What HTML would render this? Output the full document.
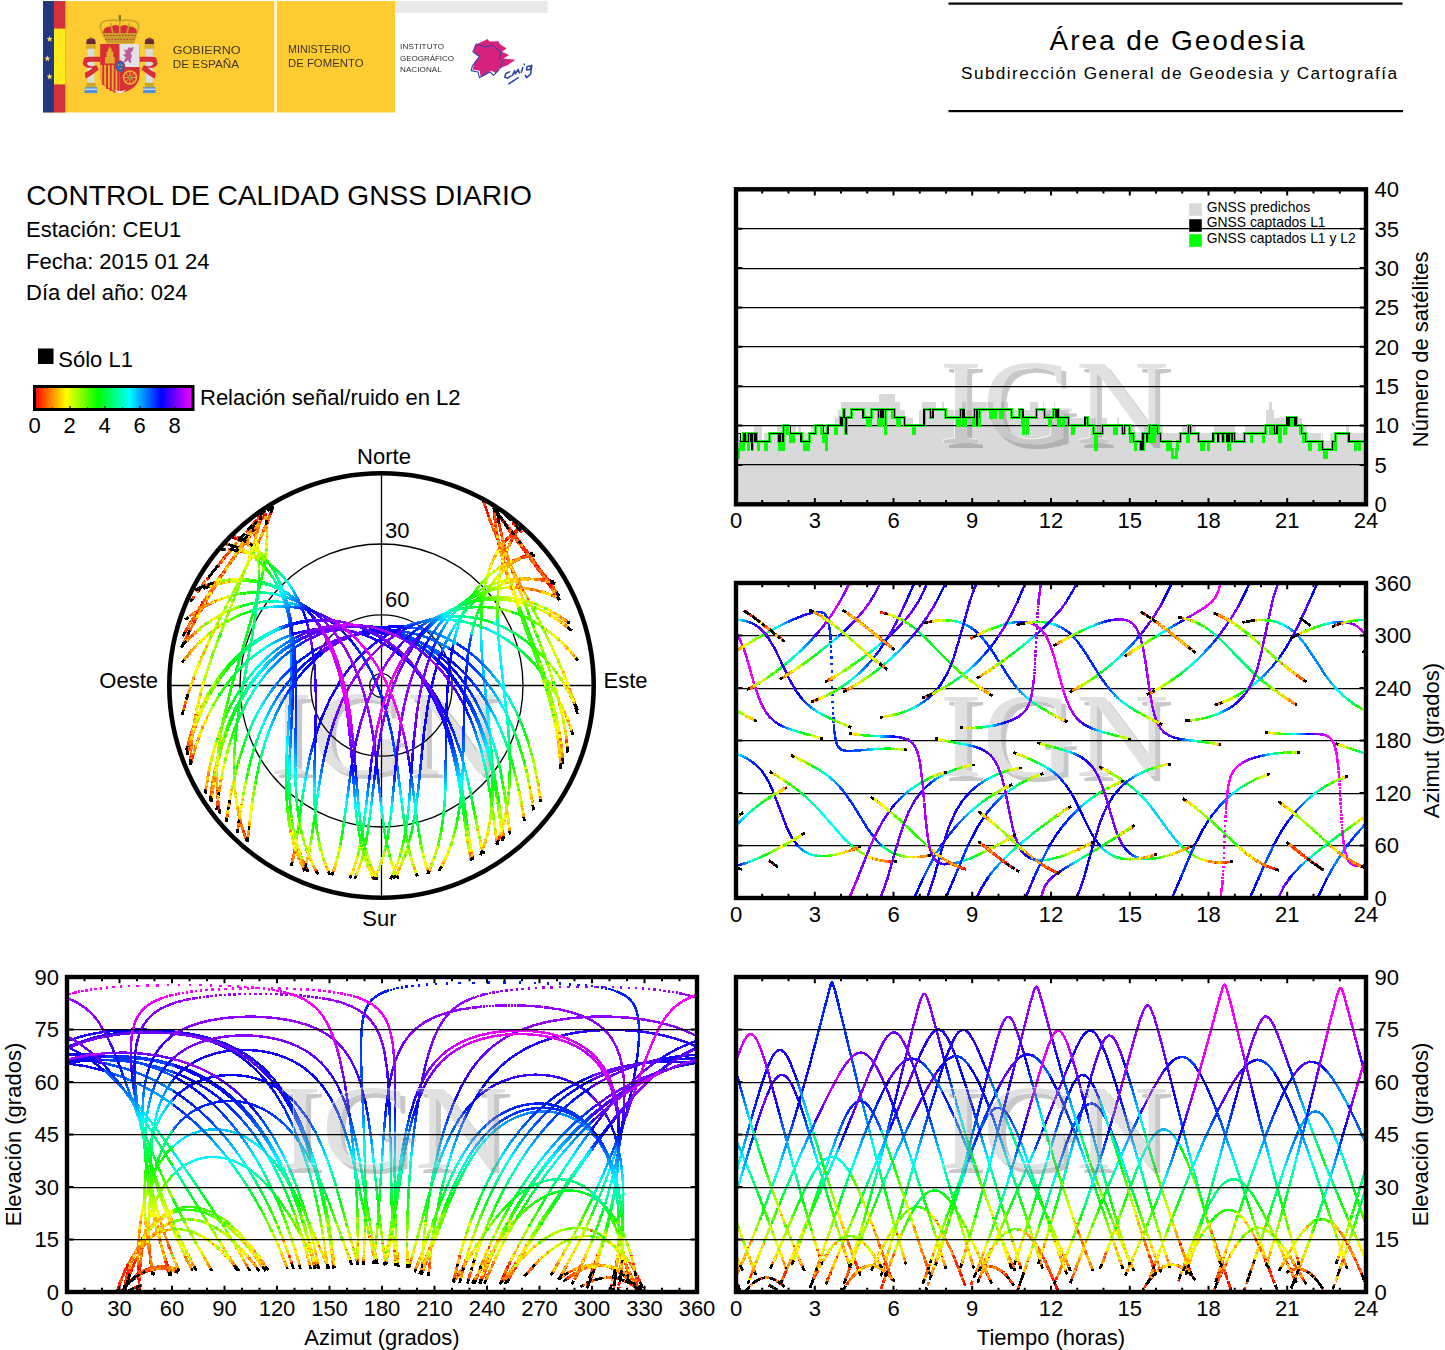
<!DOCTYPE html><html><head><meta charset="utf-8"><title>CONTROL DE CALIDAD GNSS DIARIO</title>
<style>html,body{margin:0;padding:0;background:#fff}svg{display:block}text{font-family:"Liberation Sans",sans-serif;fill:#000}.ser{font-family:"Liberation Serif",serif}</style></head><body>
<svg width="1445" height="1350" viewBox="0 0 1445 1350">
<rect width="1445" height="1350" fill="#fff"/>
<defs>
<clipPath id="cp1"><rect x="736" y="189.3" width="630" height="315"/></clipPath>
<clipPath id="cp2"><rect x="736" y="583" width="630" height="315"/></clipPath>
<clipPath id="cp3"><rect x="67" y="977" width="630" height="315"/></clipPath>
<clipPath id="cp4"><rect x="736" y="977" width="630" height="315"/></clipPath>
<clipPath id="csky"><circle cx="381.5" cy="685.5" r="212.2"/></clipPath>
<linearGradient id="gp30" gradientUnits="userSpaceOnUse" x1="0" y1="977" x2="0" y2="1292"><stop offset="0.0000" stop-color="#0015ff"/><stop offset="0.0222" stop-color="#0018ff"/><stop offset="0.0444" stop-color="#001bff"/><stop offset="0.0667" stop-color="#001eff"/><stop offset="0.0889" stop-color="#0021ff"/><stop offset="0.1111" stop-color="#0023ff"/><stop offset="0.1333" stop-color="#0028ff"/><stop offset="0.1556" stop-color="#002cff"/><stop offset="0.1778" stop-color="#0030ff"/><stop offset="0.2000" stop-color="#0034ff"/><stop offset="0.2222" stop-color="#0039ff"/><stop offset="0.2444" stop-color="#003eff"/><stop offset="0.2667" stop-color="#0044ff"/><stop offset="0.2889" stop-color="#004aff"/><stop offset="0.3111" stop-color="#004fff"/><stop offset="0.3333" stop-color="#0055ff"/><stop offset="0.3556" stop-color="#005eff"/><stop offset="0.3778" stop-color="#0066ff"/><stop offset="0.4000" stop-color="#0071ff"/><stop offset="0.4222" stop-color="#0080ff"/><stop offset="0.4444" stop-color="#008eff"/><stop offset="0.4667" stop-color="#00aaff"/><stop offset="0.4889" stop-color="#00c6ff"/><stop offset="0.5111" stop-color="#00e3ff"/><stop offset="0.5333" stop-color="#00fffe"/><stop offset="0.5556" stop-color="#00ffe1"/><stop offset="0.5778" stop-color="#00ffbe"/><stop offset="0.6000" stop-color="#00ff9b"/><stop offset="0.6222" stop-color="#00ff78"/><stop offset="0.6444" stop-color="#00ff55"/><stop offset="0.6667" stop-color="#00ff33"/><stop offset="0.6889" stop-color="#00ff10"/><stop offset="0.7111" stop-color="#13ff00"/><stop offset="0.7333" stop-color="#39ff00"/><stop offset="0.7556" stop-color="#61ff00"/><stop offset="0.7778" stop-color="#8aff00"/><stop offset="0.8000" stop-color="#acff00"/><stop offset="0.8222" stop-color="#cfff00"/><stop offset="0.8444" stop-color="#f2ff00"/><stop offset="0.8667" stop-color="#ffe900"/><stop offset="0.8889" stop-color="#ffc600"/><stop offset="0.9111" stop-color="#ff8e00"/><stop offset="0.9333" stop-color="#ff6800"/><stop offset="0.9556" stop-color="#ff4a00"/><stop offset="0.9778" stop-color="#ff3300"/><stop offset="1.0000" stop-color="#ff1c00"/></linearGradient>
<linearGradient id="gp40" gradientUnits="userSpaceOnUse" x1="0" y1="977" x2="0" y2="1292"><stop offset="0.0000" stop-color="#0015ff"/><stop offset="0.0222" stop-color="#0018ff"/><stop offset="0.0444" stop-color="#001bff"/><stop offset="0.0667" stop-color="#001eff"/><stop offset="0.0889" stop-color="#0021ff"/><stop offset="0.1111" stop-color="#0023ff"/><stop offset="0.1333" stop-color="#0028ff"/><stop offset="0.1556" stop-color="#002cff"/><stop offset="0.1778" stop-color="#0030ff"/><stop offset="0.2000" stop-color="#0034ff"/><stop offset="0.2222" stop-color="#0039ff"/><stop offset="0.2444" stop-color="#003eff"/><stop offset="0.2667" stop-color="#0044ff"/><stop offset="0.2889" stop-color="#004aff"/><stop offset="0.3111" stop-color="#004fff"/><stop offset="0.3333" stop-color="#0055ff"/><stop offset="0.3556" stop-color="#005eff"/><stop offset="0.3778" stop-color="#0066ff"/><stop offset="0.4000" stop-color="#0071ff"/><stop offset="0.4222" stop-color="#0080ff"/><stop offset="0.4444" stop-color="#008eff"/><stop offset="0.4667" stop-color="#00aaff"/><stop offset="0.4889" stop-color="#00c6ff"/><stop offset="0.5111" stop-color="#00e3ff"/><stop offset="0.5333" stop-color="#00fffe"/><stop offset="0.5556" stop-color="#00ffe1"/><stop offset="0.5778" stop-color="#00ffbe"/><stop offset="0.6000" stop-color="#00ff9b"/><stop offset="0.6222" stop-color="#00ff78"/><stop offset="0.6444" stop-color="#00ff55"/><stop offset="0.6667" stop-color="#00ff33"/><stop offset="0.6889" stop-color="#00ff10"/><stop offset="0.7111" stop-color="#13ff00"/><stop offset="0.7333" stop-color="#39ff00"/><stop offset="0.7556" stop-color="#61ff00"/><stop offset="0.7778" stop-color="#8aff00"/><stop offset="0.8000" stop-color="#acff00"/><stop offset="0.8222" stop-color="#cfff00"/><stop offset="0.8444" stop-color="#f2ff00"/><stop offset="0.8667" stop-color="#ffe900"/><stop offset="0.8889" stop-color="#ffc600"/><stop offset="0.9111" stop-color="#ff8e00"/><stop offset="0.9333" stop-color="#ff6800"/><stop offset="0.9556" stop-color="#ff4a00"/><stop offset="0.9778" stop-color="#ff3300"/><stop offset="1.0000" stop-color="#ff1c00"/></linearGradient>
<radialGradient id="gsky0" gradientUnits="userSpaceOnUse" cx="381.5" cy="685.5" r="212.2"><stop offset="0.0000" stop-color="#0015ff"/><stop offset="0.0222" stop-color="#0018ff"/><stop offset="0.0444" stop-color="#001bff"/><stop offset="0.0667" stop-color="#001eff"/><stop offset="0.0889" stop-color="#0021ff"/><stop offset="0.1111" stop-color="#0023ff"/><stop offset="0.1333" stop-color="#0028ff"/><stop offset="0.1556" stop-color="#002cff"/><stop offset="0.1778" stop-color="#0030ff"/><stop offset="0.2000" stop-color="#0034ff"/><stop offset="0.2222" stop-color="#0039ff"/><stop offset="0.2444" stop-color="#003eff"/><stop offset="0.2667" stop-color="#0044ff"/><stop offset="0.2889" stop-color="#004aff"/><stop offset="0.3111" stop-color="#004fff"/><stop offset="0.3333" stop-color="#0055ff"/><stop offset="0.3556" stop-color="#005eff"/><stop offset="0.3778" stop-color="#0066ff"/><stop offset="0.4000" stop-color="#0071ff"/><stop offset="0.4222" stop-color="#0080ff"/><stop offset="0.4444" stop-color="#008eff"/><stop offset="0.4667" stop-color="#00aaff"/><stop offset="0.4889" stop-color="#00c6ff"/><stop offset="0.5111" stop-color="#00e3ff"/><stop offset="0.5333" stop-color="#00fffe"/><stop offset="0.5556" stop-color="#00ffe1"/><stop offset="0.5778" stop-color="#00ffbe"/><stop offset="0.6000" stop-color="#00ff9b"/><stop offset="0.6222" stop-color="#00ff78"/><stop offset="0.6444" stop-color="#00ff55"/><stop offset="0.6667" stop-color="#00ff33"/><stop offset="0.6889" stop-color="#00ff10"/><stop offset="0.7111" stop-color="#13ff00"/><stop offset="0.7333" stop-color="#39ff00"/><stop offset="0.7556" stop-color="#61ff00"/><stop offset="0.7778" stop-color="#8aff00"/><stop offset="0.8000" stop-color="#acff00"/><stop offset="0.8222" stop-color="#cfff00"/><stop offset="0.8444" stop-color="#f2ff00"/><stop offset="0.8667" stop-color="#ffe900"/><stop offset="0.8889" stop-color="#ffc600"/><stop offset="0.9111" stop-color="#ff8e00"/><stop offset="0.9333" stop-color="#ff6800"/><stop offset="0.9556" stop-color="#ff4a00"/><stop offset="0.9778" stop-color="#ff3300"/><stop offset="1.0000" stop-color="#ff1c00"/></radialGradient>
<linearGradient id="gp31" gradientUnits="userSpaceOnUse" x1="0" y1="977" x2="0" y2="1292"><stop offset="0.0000" stop-color="#0015ff"/><stop offset="0.0222" stop-color="#001cff"/><stop offset="0.0444" stop-color="#0022ff"/><stop offset="0.0667" stop-color="#0029ff"/><stop offset="0.0889" stop-color="#0030ff"/><stop offset="0.1111" stop-color="#0036ff"/><stop offset="0.1333" stop-color="#003eff"/><stop offset="0.1556" stop-color="#0046ff"/><stop offset="0.1778" stop-color="#0052ff"/><stop offset="0.2000" stop-color="#0062ff"/><stop offset="0.2222" stop-color="#0071ff"/><stop offset="0.2444" stop-color="#0082ff"/><stop offset="0.2667" stop-color="#0093ff"/><stop offset="0.2889" stop-color="#00a4ff"/><stop offset="0.3111" stop-color="#00b5ff"/><stop offset="0.3333" stop-color="#00c6ff"/><stop offset="0.3556" stop-color="#00deff"/><stop offset="0.3778" stop-color="#00f6ff"/><stop offset="0.4000" stop-color="#00ffee"/><stop offset="0.4222" stop-color="#00ffd1"/><stop offset="0.4444" stop-color="#00ffb3"/><stop offset="0.4667" stop-color="#00ff88"/><stop offset="0.4889" stop-color="#00ff5d"/><stop offset="0.5111" stop-color="#00ff39"/><stop offset="0.5333" stop-color="#00ff1e"/><stop offset="0.5556" stop-color="#00ff03"/><stop offset="0.5778" stop-color="#1eff00"/><stop offset="0.6000" stop-color="#3fff00"/><stop offset="0.6222" stop-color="#60ff00"/><stop offset="0.6444" stop-color="#81ff00"/><stop offset="0.6667" stop-color="#a2ff00"/><stop offset="0.6889" stop-color="#bdff00"/><stop offset="0.7111" stop-color="#d8ff00"/><stop offset="0.7333" stop-color="#f7ff00"/><stop offset="0.7556" stop-color="#ffe700"/><stop offset="0.7778" stop-color="#ffc600"/><stop offset="0.8000" stop-color="#ffaa00"/><stop offset="0.8222" stop-color="#ff8f00"/><stop offset="0.8444" stop-color="#ff7a00"/><stop offset="0.8667" stop-color="#ff6c00"/><stop offset="0.8889" stop-color="#ff5d00"/><stop offset="0.9111" stop-color="#ff3900"/><stop offset="0.9333" stop-color="#ff1e00"/><stop offset="0.9556" stop-color="#ff0a00"/><stop offset="0.9778" stop-color="#ff0000"/><stop offset="1.0000" stop-color="#ff0000"/></linearGradient>
<linearGradient id="gp41" gradientUnits="userSpaceOnUse" x1="0" y1="977" x2="0" y2="1292"><stop offset="0.0000" stop-color="#0015ff"/><stop offset="0.0222" stop-color="#001cff"/><stop offset="0.0444" stop-color="#0022ff"/><stop offset="0.0667" stop-color="#0029ff"/><stop offset="0.0889" stop-color="#0030ff"/><stop offset="0.1111" stop-color="#0036ff"/><stop offset="0.1333" stop-color="#003eff"/><stop offset="0.1556" stop-color="#0046ff"/><stop offset="0.1778" stop-color="#0052ff"/><stop offset="0.2000" stop-color="#0062ff"/><stop offset="0.2222" stop-color="#0071ff"/><stop offset="0.2444" stop-color="#0082ff"/><stop offset="0.2667" stop-color="#0093ff"/><stop offset="0.2889" stop-color="#00a4ff"/><stop offset="0.3111" stop-color="#00b5ff"/><stop offset="0.3333" stop-color="#00c6ff"/><stop offset="0.3556" stop-color="#00deff"/><stop offset="0.3778" stop-color="#00f6ff"/><stop offset="0.4000" stop-color="#00ffee"/><stop offset="0.4222" stop-color="#00ffd1"/><stop offset="0.4444" stop-color="#00ffb3"/><stop offset="0.4667" stop-color="#00ff88"/><stop offset="0.4889" stop-color="#00ff5d"/><stop offset="0.5111" stop-color="#00ff39"/><stop offset="0.5333" stop-color="#00ff1e"/><stop offset="0.5556" stop-color="#00ff03"/><stop offset="0.5778" stop-color="#1eff00"/><stop offset="0.6000" stop-color="#3fff00"/><stop offset="0.6222" stop-color="#60ff00"/><stop offset="0.6444" stop-color="#81ff00"/><stop offset="0.6667" stop-color="#a2ff00"/><stop offset="0.6889" stop-color="#bdff00"/><stop offset="0.7111" stop-color="#d8ff00"/><stop offset="0.7333" stop-color="#f7ff00"/><stop offset="0.7556" stop-color="#ffe700"/><stop offset="0.7778" stop-color="#ffc600"/><stop offset="0.8000" stop-color="#ffaa00"/><stop offset="0.8222" stop-color="#ff8f00"/><stop offset="0.8444" stop-color="#ff7a00"/><stop offset="0.8667" stop-color="#ff6c00"/><stop offset="0.8889" stop-color="#ff5d00"/><stop offset="0.9111" stop-color="#ff3900"/><stop offset="0.9333" stop-color="#ff1e00"/><stop offset="0.9556" stop-color="#ff0a00"/><stop offset="0.9778" stop-color="#ff0000"/><stop offset="1.0000" stop-color="#ff0000"/></linearGradient>
<radialGradient id="gsky1" gradientUnits="userSpaceOnUse" cx="381.5" cy="685.5" r="212.2"><stop offset="0.0000" stop-color="#0015ff"/><stop offset="0.0222" stop-color="#001cff"/><stop offset="0.0444" stop-color="#0022ff"/><stop offset="0.0667" stop-color="#0029ff"/><stop offset="0.0889" stop-color="#0030ff"/><stop offset="0.1111" stop-color="#0036ff"/><stop offset="0.1333" stop-color="#003eff"/><stop offset="0.1556" stop-color="#0046ff"/><stop offset="0.1778" stop-color="#0052ff"/><stop offset="0.2000" stop-color="#0062ff"/><stop offset="0.2222" stop-color="#0071ff"/><stop offset="0.2444" stop-color="#0082ff"/><stop offset="0.2667" stop-color="#0093ff"/><stop offset="0.2889" stop-color="#00a4ff"/><stop offset="0.3111" stop-color="#00b5ff"/><stop offset="0.3333" stop-color="#00c6ff"/><stop offset="0.3556" stop-color="#00deff"/><stop offset="0.3778" stop-color="#00f6ff"/><stop offset="0.4000" stop-color="#00ffee"/><stop offset="0.4222" stop-color="#00ffd1"/><stop offset="0.4444" stop-color="#00ffb3"/><stop offset="0.4667" stop-color="#00ff88"/><stop offset="0.4889" stop-color="#00ff5d"/><stop offset="0.5111" stop-color="#00ff39"/><stop offset="0.5333" stop-color="#00ff1e"/><stop offset="0.5556" stop-color="#00ff03"/><stop offset="0.5778" stop-color="#1eff00"/><stop offset="0.6000" stop-color="#3fff00"/><stop offset="0.6222" stop-color="#60ff00"/><stop offset="0.6444" stop-color="#81ff00"/><stop offset="0.6667" stop-color="#a2ff00"/><stop offset="0.6889" stop-color="#bdff00"/><stop offset="0.7111" stop-color="#d8ff00"/><stop offset="0.7333" stop-color="#f7ff00"/><stop offset="0.7556" stop-color="#ffe700"/><stop offset="0.7778" stop-color="#ffc600"/><stop offset="0.8000" stop-color="#ffaa00"/><stop offset="0.8222" stop-color="#ff8f00"/><stop offset="0.8444" stop-color="#ff7a00"/><stop offset="0.8667" stop-color="#ff6c00"/><stop offset="0.8889" stop-color="#ff5d00"/><stop offset="0.9111" stop-color="#ff3900"/><stop offset="0.9333" stop-color="#ff1e00"/><stop offset="0.9556" stop-color="#ff0a00"/><stop offset="0.9778" stop-color="#ff0000"/><stop offset="1.0000" stop-color="#ff0000"/></radialGradient>
<linearGradient id="gp32" gradientUnits="userSpaceOnUse" x1="0" y1="977" x2="0" y2="1292"><stop offset="0.0000" stop-color="#0015ff"/><stop offset="0.0222" stop-color="#0018ff"/><stop offset="0.0444" stop-color="#001bff"/><stop offset="0.0667" stop-color="#001eff"/><stop offset="0.0889" stop-color="#0021ff"/><stop offset="0.1111" stop-color="#0023ff"/><stop offset="0.1333" stop-color="#0028ff"/><stop offset="0.1556" stop-color="#002cff"/><stop offset="0.1778" stop-color="#0029ff"/><stop offset="0.2000" stop-color="#001eff"/><stop offset="0.2222" stop-color="#0013ff"/><stop offset="0.2444" stop-color="#0009ff"/><stop offset="0.2667" stop-color="#0000ff"/><stop offset="0.2889" stop-color="#0900ff"/><stop offset="0.3111" stop-color="#1300ff"/><stop offset="0.3333" stop-color="#1c00ff"/><stop offset="0.3556" stop-color="#1400ff"/><stop offset="0.3778" stop-color="#0b00ff"/><stop offset="0.4000" stop-color="#0000ff"/><stop offset="0.4222" stop-color="#000eff"/><stop offset="0.4444" stop-color="#001cff"/><stop offset="0.4667" stop-color="#0039ff"/><stop offset="0.4889" stop-color="#0055ff"/><stop offset="0.5111" stop-color="#0072ff"/><stop offset="0.5333" stop-color="#008fff"/><stop offset="0.5556" stop-color="#00acff"/><stop offset="0.5778" stop-color="#00cfff"/><stop offset="0.6000" stop-color="#00f2ff"/><stop offset="0.6222" stop-color="#00ffea"/><stop offset="0.6444" stop-color="#00ffc7"/><stop offset="0.6667" stop-color="#00ffa4"/><stop offset="0.6889" stop-color="#00ff81"/><stop offset="0.7111" stop-color="#00ff5e"/><stop offset="0.7333" stop-color="#00ff31"/><stop offset="0.7556" stop-color="#06ff00"/><stop offset="0.7778" stop-color="#3eff00"/><stop offset="0.8000" stop-color="#70ff00"/><stop offset="0.8222" stop-color="#a2ff00"/><stop offset="0.8444" stop-color="#d4ff00"/><stop offset="0.8667" stop-color="#fff800"/><stop offset="0.8889" stop-color="#ffc600"/><stop offset="0.9111" stop-color="#ff8e00"/><stop offset="0.9333" stop-color="#ff6800"/><stop offset="0.9556" stop-color="#ff4a00"/><stop offset="0.9778" stop-color="#ff3300"/><stop offset="1.0000" stop-color="#ff1c00"/></linearGradient>
<linearGradient id="gp42" gradientUnits="userSpaceOnUse" x1="0" y1="977" x2="0" y2="1292"><stop offset="0.0000" stop-color="#0015ff"/><stop offset="0.0222" stop-color="#0018ff"/><stop offset="0.0444" stop-color="#001bff"/><stop offset="0.0667" stop-color="#001eff"/><stop offset="0.0889" stop-color="#0021ff"/><stop offset="0.1111" stop-color="#0023ff"/><stop offset="0.1333" stop-color="#0028ff"/><stop offset="0.1556" stop-color="#002cff"/><stop offset="0.1778" stop-color="#0029ff"/><stop offset="0.2000" stop-color="#001eff"/><stop offset="0.2222" stop-color="#0013ff"/><stop offset="0.2444" stop-color="#0009ff"/><stop offset="0.2667" stop-color="#0000ff"/><stop offset="0.2889" stop-color="#0900ff"/><stop offset="0.3111" stop-color="#1300ff"/><stop offset="0.3333" stop-color="#1c00ff"/><stop offset="0.3556" stop-color="#1400ff"/><stop offset="0.3778" stop-color="#0b00ff"/><stop offset="0.4000" stop-color="#0000ff"/><stop offset="0.4222" stop-color="#000eff"/><stop offset="0.4444" stop-color="#001cff"/><stop offset="0.4667" stop-color="#0039ff"/><stop offset="0.4889" stop-color="#0055ff"/><stop offset="0.5111" stop-color="#0072ff"/><stop offset="0.5333" stop-color="#008fff"/><stop offset="0.5556" stop-color="#00acff"/><stop offset="0.5778" stop-color="#00cfff"/><stop offset="0.6000" stop-color="#00f2ff"/><stop offset="0.6222" stop-color="#00ffea"/><stop offset="0.6444" stop-color="#00ffc7"/><stop offset="0.6667" stop-color="#00ffa4"/><stop offset="0.6889" stop-color="#00ff81"/><stop offset="0.7111" stop-color="#00ff5e"/><stop offset="0.7333" stop-color="#00ff31"/><stop offset="0.7556" stop-color="#06ff00"/><stop offset="0.7778" stop-color="#3eff00"/><stop offset="0.8000" stop-color="#70ff00"/><stop offset="0.8222" stop-color="#a2ff00"/><stop offset="0.8444" stop-color="#d4ff00"/><stop offset="0.8667" stop-color="#fff800"/><stop offset="0.8889" stop-color="#ffc600"/><stop offset="0.9111" stop-color="#ff8e00"/><stop offset="0.9333" stop-color="#ff6800"/><stop offset="0.9556" stop-color="#ff4a00"/><stop offset="0.9778" stop-color="#ff3300"/><stop offset="1.0000" stop-color="#ff1c00"/></linearGradient>
<radialGradient id="gsky2" gradientUnits="userSpaceOnUse" cx="381.5" cy="685.5" r="212.2"><stop offset="0.0000" stop-color="#0015ff"/><stop offset="0.0222" stop-color="#0018ff"/><stop offset="0.0444" stop-color="#001bff"/><stop offset="0.0667" stop-color="#001eff"/><stop offset="0.0889" stop-color="#0021ff"/><stop offset="0.1111" stop-color="#0023ff"/><stop offset="0.1333" stop-color="#0028ff"/><stop offset="0.1556" stop-color="#002cff"/><stop offset="0.1778" stop-color="#0029ff"/><stop offset="0.2000" stop-color="#001eff"/><stop offset="0.2222" stop-color="#0013ff"/><stop offset="0.2444" stop-color="#0009ff"/><stop offset="0.2667" stop-color="#0000ff"/><stop offset="0.2889" stop-color="#0900ff"/><stop offset="0.3111" stop-color="#1300ff"/><stop offset="0.3333" stop-color="#1c00ff"/><stop offset="0.3556" stop-color="#1400ff"/><stop offset="0.3778" stop-color="#0b00ff"/><stop offset="0.4000" stop-color="#0000ff"/><stop offset="0.4222" stop-color="#000eff"/><stop offset="0.4444" stop-color="#001cff"/><stop offset="0.4667" stop-color="#0039ff"/><stop offset="0.4889" stop-color="#0055ff"/><stop offset="0.5111" stop-color="#0072ff"/><stop offset="0.5333" stop-color="#008fff"/><stop offset="0.5556" stop-color="#00acff"/><stop offset="0.5778" stop-color="#00cfff"/><stop offset="0.6000" stop-color="#00f2ff"/><stop offset="0.6222" stop-color="#00ffea"/><stop offset="0.6444" stop-color="#00ffc7"/><stop offset="0.6667" stop-color="#00ffa4"/><stop offset="0.6889" stop-color="#00ff81"/><stop offset="0.7111" stop-color="#00ff5e"/><stop offset="0.7333" stop-color="#00ff31"/><stop offset="0.7556" stop-color="#06ff00"/><stop offset="0.7778" stop-color="#3eff00"/><stop offset="0.8000" stop-color="#70ff00"/><stop offset="0.8222" stop-color="#a2ff00"/><stop offset="0.8444" stop-color="#d4ff00"/><stop offset="0.8667" stop-color="#fff800"/><stop offset="0.8889" stop-color="#ffc600"/><stop offset="0.9111" stop-color="#ff8e00"/><stop offset="0.9333" stop-color="#ff6800"/><stop offset="0.9556" stop-color="#ff4a00"/><stop offset="0.9778" stop-color="#ff3300"/><stop offset="1.0000" stop-color="#ff1c00"/></radialGradient>
<linearGradient id="gp33" gradientUnits="userSpaceOnUse" x1="0" y1="977" x2="0" y2="1292"><stop offset="0.0000" stop-color="#4000ff"/><stop offset="0.0222" stop-color="#3d00ff"/><stop offset="0.0444" stop-color="#3a00ff"/><stop offset="0.0667" stop-color="#3700ff"/><stop offset="0.0889" stop-color="#3400ff"/><stop offset="0.1111" stop-color="#3200ff"/><stop offset="0.1333" stop-color="#2d00ff"/><stop offset="0.1556" stop-color="#2900ff"/><stop offset="0.1778" stop-color="#2500ff"/><stop offset="0.2000" stop-color="#2100ff"/><stop offset="0.2222" stop-color="#1c00ff"/><stop offset="0.2444" stop-color="#1700ff"/><stop offset="0.2667" stop-color="#1100ff"/><stop offset="0.2889" stop-color="#0b00ff"/><stop offset="0.3111" stop-color="#0600ff"/><stop offset="0.3333" stop-color="#0000ff"/><stop offset="0.3556" stop-color="#0008ff"/><stop offset="0.3778" stop-color="#0011ff"/><stop offset="0.4000" stop-color="#001cff"/><stop offset="0.4222" stop-color="#002bff"/><stop offset="0.4444" stop-color="#0039ff"/><stop offset="0.4667" stop-color="#0055ff"/><stop offset="0.4889" stop-color="#0071ff"/><stop offset="0.5111" stop-color="#0091ff"/><stop offset="0.5333" stop-color="#00b2ff"/><stop offset="0.5556" stop-color="#00d4ff"/><stop offset="0.5778" stop-color="#00fcff"/><stop offset="0.6000" stop-color="#00ffda"/><stop offset="0.6222" stop-color="#00ffb3"/><stop offset="0.6444" stop-color="#00ff8b"/><stop offset="0.6667" stop-color="#00ff63"/><stop offset="0.6889" stop-color="#00ff3b"/><stop offset="0.7111" stop-color="#00ff14"/><stop offset="0.7333" stop-color="#17ff00"/><stop offset="0.7556" stop-color="#44ff00"/><stop offset="0.7778" stop-color="#71ff00"/><stop offset="0.8000" stop-color="#99ff00"/><stop offset="0.8222" stop-color="#c1ff00"/><stop offset="0.8444" stop-color="#e8ff00"/><stop offset="0.8667" stop-color="#ffee00"/><stop offset="0.8889" stop-color="#ffc600"/><stop offset="0.9111" stop-color="#ff8e00"/><stop offset="0.9333" stop-color="#ff6800"/><stop offset="0.9556" stop-color="#ff4a00"/><stop offset="0.9778" stop-color="#ff3300"/><stop offset="1.0000" stop-color="#ff1c00"/></linearGradient>
<linearGradient id="gp43" gradientUnits="userSpaceOnUse" x1="0" y1="977" x2="0" y2="1292"><stop offset="0.0000" stop-color="#4000ff"/><stop offset="0.0222" stop-color="#3d00ff"/><stop offset="0.0444" stop-color="#3a00ff"/><stop offset="0.0667" stop-color="#3700ff"/><stop offset="0.0889" stop-color="#3400ff"/><stop offset="0.1111" stop-color="#3200ff"/><stop offset="0.1333" stop-color="#2d00ff"/><stop offset="0.1556" stop-color="#2900ff"/><stop offset="0.1778" stop-color="#2500ff"/><stop offset="0.2000" stop-color="#2100ff"/><stop offset="0.2222" stop-color="#1c00ff"/><stop offset="0.2444" stop-color="#1700ff"/><stop offset="0.2667" stop-color="#1100ff"/><stop offset="0.2889" stop-color="#0b00ff"/><stop offset="0.3111" stop-color="#0600ff"/><stop offset="0.3333" stop-color="#0000ff"/><stop offset="0.3556" stop-color="#0008ff"/><stop offset="0.3778" stop-color="#0011ff"/><stop offset="0.4000" stop-color="#001cff"/><stop offset="0.4222" stop-color="#002bff"/><stop offset="0.4444" stop-color="#0039ff"/><stop offset="0.4667" stop-color="#0055ff"/><stop offset="0.4889" stop-color="#0071ff"/><stop offset="0.5111" stop-color="#0091ff"/><stop offset="0.5333" stop-color="#00b2ff"/><stop offset="0.5556" stop-color="#00d4ff"/><stop offset="0.5778" stop-color="#00fcff"/><stop offset="0.6000" stop-color="#00ffda"/><stop offset="0.6222" stop-color="#00ffb3"/><stop offset="0.6444" stop-color="#00ff8b"/><stop offset="0.6667" stop-color="#00ff63"/><stop offset="0.6889" stop-color="#00ff3b"/><stop offset="0.7111" stop-color="#00ff14"/><stop offset="0.7333" stop-color="#17ff00"/><stop offset="0.7556" stop-color="#44ff00"/><stop offset="0.7778" stop-color="#71ff00"/><stop offset="0.8000" stop-color="#99ff00"/><stop offset="0.8222" stop-color="#c1ff00"/><stop offset="0.8444" stop-color="#e8ff00"/><stop offset="0.8667" stop-color="#ffee00"/><stop offset="0.8889" stop-color="#ffc600"/><stop offset="0.9111" stop-color="#ff8e00"/><stop offset="0.9333" stop-color="#ff6800"/><stop offset="0.9556" stop-color="#ff4a00"/><stop offset="0.9778" stop-color="#ff3300"/><stop offset="1.0000" stop-color="#ff1c00"/></linearGradient>
<radialGradient id="gsky3" gradientUnits="userSpaceOnUse" cx="381.5" cy="685.5" r="212.2"><stop offset="0.0000" stop-color="#4000ff"/><stop offset="0.0222" stop-color="#3d00ff"/><stop offset="0.0444" stop-color="#3a00ff"/><stop offset="0.0667" stop-color="#3700ff"/><stop offset="0.0889" stop-color="#3400ff"/><stop offset="0.1111" stop-color="#3200ff"/><stop offset="0.1333" stop-color="#2d00ff"/><stop offset="0.1556" stop-color="#2900ff"/><stop offset="0.1778" stop-color="#2500ff"/><stop offset="0.2000" stop-color="#2100ff"/><stop offset="0.2222" stop-color="#1c00ff"/><stop offset="0.2444" stop-color="#1700ff"/><stop offset="0.2667" stop-color="#1100ff"/><stop offset="0.2889" stop-color="#0b00ff"/><stop offset="0.3111" stop-color="#0600ff"/><stop offset="0.3333" stop-color="#0000ff"/><stop offset="0.3556" stop-color="#0008ff"/><stop offset="0.3778" stop-color="#0011ff"/><stop offset="0.4000" stop-color="#001cff"/><stop offset="0.4222" stop-color="#002bff"/><stop offset="0.4444" stop-color="#0039ff"/><stop offset="0.4667" stop-color="#0055ff"/><stop offset="0.4889" stop-color="#0071ff"/><stop offset="0.5111" stop-color="#0091ff"/><stop offset="0.5333" stop-color="#00b2ff"/><stop offset="0.5556" stop-color="#00d4ff"/><stop offset="0.5778" stop-color="#00fcff"/><stop offset="0.6000" stop-color="#00ffda"/><stop offset="0.6222" stop-color="#00ffb3"/><stop offset="0.6444" stop-color="#00ff8b"/><stop offset="0.6667" stop-color="#00ff63"/><stop offset="0.6889" stop-color="#00ff3b"/><stop offset="0.7111" stop-color="#00ff14"/><stop offset="0.7333" stop-color="#17ff00"/><stop offset="0.7556" stop-color="#44ff00"/><stop offset="0.7778" stop-color="#71ff00"/><stop offset="0.8000" stop-color="#99ff00"/><stop offset="0.8222" stop-color="#c1ff00"/><stop offset="0.8444" stop-color="#e8ff00"/><stop offset="0.8667" stop-color="#ffee00"/><stop offset="0.8889" stop-color="#ffc600"/><stop offset="0.9111" stop-color="#ff8e00"/><stop offset="0.9333" stop-color="#ff6800"/><stop offset="0.9556" stop-color="#ff4a00"/><stop offset="0.9778" stop-color="#ff3300"/><stop offset="1.0000" stop-color="#ff1c00"/></radialGradient>
<linearGradient id="gp34" gradientUnits="userSpaceOnUse" x1="0" y1="977" x2="0" y2="1292"><stop offset="0.0000" stop-color="#4000ff"/><stop offset="0.0222" stop-color="#3900ff"/><stop offset="0.0444" stop-color="#3300ff"/><stop offset="0.0667" stop-color="#2c00ff"/><stop offset="0.0889" stop-color="#2500ff"/><stop offset="0.1111" stop-color="#1f00ff"/><stop offset="0.1333" stop-color="#1700ff"/><stop offset="0.1556" stop-color="#0f00ff"/><stop offset="0.1778" stop-color="#0300ff"/><stop offset="0.2000" stop-color="#000dff"/><stop offset="0.2222" stop-color="#001cff"/><stop offset="0.2444" stop-color="#002dff"/><stop offset="0.2667" stop-color="#003eff"/><stop offset="0.2889" stop-color="#004fff"/><stop offset="0.3111" stop-color="#0060ff"/><stop offset="0.3333" stop-color="#0071ff"/><stop offset="0.3556" stop-color="#0089ff"/><stop offset="0.3778" stop-color="#00a1ff"/><stop offset="0.4000" stop-color="#00bbff"/><stop offset="0.4222" stop-color="#00d8ff"/><stop offset="0.4444" stop-color="#00f6ff"/><stop offset="0.4667" stop-color="#00ffdd"/><stop offset="0.4889" stop-color="#00ffb2"/><stop offset="0.5111" stop-color="#00ff8c"/><stop offset="0.5333" stop-color="#00ff6c"/><stop offset="0.5556" stop-color="#00ff4c"/><stop offset="0.5778" stop-color="#00ff26"/><stop offset="0.6000" stop-color="#00ff00"/><stop offset="0.6222" stop-color="#26ff00"/><stop offset="0.6444" stop-color="#4cff00"/><stop offset="0.6667" stop-color="#71ff00"/><stop offset="0.6889" stop-color="#91ff00"/><stop offset="0.7111" stop-color="#b2ff00"/><stop offset="0.7333" stop-color="#d5ff00"/><stop offset="0.7556" stop-color="#faff00"/><stop offset="0.7778" stop-color="#ffde00"/><stop offset="0.8000" stop-color="#ffbe00"/><stop offset="0.8222" stop-color="#ff9e00"/><stop offset="0.8444" stop-color="#ff8400"/><stop offset="0.8667" stop-color="#ff7100"/><stop offset="0.8889" stop-color="#ff5d00"/><stop offset="0.9111" stop-color="#ff3900"/><stop offset="0.9333" stop-color="#ff1e00"/><stop offset="0.9556" stop-color="#ff0a00"/><stop offset="0.9778" stop-color="#ff0000"/><stop offset="1.0000" stop-color="#ff0000"/></linearGradient>
<linearGradient id="gp44" gradientUnits="userSpaceOnUse" x1="0" y1="977" x2="0" y2="1292"><stop offset="0.0000" stop-color="#4000ff"/><stop offset="0.0222" stop-color="#3900ff"/><stop offset="0.0444" stop-color="#3300ff"/><stop offset="0.0667" stop-color="#2c00ff"/><stop offset="0.0889" stop-color="#2500ff"/><stop offset="0.1111" stop-color="#1f00ff"/><stop offset="0.1333" stop-color="#1700ff"/><stop offset="0.1556" stop-color="#0f00ff"/><stop offset="0.1778" stop-color="#0300ff"/><stop offset="0.2000" stop-color="#000dff"/><stop offset="0.2222" stop-color="#001cff"/><stop offset="0.2444" stop-color="#002dff"/><stop offset="0.2667" stop-color="#003eff"/><stop offset="0.2889" stop-color="#004fff"/><stop offset="0.3111" stop-color="#0060ff"/><stop offset="0.3333" stop-color="#0071ff"/><stop offset="0.3556" stop-color="#0089ff"/><stop offset="0.3778" stop-color="#00a1ff"/><stop offset="0.4000" stop-color="#00bbff"/><stop offset="0.4222" stop-color="#00d8ff"/><stop offset="0.4444" stop-color="#00f6ff"/><stop offset="0.4667" stop-color="#00ffdd"/><stop offset="0.4889" stop-color="#00ffb2"/><stop offset="0.5111" stop-color="#00ff8c"/><stop offset="0.5333" stop-color="#00ff6c"/><stop offset="0.5556" stop-color="#00ff4c"/><stop offset="0.5778" stop-color="#00ff26"/><stop offset="0.6000" stop-color="#00ff00"/><stop offset="0.6222" stop-color="#26ff00"/><stop offset="0.6444" stop-color="#4cff00"/><stop offset="0.6667" stop-color="#71ff00"/><stop offset="0.6889" stop-color="#91ff00"/><stop offset="0.7111" stop-color="#b2ff00"/><stop offset="0.7333" stop-color="#d5ff00"/><stop offset="0.7556" stop-color="#faff00"/><stop offset="0.7778" stop-color="#ffde00"/><stop offset="0.8000" stop-color="#ffbe00"/><stop offset="0.8222" stop-color="#ff9e00"/><stop offset="0.8444" stop-color="#ff8400"/><stop offset="0.8667" stop-color="#ff7100"/><stop offset="0.8889" stop-color="#ff5d00"/><stop offset="0.9111" stop-color="#ff3900"/><stop offset="0.9333" stop-color="#ff1e00"/><stop offset="0.9556" stop-color="#ff0a00"/><stop offset="0.9778" stop-color="#ff0000"/><stop offset="1.0000" stop-color="#ff0000"/></linearGradient>
<radialGradient id="gsky4" gradientUnits="userSpaceOnUse" cx="381.5" cy="685.5" r="212.2"><stop offset="0.0000" stop-color="#4000ff"/><stop offset="0.0222" stop-color="#3900ff"/><stop offset="0.0444" stop-color="#3300ff"/><stop offset="0.0667" stop-color="#2c00ff"/><stop offset="0.0889" stop-color="#2500ff"/><stop offset="0.1111" stop-color="#1f00ff"/><stop offset="0.1333" stop-color="#1700ff"/><stop offset="0.1556" stop-color="#0f00ff"/><stop offset="0.1778" stop-color="#0300ff"/><stop offset="0.2000" stop-color="#000dff"/><stop offset="0.2222" stop-color="#001cff"/><stop offset="0.2444" stop-color="#002dff"/><stop offset="0.2667" stop-color="#003eff"/><stop offset="0.2889" stop-color="#004fff"/><stop offset="0.3111" stop-color="#0060ff"/><stop offset="0.3333" stop-color="#0071ff"/><stop offset="0.3556" stop-color="#0089ff"/><stop offset="0.3778" stop-color="#00a1ff"/><stop offset="0.4000" stop-color="#00bbff"/><stop offset="0.4222" stop-color="#00d8ff"/><stop offset="0.4444" stop-color="#00f6ff"/><stop offset="0.4667" stop-color="#00ffdd"/><stop offset="0.4889" stop-color="#00ffb2"/><stop offset="0.5111" stop-color="#00ff8c"/><stop offset="0.5333" stop-color="#00ff6c"/><stop offset="0.5556" stop-color="#00ff4c"/><stop offset="0.5778" stop-color="#00ff26"/><stop offset="0.6000" stop-color="#00ff00"/><stop offset="0.6222" stop-color="#26ff00"/><stop offset="0.6444" stop-color="#4cff00"/><stop offset="0.6667" stop-color="#71ff00"/><stop offset="0.6889" stop-color="#91ff00"/><stop offset="0.7111" stop-color="#b2ff00"/><stop offset="0.7333" stop-color="#d5ff00"/><stop offset="0.7556" stop-color="#faff00"/><stop offset="0.7778" stop-color="#ffde00"/><stop offset="0.8000" stop-color="#ffbe00"/><stop offset="0.8222" stop-color="#ff9e00"/><stop offset="0.8444" stop-color="#ff8400"/><stop offset="0.8667" stop-color="#ff7100"/><stop offset="0.8889" stop-color="#ff5d00"/><stop offset="0.9111" stop-color="#ff3900"/><stop offset="0.9333" stop-color="#ff1e00"/><stop offset="0.9556" stop-color="#ff0a00"/><stop offset="0.9778" stop-color="#ff0000"/><stop offset="1.0000" stop-color="#ff0000"/></radialGradient>
<linearGradient id="gp35" gradientUnits="userSpaceOnUse" x1="0" y1="977" x2="0" y2="1292"><stop offset="0.0000" stop-color="#4000ff"/><stop offset="0.0222" stop-color="#3d00ff"/><stop offset="0.0444" stop-color="#3a00ff"/><stop offset="0.0667" stop-color="#3700ff"/><stop offset="0.0889" stop-color="#3400ff"/><stop offset="0.1111" stop-color="#3200ff"/><stop offset="0.1333" stop-color="#2d00ff"/><stop offset="0.1556" stop-color="#2900ff"/><stop offset="0.1778" stop-color="#2c00ff"/><stop offset="0.2000" stop-color="#3700ff"/><stop offset="0.2222" stop-color="#4200ff"/><stop offset="0.2444" stop-color="#4c00ff"/><stop offset="0.2667" stop-color="#5500ff"/><stop offset="0.2889" stop-color="#5e00ff"/><stop offset="0.3111" stop-color="#6800ff"/><stop offset="0.3333" stop-color="#7100ff"/><stop offset="0.3556" stop-color="#6900ff"/><stop offset="0.3778" stop-color="#6000ff"/><stop offset="0.4000" stop-color="#5500ff"/><stop offset="0.4222" stop-color="#4700ff"/><stop offset="0.4444" stop-color="#3900ff"/><stop offset="0.4667" stop-color="#1c00ff"/><stop offset="0.4889" stop-color="#0000ff"/><stop offset="0.5111" stop-color="#001fff"/><stop offset="0.5333" stop-color="#0041ff"/><stop offset="0.5556" stop-color="#0063ff"/><stop offset="0.5778" stop-color="#008bff"/><stop offset="0.6000" stop-color="#00b3ff"/><stop offset="0.6222" stop-color="#00daff"/><stop offset="0.6444" stop-color="#00fffc"/><stop offset="0.6667" stop-color="#00ffd4"/><stop offset="0.6889" stop-color="#00ffad"/><stop offset="0.7111" stop-color="#00ff85"/><stop offset="0.7333" stop-color="#00ff53"/><stop offset="0.7556" stop-color="#00ff17"/><stop offset="0.7778" stop-color="#26ff00"/><stop offset="0.8000" stop-color="#5dff00"/><stop offset="0.8222" stop-color="#93ff00"/><stop offset="0.8444" stop-color="#caff00"/><stop offset="0.8667" stop-color="#fffd00"/><stop offset="0.8889" stop-color="#ffc600"/><stop offset="0.9111" stop-color="#ff8e00"/><stop offset="0.9333" stop-color="#ff6800"/><stop offset="0.9556" stop-color="#ff4a00"/><stop offset="0.9778" stop-color="#ff3300"/><stop offset="1.0000" stop-color="#ff1c00"/></linearGradient>
<linearGradient id="gp45" gradientUnits="userSpaceOnUse" x1="0" y1="977" x2="0" y2="1292"><stop offset="0.0000" stop-color="#4000ff"/><stop offset="0.0222" stop-color="#3d00ff"/><stop offset="0.0444" stop-color="#3a00ff"/><stop offset="0.0667" stop-color="#3700ff"/><stop offset="0.0889" stop-color="#3400ff"/><stop offset="0.1111" stop-color="#3200ff"/><stop offset="0.1333" stop-color="#2d00ff"/><stop offset="0.1556" stop-color="#2900ff"/><stop offset="0.1778" stop-color="#2c00ff"/><stop offset="0.2000" stop-color="#3700ff"/><stop offset="0.2222" stop-color="#4200ff"/><stop offset="0.2444" stop-color="#4c00ff"/><stop offset="0.2667" stop-color="#5500ff"/><stop offset="0.2889" stop-color="#5e00ff"/><stop offset="0.3111" stop-color="#6800ff"/><stop offset="0.3333" stop-color="#7100ff"/><stop offset="0.3556" stop-color="#6900ff"/><stop offset="0.3778" stop-color="#6000ff"/><stop offset="0.4000" stop-color="#5500ff"/><stop offset="0.4222" stop-color="#4700ff"/><stop offset="0.4444" stop-color="#3900ff"/><stop offset="0.4667" stop-color="#1c00ff"/><stop offset="0.4889" stop-color="#0000ff"/><stop offset="0.5111" stop-color="#001fff"/><stop offset="0.5333" stop-color="#0041ff"/><stop offset="0.5556" stop-color="#0063ff"/><stop offset="0.5778" stop-color="#008bff"/><stop offset="0.6000" stop-color="#00b3ff"/><stop offset="0.6222" stop-color="#00daff"/><stop offset="0.6444" stop-color="#00fffc"/><stop offset="0.6667" stop-color="#00ffd4"/><stop offset="0.6889" stop-color="#00ffad"/><stop offset="0.7111" stop-color="#00ff85"/><stop offset="0.7333" stop-color="#00ff53"/><stop offset="0.7556" stop-color="#00ff17"/><stop offset="0.7778" stop-color="#26ff00"/><stop offset="0.8000" stop-color="#5dff00"/><stop offset="0.8222" stop-color="#93ff00"/><stop offset="0.8444" stop-color="#caff00"/><stop offset="0.8667" stop-color="#fffd00"/><stop offset="0.8889" stop-color="#ffc600"/><stop offset="0.9111" stop-color="#ff8e00"/><stop offset="0.9333" stop-color="#ff6800"/><stop offset="0.9556" stop-color="#ff4a00"/><stop offset="0.9778" stop-color="#ff3300"/><stop offset="1.0000" stop-color="#ff1c00"/></linearGradient>
<radialGradient id="gsky5" gradientUnits="userSpaceOnUse" cx="381.5" cy="685.5" r="212.2"><stop offset="0.0000" stop-color="#4000ff"/><stop offset="0.0222" stop-color="#3d00ff"/><stop offset="0.0444" stop-color="#3a00ff"/><stop offset="0.0667" stop-color="#3700ff"/><stop offset="0.0889" stop-color="#3400ff"/><stop offset="0.1111" stop-color="#3200ff"/><stop offset="0.1333" stop-color="#2d00ff"/><stop offset="0.1556" stop-color="#2900ff"/><stop offset="0.1778" stop-color="#2c00ff"/><stop offset="0.2000" stop-color="#3700ff"/><stop offset="0.2222" stop-color="#4200ff"/><stop offset="0.2444" stop-color="#4c00ff"/><stop offset="0.2667" stop-color="#5500ff"/><stop offset="0.2889" stop-color="#5e00ff"/><stop offset="0.3111" stop-color="#6800ff"/><stop offset="0.3333" stop-color="#7100ff"/><stop offset="0.3556" stop-color="#6900ff"/><stop offset="0.3778" stop-color="#6000ff"/><stop offset="0.4000" stop-color="#5500ff"/><stop offset="0.4222" stop-color="#4700ff"/><stop offset="0.4444" stop-color="#3900ff"/><stop offset="0.4667" stop-color="#1c00ff"/><stop offset="0.4889" stop-color="#0000ff"/><stop offset="0.5111" stop-color="#001fff"/><stop offset="0.5333" stop-color="#0041ff"/><stop offset="0.5556" stop-color="#0063ff"/><stop offset="0.5778" stop-color="#008bff"/><stop offset="0.6000" stop-color="#00b3ff"/><stop offset="0.6222" stop-color="#00daff"/><stop offset="0.6444" stop-color="#00fffc"/><stop offset="0.6667" stop-color="#00ffd4"/><stop offset="0.6889" stop-color="#00ffad"/><stop offset="0.7111" stop-color="#00ff85"/><stop offset="0.7333" stop-color="#00ff53"/><stop offset="0.7556" stop-color="#00ff17"/><stop offset="0.7778" stop-color="#26ff00"/><stop offset="0.8000" stop-color="#5dff00"/><stop offset="0.8222" stop-color="#93ff00"/><stop offset="0.8444" stop-color="#caff00"/><stop offset="0.8667" stop-color="#fffd00"/><stop offset="0.8889" stop-color="#ffc600"/><stop offset="0.9111" stop-color="#ff8e00"/><stop offset="0.9333" stop-color="#ff6800"/><stop offset="0.9556" stop-color="#ff4a00"/><stop offset="0.9778" stop-color="#ff3300"/><stop offset="1.0000" stop-color="#ff1c00"/></radialGradient>
<linearGradient id="gp36" gradientUnits="userSpaceOnUse" x1="0" y1="977" x2="0" y2="1292"><stop offset="0.0000" stop-color="#a300ff"/><stop offset="0.0222" stop-color="#a000ff"/><stop offset="0.0444" stop-color="#9d00ff"/><stop offset="0.0667" stop-color="#9a00ff"/><stop offset="0.0889" stop-color="#9800ff"/><stop offset="0.1111" stop-color="#9500ff"/><stop offset="0.1333" stop-color="#9000ff"/><stop offset="0.1556" stop-color="#8c00ff"/><stop offset="0.1778" stop-color="#8800ff"/><stop offset="0.2000" stop-color="#8000ff"/><stop offset="0.2222" stop-color="#7400ff"/><stop offset="0.2444" stop-color="#6600ff"/><stop offset="0.2667" stop-color="#5800ff"/><stop offset="0.2889" stop-color="#4b00ff"/><stop offset="0.3111" stop-color="#3d00ff"/><stop offset="0.3333" stop-color="#3000ff"/><stop offset="0.3556" stop-color="#1f00ff"/><stop offset="0.3778" stop-color="#0f00ff"/><stop offset="0.4000" stop-color="#0005ff"/><stop offset="0.4222" stop-color="#001bff"/><stop offset="0.4444" stop-color="#0031ff"/><stop offset="0.4667" stop-color="#0055ff"/><stop offset="0.4889" stop-color="#0071ff"/><stop offset="0.5111" stop-color="#0091ff"/><stop offset="0.5333" stop-color="#00b2ff"/><stop offset="0.5556" stop-color="#00d4ff"/><stop offset="0.5778" stop-color="#00fcff"/><stop offset="0.6000" stop-color="#00ffda"/><stop offset="0.6222" stop-color="#00ffb3"/><stop offset="0.6444" stop-color="#00ff8b"/><stop offset="0.6667" stop-color="#00ff63"/><stop offset="0.6889" stop-color="#00ff3b"/><stop offset="0.7111" stop-color="#00ff14"/><stop offset="0.7333" stop-color="#17ff00"/><stop offset="0.7556" stop-color="#44ff00"/><stop offset="0.7778" stop-color="#71ff00"/><stop offset="0.8000" stop-color="#99ff00"/><stop offset="0.8222" stop-color="#c1ff00"/><stop offset="0.8444" stop-color="#e8ff00"/><stop offset="0.8667" stop-color="#ffee00"/><stop offset="0.8889" stop-color="#ffc600"/><stop offset="0.9111" stop-color="#ff8e00"/><stop offset="0.9333" stop-color="#ff6800"/><stop offset="0.9556" stop-color="#ff4a00"/><stop offset="0.9778" stop-color="#ff3300"/><stop offset="1.0000" stop-color="#ff1c00"/></linearGradient>
<linearGradient id="gp46" gradientUnits="userSpaceOnUse" x1="0" y1="977" x2="0" y2="1292"><stop offset="0.0000" stop-color="#a300ff"/><stop offset="0.0222" stop-color="#a000ff"/><stop offset="0.0444" stop-color="#9d00ff"/><stop offset="0.0667" stop-color="#9a00ff"/><stop offset="0.0889" stop-color="#9800ff"/><stop offset="0.1111" stop-color="#9500ff"/><stop offset="0.1333" stop-color="#9000ff"/><stop offset="0.1556" stop-color="#8c00ff"/><stop offset="0.1778" stop-color="#8800ff"/><stop offset="0.2000" stop-color="#8000ff"/><stop offset="0.2222" stop-color="#7400ff"/><stop offset="0.2444" stop-color="#6600ff"/><stop offset="0.2667" stop-color="#5800ff"/><stop offset="0.2889" stop-color="#4b00ff"/><stop offset="0.3111" stop-color="#3d00ff"/><stop offset="0.3333" stop-color="#3000ff"/><stop offset="0.3556" stop-color="#1f00ff"/><stop offset="0.3778" stop-color="#0f00ff"/><stop offset="0.4000" stop-color="#0005ff"/><stop offset="0.4222" stop-color="#001bff"/><stop offset="0.4444" stop-color="#0031ff"/><stop offset="0.4667" stop-color="#0055ff"/><stop offset="0.4889" stop-color="#0071ff"/><stop offset="0.5111" stop-color="#0091ff"/><stop offset="0.5333" stop-color="#00b2ff"/><stop offset="0.5556" stop-color="#00d4ff"/><stop offset="0.5778" stop-color="#00fcff"/><stop offset="0.6000" stop-color="#00ffda"/><stop offset="0.6222" stop-color="#00ffb3"/><stop offset="0.6444" stop-color="#00ff8b"/><stop offset="0.6667" stop-color="#00ff63"/><stop offset="0.6889" stop-color="#00ff3b"/><stop offset="0.7111" stop-color="#00ff14"/><stop offset="0.7333" stop-color="#17ff00"/><stop offset="0.7556" stop-color="#44ff00"/><stop offset="0.7778" stop-color="#71ff00"/><stop offset="0.8000" stop-color="#99ff00"/><stop offset="0.8222" stop-color="#c1ff00"/><stop offset="0.8444" stop-color="#e8ff00"/><stop offset="0.8667" stop-color="#ffee00"/><stop offset="0.8889" stop-color="#ffc600"/><stop offset="0.9111" stop-color="#ff8e00"/><stop offset="0.9333" stop-color="#ff6800"/><stop offset="0.9556" stop-color="#ff4a00"/><stop offset="0.9778" stop-color="#ff3300"/><stop offset="1.0000" stop-color="#ff1c00"/></linearGradient>
<radialGradient id="gsky6" gradientUnits="userSpaceOnUse" cx="381.5" cy="685.5" r="212.2"><stop offset="0.0000" stop-color="#a300ff"/><stop offset="0.0222" stop-color="#a000ff"/><stop offset="0.0444" stop-color="#9d00ff"/><stop offset="0.0667" stop-color="#9a00ff"/><stop offset="0.0889" stop-color="#9800ff"/><stop offset="0.1111" stop-color="#9500ff"/><stop offset="0.1333" stop-color="#9000ff"/><stop offset="0.1556" stop-color="#8c00ff"/><stop offset="0.1778" stop-color="#8800ff"/><stop offset="0.2000" stop-color="#8000ff"/><stop offset="0.2222" stop-color="#7400ff"/><stop offset="0.2444" stop-color="#6600ff"/><stop offset="0.2667" stop-color="#5800ff"/><stop offset="0.2889" stop-color="#4b00ff"/><stop offset="0.3111" stop-color="#3d00ff"/><stop offset="0.3333" stop-color="#3000ff"/><stop offset="0.3556" stop-color="#1f00ff"/><stop offset="0.3778" stop-color="#0f00ff"/><stop offset="0.4000" stop-color="#0005ff"/><stop offset="0.4222" stop-color="#001bff"/><stop offset="0.4444" stop-color="#0031ff"/><stop offset="0.4667" stop-color="#0055ff"/><stop offset="0.4889" stop-color="#0071ff"/><stop offset="0.5111" stop-color="#0091ff"/><stop offset="0.5333" stop-color="#00b2ff"/><stop offset="0.5556" stop-color="#00d4ff"/><stop offset="0.5778" stop-color="#00fcff"/><stop offset="0.6000" stop-color="#00ffda"/><stop offset="0.6222" stop-color="#00ffb3"/><stop offset="0.6444" stop-color="#00ff8b"/><stop offset="0.6667" stop-color="#00ff63"/><stop offset="0.6889" stop-color="#00ff3b"/><stop offset="0.7111" stop-color="#00ff14"/><stop offset="0.7333" stop-color="#17ff00"/><stop offset="0.7556" stop-color="#44ff00"/><stop offset="0.7778" stop-color="#71ff00"/><stop offset="0.8000" stop-color="#99ff00"/><stop offset="0.8222" stop-color="#c1ff00"/><stop offset="0.8444" stop-color="#e8ff00"/><stop offset="0.8667" stop-color="#ffee00"/><stop offset="0.8889" stop-color="#ffc600"/><stop offset="0.9111" stop-color="#ff8e00"/><stop offset="0.9333" stop-color="#ff6800"/><stop offset="0.9556" stop-color="#ff4a00"/><stop offset="0.9778" stop-color="#ff3300"/><stop offset="1.0000" stop-color="#ff1c00"/></radialGradient>
<linearGradient id="gp37" gradientUnits="userSpaceOnUse" x1="0" y1="977" x2="0" y2="1292"><stop offset="0.0000" stop-color="#a300ff"/><stop offset="0.0222" stop-color="#9c00ff"/><stop offset="0.0444" stop-color="#9600ff"/><stop offset="0.0667" stop-color="#8f00ff"/><stop offset="0.0889" stop-color="#8800ff"/><stop offset="0.1111" stop-color="#8200ff"/><stop offset="0.1333" stop-color="#7a00ff"/><stop offset="0.1556" stop-color="#7200ff"/><stop offset="0.1778" stop-color="#6600ff"/><stop offset="0.2000" stop-color="#5200ff"/><stop offset="0.2222" stop-color="#3b00ff"/><stop offset="0.2444" stop-color="#2200ff"/><stop offset="0.2667" stop-color="#0900ff"/><stop offset="0.2889" stop-color="#0010ff"/><stop offset="0.3111" stop-color="#0029ff"/><stop offset="0.3333" stop-color="#0042ff"/><stop offset="0.3556" stop-color="#0061ff"/><stop offset="0.3778" stop-color="#0081ff"/><stop offset="0.4000" stop-color="#00a3ff"/><stop offset="0.4222" stop-color="#00c8ff"/><stop offset="0.4444" stop-color="#00eeff"/><stop offset="0.4667" stop-color="#00ffdd"/><stop offset="0.4889" stop-color="#00ffb2"/><stop offset="0.5111" stop-color="#00ff8c"/><stop offset="0.5333" stop-color="#00ff6c"/><stop offset="0.5556" stop-color="#00ff4c"/><stop offset="0.5778" stop-color="#00ff26"/><stop offset="0.6000" stop-color="#00ff00"/><stop offset="0.6222" stop-color="#26ff00"/><stop offset="0.6444" stop-color="#4cff00"/><stop offset="0.6667" stop-color="#71ff00"/><stop offset="0.6889" stop-color="#91ff00"/><stop offset="0.7111" stop-color="#b2ff00"/><stop offset="0.7333" stop-color="#d5ff00"/><stop offset="0.7556" stop-color="#faff00"/><stop offset="0.7778" stop-color="#ffde00"/><stop offset="0.8000" stop-color="#ffbe00"/><stop offset="0.8222" stop-color="#ff9e00"/><stop offset="0.8444" stop-color="#ff8400"/><stop offset="0.8667" stop-color="#ff7100"/><stop offset="0.8889" stop-color="#ff5d00"/><stop offset="0.9111" stop-color="#ff3900"/><stop offset="0.9333" stop-color="#ff1e00"/><stop offset="0.9556" stop-color="#ff0a00"/><stop offset="0.9778" stop-color="#ff0000"/><stop offset="1.0000" stop-color="#ff0000"/></linearGradient>
<linearGradient id="gp47" gradientUnits="userSpaceOnUse" x1="0" y1="977" x2="0" y2="1292"><stop offset="0.0000" stop-color="#a300ff"/><stop offset="0.0222" stop-color="#9c00ff"/><stop offset="0.0444" stop-color="#9600ff"/><stop offset="0.0667" stop-color="#8f00ff"/><stop offset="0.0889" stop-color="#8800ff"/><stop offset="0.1111" stop-color="#8200ff"/><stop offset="0.1333" stop-color="#7a00ff"/><stop offset="0.1556" stop-color="#7200ff"/><stop offset="0.1778" stop-color="#6600ff"/><stop offset="0.2000" stop-color="#5200ff"/><stop offset="0.2222" stop-color="#3b00ff"/><stop offset="0.2444" stop-color="#2200ff"/><stop offset="0.2667" stop-color="#0900ff"/><stop offset="0.2889" stop-color="#0010ff"/><stop offset="0.3111" stop-color="#0029ff"/><stop offset="0.3333" stop-color="#0042ff"/><stop offset="0.3556" stop-color="#0061ff"/><stop offset="0.3778" stop-color="#0081ff"/><stop offset="0.4000" stop-color="#00a3ff"/><stop offset="0.4222" stop-color="#00c8ff"/><stop offset="0.4444" stop-color="#00eeff"/><stop offset="0.4667" stop-color="#00ffdd"/><stop offset="0.4889" stop-color="#00ffb2"/><stop offset="0.5111" stop-color="#00ff8c"/><stop offset="0.5333" stop-color="#00ff6c"/><stop offset="0.5556" stop-color="#00ff4c"/><stop offset="0.5778" stop-color="#00ff26"/><stop offset="0.6000" stop-color="#00ff00"/><stop offset="0.6222" stop-color="#26ff00"/><stop offset="0.6444" stop-color="#4cff00"/><stop offset="0.6667" stop-color="#71ff00"/><stop offset="0.6889" stop-color="#91ff00"/><stop offset="0.7111" stop-color="#b2ff00"/><stop offset="0.7333" stop-color="#d5ff00"/><stop offset="0.7556" stop-color="#faff00"/><stop offset="0.7778" stop-color="#ffde00"/><stop offset="0.8000" stop-color="#ffbe00"/><stop offset="0.8222" stop-color="#ff9e00"/><stop offset="0.8444" stop-color="#ff8400"/><stop offset="0.8667" stop-color="#ff7100"/><stop offset="0.8889" stop-color="#ff5d00"/><stop offset="0.9111" stop-color="#ff3900"/><stop offset="0.9333" stop-color="#ff1e00"/><stop offset="0.9556" stop-color="#ff0a00"/><stop offset="0.9778" stop-color="#ff0000"/><stop offset="1.0000" stop-color="#ff0000"/></linearGradient>
<radialGradient id="gsky7" gradientUnits="userSpaceOnUse" cx="381.5" cy="685.5" r="212.2"><stop offset="0.0000" stop-color="#a300ff"/><stop offset="0.0222" stop-color="#9c00ff"/><stop offset="0.0444" stop-color="#9600ff"/><stop offset="0.0667" stop-color="#8f00ff"/><stop offset="0.0889" stop-color="#8800ff"/><stop offset="0.1111" stop-color="#8200ff"/><stop offset="0.1333" stop-color="#7a00ff"/><stop offset="0.1556" stop-color="#7200ff"/><stop offset="0.1778" stop-color="#6600ff"/><stop offset="0.2000" stop-color="#5200ff"/><stop offset="0.2222" stop-color="#3b00ff"/><stop offset="0.2444" stop-color="#2200ff"/><stop offset="0.2667" stop-color="#0900ff"/><stop offset="0.2889" stop-color="#0010ff"/><stop offset="0.3111" stop-color="#0029ff"/><stop offset="0.3333" stop-color="#0042ff"/><stop offset="0.3556" stop-color="#0061ff"/><stop offset="0.3778" stop-color="#0081ff"/><stop offset="0.4000" stop-color="#00a3ff"/><stop offset="0.4222" stop-color="#00c8ff"/><stop offset="0.4444" stop-color="#00eeff"/><stop offset="0.4667" stop-color="#00ffdd"/><stop offset="0.4889" stop-color="#00ffb2"/><stop offset="0.5111" stop-color="#00ff8c"/><stop offset="0.5333" stop-color="#00ff6c"/><stop offset="0.5556" stop-color="#00ff4c"/><stop offset="0.5778" stop-color="#00ff26"/><stop offset="0.6000" stop-color="#00ff00"/><stop offset="0.6222" stop-color="#26ff00"/><stop offset="0.6444" stop-color="#4cff00"/><stop offset="0.6667" stop-color="#71ff00"/><stop offset="0.6889" stop-color="#91ff00"/><stop offset="0.7111" stop-color="#b2ff00"/><stop offset="0.7333" stop-color="#d5ff00"/><stop offset="0.7556" stop-color="#faff00"/><stop offset="0.7778" stop-color="#ffde00"/><stop offset="0.8000" stop-color="#ffbe00"/><stop offset="0.8222" stop-color="#ff9e00"/><stop offset="0.8444" stop-color="#ff8400"/><stop offset="0.8667" stop-color="#ff7100"/><stop offset="0.8889" stop-color="#ff5d00"/><stop offset="0.9111" stop-color="#ff3900"/><stop offset="0.9333" stop-color="#ff1e00"/><stop offset="0.9556" stop-color="#ff0a00"/><stop offset="0.9778" stop-color="#ff0000"/><stop offset="1.0000" stop-color="#ff0000"/></radialGradient>
<linearGradient id="gp38" gradientUnits="userSpaceOnUse" x1="0" y1="977" x2="0" y2="1292"><stop offset="0.0000" stop-color="#a300ff"/><stop offset="0.0222" stop-color="#a000ff"/><stop offset="0.0444" stop-color="#9d00ff"/><stop offset="0.0667" stop-color="#9a00ff"/><stop offset="0.0889" stop-color="#9800ff"/><stop offset="0.1111" stop-color="#9500ff"/><stop offset="0.1333" stop-color="#9000ff"/><stop offset="0.1556" stop-color="#8c00ff"/><stop offset="0.1778" stop-color="#9000ff"/><stop offset="0.2000" stop-color="#9600ff"/><stop offset="0.2222" stop-color="#9900ff"/><stop offset="0.2444" stop-color="#9b00ff"/><stop offset="0.2667" stop-color="#9c00ff"/><stop offset="0.2889" stop-color="#9e00ff"/><stop offset="0.3111" stop-color="#9f00ff"/><stop offset="0.3333" stop-color="#a100ff"/><stop offset="0.3556" stop-color="#9100ff"/><stop offset="0.3778" stop-color="#8000ff"/><stop offset="0.4000" stop-color="#6d00ff"/><stop offset="0.4222" stop-color="#5700ff"/><stop offset="0.4444" stop-color="#4100ff"/><stop offset="0.4667" stop-color="#1c00ff"/><stop offset="0.4889" stop-color="#0000ff"/><stop offset="0.5111" stop-color="#001fff"/><stop offset="0.5333" stop-color="#0041ff"/><stop offset="0.5556" stop-color="#0063ff"/><stop offset="0.5778" stop-color="#008bff"/><stop offset="0.6000" stop-color="#00b3ff"/><stop offset="0.6222" stop-color="#00daff"/><stop offset="0.6444" stop-color="#00fffc"/><stop offset="0.6667" stop-color="#00ffd4"/><stop offset="0.6889" stop-color="#00ffad"/><stop offset="0.7111" stop-color="#00ff85"/><stop offset="0.7333" stop-color="#00ff53"/><stop offset="0.7556" stop-color="#00ff17"/><stop offset="0.7778" stop-color="#26ff00"/><stop offset="0.8000" stop-color="#5dff00"/><stop offset="0.8222" stop-color="#93ff00"/><stop offset="0.8444" stop-color="#caff00"/><stop offset="0.8667" stop-color="#fffd00"/><stop offset="0.8889" stop-color="#ffc600"/><stop offset="0.9111" stop-color="#ff8e00"/><stop offset="0.9333" stop-color="#ff6800"/><stop offset="0.9556" stop-color="#ff4a00"/><stop offset="0.9778" stop-color="#ff3300"/><stop offset="1.0000" stop-color="#ff1c00"/></linearGradient>
<linearGradient id="gp48" gradientUnits="userSpaceOnUse" x1="0" y1="977" x2="0" y2="1292"><stop offset="0.0000" stop-color="#a300ff"/><stop offset="0.0222" stop-color="#a000ff"/><stop offset="0.0444" stop-color="#9d00ff"/><stop offset="0.0667" stop-color="#9a00ff"/><stop offset="0.0889" stop-color="#9800ff"/><stop offset="0.1111" stop-color="#9500ff"/><stop offset="0.1333" stop-color="#9000ff"/><stop offset="0.1556" stop-color="#8c00ff"/><stop offset="0.1778" stop-color="#9000ff"/><stop offset="0.2000" stop-color="#9600ff"/><stop offset="0.2222" stop-color="#9900ff"/><stop offset="0.2444" stop-color="#9b00ff"/><stop offset="0.2667" stop-color="#9c00ff"/><stop offset="0.2889" stop-color="#9e00ff"/><stop offset="0.3111" stop-color="#9f00ff"/><stop offset="0.3333" stop-color="#a100ff"/><stop offset="0.3556" stop-color="#9100ff"/><stop offset="0.3778" stop-color="#8000ff"/><stop offset="0.4000" stop-color="#6d00ff"/><stop offset="0.4222" stop-color="#5700ff"/><stop offset="0.4444" stop-color="#4100ff"/><stop offset="0.4667" stop-color="#1c00ff"/><stop offset="0.4889" stop-color="#0000ff"/><stop offset="0.5111" stop-color="#001fff"/><stop offset="0.5333" stop-color="#0041ff"/><stop offset="0.5556" stop-color="#0063ff"/><stop offset="0.5778" stop-color="#008bff"/><stop offset="0.6000" stop-color="#00b3ff"/><stop offset="0.6222" stop-color="#00daff"/><stop offset="0.6444" stop-color="#00fffc"/><stop offset="0.6667" stop-color="#00ffd4"/><stop offset="0.6889" stop-color="#00ffad"/><stop offset="0.7111" stop-color="#00ff85"/><stop offset="0.7333" stop-color="#00ff53"/><stop offset="0.7556" stop-color="#00ff17"/><stop offset="0.7778" stop-color="#26ff00"/><stop offset="0.8000" stop-color="#5dff00"/><stop offset="0.8222" stop-color="#93ff00"/><stop offset="0.8444" stop-color="#caff00"/><stop offset="0.8667" stop-color="#fffd00"/><stop offset="0.8889" stop-color="#ffc600"/><stop offset="0.9111" stop-color="#ff8e00"/><stop offset="0.9333" stop-color="#ff6800"/><stop offset="0.9556" stop-color="#ff4a00"/><stop offset="0.9778" stop-color="#ff3300"/><stop offset="1.0000" stop-color="#ff1c00"/></linearGradient>
<radialGradient id="gsky8" gradientUnits="userSpaceOnUse" cx="381.5" cy="685.5" r="212.2"><stop offset="0.0000" stop-color="#a300ff"/><stop offset="0.0222" stop-color="#a000ff"/><stop offset="0.0444" stop-color="#9d00ff"/><stop offset="0.0667" stop-color="#9a00ff"/><stop offset="0.0889" stop-color="#9800ff"/><stop offset="0.1111" stop-color="#9500ff"/><stop offset="0.1333" stop-color="#9000ff"/><stop offset="0.1556" stop-color="#8c00ff"/><stop offset="0.1778" stop-color="#9000ff"/><stop offset="0.2000" stop-color="#9600ff"/><stop offset="0.2222" stop-color="#9900ff"/><stop offset="0.2444" stop-color="#9b00ff"/><stop offset="0.2667" stop-color="#9c00ff"/><stop offset="0.2889" stop-color="#9e00ff"/><stop offset="0.3111" stop-color="#9f00ff"/><stop offset="0.3333" stop-color="#a100ff"/><stop offset="0.3556" stop-color="#9100ff"/><stop offset="0.3778" stop-color="#8000ff"/><stop offset="0.4000" stop-color="#6d00ff"/><stop offset="0.4222" stop-color="#5700ff"/><stop offset="0.4444" stop-color="#4100ff"/><stop offset="0.4667" stop-color="#1c00ff"/><stop offset="0.4889" stop-color="#0000ff"/><stop offset="0.5111" stop-color="#001fff"/><stop offset="0.5333" stop-color="#0041ff"/><stop offset="0.5556" stop-color="#0063ff"/><stop offset="0.5778" stop-color="#008bff"/><stop offset="0.6000" stop-color="#00b3ff"/><stop offset="0.6222" stop-color="#00daff"/><stop offset="0.6444" stop-color="#00fffc"/><stop offset="0.6667" stop-color="#00ffd4"/><stop offset="0.6889" stop-color="#00ffad"/><stop offset="0.7111" stop-color="#00ff85"/><stop offset="0.7333" stop-color="#00ff53"/><stop offset="0.7556" stop-color="#00ff17"/><stop offset="0.7778" stop-color="#26ff00"/><stop offset="0.8000" stop-color="#5dff00"/><stop offset="0.8222" stop-color="#93ff00"/><stop offset="0.8444" stop-color="#caff00"/><stop offset="0.8667" stop-color="#fffd00"/><stop offset="0.8889" stop-color="#ffc600"/><stop offset="0.9111" stop-color="#ff8e00"/><stop offset="0.9333" stop-color="#ff6800"/><stop offset="0.9556" stop-color="#ff4a00"/><stop offset="0.9778" stop-color="#ff3300"/><stop offset="1.0000" stop-color="#ff1c00"/></radialGradient>
<linearGradient id="gp39" gradientUnits="userSpaceOnUse" x1="0" y1="977" x2="0" y2="1292"><stop offset="0.0000" stop-color="#ff00ff"/><stop offset="0.0222" stop-color="#ff00ff"/><stop offset="0.0444" stop-color="#ff00ff"/><stop offset="0.0667" stop-color="#fe00ff"/><stop offset="0.0889" stop-color="#fb00ff"/><stop offset="0.1111" stop-color="#f800ff"/><stop offset="0.1333" stop-color="#f400ff"/><stop offset="0.1556" stop-color="#ef00ff"/><stop offset="0.1778" stop-color="#eb00ff"/><stop offset="0.2000" stop-color="#df00ff"/><stop offset="0.2222" stop-color="#cb00ff"/><stop offset="0.2444" stop-color="#b500ff"/><stop offset="0.2667" stop-color="#a000ff"/><stop offset="0.2889" stop-color="#8a00ff"/><stop offset="0.3111" stop-color="#7500ff"/><stop offset="0.3333" stop-color="#5f00ff"/><stop offset="0.3556" stop-color="#4700ff"/><stop offset="0.3778" stop-color="#2e00ff"/><stop offset="0.4000" stop-color="#1300ff"/><stop offset="0.4222" stop-color="#000bff"/><stop offset="0.4444" stop-color="#0029ff"/><stop offset="0.4667" stop-color="#0055ff"/><stop offset="0.4889" stop-color="#0071ff"/><stop offset="0.5111" stop-color="#0091ff"/><stop offset="0.5333" stop-color="#00b2ff"/><stop offset="0.5556" stop-color="#00d4ff"/><stop offset="0.5778" stop-color="#00fcff"/><stop offset="0.6000" stop-color="#00ffda"/><stop offset="0.6222" stop-color="#00ffb3"/><stop offset="0.6444" stop-color="#00ff8b"/><stop offset="0.6667" stop-color="#00ff63"/><stop offset="0.6889" stop-color="#00ff3b"/><stop offset="0.7111" stop-color="#00ff14"/><stop offset="0.7333" stop-color="#17ff00"/><stop offset="0.7556" stop-color="#44ff00"/><stop offset="0.7778" stop-color="#71ff00"/><stop offset="0.8000" stop-color="#99ff00"/><stop offset="0.8222" stop-color="#c1ff00"/><stop offset="0.8444" stop-color="#e8ff00"/><stop offset="0.8667" stop-color="#ffee00"/><stop offset="0.8889" stop-color="#ffc600"/><stop offset="0.9111" stop-color="#ff8e00"/><stop offset="0.9333" stop-color="#ff6800"/><stop offset="0.9556" stop-color="#ff4a00"/><stop offset="0.9778" stop-color="#ff3300"/><stop offset="1.0000" stop-color="#ff1c00"/></linearGradient>
<linearGradient id="gp49" gradientUnits="userSpaceOnUse" x1="0" y1="977" x2="0" y2="1292"><stop offset="0.0000" stop-color="#ff00ff"/><stop offset="0.0222" stop-color="#ff00ff"/><stop offset="0.0444" stop-color="#ff00ff"/><stop offset="0.0667" stop-color="#fe00ff"/><stop offset="0.0889" stop-color="#fb00ff"/><stop offset="0.1111" stop-color="#f800ff"/><stop offset="0.1333" stop-color="#f400ff"/><stop offset="0.1556" stop-color="#ef00ff"/><stop offset="0.1778" stop-color="#eb00ff"/><stop offset="0.2000" stop-color="#df00ff"/><stop offset="0.2222" stop-color="#cb00ff"/><stop offset="0.2444" stop-color="#b500ff"/><stop offset="0.2667" stop-color="#a000ff"/><stop offset="0.2889" stop-color="#8a00ff"/><stop offset="0.3111" stop-color="#7500ff"/><stop offset="0.3333" stop-color="#5f00ff"/><stop offset="0.3556" stop-color="#4700ff"/><stop offset="0.3778" stop-color="#2e00ff"/><stop offset="0.4000" stop-color="#1300ff"/><stop offset="0.4222" stop-color="#000bff"/><stop offset="0.4444" stop-color="#0029ff"/><stop offset="0.4667" stop-color="#0055ff"/><stop offset="0.4889" stop-color="#0071ff"/><stop offset="0.5111" stop-color="#0091ff"/><stop offset="0.5333" stop-color="#00b2ff"/><stop offset="0.5556" stop-color="#00d4ff"/><stop offset="0.5778" stop-color="#00fcff"/><stop offset="0.6000" stop-color="#00ffda"/><stop offset="0.6222" stop-color="#00ffb3"/><stop offset="0.6444" stop-color="#00ff8b"/><stop offset="0.6667" stop-color="#00ff63"/><stop offset="0.6889" stop-color="#00ff3b"/><stop offset="0.7111" stop-color="#00ff14"/><stop offset="0.7333" stop-color="#17ff00"/><stop offset="0.7556" stop-color="#44ff00"/><stop offset="0.7778" stop-color="#71ff00"/><stop offset="0.8000" stop-color="#99ff00"/><stop offset="0.8222" stop-color="#c1ff00"/><stop offset="0.8444" stop-color="#e8ff00"/><stop offset="0.8667" stop-color="#ffee00"/><stop offset="0.8889" stop-color="#ffc600"/><stop offset="0.9111" stop-color="#ff8e00"/><stop offset="0.9333" stop-color="#ff6800"/><stop offset="0.9556" stop-color="#ff4a00"/><stop offset="0.9778" stop-color="#ff3300"/><stop offset="1.0000" stop-color="#ff1c00"/></linearGradient>
<radialGradient id="gsky9" gradientUnits="userSpaceOnUse" cx="381.5" cy="685.5" r="212.2"><stop offset="0.0000" stop-color="#ff00ff"/><stop offset="0.0222" stop-color="#ff00ff"/><stop offset="0.0444" stop-color="#ff00ff"/><stop offset="0.0667" stop-color="#fe00ff"/><stop offset="0.0889" stop-color="#fb00ff"/><stop offset="0.1111" stop-color="#f800ff"/><stop offset="0.1333" stop-color="#f400ff"/><stop offset="0.1556" stop-color="#ef00ff"/><stop offset="0.1778" stop-color="#eb00ff"/><stop offset="0.2000" stop-color="#df00ff"/><stop offset="0.2222" stop-color="#cb00ff"/><stop offset="0.2444" stop-color="#b500ff"/><stop offset="0.2667" stop-color="#a000ff"/><stop offset="0.2889" stop-color="#8a00ff"/><stop offset="0.3111" stop-color="#7500ff"/><stop offset="0.3333" stop-color="#5f00ff"/><stop offset="0.3556" stop-color="#4700ff"/><stop offset="0.3778" stop-color="#2e00ff"/><stop offset="0.4000" stop-color="#1300ff"/><stop offset="0.4222" stop-color="#000bff"/><stop offset="0.4444" stop-color="#0029ff"/><stop offset="0.4667" stop-color="#0055ff"/><stop offset="0.4889" stop-color="#0071ff"/><stop offset="0.5111" stop-color="#0091ff"/><stop offset="0.5333" stop-color="#00b2ff"/><stop offset="0.5556" stop-color="#00d4ff"/><stop offset="0.5778" stop-color="#00fcff"/><stop offset="0.6000" stop-color="#00ffda"/><stop offset="0.6222" stop-color="#00ffb3"/><stop offset="0.6444" stop-color="#00ff8b"/><stop offset="0.6667" stop-color="#00ff63"/><stop offset="0.6889" stop-color="#00ff3b"/><stop offset="0.7111" stop-color="#00ff14"/><stop offset="0.7333" stop-color="#17ff00"/><stop offset="0.7556" stop-color="#44ff00"/><stop offset="0.7778" stop-color="#71ff00"/><stop offset="0.8000" stop-color="#99ff00"/><stop offset="0.8222" stop-color="#c1ff00"/><stop offset="0.8444" stop-color="#e8ff00"/><stop offset="0.8667" stop-color="#ffee00"/><stop offset="0.8889" stop-color="#ffc600"/><stop offset="0.9111" stop-color="#ff8e00"/><stop offset="0.9333" stop-color="#ff6800"/><stop offset="0.9556" stop-color="#ff4a00"/><stop offset="0.9778" stop-color="#ff3300"/><stop offset="1.0000" stop-color="#ff1c00"/></radialGradient>
<linearGradient id="gp310" gradientUnits="userSpaceOnUse" x1="0" y1="977" x2="0" y2="1292"><stop offset="0.0000" stop-color="#ff00ff"/><stop offset="0.0222" stop-color="#ff00ff"/><stop offset="0.0444" stop-color="#f900ff"/><stop offset="0.0667" stop-color="#f200ff"/><stop offset="0.0889" stop-color="#ec00ff"/><stop offset="0.1111" stop-color="#e500ff"/><stop offset="0.1333" stop-color="#dd00ff"/><stop offset="0.1556" stop-color="#d500ff"/><stop offset="0.1778" stop-color="#c900ff"/><stop offset="0.2000" stop-color="#b200ff"/><stop offset="0.2222" stop-color="#9200ff"/><stop offset="0.2444" stop-color="#7100ff"/><stop offset="0.2667" stop-color="#5000ff"/><stop offset="0.2889" stop-color="#3000ff"/><stop offset="0.3111" stop-color="#0f00ff"/><stop offset="0.3333" stop-color="#0012ff"/><stop offset="0.3556" stop-color="#003aff"/><stop offset="0.3778" stop-color="#0061ff"/><stop offset="0.4000" stop-color="#008bff"/><stop offset="0.4222" stop-color="#00b9ff"/><stop offset="0.4444" stop-color="#00e6ff"/><stop offset="0.4667" stop-color="#00ffdd"/><stop offset="0.4889" stop-color="#00ffb2"/><stop offset="0.5111" stop-color="#00ff8c"/><stop offset="0.5333" stop-color="#00ff6c"/><stop offset="0.5556" stop-color="#00ff4c"/><stop offset="0.5778" stop-color="#00ff26"/><stop offset="0.6000" stop-color="#00ff00"/><stop offset="0.6222" stop-color="#26ff00"/><stop offset="0.6444" stop-color="#4cff00"/><stop offset="0.6667" stop-color="#71ff00"/><stop offset="0.6889" stop-color="#91ff00"/><stop offset="0.7111" stop-color="#b2ff00"/><stop offset="0.7333" stop-color="#d5ff00"/><stop offset="0.7556" stop-color="#faff00"/><stop offset="0.7778" stop-color="#ffde00"/><stop offset="0.8000" stop-color="#ffbe00"/><stop offset="0.8222" stop-color="#ff9e00"/><stop offset="0.8444" stop-color="#ff8400"/><stop offset="0.8667" stop-color="#ff7100"/><stop offset="0.8889" stop-color="#ff5d00"/><stop offset="0.9111" stop-color="#ff3900"/><stop offset="0.9333" stop-color="#ff1e00"/><stop offset="0.9556" stop-color="#ff0a00"/><stop offset="0.9778" stop-color="#ff0000"/><stop offset="1.0000" stop-color="#ff0000"/></linearGradient>
<linearGradient id="gp410" gradientUnits="userSpaceOnUse" x1="0" y1="977" x2="0" y2="1292"><stop offset="0.0000" stop-color="#ff00ff"/><stop offset="0.0222" stop-color="#ff00ff"/><stop offset="0.0444" stop-color="#f900ff"/><stop offset="0.0667" stop-color="#f200ff"/><stop offset="0.0889" stop-color="#ec00ff"/><stop offset="0.1111" stop-color="#e500ff"/><stop offset="0.1333" stop-color="#dd00ff"/><stop offset="0.1556" stop-color="#d500ff"/><stop offset="0.1778" stop-color="#c900ff"/><stop offset="0.2000" stop-color="#b200ff"/><stop offset="0.2222" stop-color="#9200ff"/><stop offset="0.2444" stop-color="#7100ff"/><stop offset="0.2667" stop-color="#5000ff"/><stop offset="0.2889" stop-color="#3000ff"/><stop offset="0.3111" stop-color="#0f00ff"/><stop offset="0.3333" stop-color="#0012ff"/><stop offset="0.3556" stop-color="#003aff"/><stop offset="0.3778" stop-color="#0061ff"/><stop offset="0.4000" stop-color="#008bff"/><stop offset="0.4222" stop-color="#00b9ff"/><stop offset="0.4444" stop-color="#00e6ff"/><stop offset="0.4667" stop-color="#00ffdd"/><stop offset="0.4889" stop-color="#00ffb2"/><stop offset="0.5111" stop-color="#00ff8c"/><stop offset="0.5333" stop-color="#00ff6c"/><stop offset="0.5556" stop-color="#00ff4c"/><stop offset="0.5778" stop-color="#00ff26"/><stop offset="0.6000" stop-color="#00ff00"/><stop offset="0.6222" stop-color="#26ff00"/><stop offset="0.6444" stop-color="#4cff00"/><stop offset="0.6667" stop-color="#71ff00"/><stop offset="0.6889" stop-color="#91ff00"/><stop offset="0.7111" stop-color="#b2ff00"/><stop offset="0.7333" stop-color="#d5ff00"/><stop offset="0.7556" stop-color="#faff00"/><stop offset="0.7778" stop-color="#ffde00"/><stop offset="0.8000" stop-color="#ffbe00"/><stop offset="0.8222" stop-color="#ff9e00"/><stop offset="0.8444" stop-color="#ff8400"/><stop offset="0.8667" stop-color="#ff7100"/><stop offset="0.8889" stop-color="#ff5d00"/><stop offset="0.9111" stop-color="#ff3900"/><stop offset="0.9333" stop-color="#ff1e00"/><stop offset="0.9556" stop-color="#ff0a00"/><stop offset="0.9778" stop-color="#ff0000"/><stop offset="1.0000" stop-color="#ff0000"/></linearGradient>
<radialGradient id="gsky10" gradientUnits="userSpaceOnUse" cx="381.5" cy="685.5" r="212.2"><stop offset="0.0000" stop-color="#ff00ff"/><stop offset="0.0222" stop-color="#ff00ff"/><stop offset="0.0444" stop-color="#f900ff"/><stop offset="0.0667" stop-color="#f200ff"/><stop offset="0.0889" stop-color="#ec00ff"/><stop offset="0.1111" stop-color="#e500ff"/><stop offset="0.1333" stop-color="#dd00ff"/><stop offset="0.1556" stop-color="#d500ff"/><stop offset="0.1778" stop-color="#c900ff"/><stop offset="0.2000" stop-color="#b200ff"/><stop offset="0.2222" stop-color="#9200ff"/><stop offset="0.2444" stop-color="#7100ff"/><stop offset="0.2667" stop-color="#5000ff"/><stop offset="0.2889" stop-color="#3000ff"/><stop offset="0.3111" stop-color="#0f00ff"/><stop offset="0.3333" stop-color="#0012ff"/><stop offset="0.3556" stop-color="#003aff"/><stop offset="0.3778" stop-color="#0061ff"/><stop offset="0.4000" stop-color="#008bff"/><stop offset="0.4222" stop-color="#00b9ff"/><stop offset="0.4444" stop-color="#00e6ff"/><stop offset="0.4667" stop-color="#00ffdd"/><stop offset="0.4889" stop-color="#00ffb2"/><stop offset="0.5111" stop-color="#00ff8c"/><stop offset="0.5333" stop-color="#00ff6c"/><stop offset="0.5556" stop-color="#00ff4c"/><stop offset="0.5778" stop-color="#00ff26"/><stop offset="0.6000" stop-color="#00ff00"/><stop offset="0.6222" stop-color="#26ff00"/><stop offset="0.6444" stop-color="#4cff00"/><stop offset="0.6667" stop-color="#71ff00"/><stop offset="0.6889" stop-color="#91ff00"/><stop offset="0.7111" stop-color="#b2ff00"/><stop offset="0.7333" stop-color="#d5ff00"/><stop offset="0.7556" stop-color="#faff00"/><stop offset="0.7778" stop-color="#ffde00"/><stop offset="0.8000" stop-color="#ffbe00"/><stop offset="0.8222" stop-color="#ff9e00"/><stop offset="0.8444" stop-color="#ff8400"/><stop offset="0.8667" stop-color="#ff7100"/><stop offset="0.8889" stop-color="#ff5d00"/><stop offset="0.9111" stop-color="#ff3900"/><stop offset="0.9333" stop-color="#ff1e00"/><stop offset="0.9556" stop-color="#ff0a00"/><stop offset="0.9778" stop-color="#ff0000"/><stop offset="1.0000" stop-color="#ff0000"/></radialGradient>
<linearGradient id="gp311" gradientUnits="userSpaceOnUse" x1="0" y1="977" x2="0" y2="1292"><stop offset="0.0000" stop-color="#ff00ff"/><stop offset="0.0222" stop-color="#ff00ff"/><stop offset="0.0444" stop-color="#ff00ff"/><stop offset="0.0667" stop-color="#fe00ff"/><stop offset="0.0889" stop-color="#fb00ff"/><stop offset="0.1111" stop-color="#f800ff"/><stop offset="0.1333" stop-color="#f400ff"/><stop offset="0.1556" stop-color="#ef00ff"/><stop offset="0.1778" stop-color="#f300ff"/><stop offset="0.2000" stop-color="#f600ff"/><stop offset="0.2222" stop-color="#f100ff"/><stop offset="0.2444" stop-color="#ea00ff"/><stop offset="0.2667" stop-color="#e400ff"/><stop offset="0.2889" stop-color="#dd00ff"/><stop offset="0.3111" stop-color="#d700ff"/><stop offset="0.3333" stop-color="#d100ff"/><stop offset="0.3556" stop-color="#b800ff"/><stop offset="0.3778" stop-color="#a000ff"/><stop offset="0.4000" stop-color="#8500ff"/><stop offset="0.4222" stop-color="#6700ff"/><stop offset="0.4444" stop-color="#4900ff"/><stop offset="0.4667" stop-color="#1c00ff"/><stop offset="0.4889" stop-color="#0000ff"/><stop offset="0.5111" stop-color="#001fff"/><stop offset="0.5333" stop-color="#0041ff"/><stop offset="0.5556" stop-color="#0063ff"/><stop offset="0.5778" stop-color="#008bff"/><stop offset="0.6000" stop-color="#00b3ff"/><stop offset="0.6222" stop-color="#00daff"/><stop offset="0.6444" stop-color="#00fffc"/><stop offset="0.6667" stop-color="#00ffd4"/><stop offset="0.6889" stop-color="#00ffad"/><stop offset="0.7111" stop-color="#00ff85"/><stop offset="0.7333" stop-color="#00ff53"/><stop offset="0.7556" stop-color="#00ff17"/><stop offset="0.7778" stop-color="#26ff00"/><stop offset="0.8000" stop-color="#5dff00"/><stop offset="0.8222" stop-color="#93ff00"/><stop offset="0.8444" stop-color="#caff00"/><stop offset="0.8667" stop-color="#fffd00"/><stop offset="0.8889" stop-color="#ffc600"/><stop offset="0.9111" stop-color="#ff8e00"/><stop offset="0.9333" stop-color="#ff6800"/><stop offset="0.9556" stop-color="#ff4a00"/><stop offset="0.9778" stop-color="#ff3300"/><stop offset="1.0000" stop-color="#ff1c00"/></linearGradient>
<linearGradient id="gp411" gradientUnits="userSpaceOnUse" x1="0" y1="977" x2="0" y2="1292"><stop offset="0.0000" stop-color="#ff00ff"/><stop offset="0.0222" stop-color="#ff00ff"/><stop offset="0.0444" stop-color="#ff00ff"/><stop offset="0.0667" stop-color="#fe00ff"/><stop offset="0.0889" stop-color="#fb00ff"/><stop offset="0.1111" stop-color="#f800ff"/><stop offset="0.1333" stop-color="#f400ff"/><stop offset="0.1556" stop-color="#ef00ff"/><stop offset="0.1778" stop-color="#f300ff"/><stop offset="0.2000" stop-color="#f600ff"/><stop offset="0.2222" stop-color="#f100ff"/><stop offset="0.2444" stop-color="#ea00ff"/><stop offset="0.2667" stop-color="#e400ff"/><stop offset="0.2889" stop-color="#dd00ff"/><stop offset="0.3111" stop-color="#d700ff"/><stop offset="0.3333" stop-color="#d100ff"/><stop offset="0.3556" stop-color="#b800ff"/><stop offset="0.3778" stop-color="#a000ff"/><stop offset="0.4000" stop-color="#8500ff"/><stop offset="0.4222" stop-color="#6700ff"/><stop offset="0.4444" stop-color="#4900ff"/><stop offset="0.4667" stop-color="#1c00ff"/><stop offset="0.4889" stop-color="#0000ff"/><stop offset="0.5111" stop-color="#001fff"/><stop offset="0.5333" stop-color="#0041ff"/><stop offset="0.5556" stop-color="#0063ff"/><stop offset="0.5778" stop-color="#008bff"/><stop offset="0.6000" stop-color="#00b3ff"/><stop offset="0.6222" stop-color="#00daff"/><stop offset="0.6444" stop-color="#00fffc"/><stop offset="0.6667" stop-color="#00ffd4"/><stop offset="0.6889" stop-color="#00ffad"/><stop offset="0.7111" stop-color="#00ff85"/><stop offset="0.7333" stop-color="#00ff53"/><stop offset="0.7556" stop-color="#00ff17"/><stop offset="0.7778" stop-color="#26ff00"/><stop offset="0.8000" stop-color="#5dff00"/><stop offset="0.8222" stop-color="#93ff00"/><stop offset="0.8444" stop-color="#caff00"/><stop offset="0.8667" stop-color="#fffd00"/><stop offset="0.8889" stop-color="#ffc600"/><stop offset="0.9111" stop-color="#ff8e00"/><stop offset="0.9333" stop-color="#ff6800"/><stop offset="0.9556" stop-color="#ff4a00"/><stop offset="0.9778" stop-color="#ff3300"/><stop offset="1.0000" stop-color="#ff1c00"/></linearGradient>
<radialGradient id="gsky11" gradientUnits="userSpaceOnUse" cx="381.5" cy="685.5" r="212.2"><stop offset="0.0000" stop-color="#ff00ff"/><stop offset="0.0222" stop-color="#ff00ff"/><stop offset="0.0444" stop-color="#ff00ff"/><stop offset="0.0667" stop-color="#fe00ff"/><stop offset="0.0889" stop-color="#fb00ff"/><stop offset="0.1111" stop-color="#f800ff"/><stop offset="0.1333" stop-color="#f400ff"/><stop offset="0.1556" stop-color="#ef00ff"/><stop offset="0.1778" stop-color="#f300ff"/><stop offset="0.2000" stop-color="#f600ff"/><stop offset="0.2222" stop-color="#f100ff"/><stop offset="0.2444" stop-color="#ea00ff"/><stop offset="0.2667" stop-color="#e400ff"/><stop offset="0.2889" stop-color="#dd00ff"/><stop offset="0.3111" stop-color="#d700ff"/><stop offset="0.3333" stop-color="#d100ff"/><stop offset="0.3556" stop-color="#b800ff"/><stop offset="0.3778" stop-color="#a000ff"/><stop offset="0.4000" stop-color="#8500ff"/><stop offset="0.4222" stop-color="#6700ff"/><stop offset="0.4444" stop-color="#4900ff"/><stop offset="0.4667" stop-color="#1c00ff"/><stop offset="0.4889" stop-color="#0000ff"/><stop offset="0.5111" stop-color="#001fff"/><stop offset="0.5333" stop-color="#0041ff"/><stop offset="0.5556" stop-color="#0063ff"/><stop offset="0.5778" stop-color="#008bff"/><stop offset="0.6000" stop-color="#00b3ff"/><stop offset="0.6222" stop-color="#00daff"/><stop offset="0.6444" stop-color="#00fffc"/><stop offset="0.6667" stop-color="#00ffd4"/><stop offset="0.6889" stop-color="#00ffad"/><stop offset="0.7111" stop-color="#00ff85"/><stop offset="0.7333" stop-color="#00ff53"/><stop offset="0.7556" stop-color="#00ff17"/><stop offset="0.7778" stop-color="#26ff00"/><stop offset="0.8000" stop-color="#5dff00"/><stop offset="0.8222" stop-color="#93ff00"/><stop offset="0.8444" stop-color="#caff00"/><stop offset="0.8667" stop-color="#fffd00"/><stop offset="0.8889" stop-color="#ffc600"/><stop offset="0.9111" stop-color="#ff8e00"/><stop offset="0.9333" stop-color="#ff6800"/><stop offset="0.9556" stop-color="#ff4a00"/><stop offset="0.9778" stop-color="#ff3300"/><stop offset="1.0000" stop-color="#ff1c00"/></radialGradient>
<linearGradient id="gcb" x1="0" y1="0" x2="1" y2="0"><stop offset="0.000" stop-color="#ff0000"/><stop offset="0.033" stop-color="#ff2a00"/><stop offset="0.067" stop-color="#ff5500"/><stop offset="0.100" stop-color="#ff8000"/><stop offset="0.133" stop-color="#ffaa00"/><stop offset="0.167" stop-color="#ffd400"/><stop offset="0.200" stop-color="#ffff00"/><stop offset="0.233" stop-color="#d4ff00"/><stop offset="0.267" stop-color="#aaff00"/><stop offset="0.300" stop-color="#7fff00"/><stop offset="0.333" stop-color="#55ff00"/><stop offset="0.367" stop-color="#2bff00"/><stop offset="0.400" stop-color="#00ff00"/><stop offset="0.433" stop-color="#00ff2a"/><stop offset="0.467" stop-color="#00ff55"/><stop offset="0.500" stop-color="#00ff80"/><stop offset="0.533" stop-color="#00ffaa"/><stop offset="0.567" stop-color="#00ffd4"/><stop offset="0.600" stop-color="#00ffff"/><stop offset="0.633" stop-color="#00d4ff"/><stop offset="0.667" stop-color="#00aaff"/><stop offset="0.700" stop-color="#0080ff"/><stop offset="0.733" stop-color="#0055ff"/><stop offset="0.767" stop-color="#002aff"/><stop offset="0.800" stop-color="#0000ff"/><stop offset="0.833" stop-color="#2a00ff"/><stop offset="0.867" stop-color="#5500ff"/><stop offset="0.900" stop-color="#8000ff"/><stop offset="0.933" stop-color="#aa00ff"/><stop offset="0.967" stop-color="#d400ff"/><stop offset="1.000" stop-color="#ff00ff"/></linearGradient>
<g id="wm" class="ser" font-size="121.200" style="font-family:'Liberation Serif',serif"><text class="ser" x="5" y="4.500" textLength="229.500" lengthAdjust="spacingAndGlyphs" style="fill:#cfcfcf">IGN</text><text class="ser" x="1.2" y="1.2" textLength="229.500" lengthAdjust="spacingAndGlyphs" style="fill:#c6c6c6">IGN</text><text class="ser" x="-1" y="-1" textLength="229.500" lengthAdjust="spacingAndGlyphs" style="fill:#f7f7f7">IGN</text><text class="ser" x="0" y="0" textLength="229.500" lengthAdjust="spacingAndGlyphs" style="fill:#e1e1e1">IGN</text></g>
<mask id="mwm" maskUnits="userSpaceOnUse" x="-10" y="-100" width="260" height="120"><rect x="-10" y="-100" width="260" height="120" fill="#fff"/><text class="ser" x="0" y="0" font-size="121.200" textLength="229.500" lengthAdjust="spacingAndGlyphs" style="fill:#000;font-family:'Liberation Serif',serif">IGN</text></mask>
<g id="wmt" font-size="121.200" style="font-family:'Liberation Serif',serif"><g mask="url(#mwm)"><text class="ser" x="5" y="4.500" textLength="229.500" lengthAdjust="spacingAndGlyphs" style="fill:#7c7c7c;fill-opacity:.42">IGN</text><text class="ser" x="-1" y="-1" textLength="229.500" lengthAdjust="spacingAndGlyphs" style="fill:#fff;fill-opacity:.7">IGN</text></g><text class="ser" x="0" y="0" textLength="229.500" lengthAdjust="spacingAndGlyphs" style="fill:#a7a7a7;fill-opacity:.34">IGN</text></g>
</defs>
<filter id="bl" x="-5%" y="-5%" width="110%" height="110%"><feGaussianBlur stdDeviation=".45"/></filter>
<g id="logo">
<rect x="43" y="1" width="352" height="111.5" fill="#fecb32"/>
<rect x="395" y="1.2" width="152.600" height="11.700" fill="#e9e9e9"/>
<rect x="43" y="1" width="11" height="111.5" fill="#23397e"/>
<rect x="54" y="1" width="11.4" height="111.5" fill="#d3323c"/>
<rect x="54" y="28.6" width="11.4" height="55.8" fill="#fdea1f"/>
<rect x="274.2" y="1" width="2.800" height="111.5" fill="#fff6d8"/>
<polygon points="49.6,35.7 50.4,37.9 52.7,38.0 50.9,39.4 51.5,41.7 49.6,40.4 47.7,41.7 48.3,39.4 46.5,38.0 48.8,37.9" fill="#f7dc55"/>
<polygon points="47.4,55.2 48.2,57.4 50.5,57.5 48.7,58.9 49.3,61.2 47.4,59.9 45.5,61.2 46.1,58.9 44.3,57.5 46.6,57.4" fill="#f7dc55"/>
<polygon points="49.6,73.4 50.4,75.6 52.7,75.7 50.9,77.1 51.5,79.4 49.6,78.1 47.7,79.4 48.3,77.1 46.5,75.7 48.8,75.6" fill="#f7dc55"/>
<g filter="url(#bl)">
<rect x="87.6" y="48.5" width="6.700" height="34.5" fill="#d9dde2"/>
<rect x="86.1" y="43.5" width="9.700" height="5.2" fill="#d8ad2e"/>
<path d="M86.19999999999999 44l.6-4.500q4.200-2.500 8.400 0l.6 4.500z" fill="#6b2b3a"/>
<rect x="90.39999999999999" y="37" width="1.2" height="2.500" fill="#8a6a2a"/>
<rect x="86.5" y="82.8" width="8.900" height="4.500" fill="#c8a92c"/>
<rect x="84.6" y="87.2" width="12.600" height="5.900" fill="#4f8fd6"/>
<rect x="84.6" y="88.6" width="12.600" height="1.3" fill="#cfe0f2"/>
<rect x="146.1" y="48.5" width="6.700" height="34.5" fill="#d9dde2"/>
<rect x="144.6" y="43.5" width="9.700" height="5.2" fill="#d8ad2e"/>
<path d="M144.7 44l.6-4.500q4.200-2.500 8.400 0l.6 4.500z" fill="#6b2b3a"/>
<rect x="148.9" y="37" width="1.2" height="2.500" fill="#8a6a2a"/>
<rect x="145.0" y="82.8" width="8.900" height="4.500" fill="#c8a92c"/>
<rect x="143.1" y="87.2" width="12.600" height="5.900" fill="#4f8fd6"/>
<rect x="143.1" y="88.6" width="12.600" height="1.3" fill="#cfe0f2"/>
<path d="M83.900 58.5q1-2 6-1.800h10.300v5h-10q-3 0-3.500 2q2 4 10 1.500l2 4.500q-6 5-13 9l-1-6q5-2 8-5q-8 1-10-4z" fill="#d82e34"/>
<path d="M156.500 58.500q-1-2-6-1.800h-11v5h10.700q3 0 3.500 2q-2 4-10 1.500l-2 4.500q6 5 13 9l1-6q-5-2-8-5q8 1 10-4z" fill="#d82e34"/>
<path d="M101.500 31q-4-9 6-10.500q6-1 12 0.500q6-1.500 12-0.500q10 1.500 6 10.500l-3 6h-30z" fill="none" stroke="#c9a227" stroke-width="1.700"/>
<path d="M103 33q0-7 8-6.500q4-3 9 0q5-3 9 0q8-.5 8 6.500l-2.500 5h-29z" fill="#d82e34"/>
<path d="M119.800 15.500v21M110.500 22.500q1.500 8 3.500 14M129.500 22.500q-1.500 8-3.500 14" stroke="#c9a227" stroke-width="1.500" fill="none"/>
<path d="M102.500 33h35l-3.500 10.500h-27.500z" fill="#c99b2b"/>
<path d="M104 35.500h32M105.500 39.500h29" stroke="#b9432e" stroke-width="1.100" stroke-dasharray="1.5 1.500"/>
<rect x="118.600" y="15" width="2.400" height="5" fill="#8a7a2a"/>
<path d="M100.200 43.900h39.200v31q-.5 14-19.600 18.200q-19-4.200-19.600-18.200z" fill="#d82e34"/>
<path d="M119.500 43.900h19.900v23h-19.900z" fill="#e3e3e6"/>
<path d="M100.200 65h19.300v27q-18.500-4-19.300-17z" fill="#e5b52e"/>
<path d="M103.200 65v20M107 65v24M110.800 65v26M114.600 65v27.500M118.300 65v28" stroke="#d82e34" stroke-width="1.900"/>
<path d="M122.500 68h16.900v7q-.5 13-16.900 17.500z" fill="#d82e34"/>
<circle cx="130" cy="77.500" r="6.500" fill="none" stroke="#e5b52e" stroke-width="1.500"/><path d="M123.500 77.500h13M130 71v13M125.400 72.900l9.200 9.200M134.600 72.900l-9.200 9.200" stroke="#e5b52e" stroke-width="1"/><circle cx="130" cy="77.500" r="1.200" fill="#3a9a4a"/>
<path d="M105 63.500v-6.500h1.500v-5.500h1.500v-3h1.200v-2h1.300v2h1.200v3h1.500v5.500h1.500v6.500z" fill="#e2aa2a"/>
<path d="M123.500 49l3 1.500l2.500-3.500l2 1l2.500-1.500l-.5 4l-2.500 2.500l1.500 3l-1.500 3.500l1 3l-2 .5l-1.500-3l-3 2.500l-1.500-1l2.500-4l-3-2.500l3-1.500z" fill="#c05a9c"/>
<ellipse cx="120.200" cy="66.500" rx="4.600" ry="5.700" fill="#2f66b8" stroke="#d82e34" stroke-width="1"/>
<circle cx="118.700" cy="65" r=".8" fill="#e5b52e"/><circle cx="121.700" cy="65" r=".8" fill="#e5b52e"/><circle cx="120.200" cy="68.500" r=".8" fill="#e5b52e"/>
<path d="M114 89.500q6 3 12 0q-2 3.500-6 3.700q-4-.2-6-3.700z" fill="#e3e3e6"/>
</g>
<g filter="url(#bl)">
<text x="172.7" y="54" font-size="11.800" textLength="68" lengthAdjust="spacingAndGlyphs" style="fill:#3f3a22">GOBIERNO</text>
<text x="172.7" y="67.800" font-size="11.800" textLength="66.500" lengthAdjust="spacingAndGlyphs" style="fill:#3f3a22">DE ESPAÑA</text>
<text x="288" y="53" font-size="10.400" textLength="62.500" lengthAdjust="spacingAndGlyphs" style="fill:#3f3a22">MINISTERIO</text>
<text x="288" y="67" font-size="10.400" textLength="75.500" lengthAdjust="spacingAndGlyphs" style="fill:#3f3a22">DE FOMENTO</text>
<text x="400" y="48.800" font-size="8.100" textLength="44" lengthAdjust="spacing" style="fill:#2e2e2e">INSTITUTO</text>
<text x="400" y="60.600" font-size="8.100" textLength="54" lengthAdjust="spacing" style="fill:#2e2e2e">GEOGRÁFICO</text>
<text x="400" y="71.800" font-size="8.100" textLength="41.800" lengthAdjust="spacing" style="fill:#2e2e2e">NACIONAL</text>
<path d="M474.7 45.3L482.9 41.2L487.6 39.1L489.4 41.4L498.8 41.2L499.4 43.8L506.7 48.5L502.0 51.8L509.1 55.1L503.5 58.6L515.4 59.8L507.9 64.9L499.6 68.5L496.1 73.2L491.2 70.4L484.4 75.5L480.8 77.2L479.6 70.8L472.6 69.6L474.9 61.4L479.6 56.7L473.8 52.0Z" fill="#d6247c"/>
<path d="M476.5 43.8L472.9 51.8L479.4 56.5L472.4 65.9L471.2 70.6L478.0 72.0L479.4 77.6L490.0 72.0L493.5 75.3L499.4 69.4" fill="none" stroke="#2b45a8" stroke-width="1.100" stroke-linejoin="round"/>
<path d="M476.5 43.8L484.1 47.1L492.4 45.3L500.6 51.8L499.4 58.8L502.9 61.2L500.0 68.8" fill="none" stroke="#2b45a8" stroke-width="1" stroke-linejoin="round"/>
<path d="M509.4 71.8L505.9 73.5L504.7 77.1L507.6 78.2L511.2 75.9" fill="none" stroke="#2b45a8" stroke-width="1.500" stroke-linecap="round" stroke-linejoin="round"/>
<path d="M512.4 75.3L514.7 70.6L515.3 74.1L518.2 69.4L519.4 72.9" fill="none" stroke="#2b45a8" stroke-width="1.500" stroke-linecap="round" stroke-linejoin="round"/>
<path d="M521.2 72.4L522.9 67.6" fill="none" stroke="#2b45a8" stroke-width="1.500" stroke-linecap="round" stroke-linejoin="round"/>
<path d="M524.1 64.1L524.4 64.7" fill="none" stroke="#2b45a8" stroke-width="1.500" stroke-linecap="round" stroke-linejoin="round"/>
<path d="M530.6 65.9L527.1 66.5L526.5 70.0L530.0 69.4L531.8 65.3L530.6 74.1L526.5 77.6L525.3 75.3" fill="none" stroke="#2b45a8" stroke-width="1.500" stroke-linecap="round" stroke-linejoin="round"/>
<path d="M508.8 83.8L514.7 80.0L518.2 77.6" fill="none" stroke="#2b45a8" stroke-width="1.500" stroke-linecap="round" stroke-linejoin="round"/>
</g>
</g>
<rect x="948.5" y="2.500" width="454" height="2.200" fill="#000"/>
<rect x="948.5" y="110" width="454.5" height="2.200" fill="#000"/>
<text x="1177" y="50" font-size="28" text-anchor="middle" textLength="255" lengthAdjust="spacing">Área de Geodesia</text>
<text x="1179" y="79.200" font-size="17.200" text-anchor="middle" textLength="436" lengthAdjust="spacing">Subdirección General de Geodesia y Cartografía</text>
<text x="26.3" y="205" font-size="27.800" textLength="505.500" lengthAdjust="spacingAndGlyphs">CONTROL DE CALIDAD GNSS DIARIO</text>
<text x="26" y="236.500" font-size="22">Estación: CEU1</text>
<text x="26" y="268.500" font-size="22">Fecha: 2015 01 24</text>
<text x="26" y="299.500" font-size="22">Día del año: 024</text>
<rect x="38" y="348.500" width="15.500" height="15.500" fill="#000"/>
<text x="58.3" y="366.500" font-size="22">Sólo L1</text>
<rect x="34.5" y="386.500" width="158.500" height="23" fill="url(#gcb)" stroke="#000" stroke-width="3"/>
<rect x="51.9" y="407.5" width="1.2" height="1.5" fill="#000"/>
<rect x="69.4" y="406" width="1.2" height="3" fill="#000"/>
<rect x="86.9" y="407.5" width="1.2" height="1.5" fill="#000"/>
<rect x="104.4" y="406" width="1.2" height="3" fill="#000"/>
<rect x="121.9" y="407.5" width="1.2" height="1.5" fill="#000"/>
<rect x="139.4" y="406" width="1.2" height="3" fill="#000"/>
<rect x="156.9" y="407.5" width="1.2" height="1.5" fill="#000"/>
<rect x="174.4" y="406" width="1.2" height="3" fill="#000"/>
<text x="200" y="405" font-size="22">Relación señal/ruido en L2</text>
<text x="34.5" y="432.500" font-size="22" text-anchor="middle">0</text>
<text x="69.5" y="432.500" font-size="22" text-anchor="middle">2</text>
<text x="104.5" y="432.500" font-size="22" text-anchor="middle">4</text>
<text x="139.5" y="432.500" font-size="22" text-anchor="middle">6</text>
<text x="174.5" y="432.500" font-size="22" text-anchor="middle">8</text>
<g shape-rendering="crispEdges">
<path d="M736 433.4H754.2V425.6H762.2V441.3H764.4V433.4H776.7V425.6H790V417.7H790.2V425.6H795.7V433.4H798.3V425.6H801V433.4H810.6V425.6H835.3V417.7H837.9V409.8H841V401.9H879.1V394H894.8V401.9H900.1V409.8H905.3V417.7H912.5V425.6H918.7V417.7H918.9V409.8H922.4V401.9H935.5V409.8H941.6V401.9H944.2V409.8H961.8V401.9H965.7V409.8H972.2V401.9H993.2V409.8H1001.3V401.9H1004.4V409.8H1006.2V401.9H1007.7V409.8H1029.8V401.9H1037.9V409.8H1042.9V401.9H1044.2V409.8H1053.8V401.9H1055.4V409.8H1069.4V417.7H1095.6V425.6H1102.2V417.7H1106.8V425.6H1117.3V417.7H1118.6V425.6H1135.2V433.4H1144.2V425.6H1163.2V433.4H1182.2V425.6H1196.2V433.4H1213.8V425.6H1234.8V433.4H1245V425.6H1265.6V417.7H1266.2V409.8H1268.9V401.9H1271.9V409.8H1274.1V417.7H1302.1V425.6H1307.2V433.4H1321.4V441.3H1322.2V433.4H1322.7V441.3H1329.9V433.4H1346.1V425.6H1348.9V433.4H1366V504.3H736Z" fill="#d9d9d9"/>
</g>
<use href="#wmt" x="939.4" y="443"/>
<path d="M736 464.5h630M736 425.5h630M736 386.5h630M736 346.5h630M736 307.5h630M736 268.5h630M736 228.5h630" stroke="#000" stroke-width="1.250" fill="none"/>
<g shape-rendering="crispEdges" fill="none" stroke-linejoin="miter">
<path d="M736 433.4H736.4V457H738V449.2H740.2V441.3H740.8V449.2H743.9V433.4H745.8V441.3H748V449.2H748.5V433.4H749.3V441.3H749.6V433.4H750.2V441.3H750.9V433.4H752V449.2H752.6V441.3H752.8V433.4H754.2V441.3H754.4V433.4H754.6V441.3H755V433.4H756.1V441.3H758.1V449.2H758.3V441.3H765.8V449.2H766V441.3H769.7V433.4H778.2V441.3H779.8V449.2H780.4V441.3H780.8V433.4H783V449.2H783.2V441.3H783.5V425.6H787.2V433.4H790.2V441.3H792.4V433.4H793.1V441.3H793.3V433.4H801V441.3H804.5V449.2H805.3V441.3H806.9V449.2H808.6V441.3H809.5V433.4H815.8V425.6H821.3V433.4H823.3V441.3H823.5V433.4H826.1V449.2H826.6V433.4H827.9V425.6H835.8V433.4H836.2V425.6H840.6V417.7H841.4V425.6H841.7V417.7H842.3V425.6H842.5V417.7H842.8V425.6H843.2V417.7H843.6V409.8H844.3V417.7H845.6V425.6H845.8V433.4H846V425.6H846.5V417.7H851.7V409.8H863.1V417.7H867.5V425.6H867.9V417.7H869.7V425.6H870.1V417.7H871.8V409.8H878.2V417.7H878.4V409.8H878.6V425.6H879.5V409.8H879.7V417.7H879.9V409.8H881V425.6H881.2V409.8H882.6V417.7H883.2V409.8H885.2V417.7H885.4V433.4H885.6V425.6H885.8V409.8H892.8V417.7H893.1V409.8H894.2V417.7H897.2V425.6H897.4V417.7H898.5V425.6H899.4V417.7H904.7V425.6H913.6V433.4H914.1V425.6H924.1V409.8H930.2V417.7H932.9V409.8H945.3V417.7H957.6V425.6H959.3V417.7H960.2V409.8H960.4V417.7H960.7V409.8H962.6V417.7H963.7V409.8H963.9V425.6H965.7V417.7H973.3V425.6H974.2V417.7H974.7V409.8H976.8V425.6H977.1V417.7H977.3V409.8H978.2V417.7H979V409.8H979.2V425.6H979.5V409.8H990.8V417.7H991.5V409.8H994.6V417.7H995.9V409.8H1000.9V417.7H1002.7V409.8H1011.2V417.7H1019.5V409.8H1019.7V417.7H1020.2V409.8H1021.2V417.7H1022.1V425.6H1022.3V417.7H1022.6V425.6H1023V433.4H1023.2V417.7H1027.4V433.4H1027.6V417.7H1036.6V409.8H1044.2V417.7H1049.9V425.6H1050.3V417.7H1053.2V409.8H1053.6V417.7H1053.8V409.8H1056V417.7H1056.2V409.8H1057.1V417.7H1057.8V409.8H1058.2V417.7H1058.4V409.8H1058.7V425.6H1059.3V417.7H1063.5V425.6H1063.7V417.7H1068.7V425.6H1072.9V433.4H1073.1V425.6H1085.1V417.7H1087.3V425.6H1093.7V433.4H1095.4V449.2H1096.1V433.4H1102.2V425.6H1114.7V433.4H1116.4V425.6H1122.8V433.4H1124.5V425.6H1129.8V433.4H1130.2V441.3H1131.9V433.4H1133.5V441.3H1135.4V449.2H1135.9V441.3H1140.2V449.2H1140.5V441.3H1141.1V449.2H1142V441.3H1142.2V433.4H1143.1V441.3H1143.3V449.2H1143.5V441.3H1143.8V433.4H1147V441.3H1147.2V433.4H1149.4V425.6H1149.7V441.3H1150.1V425.6H1153.2V441.3H1154.5V425.6H1157.8V433.4H1160.8V441.3H1167.2V449.2H1167.6V441.3H1170.4V449.2H1172.2V457H1176.3V449.2H1177V441.3H1180.7V433.4H1187.1V441.3H1188.2V433.4H1188.8V425.6H1190.8V433.4H1198.2V441.3H1201.9V449.2H1203.2V441.3H1208.5V449.2H1208.7V441.3H1213.1V433.4H1218.1V441.3H1218.6V433.4H1222.9V441.3H1223.6V433.4H1227.1V441.3H1228.8V449.2H1229.1V433.4H1231.7V441.3H1231.9V433.4H1234.3V441.3H1244.8V433.4H1251.2V441.3H1251.6V433.4H1263.2V441.3H1263.4V433.4H1265.6V425.6H1270.6V433.4H1271.1V425.6H1274.8V433.4H1277V425.6H1279.8V441.3H1280V425.6H1284.6V433.4H1285.9V425.6H1287V417.7H1287.2V425.6H1287.9V417.7H1288.8V425.6H1289.2V417.7H1289.4V425.6H1289.7V417.7H1290.1V425.6H1291V417.7H1291.6V425.6H1291.8V417.7H1294.9V425.6H1295.6V417.7H1296.7V425.6H1300.6V433.4H1301.5V425.6H1301.7V433.4H1303V441.3H1303.4V433.4H1305.6V441.3H1309.3V449.2H1310V441.3H1319.2V449.2H1320.5V441.3H1322.7V449.2H1324.4V457H1326.2V449.2H1332.8V441.3H1334.5V449.2H1335.2V433.4H1348.9V441.3H1355.7V449.2H1355.9V441.3H1359.2V449.2H1359.7V441.3H1366" stroke="#00ff00" stroke-width="3"/>
<path d="M736 433.4H740.8V441.3H743.9V433.4H745.8V441.3H748.5V433.4H750.2V441.3H750.9V433.4H752V449.2H752.6V441.3H752.8V433.4H754.2V441.3H754.4V433.4H754.6V441.3H755V433.4H756.1V441.3H769.7V433.4H778.9V441.3H779.5V433.4H779.8V441.3H780.4V433.4H783V441.3H783.5V425.6H790.2V433.4H801V441.3H809.5V433.4H815.8V425.6H823.3V433.4H827.9V425.6H840.6V417.7H841.4V425.6H841.7V417.7H842.3V425.6H842.5V417.7H843.2V409.8H844.3V417.7H845.6V425.6H845.8V433.4H846V425.6H846.5V417.7H851.7V409.8H863.1V417.7H871.8V409.8H878.2V417.7H878.4V409.8H881V417.7H881.2V409.8H882.6V417.7H883.2V409.8H885.2V417.7H885.4V425.6H885.6V417.7H885.8V409.8H894.2V417.7H904.7V425.6H924.1V409.8H930.2V417.7H932.9V409.8H945.3V417.7H960.2V409.8H960.4V417.7H960.7V409.8H962.6V417.7H963.7V409.8H963.9V417.7H974.7V409.8H976.8V425.6H977.1V417.7H977.3V409.8H979.2V417.7H979.5V409.8H1011.2V417.7H1019.5V409.8H1023V417.7H1036.6V409.8H1044.2V417.7H1053.2V409.8H1053.6V417.7H1053.8V409.8H1056V417.7H1056.2V409.8H1057.1V417.7H1057.8V409.8H1058.2V417.7H1058.4V409.8H1058.7V417.7H1068.7V425.6H1085.1V417.7H1087.3V425.6H1093.7V433.4H1102.2V425.6H1122.8V433.4H1124.5V425.6H1129.8V433.4H1133.5V441.3H1141.1V449.2H1142V441.3H1142.2V433.4H1143.1V441.3H1143.3V449.2H1143.5V441.3H1143.8V433.4H1147V441.3H1147.2V433.4H1149.4V425.6H1157.8V433.4H1160.8V441.3H1180.7V433.4H1188.2V425.6H1190.8V433.4H1198.2V441.3H1213.1V433.4H1218.1V441.3H1218.6V433.4H1222.9V441.3H1223.6V433.4H1227.1V441.3H1227.3V433.4H1228.8V441.3H1229.1V433.4H1231.7V441.3H1231.9V433.4H1234.3V441.3H1244.8V433.4H1265.6V425.6H1274.8V433.4H1277V425.6H1287V417.7H1287.2V425.6H1287.9V417.7H1288.8V425.6H1289.2V417.7H1289.4V425.6H1289.7V417.7H1294.9V425.6H1295.6V417.7H1296.7V425.6H1301.7V433.4H1305.6V441.3H1322.7V449.2H1332.8V441.3H1335.2V433.4H1348.9V441.3H1366" stroke="#000" stroke-width="1.300"/>
</g>
<rect x="1189.2" y="203.2" width="12.600" height="12.600" fill="#d9d9d9"/><rect x="1189.2" y="219.2" width="12.600" height="12.600" fill="#000"/><rect x="1189.2" y="234.2" width="12.600" height="12.600" fill="#00ff00"/>
<text x="1206.7" y="211.500" font-size="13.900">GNSS predichos</text><text x="1206.7" y="226.800" font-size="13.900">GNSS captados L1</text><text x="1206.7" y="242.900" font-size="13.900">GNSS captados L1 y L2</text>
<path d="M762.2 504.3v-4.200M762.2 189.3v4.200M788.5 504.3v-4.200M788.5 189.3v4.200M841 504.3v-4.200M841 189.3v4.200M867.2 504.3v-4.200M867.2 189.3v4.200M919.8 504.3v-4.200M919.8 189.3v4.200M946 504.3v-4.200M946 189.3v4.200M998.5 504.3v-4.200M998.5 189.3v4.200M1024.8 504.3v-4.200M1024.8 189.3v4.200M1077.2 504.3v-4.200M1077.2 189.3v4.200M1103.5 504.3v-4.200M1103.5 189.3v4.200M1156 504.3v-4.200M1156 189.3v4.200M1182.2 504.3v-4.200M1182.2 189.3v4.200M1234.8 504.3v-4.200M1234.8 189.3v4.200M1261 504.3v-4.200M1261 189.3v4.200M1313.5 504.3v-4.200M1313.5 189.3v4.200M1339.8 504.3v-4.200M1339.8 189.3v4.200M736 504.3v-6.200M736 189.3v6.200M814.8 504.3v-6.200M814.8 189.3v6.200M893.5 504.3v-6.200M893.5 189.3v6.200M972.2 504.3v-6.200M972.2 189.3v6.200M1051 504.3v-6.200M1051 189.3v6.200M1129.8 504.3v-6.200M1129.8 189.3v6.200M1208.5 504.3v-6.200M1208.5 189.3v6.200M1287.2 504.3v-6.200M1287.2 189.3v6.200M1366 504.3v-6.200M1366 189.3v6.200M736 504.3h6.500M1366 504.3h-6.500M736 464.9h6.500M1366 464.9h-6.500M736 425.6h6.500M1366 425.6h-6.500M736 386.2h6.500M1366 386.2h-6.500M736 346.8h6.500M1366 346.8h-6.500M736 307.4h6.500M1366 307.4h-6.500M736 268.1h6.500M1366 268.1h-6.500M736 228.7h6.500M1366 228.7h-6.500M736 189.3h6.500M1366 189.3h-6.500" stroke="#000" stroke-width="2" fill="none"/>
<rect x="736" y="189.3" width="630" height="315" fill="none" stroke="#000" stroke-width="4.400"/>
<text x="736" y="527.9" font-size="22" text-anchor="middle">0</text>
<text x="814.8" y="527.9" font-size="22" text-anchor="middle">3</text>
<text x="893.5" y="527.9" font-size="22" text-anchor="middle">6</text>
<text x="972.2" y="527.9" font-size="22" text-anchor="middle">9</text>
<text x="1051" y="527.9" font-size="22" text-anchor="middle">12</text>
<text x="1129.8" y="527.9" font-size="22" text-anchor="middle">15</text>
<text x="1208.5" y="527.9" font-size="22" text-anchor="middle">18</text>
<text x="1287.2" y="527.9" font-size="22" text-anchor="middle">21</text>
<text x="1366" y="527.9" font-size="22" text-anchor="middle">24</text>
<text x="1374.5" y="512.1" font-size="22">0</text>
<text x="1374.5" y="472.7" font-size="22">5</text>
<text x="1374.5" y="433.4" font-size="22">10</text>
<text x="1374.5" y="394" font-size="22">15</text>
<text x="1374.5" y="354.6" font-size="22">20</text>
<text x="1374.5" y="315.2" font-size="22">25</text>
<text x="1374.5" y="275.9" font-size="22">30</text>
<text x="1374.5" y="236.5" font-size="22">35</text>
<text x="1374.5" y="197.1" font-size="22">40</text>
<text transform="translate(1428 349.3) rotate(-90)" font-size="22" text-anchor="middle">Número de satélites</text>
<use href="#wmt" x="939.4" y="776.200"/>
<path d="M736 845.5h630M736 793.5h630M736 740.5h630M736 688.5h630M736 635.5h630" stroke="#000" stroke-width="1.250" fill="none"/>
<g fill="none" stroke-width="2.5" stroke-linecap="square" stroke-linejoin="round" shape-rendering="crispEdges" clip-path="url(#cp2)">
<path stroke="#ff0000" d="M769.7 861.1l0.6 0.5M771.9 862.7l1.5 1.2M775.8 865.6l0.9 0.7M1309.6 860.4l2.4 1.8M1312.6 862.6l3.1 2.2M1316.8 865.6l1.3 0.9M1319.4 867.4l1.3 0.8M1322 869.1l0.7 0.4M1004 861.7l3.5 2.5M1008.3 864.8l4.6 3.1M1017.1 870.5l0.4 0.3M859.6 846.9h0M1050.8 869.6l7.2 3.2M1155.6 854.7h0M739.7 868.8l0.2 0.1M1361.4 866.3l0.7 0.3M1363.6 867.2l1.3 0.5M1365.8 868.1l0.2 0.1M1270.8 867.7l3.3 1.2M1276.8 869.7l0.4 0.1M960.7 867.6l4.1 1.4M1225.3 862.3l1.8-0.1M1228.4 862.1l2.2-0.3M889.6 861.6l2.2 0.1"/>
<path stroke="#ff2a00" d="M745.6 611.7l1.6 1M748.7 613.8l0.9 0.6M751.5 615.8l1.3 1M753.9 617.6l0.5 0.3M755.5 618.7l0.4 0.3M777.1 635.7h0M777.1 635.7l1.1 0.8M779.5 637.6l0.5 0.3M782.4 639.8l0.8 0.7M826.6 681.2l0.6-0.4M971.6 638l0.6-0.4M1291 845.6h0M1291 845.6l17.2 13.8M1308.5 859.5l1.1 0.9M983.6 845.6h0M983.6 845.6l20.4 16.1M1291.8 637.7l0.9-0.4M846.9 612.9l0.7 0.5M848 613.6l1.1 0.8M1187.1 848.1l3.7-1.7M855.7 848.5l3.9-1.6M1143.1 613.3l0.7 0.3M1145.3 614.6l0.6 0.4M1146.8 615.5l0.4 0.3M748.7 688.8l0.2-0.1M1148.6 693.8l0.2-0.1M1046 867l4.8 2.6M1333.8 626l0.5-0.2M811 610.8l0.5 0.2M812.1 611.3l0.5 0.2M1151.8 855.8l3.8-1.1M926.1 856.1l3.3-0.6M1214.4 613.4l0.9 0.4M1217 614.5l1.1 0.4M1304.3 680.4l0.2 0.2M1018 624.7l1.3-0.3M1357 864.3l4.4 2M928.1 622.2l0.4-0.1M1266.5 865.9l4.3 1.8M956.5 866l4.2 1.6M1244.2 622.1l0.6-0.1M1246.8 621.6l0.6-0.2M881.5 612.7l0.8 0.1M883.7 613.1l0.2 0.1M990.6 694.8h0M1222.1 862.5l3.2-0.2M885.8 861.2l3.8 0.4M1296 704.5h0"/>
<path stroke="#ff5500" d="M736 651.2l2.8-1.8M1364.9 650.8l1.1-0.7M1126 655.6l1.6-1M1056.7 644.1l3.5-2.1M759.4 621.7l0.4 0.3M761.2 623l1.7 1.4M763.6 624.9l7 5.5M774.5 633.6l0.9 0.7M776.5 635.1l0.6 0.6M1085.8 845.8l0.9-0.4M1186.8 720.6l0.5 0M827.2 680.8l4.4-2.5M881.9 717.1l0.9-0.1M975.8 635.9l0.8-0.5M976.6 635.4l0.2-0.1M1288.3 843.5l2 1.6M978.8 677.2l4.2-2.7M781.7 678.3l4.6-2.8M1294.9 636.2l1.5-0.8M1296.4 635.4l0.9-0.4M849.1 614.4l0.2 0.1M850.4 615.3l8.3 5.9M883.7 641.3l9.4 7.5M1183.1 849.9l4-1.8M851.9 849.9l3.8-1.4M1149.9 617.5l3.3 2.2M1155.1 621.1l3.1 2.2M1186.2 645.5l3.3 2.6M1190.1 648.6l3.3 2.6M748.9 688.7l4.2-2.3M923.9 697.4l3.7-1.5M845.2 690.7l3.7-1.9M1071.3 691.2l3.8-1.9M813 701.3l3.3-1.3M1148.8 693.7l3.7-1.9M1216.6 704.5l3.1-1M1040.5 863.6l5.5 3.4M1336 625.2l2-0.7M813.2 611.8l0.5 0.2M814.3 612.4l3.7 2M883.7 666.9l1.7 1.3M1148.3 856.8l3.5-1M922.4 856.6l3.7-0.5M1218.1 614.9l4.6 2.2M1298.4 676.2l5.9 4.2M1023.4 623.5l1.1-0.2M1352 861.6l5 2.7M930.9 621.6l2-0.4M1065.7 721l0.4 0.3M1262.1 863.8l4.4 2.1M754.4 720l0.8 0.5M951.5 863.6l5 2.4M1247.4 621.4h0M1248.8 621.2l0.6-0.1M1250.5 620.9l0.4 0M883.9 613.2l2.2 0.5M886.9 613.9l0.7 0.2M985.8 691.6l4.8 3.2M1218.1 862.4l4 0.1M882.3 860.7l3.5 0.5M1178.8 617.4l0.6 0.1M1180.3 617.6l1.9 0.4M1290.8 701.1l5.2 3.4"/>
<path stroke="#ff8000" d="M738.8 649.4l3.3-2M1127.6 654.6l3.2-2.1M1298.8 752.8h0M961.3 727.7l0.7 0.1M1130.6 827.7l2.6-1.7M801 835.3l1.9-1.1M1266.9 732.5l0.4 0M850.8 733.7l0.5 0.1M1011.6 837.1l2.6-1.5M1060.2 642l3-1.7M936.2 738.7l0.2 0.1M1080.5 848.4l5.3-2.6M1090.2 843.6l2.6-1.4M739.3 815.1l1.3-0.9M740.8 814.1l0.9-0.6M1187.3 720.6l1.1-0.1M1188.6 720.5l0.9-0.1M831.6 678.3l3.1-1.8M1019.5 768.1l1.3-0.2M882.8 717l2.2-0.3M1067.2 808.7l2.2-1.4M976.8 635.3l3.1-1.4M1129.8 739.2h0M1290.3 845.1l0.7 0.5M983 674.5l3-1.9M1168.5 764.5l1.1-0.2M786.3 675.5l3.1-2M972.5 765l0.8-0.1M979.7 842.4l3.9 3.2M1298.4 634.5l2.8-1.4M858.7 621.2l18 14.3M876.7 635.5l7 5.8M1177.9 852l5.2-2.1M846.9 851.6l5-1.7M1158.2 623.3l15.7 12.3M1173.9 635.6l12.3 9.9M753.1 686.4l2.8-1.6M944.2 772.6l1.4-0.4M927.6 695.9l0.5-0.2M928.3 695.6l1.9-0.9M1121 782l1.1-0.4M848.9 688.8l2.8-1.6M1040.9 774.4l0.9-0.3M1075.1 689.3l2.8-1.6M1267.3 774.8l1.1-0.4M816.3 700l0.2 0M816.7 699.9l2.2-0.9M1009.7 785.7l0.4-0.2M1010.3 785.4l0.5-0.2M1152.5 691.8l1.1-0.5M1153.8 691.1l1.5-0.8M1345.4 776.9l1.1-0.4M784.3 788.7l1.6-0.8M1219.7 703.5l1.3-0.5M1221.2 702.9l0.9-0.4M848.9 726.5l0.6 0.2M980.6 813.2l2.6 2M1030.9 856.6l9.6 7M1339.5 624l2.7-0.8M818 614.4l3.8 2.1M879.1 663.3l1.3 1M880.6 664.5l0.4 0.4M881.2 665l2.5 1.9M1143.5 857.9l4.8-1.1M917.6 857.1l4.8-0.5M1222.7 617.1l3.5 1.8M1294 672.9l4.4 3.3M1024.5 623.3l2.7-0.5M1157.8 722.4l2.6 1.4M1280.5 802.9l2.8 2.1M1344.1 856.5l7.9 5.1M932.9 621.2l2.4-0.3M1062.8 719.6l2.9 1.4M1184.9 799.9l2.4 1.7M1255.3 859.8l6.8 4M751.5 718.6l2.9 1.4M872.7 798.3l2.2 1.6M943.8 859.1l7.7 4.5M1250.9 620.9l2.7-0.4M887.6 614.1l2.8 0.9M982.3 689.2l3.5 2.4M1101.3 767.7l0.9 0.5M1212.7 862l5.4 0.4M771.7 772.7l1.3 0.8M877.1 859.5l5.2 1.2M1182.2 618l2.9 0.7M1287.2 698.8l3.6 2.3"/>
<path stroke="#ffaa00" d="M742.1 647.4l2.2-1.4M904.2 749.6l1.3 0.1M1130.8 652.5l2.4-1.6M1297.3 752.8l1.5 0M962 727.8l1.5 0M1128.2 829.3l2.4-1.6M798.8 836.7l2.2-1.4M1267.3 732.5l1.6 0.2M851.3 733.8l1.5 0.2M1009.4 838.4l2.2-1.3M1063.2 640.3l2.2-1.2M1218.6 744.4l1.3 0.3M936.4 738.8l1.7 0.4M1077 850l3.5-1.6M1088 844.7l2.2-1.1M737.1 816.6l2.2-1.5M1189.5 720.4l1.5-0.1M1365.3 816.6l0.7-0.5M834.7 676.5l1.9-1.1M1018 768.4l1.5-0.3M885 716.7l1.7-0.3M1065 810.1l2.2-1.4M979.9 633.9l2-0.9M1128 738.7l1.8 0.5M986 672.6l2.2-1.5M1166.9 764.7l1.6-0.2M789.4 673.5l2.4-1.6M970.7 765.3l1.8-0.3M820.2 737.9l1.6 0.5M1301.2 633.1l2-0.9M1039.2 743.2l1.1 0.3M1174.8 853.2l3.1-1.2M843.6 852.6l3.3-1M1337.1 744.1l1.1 0.3M755.9 684.8l2-1.2M942.7 773l1.5-0.4M930.2 694.7l0.5-0.2M930.9 694.4l1.1-0.5M1119.2 782.7l1.8-0.7M851.7 687.2l2-1.1M1039.2 774.9l1.7-0.5M1077.9 687.7l2-1.1M1265.6 775.4l1.7-0.6M818.9 699l1.8-0.8M1007.9 786.5l1.8-0.8M1155.3 690.3l2-1.1M1343.7 777.5l1.7-0.6M782.4 789.8l1.9-1.1M1222.1 702.5l1.7-0.7M847.1 725.7l1.8 0.8M983.2 815.2l3 2.4M1018.2 845.7h0M1018.2 845.7l12.7 10.9M1342.2 623.2l1.7-0.4M821.8 616.5l3 2M875.8 660.7l3.3 2.6M1015.1 752.9l1.6 0.6M1140.5 858.4l3-0.5M793.1 756.3l1.5 0.7M914.5 857.2l3.1-0.1M1226.2 618.9l2.9 1.6M1290.8 670.4l3.2 2.5M1027.2 622.8l1.7-0.2M1155.8 721.5l2 0.9M1283.3 805l2.9 2.1M1337.6 851.6l6.5 4.9M935.3 620.9l1.7-0.2M1060.8 718.6l2 1M1187.3 801.6l2.6 1.9M1250.3 856.4l5 3.4M749.6 717.6l1.9 1M874.9 799.9l2.6 1.9M937.7 854.8l6.1 4.3M1253.6 620.5l0.2 0M1254 620.5l1.3-0.2M890.4 615l2 0.7M979.9 687.5l2.4 1.7M1102.2 768.2l2.2 1.3M1209.2 861.4l3.5 0.6M773 773.5l2.2 1.3M873.8 858.5l3.3 1M1185.1 618.7l1.7 0.4M1284.6 697.1l2.6 1.7"/>
<path stroke="#ffd400" d="M744.3 646l3.5-2.1M901.8 749.3l2.4 0.3M1133.2 650.9l3.1-2M1295.1 752.7l2.2 0.1M963.5 727.8l2.2 0.1M1125.2 831.3l3-2M783.5 845.6l0.2-0.2M795.7 838.5l3.1-1.8M1268.9 732.7l2.2 0.3M852.8 734l2.2 0.3M994.1 847l2.9-1.5M1006.4 840.2l3-1.8M1065.4 639.1l2.9-1.5M1216.4 744l2.2 0.4M938.1 739.2l2.2 0.5M1073.8 851.5l3.2-1.5M1086.7 845.4h0M1086.7 845.4l1.3-0.7M736 817.3l1.1-0.7M1191 720.3l2.2-0.2M1362.1 818.8l3.2-2.2M836.6 675.4l3.1-1.9M1015.8 768.8l2.2-0.4M886.7 716.4l2.2-0.4M1061.9 812.2l3.1-2.1M981.9 633l1.9-0.9M1125.8 738.1l2.2 0.6M988.2 671.1l3.3-2.2M1164.8 765.1l2.1-0.4M791.8 671.9l3-2M968.5 765.8l2.2-0.5M818 737.2l2.2 0.7M1303.2 632.2l2-0.8M1040.3 743.5l2.4 0.7M1171.8 854.3l3-1.1M840.6 853.4l3-0.8M1338.2 744.4l2.4 0.9M757.9 683.6l2.8-1.7M940.3 773.8l2.4-0.8M932 693.9l2.6-1.2M1116.8 783.8l2.4-1.1M853.7 686.1l2.8-1.7M1037 775.7l2.2-0.8M1079.9 686.6l2.8-1.7M1263.4 776.2l2.2-0.8M820.7 698.2l2.4-1M1005.3 787.8l2.6-1.3M1157.3 689.2l2.6-1.4M1341.5 778.4l2.2-0.9M779.8 791.2l2.6-1.4M1223.8 701.8l2.4-1M844.7 724.7l2.4 1M986.2 817.6l4.4 3.5M1343.9 622.8l1.8-0.5M824.8 618.5l3.3 2.2M870.8 656.6l5 4.1M1016.7 753.5l2.4 1M1137.6 858.8l2.9-0.4M794.6 757l2.6 1.3M911.7 857.2l2.8 0M1229.1 620.5l2.8 1.7M1286.2 666.8l4.6 3.6M1028.9 622.6l1.8-0.2M1153.2 720.1l2.6 1.4M1286.2 807.1l4.1 3.2M1330.3 845.6h0M1330.3 845.6l7.3 6M937 620.7l2-0.2M1058.2 717.2l2.6 1.4M1189.9 803.5l3.5 2.7M1244.2 851.6l6.1 4.8M746.5 716l3.1 1.6M877.5 801.8l4.2 3.1M930.9 849.3l6.8 5.5M1255.3 620.3l2-0.1M892.4 615.7l2.2 0.8M976.4 685.1l3.5 2.4M1104.4 769.5l3 1.7M1206.1 860.7l3.1 0.7M775.2 774.8l3.2 2.1M870.5 857.3l3.3 1.2M1186.8 619.1l2.2 0.7M1281.3 694.9l3.3 2.2"/>
<path stroke="#ffff00" d="M747.8 643.9l3.5-2.1M899.2 749.1l2.6 0.2M1136.3 648.9l3.3-2.1M1292.9 752.6l2.2 0.1M965.7 727.9l2.2 0M1121.9 833.4l3.3-2.1M780.4 847.3l3.1-1.7M792.7 840.3l3-1.8M1271.1 733l2.1 0.2M855 734.3l2.4 0.3M991.3 848.5l2.8-1.5M1003.3 841.9l3.1-1.7M1068.3 637.6l3-1.7M1214.2 743.6l2.2 0.4M940.3 739.7l2.2 0.5M1071.1 852.6l2.7-1.1M1193.2 720.1l2.4-0.4M1358.8 821.1l3.3-2.3M839.7 673.5l3.1-1.9M1013.4 769.3l2.4-0.5M888.9 716l2.2-0.4M1058.7 814.4l3.2-2.2M983.8 632.1l2-0.9M1123.4 737.4l2.4 0.7M991.5 668.9l3.1-2.1M1162.3 765.6l2.5-0.5M794.8 669.9l3.1-2.1M966.3 766.2l2.2-0.4M815.6 736.6l2.4 0.6M1305.2 631.4l2-0.9M1042.7 744.2l2.4 0.7M1169.1 855.1l2.7-0.8M837.9 854.1l2.7-0.7M1340.6 745.3l2.6 0.9M760.7 681.9l3.1-2M937.9 774.7l2.4-0.9M934.6 692.7l2.6-1.4M1114.2 785l2.6-1.2M856.5 684.4l2.9-1.8M1034.6 776.6l2.4-0.9M1082.7 684.9l2.9-1.7M1261 777.1l2.4-0.9M823.1 697.2l2.6-1.3M1002.7 789.2l2.6-1.4M1159.9 687.8l2.9-1.7M1338.9 779.5l2.6-1.1M776.9 792.8l2.9-1.6M1226.2 700.8l2.4-1M842.1 723.6l2.6 1.1M990.6 821.1l5.3 4.4M1345.7 622.3l1.7-0.4M828.1 620.7l3.9 2.9M864 650.9l6.8 5.7M1019.1 754.5l2.6 1.1M1135.2 859l2.4-0.2M797.2 758.3l2.9 1.4M909 857l2.7 0.2M1231.9 622.2l3.3 2.2M1280.7 662.4l5.5 4.4M1030.7 622.4l1.9-0.2M1150.3 718.7l2.9 1.4M1290.3 810.3l4.6 3.7M939 620.5l1.8-0.1M1055.6 715.9l2.6 1.3M1193.4 806.2l3.9 3M1237.2 845.5h0M1237.2 845.5l7 6.1M743.4 714.4l3.1 1.6M881.7 804.9l4.4 3.4M926.8 845.6h0M926.8 845.6l4.1 3.7M1257.3 620.2l1.7-0.1M894.6 616.5l2.4 1M972.5 682.2l3.9 2.9M1107.4 771.2l3.1 1.7M1203 859.8l3.1 0.9M778.4 776.9l3.1 1.9M867.7 856.1l2.8 1.2M1189 619.8l2 0.7M1277.8 692.5l3.5 2.4"/>
<path stroke="#d4ff00" d="M751.3 641.8l3.5-2.1M896.8 749l2.4 0.1M1139.6 646.8l3.3-2.1M1290.8 752.6l2.1 0M967.9 727.9l2.4 0M1118.6 835.5l3.3-2.1M777.3 848.9l3.1-1.6M789.6 842.1l3.1-1.8M1273.2 733.2l2.2 0.2M857.4 734.6l2.2 0.3M988.4 850l2.9-1.5M1000.5 843.5l2.8-1.6M1071.3 635.9l0.9-0.4M1211.8 743.2l2.4 0.4M942.5 740.2l2.4 0.5M1068.3 853.7l2.8-1.1M1195.6 719.7l2.2-0.3M1355.5 823.3l3.3-2.2M842.8 671.6l3-2M1011 769.9l2.4-0.6M891.1 715.6l2.2-0.5M1055.4 816.7l3.3-2.3M985.8 631.2l2-0.9M1121 736.8l2.4 0.6M994.6 666.8l3.2-2.3M1160.2 766.1l2.1-0.5M797.9 667.8l3.3-2.3M964.2 766.8l2.1-0.6M813.2 735.9l2.4 0.7M1307.2 630.5l1.9-0.8M1045.1 744.9l2.2 0.6M1166.5 855.9l2.6-0.8M835.3 854.7l2.6-0.6M1343.2 746.2l2.5 0.8M763.8 679.9l2.8-1.8M935.7 775.5l2.2-0.8M937.2 691.3l2.7-1.3M1111.8 786.1l2.4-1.1M859.4 682.6l2.8-1.8M1032.2 777.6l2.4-1M1085.6 683.2l2.8-1.8M1258.6 778.1l2.4-1M825.7 695.9l2.4-1.2M1000 790.6l2.7-1.4M1162.8 686.1l2.8-1.8M1336.5 780.6l2.4-1.1M774.3 794.4l2.6-1.6M1228.6 699.8l2.4-1.2M839.7 722.6l2.4 1M995.9 825.5l6.3 5.6M1347.4 621.9l2-0.5M832 623.6l5.1 3.9M846.7 635.6h0M846.7 635.6l17.3 15.3M1021.7 755.6l2.4 1.1M1132.8 859.2l2.4-0.2M800.1 759.7l2.6 1.3M906.6 856.8l2.4 0.2M1235.2 624.4l3.7 2.6M1274.1 656.9l6.6 5.5M1032.6 622.2l1.8-0.1M1147.7 717.4l2.6 1.3M1294.9 814l5 4.1M940.8 620.4l1.7-0.1M1053 714.5l2.6 1.4M1197.3 809.2l4.4 3.6M740.6 712.8l2.8 1.6M886.1 808.3l4.8 3.9M1259 620.1l2 0M897 617.5l2.2 1.1M968.3 679l4.2 3.2M1110.5 772.9l3.3 2M1199.5 858.5l3.5 1.3M781.5 778.8l3.3 2.2M864.4 854.4l3.3 1.7M1191 620.5l2 0.7M1274.3 690l3.5 2.5"/>
<path stroke="#aaff00" d="M754.8 639.7l3.5-2.1M894.2 748.8l2.6 0.2M1142.9 644.7l3-1.9M1288.6 752.6l2.2 0M970.3 727.9l1.9 0M1102 846l0.8-0.5M1115.5 837.5l3.1-2M774.1 850.6l3.2-1.7M786.8 843.7l2.8-1.6M1275.4 733.4l2.2 0.2M859.6 734.9l2.2 0.2M985.2 851.6l3.2-1.6M997.4 845.2l3.1-1.7M1072.2 635.5h0M1072.2 635.5l1.8-0.9M1209.6 742.8l2.2 0.4M944.9 740.7l2.2 0.5M1065.2 854.9l3.1-1.2M1197.8 719.4l2.2-0.4M1352.2 825.6l3.3-2.3M845.8 669.6l3.1-2M1008.8 770.5l2.2-0.6M893.3 715.1l2.4-0.7M1052.1 819.1l3.3-2.4M987.8 630.3l2-0.8M1118.8 736.2l2.2 0.6M997.8 664.5l3.3-2.3M1158 766.7l2.2-0.6M801.2 665.5l3.3-2.3M961.8 767.4l2.4-0.6M811 735.3l2.2 0.6M1309.1 629.7l2-0.8M1047.3 745.5l2.4 0.7M1163.4 856.7l3.1-0.8M832.5 855.2l2.8-0.5M1345.7 747l2.4 0.8M766.6 678.1l3.1-2.1M933.3 776.5l2.4-1M939.9 690l2.6-1.5M1109.2 787.4l2.6-1.3M862.2 680.8l3.1-2M1029.8 778.7l2.4-1.1M1088.4 681.4l3.1-2M1256.2 779.2l2.4-1.1M828.1 694.7l2.6-1.3M997.4 792.1l2.6-1.5M1165.6 684.3l2.9-1.8M1334.1 781.7l2.4-1.1M771.4 796.2l2.9-1.8M1231 698.6l2.7-1.3M837.5 721.7l2.2 0.9M1002.2 831.1l16 14.6M1349.4 621.4l1.7-0.3M837.1 627.5l9.6 8.1M1024.1 756.7l2.4 1M1129.8 859.3l3-0.1M802.7 761l2.6 1.3M903.6 856.3l3 0.5M1238.9 627l4.6 3.5M1249.8 635.6h0M1249.8 635.6l6 5.1M1261.7 645.9l12.4 11M1034.4 622.1l1.7-0.1M1145.1 716l2.6 1.4M1299.9 818.1l5.9 5.2M942.5 620.3l1.7 0M1050.3 713.1l2.7 1.4M1201.7 812.8l4.6 3.9M737.5 711.2l3.1 1.6M890.9 812.2l5.2 4.5M1261 620.1l2 0M1365.8 711.1l0.2 0.2M899.2 618.6l2.6 1.3M964.2 675.7l4.1 3.3M1113.8 774.9l3 1.8M1195.8 856.8l3.7 1.7M784.8 781l3 2M860.7 852.3l3.7 2.1M1193 621.2l2.2 0.9M1270.8 687.5l3.5 2.5"/>
<path stroke="#80ff00" d="M758.3 637.6l2.9-1.6M892 748.8l2.2 0M1145.9 642.8l3.1-2M1286.4 752.7l2.2-0.1M972.2 727.9l2.2-0.1M1098.5 848.2l3.5-2.2M1112.5 839.4l3-1.9M770.8 852.3l3.3-1.7M783.7 845.4h0M783.7 845.4l3.1-1.7M1277.6 733.6l2.2 0.2M861.8 735.1l2 0.2M981.9 853.2l3.3-1.6M997 845.5h0M997 845.5l0.4-0.3M1074 634.6l1.9-1M1207.6 742.6l2 0.2M947.1 741.2l2.2 0.4M1062.4 855.9l2.8-1M1200 719l1.9-0.4M1348.9 828l3.3-2.4M848.9 667.6l3-2.1M1006.6 771.1l2.2-0.6M895.7 714.4l2-0.5M1048.8 821.4l3.3-2.3M989.8 629.5l1.9-0.8M1116.6 735.6l2.2 0.6M1001.1 662.2l3.3-2.4M1155.8 767.3l2.2-0.6M804.5 663.2l3.3-2.4M959.6 768l2.2-0.6M808.8 734.7l2.2 0.6M1311.1 628.9l2-0.7M1049.7 746.2l2.2 0.6M1160.6 857.4l2.8-0.7M829.6 855.6l2.9-0.4M1348.1 747.8l2.1 0.7M769.7 676l3.1-2.2M930.9 777.5l2.4-1M942.5 688.5l2.8-1.6M1106.6 788.8l2.6-1.4M865.3 678.8l2.8-2M1027.4 779.8l2.4-1.1M1091.5 679.4l2.8-2M1253.8 780.3l2.4-1.1M830.7 693.4l2.6-1.5M994.8 793.6l2.6-1.5M1168.5 682.5l2.8-1.9M1331.7 782.9l2.4-1.2M768.6 798l2.8-1.8M1233.7 697.3l2.4-1.3M835.1 720.6l2.4 1.1M1351.1 621.1l1.8-0.3M1026.5 757.7l2.4 1M1127.1 859.2l2.7 0.1M805.3 762.3l2.7 1.4M900.7 855.7l2.9 0.6M1243.5 630.5l6.3 5.1M1255.8 640.7l5.9 5.2M1036.1 622l1.8 0M1142.7 714.8l2.4 1.2M1305.8 823.3l9.2 8.3M1328.4 843.8l1.9 1.8M944.2 620.3l1.8 0M1047.9 711.8l2.4 1.3M1206.3 816.7l5.3 4.6M736 710.3l1.5 0.9M896.1 816.7l5.7 5.1M1263 620.1l1.9 0.1M1363.2 709.7l2.6 1.4M901.8 619.9l2.4 1.4M960 672.2l4.2 3.5M1116.8 776.7l2.7 1.7M1192.5 854.9l3.3 1.9M787.8 783l3.1 2.1M856.8 849.6l3.9 2.7M1195.2 622.1l2.1 1M1267.3 684.8l3.5 2.7"/>
<path stroke="#55ff00" d="M761.2 636l0.8-0.5M890 748.7l2 0.1M1149 640.8l2.6-1.6M1284.6 752.8l1.8-0.1M974.4 727.8l1.8-0.1M1095.6 849.9l2.9-1.7M1109.6 841.2l2.9-1.8M768.2 853.6l2.6-1.3M1279.8 733.8l2 0.1M863.8 735.3l1.9 0.2M979.2 854.4l2.7-1.2M1075.9 633.6l2.2-1.1M1205.7 742.3l1.9 0.3M949.3 741.6l1.7 0.3M1059.8 856.8l2.6-0.9M1201.9 718.6l2-0.4M1346.1 830l2.8-2M851.9 665.5l2.9-2M1004.4 771.8l2.2-0.7M897.7 713.9l1.9-0.6M1046 823.5l2.8-2.1M991.7 628.7l2-0.7M1114.7 735.1l1.9 0.5M1004.4 659.8l2.8-2.1M1153.8 767.9l2-0.6M807.8 660.8l2.8-2.1M957.8 768.6l1.8-0.6M806.9 734.2l1.9 0.5M1313.1 628.2l1.9-0.7M1051.9 746.8l1.7 0.5M1158.2 857.9l2.4-0.5M827 855.9l2.6-0.3M1350.2 748.5l2.2 0.7M772.8 673.8l2.6-1.9M928.9 778.4l2-0.9M945.3 686.9l2.2-1.4M1104.4 790l2.2-1.2M868.1 676.8l2.7-1.9M1025.4 780.8l2-1M1094.3 677.4l2.6-1.9M1251.6 781.4l2.2-1.1M833.3 691.9l2.2-1.2M992.4 795.1l2.4-1.5M1171.3 680.6l2.4-1.7M1329.5 784.1l2.2-1.2M766.2 799.7l2.4-1.7M1236.1 696l2.1-1.2M833.1 719.8l2 0.8M1352.9 620.8l1.7-0.3M1028.9 758.7l2 0.9M1124.7 859l2.4 0.2M808 763.7l2.2 1.1M898.1 855l2.6 0.7M1037.9 622l1.7 0M1140.5 713.6l2.2 1.2M1315 831.6l13.4 12.2M946 620.3l1.8 0M1045.5 710.5l2.4 1.3M1211.6 821.3l6.3 5.9M901.8 821.8l8.3 7.9M925 844l1.8 1.6M1264.9 620.2l2 0.1M1360.8 708.3l2.4 1.4M904.2 621.3l2.9 1.7M955.8 668.5l4.2 3.7M1119.5 778.4l2.6 1.7M1189.2 852.7l3.3 2.2M790.9 785.1l2.9 2.1M852.8 846.6l4 3M1197.3 623.1l2.2 1.1M1264.1 682.2l3.2 2.6"/>
<path stroke="#2bff00" d="M887.8 748.7l2.2 0M1151.6 639.2l2.6-1.6M1282.9 752.8l1.7 0M976.2 727.7l2-0.1M1092.8 851.7l2.8-1.8M1107 842.9l2.6-1.7M765.5 854.9l2.7-1.3M1281.8 733.9l1.7 0.1M865.7 735.5l1.8 0.1M976.6 855.6l2.6-1.2M1078.1 632.5l2-1M1203.9 742l1.8 0.3M951 741.9l2 0.4M1057.3 857.5l2.5-0.7M1203.9 718.2l2-0.5M1343.2 832.1l2.9-2.1M854.8 663.5l2.8-2M1002.4 772.5l2-0.7M899.6 713.3l2-0.6M1043.1 825.7l2.9-2.2M993.7 628l1.7-0.7M1112.9 734.7l1.8 0.4M1007.2 657.7l2.9-2.1M1151.8 768.6l2-0.7M810.6 658.7l2.8-2.2M955.8 769.2l2-0.6M804.9 733.7l2 0.5M1315 627.5l1.8-0.7M1053.6 747.3l2 0.5M1155.8 858.3l2.4-0.4M824.6 856l2.4-0.1M1352.4 749.2l2 0.7M775.4 671.9l2.6-2M926.8 779.5l2.1-1.1M947.5 685.5l2.4-1.5M1102.2 791.3l2.2-1.3M870.8 674.9l2.6-1.9M1023.2 781.9l2.2-1.1M1096.9 675.5l2.7-1.9M1249.6 782.4l2-1M835.5 690.7l2.4-1.5M990 796.7l2.4-1.6M1173.7 678.9l2.6-1.9M1327.3 785.3l2.2-1.2M763.8 801.3l2.4-1.6M1238.2 694.8l2.2-1.3M831.2 718.9l1.9 0.9M1354.6 620.5l1.6-0.2M1030.9 759.6l1.9 0.8M1122.3 858.6l2.4 0.4M810.2 764.8l2.1 1.2M895.5 854l2.6 1M1039.6 622l1.8 0.1M1138.3 712.4l2.2 1.2M947.8 620.3l1.5 0.1M1043.3 709.2l2.2 1.3M1217.9 827.2l19.3 18.3M910.1 829.7l14.9 14.3M1266.9 620.3l1.5 0.2M1358.1 706.7l2.7 1.6M907.1 623l2.6 1.8M950.6 663.6l5.2 4.9M1122.1 780.1l2.8 1.9M1185.5 849.8l3.7 2.9M793.8 787.2l2.8 2.1M851.7 845.6h0M851.7 845.6l1.1 1M1199.5 624.2l2.4 1.3M1260.6 679.3l3.5 2.9"/>
<path stroke="#00ff00" d="M762 635.5h0M762 635.5l1.1-0.6M885.6 748.7l2.2 0M1154.2 637.6l2.9-1.8M1280.9 753l2-0.2M978.2 727.6l1.9-0.2M1089.9 853.4l2.9-1.7M1104.4 844.5l2.6-1.6M762.9 856.2l2.6-1.3M1283.5 734l2 0M867.5 735.6l1.9 0.1M974 856.7l2.6-1.1M1080.1 631.5l1.7-0.8M1201.9 741.8l2 0.2M953 742.3l2 0.3M1054.9 858.1l2.4-0.6M1205.9 717.7l1.9-0.5M1324.2 846.3l1.1-0.8M1340.2 834.3l3-2.2M857.6 661.5l2.9-2M1000.5 773.2l1.9-0.7M901.6 712.7l2-0.7M1040.1 828l3-2.3M995.4 627.3l1.8-0.6M1110.9 734.2l2 0.5M1010.1 655.6l3.1-2.4M1149.9 769.2l1.9-0.6M813.4 656.5l3.1-2.3M953.7 770l2.1-0.8M802.9 733.1l2 0.6M1316.8 626.8l1.5-0.5M1055.6 747.8l2 0.5M1153.4 858.6l2.4-0.3M822.2 856.1l2.4-0.1M1354.4 749.9l2 0.6M778 669.9l2.8-2.1M924.6 780.6l2.2-1.1M949.9 684l2.7-1.7M1099.6 792.9l2.6-1.6M873.4 673l2.8-2.2M1021 783.1l2.2-1.2M1099.6 673.6l2.8-2.1M1247.4 783.6l2.2-1.2M837.9 689.2l2.4-1.5M987.3 798.4l2.7-1.7M1176.3 677l2.7-1.9M1325.1 786.6l2.2-1.3M760.9 803.4l2.9-2.1M1240.4 693.5l2.4-1.5M829.2 718l2 0.9M1356.2 620.3l1.5-0.2M1032.8 760.4l2.2 1M1119.9 858.2l2.4 0.4M812.3 766l2.5 1.4M892.8 852.9l2.7 1.1M1041.4 622.1l1.5 0.1M1135.9 711l2.4 1.4M949.3 620.4l1.7 0.2M1041.2 707.9l2.1 1.3M1268.4 620.5l1.8 0.2M1355.3 704.9l2.8 1.8M909.7 624.8l2.8 2.1M922.8 635.6h0M922.8 635.6l4.2 4M941.8 654.9l8.8 8.7M1124.9 782l3.1 2.2M1180.9 845.6h0M1180.9 845.6l4.6 4.2M796.6 789.3l3.1 2.4M1201.9 625.5l2.2 1.3M1256.6 675.8l4 3.5"/>
<path stroke="#00ff2a" d="M763.1 634.9l2.2-1.3M883.2 748.8l2.4-0.1M1157.1 635.8l0.7-0.4M1278.7 753.2l2.2-0.2M980.1 727.4l2-0.1M1087.3 855l2.6-1.6M1102.8 845.5h0M1102.8 845.5l1.6-1M760.3 857.4l2.6-1.2M1285.5 734l2 0.1M869.4 735.7l2.2 0.2M971.6 857.7l2.4-1M1081.8 630.7l1.8-0.8M1199.8 741.5l2.1 0.3M955 742.6l1.9 0.4M1052.5 858.7l2.4-0.6M1207.8 717.2l2-0.5M1321.2 848.7l3-2.4M1337.1 836.6l3.1-2.3M860.5 659.5l3-2.3M998.3 774l2.2-0.8M903.6 712l2.2-0.8M1036.8 830.5l3.3-2.5M997.2 626.7l1.5-0.5M1108.8 733.6l2.1 0.6M1013.2 653.2l3.2-2.5M1147.7 770.1l2.2-0.9M816.5 654.2l3.3-2.6M951.5 770.9l2.2-0.9M800.8 732.5l2.1 0.6M1318.3 626.3l1.8-0.5M1057.6 748.3l2.2 0.7M1151 858.8l2.4-0.2M819.8 856l2.4 0.1M1356.4 750.5l2.2 0.8M780.8 667.8l3.3-2.6M922.4 781.8l2.2-1.2M952.6 682.3l2.6-1.8M1097.2 794.4l2.4-1.5M876.2 670.8l3.1-2.4M1018.6 784.5l2.4-1.4M1102.4 671.5l3.1-2.4M1244.8 785.2l2.6-1.6M840.3 687.7l2.7-1.8M984.7 800.3l2.6-1.9M1179 675.1l3-2.4M1322.5 788.2l2.6-1.6M758.1 805.6l2.8-2.2M1242.8 692l2.4-1.5M826.8 716.9l2.4 1.1M1357.7 620.1l1.5-0.1M1035 761.4l2.2 1.1M1117.5 857.5l2.4 0.7M814.8 767.4l2.6 1.5M890.2 851.6l2.6 1.3M1042.9 622.2l1.5 0.1M1133.5 709.6l2.4 1.4M951 620.6l1.6 0.2M1038.8 706.5l2.4 1.4M1270.2 620.7l1.7 0.3M1352.4 702.9l2.9 2M912.5 626.9l3.1 2.4M927 639.6l14.8 15.3M1128 784.2l3.1 2.4M799.7 791.7l3.5 2.9M1204.1 626.8l2.2 1.3M1251.8 671.4l4.8 4.4"/>
<path stroke="#00ff55" d="M765.3 633.6l2.6-1.4M881 748.8l2.2 0M1276.8 753.4l1.9-0.2M982.1 727.3l2-0.3M1084.2 856.8l3.1-1.8M757.4 858.6l2.9-1.2M1287.5 734.1l1.9 0M871.6 735.9l2 0.1M968.8 858.9l2.8-1.2M1083.6 629.9l1.7-0.8M1197.8 741.3l2 0.2M956.9 743l2.2 0.4M1049.9 859.3l2.6-0.6M1209.8 716.7l2.2-0.7M1317.7 851.5l3.5-2.8M1333.8 839l3.3-2.4M863.5 657.2l3.3-2.5M995.9 775l2.4-1M905.8 711.2l2.1-0.9M1016.7 847.1l1.9-1.7M1033.7 832.9l3.1-2.4M998.7 626.2l1.8-0.6M1106.6 733.1l2.2 0.5M1016.4 650.7l3.3-2.6M1145.5 770.9l2.2-0.8M819.8 651.6l3.3-2.6M949.5 771.7l2-0.8M798.8 732l2 0.5M1320.1 625.8l1.5-0.5M1059.8 749l2.1 0.6M1148.3 858.9l2.7-0.1M817.2 855.8l2.6 0.2M1358.6 751.3l2.2 0.8M784.1 665.2l3.1-2.5M920 783.2l2.4-1.4M955.2 680.5l2.8-2M1094.5 796.1l2.7-1.7M879.3 668.4l3-2.5M1016.2 786l2.4-1.5M1105.5 669.1l3-2.5M1242.4 786.7l2.4-1.5M843 685.9l2.6-1.8M981.9 802.4l2.8-2.1M1182 672.7l3.1-2.4M1320.1 789.8l2.4-1.6M755.2 807.8l2.9-2.2M1245.2 690.5l2.7-1.8M824.6 715.8l2.2 1.1M1359.2 620l1.6-0.1M1037.2 762.5l2.4 1.1M1114.9 856.6l2.6 0.9M817.4 768.9l2.4 1.5M886.9 849.6l3.3 2M1044.4 622.3l1.6 0.2M1130.8 707.9l2.7 1.7M952.6 620.8l1.5 0.2M1036.1 704.7l2.7 1.8M1271.9 621l2.4 0.6M1349.6 700.9l2.8 2M915.6 629.3l5.2 4.5M1131.1 786.6l3.2 2.7M803.2 794.6l3.5 3.1M1206.3 628.1l2.4 1.7M1216.2 635.6h0M1216.2 635.6l5.2 4.7M1245.9 665.5l5.9 5.9"/>
<path stroke="#00ff80" d="M767.9 632.2l3.3-1.8M878.6 748.9l2.4-0.1M1157.8 635.4h0M1157.8 635.4l0.2-0.1M1274.8 753.6l2-0.2M984.1 727l2.1-0.2M1081.2 858.6l3-1.8M754.6 859.8l2.8-1.2M1289.4 734.1l2 0M873.6 736l2 0M965.9 859.9l2.9-1M1085.3 629.1l2.5-1.1M1195.8 741.1l2 0.2M959.1 743.4l2 0.4M1047.1 859.8l2.8-0.5M1212 716l2-0.7M1314.2 854.3l3.5-2.8M1330.8 841.3l3-2.3M866.8 654.7l3.1-2.3M993.7 776l2.2-1M907.9 710.3l2.2-0.9M1012.7 850.6l4-3.5M1030.4 835.6l3.3-2.7M1000.5 625.6l2.2-0.6M1104.6 732.6l2 0.5M1019.7 648.1l3.1-2.4M1143.3 771.9l2.2-1M823.1 649l3-2.5M947.3 772.7l2.2-1M796.6 731.4l2.2 0.6M1321.6 625.3l2.4-0.7M1061.9 749.6l2 0.6M1145.7 858.9l2.6 0M814.5 855.3l2.7 0.5M1360.8 752.1l2.1 0.8M787.2 662.7l3.3-2.8M917.6 784.7l2.4-1.5M958 678.5l2.9-2.1M1091.9 798l2.6-1.9M882.3 665.9l3.3-2.7M1013.8 787.5l2.4-1.5M1108.5 666.6l3.1-2.6M1240 788.2l2.4-1.5M845.6 684.1l2.6-1.9M979 804.5l2.9-2.1M1185.1 670.3l3.1-2.6M1317.4 791.6l2.7-1.8M752.2 810.3l3-2.5M1247.9 688.7l2.6-1.9M822.4 714.6l2.2 1.2M1360.8 619.9l2.1 0M1039.6 763.6l2.2 1.2M1111.8 855.2l3.1 1.4M819.8 770.4l2.6 1.7M883.7 847.2l3.2 2.4M1046 622.5l2.4 0.4M1128.4 706.3l2.4 1.6M954.1 621l2.2 0.5M1033.7 703.1l2.4 1.6M1274.3 621.6l2.9 0.8M1346.5 698.5l3.1 2.4M920.8 633.8l2 1.8M1134.3 789.3l3.5 3.1M806.7 797.7l3.9 3.7M1208.7 629.8l4 2.9M1221.4 640.3l24.5 25.2"/>
<path stroke="#00ffaa" d="M771.2 630.4l2.9-1.6M876.4 749l2.2-0.1M1158 635.3l2.8-1.8M1272.8 753.8l2-0.2M986.2 726.8l2-0.3M1078.8 860l2.4-1.4M752.4 860.7l2.2-0.9M1291.4 734.1l2 0M875.6 736l1.9 0.1M963.7 860.7l2.2-0.8M1087.8 628l2.6-1.1M1193.8 740.8l2 0.3M961.1 743.8l2 0.3M1045.1 860l2-0.2M1214 715.3l2.2-0.8M1311.5 856.4l2.7-2.1M1327.7 843.6l3.1-2.3M869.9 652.4l3-2.4M991.5 777l2.2-1M910.1 709.4l2.2-1.1M1009.9 853.2l2.8-2.6M1027.2 838.2l3.2-2.6M1002.7 625l2.4-0.7M1102.6 732l2 0.6M1022.8 645.7l3.3-2.7M1141.3 772.8l2-0.9M826.1 646.5l3.3-2.6M945.1 773.7l2.2-1M794.6 730.8l2 0.6M1324 624.6l2.4-0.6M1063.9 750.2l2 0.6M1143.5 858.7l2.2 0.2M736 753.4l0.9 0.4M812.3 854.8l2.2 0.5M1362.9 752.9l2.2 0.8M790.5 659.9l3-2.7M915.2 786.3l2.4-1.6M960.9 676.4l2.8-2.3M1089.1 800.1l2.8-2.1M885.6 663.2l3.1-2.7M1011.4 789.2l2.4-1.7M1111.6 664l3.1-2.7M1237.6 789.9l2.4-1.7M848.2 682.2l2.6-2M976.2 806.8l2.8-2.3M1188.2 667.7l3-2.6M1315 793.4l2.4-1.8M749.1 812.9l3.1-2.6M1250.5 686.8l2.6-2M736 619.9l0.9 0M820.2 713.4l2.2 1.2M1362.9 619.9l2.2 0M1041.8 764.8l2.2 1.2M1109.6 854l2.2 1.2M822.4 772.1l2.4 1.6M881.7 845.5h0M881.7 845.5l2 1.7M1048.4 622.9l2.4 0.5M1125.8 704.5l2.6 1.8M956.3 621.5l2.4 0.6M1031.1 701.1l2.6 2M1277.2 622.4l2.8 1M1343.5 695.9l3 2.6M1137.8 792.4l3.5 3.4M810.6 801.4l4.6 4.6M848.7 842.9l3 2.7M1212.7 632.7l3.5 2.9"/>
<path stroke="#00ffd4" d="M774.1 628.8l3-1.6M874.2 749.2l2.2-0.2M1160.8 633.5l2.9-1.7M1270.8 754.1l2-0.3M988.2 726.5l2-0.3M1076.6 861.3l2.2-1.3M750.4 861.4l2-0.7M1293.4 734.1l1.9 0M877.5 736.1l2 0.1M961.8 861.3l1.9-0.6M1090.4 626.9l2.4-1M1191.9 740.6l1.9 0.2M963.1 744.1l1.9 0.4M1043.1 860.2l2-0.2M1216.2 714.5l1.9-0.7M1308.9 858.7l2.6-2.3M1325.3 845.5h0M1325.3 845.5l2.4-1.9M872.9 650l3.1-2.4M989.3 778.1l2.2-1.1M912.3 708.3l2-0.9M1007 855.9l2.9-2.7M1024.1 840.8l3.1-2.6M1005.1 624.3l2.4-0.6M1100.7 731.5l1.9 0.5M1026.1 643l3.2-2.7M1139.2 773.9l2.1-1.1M829.4 643.9l3.3-2.8M942.9 774.9l2.2-1.2M792.7 730.2l1.9 0.6M1326.4 624l2.2-0.5M1065.9 750.8l2.2 0.7M1141.8 858.5l1.7 0.2M736.9 753.8l2.2 0.9M810.2 854.2l2.1 0.6M1365.1 753.7l0.9 0.4M793.5 657.2l3.3-2.9M912.8 787.9l2.4-1.6M963.7 674.1l2.9-2.3M1086.4 802.1l2.7-2M888.7 660.5l3.3-2.9M1008.8 791.1l2.6-1.9M1114.7 661.3l3.2-2.9M1235.2 791.7l2.4-1.8M850.8 680.2l2.9-2.3M973.3 809.2l2.9-2.4M1191.2 665.1l3.1-2.8M1312.4 795.4l2.6-2M746.1 815.7l3-2.8M1253.1 684.8l2.7-2.1M736.9 619.9l2.4 0.1M818.2 712.3l2 1.1M1365.1 619.9l0.9 0M1044 766l2.2 1.3M1107.4 852.6l2.2 1.4M824.8 773.7l2.6 1.9M1050.8 623.4l2.4 0.7M1123.4 702.7l2.4 1.8M958.7 622.1l2.4 0.7M1028.7 699.3l2.4 1.8M1280 623.4l2.9 1.2M1340.2 692.9l3.3 3M1141.3 795.8l4.2 4.4M815.2 806l5.7 6.1M843.2 837.5l5.5 5.4"/>
<path stroke="#00ffff" d="M777.1 627.2l2.9-1.4M871.6 749.3l2.6-0.1M1163.7 631.8l2.8-1.7M1268.9 754.4l1.9-0.3M990.2 726.2l2-0.4M1074.8 862.4l1.8-1.1M749.1 861.9l1.3-0.5M1295.3 734.1l2 0M879.5 736.2l2 0.1M960 861.9l1.8-0.6M1092.8 625.9l2.4-1M1189.9 740.4l2 0.2M965 744.5l2 0.4M1041.4 860.2l1.7 0M1218.1 713.8l2.2-0.9M1306.7 860.5l2.2-1.8M876 647.6l3.1-2.6M987.1 779.3l2.2-1.2M914.3 707.4l2.2-1.2M1004 858.9l3-3M1020.8 843.5l3.3-2.7M1007.5 623.7l2.4-0.6M1098.5 730.8l2.2 0.7M1029.3 640.3l3.1-2.6M1137 775.1l2.2-1.2M832.7 641.1l3.1-2.6M940.8 776.1l2.1-1.2M790.7 729.5l2 0.7M1328.6 623.5l2.4-0.5M1068.1 751.5l1.9 0.6M1140 858.1l1.8 0.4M739.1 754.7l1.9 0.8M808 853.3l2.2 0.9M796.8 654.3l3.3-3M910.3 789.7l2.5-1.8M966.6 671.8l2.8-2.4M1083.8 804.2l2.6-2.1M892 657.6l3.2-3.1M1006.4 793l2.4-1.9M1117.9 658.4l3.3-3.1M1232.6 793.7l2.6-2M853.7 677.9l2.6-2.2M970.5 811.7l2.8-2.5M1194.3 662.3l3-2.8M1309.8 797.6l2.6-2.2M743 818.5l3.1-2.8M1255.8 682.7l2.6-2.2M739.3 620l2.2 0.3M816.1 710.9l2.1 1.4M1046.2 767.3l2.2 1.3M1104.8 850.5l2.6 2.1M827.4 775.6l2.7 2.1M1053.2 624.1l2.4 0.8M1120.8 700.6l2.6 2.1M961.1 622.8l2.4 1M1026.1 697l2.6 2.3M1282.9 624.6l2.8 1.5M1336.2 688.9l4 4M1145.5 800.2l5.7 6.8M1176.6 840.9l4.3 4.7M820.9 812.1l22.3 25.4"/>
<path stroke="#00d4ff" d="M780 625.8l2.8-1.4M869 749.5l2.6-0.2M1166.5 630.1l2.6-1.6M1266.7 754.8l2.2-0.4M992.2 725.8l1.9-0.4M1072.2 863.9l2.6-1.5M747.2 862.6l1.9-0.7M1297.3 734.1l2.2 0M881.5 736.3l1.9 0M957.8 862.5l2.2-0.6M1095.2 624.9l2.4-0.8M1187.7 740.1l2.2 0.3M967 744.9l2.2 0.5M1039.2 860.2l2.2 0M1220.3 712.9l2.2-1M1303.9 863.1l2.8-2.6M879.1 645l3.5-2.9M984.7 780.7l2.4-1.4M916.5 706.2l2.4-1.4M1000 863l4-4.1M1018.6 845.4h0M1018.6 845.4l2.2-1.9M1009.9 623.1l2.2-0.4M1096.5 730.1l2 0.7M1032.4 637.7l2.6-2.3M1134.6 776.5l2.4-1.4M835.8 638.5l3.4-3.1M938.3 777.5l2.5-1.4M788.5 728.8l2.2 0.7M1331 623l2.2-0.4M1070 752.1l2.2 0.8M1137.8 857.5l2.2 0.6M741 755.5l2.4 1.2M804.9 851.7l3.1 1.6M800.1 651.3l3.7-3.6M907.7 791.8l2.6-2.1M969.4 669.4l3.1-2.7M1080.8 806.9l3-2.7M895.2 654.5l3.6-3.4M1003.8 795.1l2.6-2.1M1121.2 655.3l3.5-3.4M1229.9 795.9l2.7-2.2M856.3 675.7l3.1-2.8M967.2 814.7l3.3-3M1197.3 659.5l3.5-3.4M1306.9 800l2.9-2.4M739.5 821.9l3.5-3.4M1258.4 680.5l2.8-2.5M741.5 620.3l2.2 0.3M813.7 709.3l2.4 1.6M1048.4 768.6l2.4 1.6M1101.3 847.2l3.5 3.3M830.1 777.7l2.8 2.4M1055.6 624.9l2.4 1M1117.9 698.1l2.9 2.5M963.5 623.8l2.6 1.1M1023 694.2l3.1 2.8M1285.7 626.1l3.1 1.9M1297.8 635.6h0M1297.8 635.6l1.7 1.9M1331.7 683.5l4.5 5.4M1151.2 807l18.4 25.1 7 8.8"/>
<path stroke="#00aaff" d="M782.8 624.4l3.1-1.5M866.4 749.8l2.6-0.3M1169.1 628.5l2.7-1.6M1264.5 755.3l2.2-0.5M994.1 725.4l2.2-0.4M1069.8 865.3l2.4-1.4M745.2 863.3l2-0.7M1299.5 734.1l2.2-0.1M883.4 736.3l2.2 0.1M955.6 863l2.2-0.5M1097.6 624.1l2.4-0.9M1185.5 739.8l2.2 0.3M969.2 745.4l2.2 0.5M1037 860l2.2 0.2M1222.5 711.9l2.4-1.2M1301 865.7l2.9-2.6M882.6 642.1l3.5-3M982.1 782.3l2.6-1.6M918.9 704.8l2.4-1.5M995.4 868.1l4.6-5.1M1012.1 622.7l2.4-0.4M1094.1 729.3l2.4 0.8M1132.2 778l2.4-1.5M935.9 779l2.4-1.5M786.1 727.8l2.4 1M1333.2 622.6l2.4-0.3M1072.2 752.9l2.2 0.9M1135.4 856.6l2.4 0.9M743.4 756.7l2.4 1.2M801.2 849.1l3.7 2.6M803.8 647.7l4-3.9M904.9 794.2l2.8-2.4M972.5 666.7l3.5-3.3M1077.5 809.8l3.3-2.9M898.8 651.1l3.9-4M1000.7 797.8l3.1-2.7M1124.7 651.9l4-4M1226.9 798.6l3-2.7M859.4 672.9l3.5-3.3M963.7 818.1l3.5-3.4M1200.8 656.1l4-4.1M1303.9 802.9l3-2.9M736 825.5l3.5-3.6M1261.2 678l3.3-3.2M1341.3 854.1l6.1-8.7M1364 825.7l2-2M743.7 620.6l2.1 0.5M811 707.4l2.7 1.9M1050.8 770.2l2.6 2M1099.8 845.5h0M1099.8 845.5l1.5 1.7M832.9 780.1l3.1 2.9M1058 625.9l2.6 1.2M1114.7 694.9l3.2 3.2M966.1 624.9l2.4 1.3M1019.7 690.9l3.3 3.3M1288.8 628l3.5 2.6M1299.5 637.5l5.9 7.3M1325.5 675.3l6.2 8.2"/>
<path stroke="#0080ff" d="M785.9 622.9l3.3-1.6M861.8 750.2l4.6-0.4M1171.8 626.9l2.6-1.5M1262.1 755.8l2.4-0.5M996.3 725l2.6-0.7M1067 867l2.8-1.7M743.2 863.9l2-0.6M1301.7 734l2.4 0M885.6 736.4l2.4 0.1M953 863.6l2.6-0.6M1100 623.2l2.4-0.8M1183.1 739.5l2.4 0.3M971.4 745.9l2.4 0.6M1034.4 859.6l2.6 0.4M1224.9 710.7l2.6-1.4M1297.8 869l3.2-3.3M886.1 639.1l3.9-3.6M979.2 784.3l2.9-2M921.3 703.3l2.8-1.9M990.2 874.6l5.2-6.5M1014.5 622.3l2.2-0.2M1091.7 728.3l2.4 1M1129.3 779.9l2.9-1.9M933.1 781l2.8-2M783.7 726.8l2.4 1M1335.6 622.3l2.2-0.2M1074.4 753.8l2.6 1.2M1132.8 855.3l2.6 1.3M745.8 757.9l2.7 1.5M797.5 845.5h0M797.5 845.5l3.7 3.6M807.8 643.8l4.1-4.4M901.6 797.2l3.3-3M976 663.4l3.9-4M1073.8 813.5l3.7-3.7M902.7 647.1l4.4-4.6M997.4 801l3.3-3.2M1128.7 647.9l4.3-4.6M1223.6 801.8l3.3-3.2M862.9 669.6l3.7-3.8M935.3 855.2l6.1-9.8M959.8 822.2l3.9-4.1M1204.8 652l4.4-4.7M1300.4 806.4l3.5-3.5M1264.5 674.8l3.7-3.8M1333 867.5l8.3-13.4M1359.7 830.4l4.3-4.7M745.8 621.1l2.4 0.7M808.2 705l2.8 2.4M1053.4 772.2l3.1 2.5M836 783l3.9 4.1M880.8 844.7l0.9 0.8M1060.6 627.1l2.4 1.4M1072 635.5h0M1072 635.5l0.2 0.2M1110.7 690.6l4 4.3M968.5 626.2l2.7 1.6M980.3 635.6h0M980.3 635.6l0.3 0.3M1015.6 686.2l4.1 4.7M1292.3 630.6l3.9 3.5M1305.4 644.8l20.1 30.5"/>
<path stroke="#0055ff" d="M789.2 621.3l3.2-1.4M851.1 751l10.7-0.8M1174.4 625.4l2.8-1.7M1259.9 756.3l2.2-0.5M998.9 724.3l2.2-0.5M1064.3 868.6l2.7-1.6M741.2 864.5l2-0.6M1304.1 734l2.2-0.1M888 736.5l2.4 0.1M950.4 864l2.6-0.4M1102.4 622.4l2.4-0.7M1180.7 739.1l2.4 0.4M973.8 746.5l2.4 0.7M1031.8 858.8l2.6 0.8M1227.5 709.3l2.4-1.5M1294.5 872.4l3.3-3.4M890 635.5l0.2-0.2M976.2 786.6l3-2.3M924.1 701.4l3.1-2.3M987.3 878.6h0M987.3 878.6l2.9-4M1016.7 622.1l2.4-0.2M1089.3 727.3l2.4 1M1035 635.4h0M1035 635.4l2-1.7M1126.2 782.2l3.1-2.3M839.2 635.4h0M839.2 635.4l1.1-0.9M930.5 783l2.6-2M781.3 725.7l2.4 1.1M1337.8 622.1l2.4-0.1M1077 755l2.4 1.2M1130 853.4l2.8 1.9M748.5 759.4l3 2M811.9 639.4l3.7-4.1M898.8 800l2.8-2.8M979.9 659.4l4.4-4.7M1040.3 863.6l9.4-18.1M1069.6 817.9l4.2-4.4M907.1 642.5l4.8-5.5M965.9 850.1l2.2-4.8M993.5 805.1l3.9-4.1M1133 643.3l4.8-5.5M1191.4 852.3l3.3-7.1M1219.7 806l3.9-4.2M866.6 665.8l4.2-4.5M923 878.5h0M923 878.5l6.2-12.3 6.1-11M955.2 827.3l4.6-5.1M1209.2 647.3l4.8-5.5M1263.6 866.6l10.1-21.5M1296.2 810.9l4.2-4.5M1268.2 671l4.2-4.6M1326.8 878.7h0M1326.8 878.7l6.2-11.2M1354.8 836l4.9-5.6M748.2 621.8l2.5 0.9M805.3 702.4l2.9 2.6M1056.5 774.7l3.3 3.1M839.9 787.1l4.6 5.5M876.2 840l4.6 4.7M1063 628.5l3.1 2M1072.2 635.7l4.8 5.3M1105.9 684.7l4.8 5.9M971.2 627.8l3 2.2M980.6 635.9l5.2 6.2M1010.3 679.3l5.3 6.9M1296.2 634.1l1.6 1.5"/>
<path stroke="#002bff" d="M792.4 619.9l3.8-1.6M815 612.2l3.7-0.3 3.1 0.4 2.4 1.1 1.7 1.8 1.5 2.9 1.1 3.7 1.6 10.9M830.3 635.4h0M830.5 638.5h0M830.5 638.5h0M830.7 642.2h0M830.9 646.5h0M831.2 651.5h0M831.4 657.4h0M831.6 664.1h0M831.8 671.5h0M832 679.3h0M832.2 687.2h0M832.5 694.8h0M832.7 701.8h0M832.9 708h0M833.1 713.4h0M833.3 718h0M833.6 722h0M833.8 725.3h0M834 728.1h0M834.2 730.6l1.8 11 1.3 3.7 1.5 2.4 2 1.6 2.6 1.1 3.3 0.5 4.4 0.1M1177.2 623.7l2.9-1.6M1257.9 756.8l2-0.5M1001.1 723.8l3.1-0.9M1060.8 870.9l3.5-2.3M739.1 865l2.1-0.5M1306.3 733.9l1.9 0M890.4 736.6l2.9 0.1M947.1 864.2l3.3-0.2M1104.8 621.7l2.6-0.7M1177.9 738.5l2.8 0.6M976.2 747.2l3 1.1M1028.5 857.3l3.3 1.5M1229.9 707.8l3.3-2.2M1290.3 877.3l4.2-4.9M970.3 791.7l5.9-5.1M927.2 699.1l5.5-4.9M1019.1 621.9l2.6-0.1M1087.3 726.3l2 1M1037 633.7l3.5-3.1M1120.8 787.1l5.4-4.9M840.3 634.5l3.8-3.4M927 786.1l3.5-3.1M779.3 724.6l2 1.1M1340.2 622l2.6 0M1079.4 756.2l3.1 1.8M1126.5 850.1l3.5 3.3M751.5 761.4l5.5 4.5M895.9 803.1l2.9-3.1M984.3 654.7l8.5-10.4M1033.7 878.3h0M1033.7 878.3l6.6-14.7M1061.5 827.6l8.1-9.7M911.9 637l1.3-1.5M954.1 878.4h0M954.1 878.4l11.8-28.3M986.2 813.8l7.3-8.7M1137.8 637.8l2-2.3M1180.5 878.3h0M1180.5 878.3l10.9-26M1212.2 815.1l7.5-9.1M870.8 661.3l8.5-10.7M946.2 838.5l9-11.2M1214 641.8l5.2-6.5M1258.4 878.6h0M1258.4 878.6l5.2-12M1288.3 820.8l7.9-9.9M1272.4 666.4l8.1-10.4M1347.4 845.4h0M1347.4 845.4l7.4-9.4M750.7 622.7l2.6 1.2M801.4 698.1l3.9 4.3M1059.8 777.8l6.5 7.8M1099.6 845.2l0.2 0.3M844.5 792.6l7.7 11 15.9 25.7 8.1 10.7M1066.1 630.5l3.3 2.6M1077 641l7.2 9.9 14.7 23.6 7 10.2M974.2 630l3.5 3M985.8 642.1l6.4 8.9 18.1 28.3"/>
<path stroke="#0000ff" d="M796.2 618.3l7.4-2.9M806.7 614.3l8.3-2.1M1180.1 622.1l3.2-1.9M1255.3 757.5l2.6-0.7M1004.2 722.9l3.7-1.2M1057.3 873.3l3.5-2.4M736.7 865.5l2.4-0.5M1308.2 733.9l2.5 0M1364.9 865.5l1.1-0.2M893.3 736.7l3.7 0.3M943.8 864.1l3.3 0.1M1107.4 621l3.1-0.7M1174.2 737.5l3.7 1M979.2 748.3l3.8 1.6M1025.2 854.9l3.3 2.4M1233.2 705.6l4-3.1M1289.4 878.5h0M1289.4 878.5l0.9-1.2M890.2 635.3h0M890.2 635.3l1.1-1M918 602.2h0M918 602.2l2-3.5M933.8 878.2h0M933.8 878.2l9.1-32.8M955.6 811.7l6.8-10.9 7.9-9.1M932.7 694.2l3.9-4.3 3.7-4.7 6.6-11M980.8 889.4l6.5-10.8M1021.7 621.8l2.8 0.2M1084.7 724.8l2.6 1.5M1040.5 630.6l4.2-3.9M1066.1 602.1h0M1066.1 602.1l6.8-11.4M1083.8 878.2h0M1083.8 878.2l9.2-32.8M1106.6 807l6.5-10.9 7.7-9M844.1 631.1l4.1-3.9M922.4 790.7l4.6-4.6M776.7 723l2.6 1.6M1342.8 622l3.1 0.3M1082.5 758l4.2 3M1123.2 845.8h0M1123.2 845.8l3.3 4.3M757 765.9l4.4 4.7 4.1 5.8 4 7.1 3.7 8.3M787 828l5 9.9 5.5 7.6M892.2 807.5l3.7-4.4M992.8 644.3l6.4-9M1017.3 601.9h0M1017.3 601.9l5-11.5M1033.1 879.8l0.6-1.5M1049.7 845.5h0M1049.7 845.5l5.7-9.3 6.1-8.6M936.2 602h0M936.2 602l9.4-18.8M945.8 897.8l8.3-19.4M968.1 845.3h0M968.1 845.3l9-17.4 9.1-14.1M1162.6 602h0M1162.6 602l9.4-18.9M1172.2 897.6l8.3-19.3M1194.7 845.2h0M1194.7 845.2l8.5-16.4 9-13.7M879.3 650.6l10-15.4M906 602h0M906 602l8.1-18.6M914.3 897.9l8.7-19.4M941.4 845.4h0M941.4 845.4l4.8-6.9M1240.4 602.2h0M1240.4 602.2l9.4-19.2M1250.1 897.5l8.3-18.9M1273.7 845.1h0M1273.7 845.1l7.2-13 7.4-11.3M1280.5 656l6.3-9.6 6.4-11.1M1309.1 601.8h0M1309.1 601.8l8.3-18.6M1317.7 897.7l9.1-19M753.3 623.9l3.3 2M766.6 635.5h0M766.6 635.5l1.3 1.8M795.9 690.6l5.5 7.5M1066.3 785.6l4.2 6.2 4.3 7.8 16.2 32.9 4.2 6.9 4.4 5.8M1069.4 633.1l2.6 2.4M977.7 633l2.6 2.6"/>
<path stroke="#2a00ff" d="M803.6 615.4l3.1-1.1M1183.3 620.2l2.5-1.4M1252.5 758.4l2.8-0.9M1007.9 721.7l4.8-2M1054.1 875.7l3.2-2.4M736 865.7l0.7-0.2M1310.7 733.9l2.8 0M1362.5 865.9l2.4-0.4M897 737l4.8 0.7M940.8 863.4l3 0.7M1110.5 620.3l2.4-0.4M1169.3 735.7l4.9 1.8M983 749.9l5 3.2M1021.7 851l3.5 3.9M1237.2 702.5l5.4-5.4M891.3 634.3l5-4.8M920 598.7l3.7-7.5 3.3-7.8M927.2 897.8l6.6-19.6M942.9 845.4h0M942.9 845.4l6.4-19.4 6.3-14.3M946.9 674.2l3.5-7.7 3.3-8.6 6.7-22.6M960.4 635.3l9.2-33.1M969.6 602.2l3.5-10.4 3.5-8.7M976.8 897.6l4-8.2M1024.5 622l2.2 0.2M1081.6 722.7l3.1 2.1M1044.7 626.7l5-4.9M1072.9 590.7l3.5-7.3M1076.6 897.9l3.7-9.3 3.5-10.4M1093 845.4h0M1093 845.4l6.8-22.2 3.3-8.6 3.5-7.6M848.2 627.2l3.5-3.5M916.2 798.5l6.2-7.8M773.4 720.5l3.3 2.5M1345.9 622.3l1.9 0.3M1086.7 761l5.4 5.6M773.2 791.8l13.8 36.2M815.6 635.3h0M815.6 635.3l1.3-1.5M887.8 813.4l4.4-5.9M1022.3 590.4l3.1-7.2M1025.6 897.6l7.5-17.8M913.2 635.5h0M913.2 635.5l1.3-1.6M1139.8 635.5h0M1139.8 635.5l0.7-0.8M756.6 625.9l2.8 2.1M767.9 637.3l7 11.6 14 29.4 7 12.3"/>
<path stroke="#5500ff" d="M1185.8 618.8l2.8-1.6M1249.4 759.5l3.1-1.1M1012.7 719.7l5.5-2.9M1050.8 878.6h0M1050.8 878.6l3.3-2.9M1313.5 733.9l3.1 0M1360.1 866.1l2.4-0.2M901.8 737.7l5.3 1.6M936.8 861.3l4 2.1M1112.9 619.9l3.9-0.5M1163.9 732.1l5.4 3.6M988 753.1l3.1 2.7 2.6 3.2M1018.6 845.7h0M1018.6 845.7l3.1 5.3M1242.6 697.1l3.5-4.4 3.1-4.8M1284.2 886.2l5.2-7.7M896.3 629.5l10.3-11.2M911 612.8l7-10.6M1026.7 622.2l2.6 0.5M1078.1 719.6l3.5 3.1M1049.7 621.8l10.1-11.2M1064.1 604.9l2-2.8M851.7 623.7l5.5-5.7M869.9 601.9h0M869.9 601.9l4.6-7.5 4.1-8M887.4 878.6h0M887.4 878.6l9.6-33.3M908.2 813.1l3.9-7.9 4.1-6.7M770.1 717.4l3.3 3.1M1347.8 622.6l2.7 0.6M1092.1 766.6l3.5 5.1 3.3 6.1M1120.6 841.2l2.6 4.6M816.9 633.8l4.4-5.2M867.7 852.6l3.1-7.3M882.3 821.9l5.5-8.5M1004.6 626.6l6.4-11.6 6.3-13.1M914.5 633.9l6.8-8.7 6.1-8.7M934 605.9l2.2-3.9M1140.5 634.7l6.7-8.7 6.4-9.1M1160.2 606.3l2.4-4.3M891.1 632.2l7.2-13.8 7.7-16.4M1219.2 635.3h0M1219.2 635.3l11-15.5M1237.2 608.2l3.2-6M1293.2 635.3h0M1293.2 635.3l7.2-14.3 8.7-19.2M759.4 628l4.4 4.1"/>
<path stroke="#8000ff" d="M1188.6 617.2l3.1-1.8M1246.1 760.9l3.3-1.4M1018.2 716.8l5.7-4.6 2.2-2.6 1.9-3.3M1045.1 886.1l2.4-3.8 3.3-3.7M1316.6 733.9l3.2 0.3M1357.7 866.1l2.4 0M907.1 739.3l3.2 1.9 2.7 2.5 2.2 3.2 1.9 4.4M929.4 846.1h0M929.4 846.1l1.3 4.9 1.7 4.5 2 3.3 2.4 2.5M1116.8 619.4l4.6 0M1135.2 626.6l2.4 3.9 2.2 5.3M1139.8 635.8l3.1 11.3M1152.5 707l2.2 8.6 2.6 7.2 3.1 5.4 3.5 3.9M993.7 759l4.4 7.7 3.7 10.5 3.3 13.3 7.6 37.4 2.9 10.1 3 7.7M1249.2 687.9l4.4-8.9 3.9-11.2 3.5-13.3 4.2-19.8M1265.2 634.7l7-32.6M1272.2 602.1l2.8-9.9 3.3-9.1M1278.5 897.6l5.7-11.4M906.6 618.3l4.4-5.5M1029.3 622.7l2.9 0.9M1074.4 715.3l3.7 4.3M1059.8 610.6l4.3-5.7M857.2 618l6.6-7.7M878.6 586.4l1.3-2.9M880.2 898l3.7-9.2 3.5-10.2M897 845.3h0M897 845.3l5.7-18.4 5.5-13.8M766 712.2l4.1 5.2M1350.5 623.2l2.8 1.1M1098.9 777.8l5.5 14.3 10.7 35.9 2.6 7 2.9 6.2M821.3 628.6l4.8-6.1M839.7 602h0M839.7 602l5.7-10.7M857.4 878.7h0M857.4 878.7l10.3-26.1M875.1 835.6l7.2-13.7M999.2 635.3h0M999.2 635.3l5.4-8.7M927.4 616.5l6.6-10.6M1153.6 616.9l6.6-10.6M889.3 635.2h0M889.3 635.2l1.8-3M1230.2 619.8l7-11.6M763.8 632.1l2.8 3.4"/>
<path stroke="#aa00ff" d="M1191.7 615.4l3.5-2M1242.6 762.7l3.5-1.8M1028 706.3l2-4.8 1.5-5.7 2.2-15.1M1033.9 678.4h0M1034.2 675.9h0M1034.4 673.1h0M1034.6 670.1h0M1034.8 666.9h0M1035 663.4h0M1035.2 659.7h0M1035.5 655.7h0M1035.7 651.5h0M1035.9 647.2h0M1036.1 642.7h0M1036.3 638.2h0M1036.6 633.7h0M1036.6 633.7h0M1036.8 629.2h0M1037 625h0M1037.2 620.9h0M1037.4 617h0M1037.7 613.4h0M1037.9 610.1h0M1038.1 607h0M1038.3 604.1h0M1038.5 601.5h0M1038.5 601.5h0M1038.8 599.1l2.1-15.7M1041.2 897.4l1.7-6.3 2.2-5M1319.8 734.2l3.3 0.5M1355.3 865.8l2.4 0.3M917.1 751.3l1.8 6.1 1.3 6.6 2.4 19.6M922.8 785.9h0M923 788.3h0M923.2 790.8h0M923.5 793.3h0M923.7 795.9h0M923.9 798.5h0M924.1 801.2h0M924.3 803.8h0M924.6 806.5h0M924.8 809.1h0M925 811.7h0M925.2 814.2h0M925.4 816.7h0M925.7 819h0M925.9 821.3l1.7 15.1 1.8 9.7M1121.4 619.4l4.2 0.6 3.7 1.4 3.1 2.1 2.8 3.1M1142.9 647.1l2.6 14.7 4.8 33.3 2.2 11.9M1032.2 623.6l3.5 1.7M1045.8 635.8h0M1045.8 635.8l0.8 1.5M1070 708.1l4.4 7.2M863.8 610.3l6.1-8.4M737.5 635.6h0M737.5 635.6l2.4 4.3M761.6 704.5l4.4 7.7M1353.3 624.3l3.5 1.8M1365.8 635.6h0M1365.8 635.6l0.2 0.3M826.1 622.5l6.1-8.5M845.4 591.3l3.7-7.8M849.3 898l8.1-19.3M870.8 845.3h0M870.8 845.3l4.3-9.7"/>
<path stroke="#d400ff" d="M1195.2 613.4l9.4-5.8M1238.9 765.1l3.7-2.4M1323.1 734.7l3.7 1.2M1347.4 858.9l1.5 2.6 1.8 2 2.2 1.4 2.4 0.9M1035.7 625.3l5.2 4.1 4.4 5.7M1046.6 637.3l3.3 7 3.3 9.3M1063.7 691.7l3.1 8.9 3.2 7.5M736 633.4l1.5 2.2M739.9 639.9l4 9.3 4.1 12.9M753.7 682.4l4 12.4 3.9 9.7M1356.8 626.1l4.8 4.1 4.2 5.4M832.2 614l7.5-12"/>
<path stroke="#ff00ff" d="M1204.6 607.6l6.7-5.4M1211.3 602.2l3.3-3.8 2.4-4 1.8-4.5 1.5-6M1220.5 897.7l1.6-11.6M1222.3 883.7h0M1222.5 881h0M1222.7 878h0M1222.7 878h0M1222.9 874.7h0M1223.2 871.1h0M1223.4 867h0M1223.6 862.6h0M1223.8 857.9h0M1224 852.8h0M1224.2 847.5h0M1224.5 842h0M1224.5 842h0M1224.7 836.5h0M1224.9 831.1h0M1225.1 826h0M1225.3 821.1h0M1225.6 816.6h0M1225.8 812.5h0M1226 808.7h0M1226.2 805.4h0M1226.4 802.3h0M1226.7 799.5h0M1226.9 797.1l1.5-11.9 2.4-9.2 3.3-6.1 4.8-4.8M1326.8 735.9l2.4 1.5 2 1.8 1.8 2.7 1.3 2.9 2.2 8.5 1.7 13.5M1338.4 769.2h0M1338.7 771.8h0M1338.9 774.6h0M1339.1 777.7h0M1339.3 780.9h0M1339.5 784.3h0M1339.8 787.9h0M1340 791.7h0M1340.2 795.6h0M1340.4 799.5h0M1340.6 803.5h0M1340.8 807.5h0M1341.1 811.3h0M1341.3 815.1h0M1341.5 818.6h0M1341.7 822h0M1341.9 825.2h0M1342.2 828.2h0M1342.4 830.9h0M1342.6 833.5h0M1342.8 835.9l1.3 10.7M1344.1 846.6l1.6 7.4 1.7 4.9M1045.3 635.1l0.5 0.7M1053.2 653.6l10.5 38.1M748 662.1l5.7 20.3"/>
<path stroke="#ff0000" d="M737.1 650.5h0M737.8 650.1h0M739.7 648.9h0M1127.8 654.4h0M1129.1 653.6h0M961.8 727.8h0M1131.3 827.3h0M798.3 836.9h0M1267.1 732.5h0M771.9 862.7h0M772.5 863.2h0M773.2 863.7h0M775.8 865.6h0M776.5 866.1h0M1060.4 641.9h0M1063.5 640.2h0M746.7 612.4h0M755.5 618.7h0M764.2 625.4h0M769.7 629.7h0M777.3 635.8h0M777.8 636.2h0M783 640.3h0M1092.3 842.4h0M739.9 814.7h0M1187.1 720.6h0M1187.5 720.6h0M827.9 680.4h0M832.2 678h0M833.1 677.5h0M1019.1 768.2h0M976 635.8h0M977.1 635.2h0M979.7 634h0M1289 844h0M1290.1 844.9h0M1291.6 846.1h0M1292.1 846.5h0M1292.3 846.7h0M1292.5 846.8h0M1293.4 847.6h0M1294.5 848.4h0M1297.8 851.1h0M1298.8 852h0M1299.5 852.5h0M1300.2 853h0M1301 853.7h0M1301.2 853.9h0M1301.9 854.4h0M1302.6 855h0M1303.4 855.6h0M1303.9 856h0M1305 856.8h0M1305.2 857h0M1306.7 858.2h0M1306.9 858.4h0M1307.2 858.5h0M1307.8 859h0M1308.9 859.9h0M1310.2 860.9h0M1312.6 862.6h0M1315 864.4h0M1315.2 864.5h0M1315.5 864.7h0M1317 865.7h0M1317.2 865.9h0M1320.5 868.1h0M1322.5 869.4h0M983 674.5h0M783.5 677.2h0M786.1 675.6h0M983.6 845.6h0M984.3 846.1h0M985.4 847h0M985.8 847.4h0M986.9 848.3h0M987.3 848.6h0M987.6 848.8h0M990 850.8h0M991.1 851.6h0M991.3 851.8h0M993.2 853.4h0M993.5 853.6h0M993.7 853.8h0M993.9 853.9h0M995.4 855.1h0M995.9 855.5h0M997.2 856.5h0M998.1 857.2h0M999.2 858h0M1000 858.7h0M1000.5 859.1h0M1000.7 859.2h0M1001.6 859.9h0M1002.9 860.9h0M1003.5 861.3h0M1004 861.7h0M1004.4 862h0M1004.6 862.2h0M1005.3 862.6h0M1005.5 862.8h0M1005.9 863.1h0M1006.2 863.3h0M1008.3 864.8h0M1008.6 865h0M1009.2 865.4h0M1010.1 866h0M1010.3 866.2h0M1010.8 866.5h0M1012.3 867.5h0M1012.5 867.6h0M1012.7 867.8h0M1017.1 870.5h0M1292.1 637.6h0M1295.1 636.1h0M1296 635.6h0M1296.2 635.5h0M1299.3 634.1h0M854.8 618.3h0M855.2 618.6h0M868.1 628.6h0M871.4 631.2h0M874 633.4h0M879.7 638h0M885 642.3h0M892.4 648.3h0M1180.5 851h0M1183.1 849.9h0M1185.3 848.9h0M1187.1 848.1h0M1187.7 847.8h0M1190.1 846.7h0M852.6 849.6h0M853.5 849.3h0M1143.3 613.4h0M1150.5 617.9h0M1151.4 618.5h0M1155.6 621.4h0M1164.1 627.8h0M1175.7 637h0M1178.1 638.9h0M1183.8 643.5h0M1186 645.3h0M1188.8 647.6h0M1190.1 648.6h0M1192.1 650.1h0M748.9 688.7h0M750.4 687.9h0M751.8 687.2h0M752.4 686.8h0M924.3 697.2h0M924.6 697.1h0M927.4 696h0M846 690.3h0M847.8 689.4h0M1071.3 691.2h0M1074.4 689.7h0M1075.3 689.2h0M813 701.3h0M813.7 701h0M815.4 700.4h0M816.7 699.9h0M1149.4 693.3h0M1151 692.6h0M1152.3 691.9h0M1153.4 691.4h0M784.8 788.5h0M1218.1 704h0M981 813.5h0M1039.8 863.2h0M1046 867h0M1047.7 868h0M1048.4 868.3h0M1050.1 869.3h0M1051.7 870h0M1051.9 870.1h0M1052.3 870.3h0M1052.5 870.4h0M1053 870.7h0M1053.4 870.9h0M1054.5 871.4h0M1055.6 871.8h0M1055.8 871.9h0M1056 872h0M1056.2 872.1h0M1056.9 872.4h0M1057.1 872.5h0M1057.3 872.6h0M1342.8 623.1h0M1344.3 622.6h0M811.2 610.9h0M815.2 612.8h0M826.1 619.4h0M877.5 662.1h0M884.8 667.7h0M1147.7 856.9h0M1152.3 855.7h0M1153.2 855.4h0M1155.1 854.8h0M926.8 856h0M927 856h0M927.4 855.9h0M928.3 855.7h0M929.2 855.6h0M1214.6 613.5h0M1220.1 615.8h0M1220.8 616.1h0M1223.8 617.6h0M1227.5 619.6h0M1292.9 672.1h0M1297.3 675.4h0M1298 675.8h0M1299.5 677h0M1300.2 677.4h0M739.7 868.8h0M1018 624.7h0M1018.6 624.6h0M1159.5 723.3h0M1159.7 723.4h0M1283.1 804.8h0M1284.4 805.8h0M1357.2 864.4h0M1357.5 864.5h0M1361.2 866.2h0M1363.8 867.3h0M1364.2 867.5h0M1366 868.2h0M930.9 621.6h0M1056.7 716.5h0M1186.4 801h0M1262.5 864h0M1264.7 865.1h0M1265.2 865.3h0M1266.9 866.1h0M1267.6 866.4h0M1268.7 866.9h0M1269.8 867.3h0M1270.4 867.6h0M1271.7 868.1h0M1272.2 868.2h0M1273.7 868.7h0M1273.9 868.8h0M1277 869.8h0M876.4 801h0M876.7 801.1h0M952.8 864.3h0M956.3 865.9h0M958.2 866.7h0M960.9 867.7h0M961.1 867.8h0M961.8 868h0M962 868.1h0M962.4 868.2h0M962.6 868.3h0M962.8 868.4h0M963.1 868.4h0M963.3 868.5h0M963.5 868.6h0M964.6 868.9h0M1244.2 622.1h0M1244.4 622.1h0M1246.8 621.6h0M1247 621.5h0M1247.2 621.5h0M1254.9 620.4h0M881.7 612.7h0M883.9 613.2h0M984.1 690.4h0M987.1 692.5h0M990 694.3h0M1102.4 768.4h0M1214 862.1h0M1220.5 862.5h0M1221.6 862.5h0M1222.5 862.5h0M1222.9 862.4h0M1223.8 862.4h0M1224.2 862.4h0M1224.7 862.4h0M1225.1 862.3h0M1225.3 862.3h0M1226 862.3h0M1226.4 862.2h0M1228.4 862.1h0M1228.6 862h0M1229.9 861.9h0M1230.4 861.8h0M772.1 773h0M879.5 860.1h0M880.2 860.3h0M883.9 861h0M886.5 861.3h0M886.9 861.4h0M887.6 861.4h0M888.7 861.5h0M889.3 861.6h0M889.6 861.6h0M890.2 861.7h0M890.4 861.7h0M890.7 861.7h0M890.9 861.7h0M1182.5 618.1h0M1182.7 618.1h0M1183.1 618.2h0M1292.9 702.5h0M1293.6 702.9h0M1294.9 703.8h0M1295.1 703.9h0M1295.6 704.2h0"/>
<path stroke="#ff2a00" d="M736 651.2h0M739.3 649.2h0M740.2 648.6h0M741.2 647.9h0M743.9 646.3h0M1366 650.1h0M1126 655.6h0M1129.3 828.6h0M851.5 733.8h0M1013.6 835.9h0M772.1 862.9h0M1057.8 643.4h0M1058 643.3h0M1066.8 638.4h0M1217.2 744.1h0M745.6 611.7h0M751.5 615.8h0M755.7 618.9h0M765.1 626.1h0M765.3 626.3h0M765.8 626.6h0M766.2 627h0M779.8 637.8h0M1075.3 850.8h0M1085.6 846h0M1086.2 845.6h0M738.8 815.4h0M1362.9 818.2h0M829 679.8h0M829.2 679.7h0M1020.2 768h0M886.1 716.5h0M1056.7 815.8h0M976.2 635.7h0M1289.9 844.7h0M1290.5 845.2h0M1290.8 845.4h0M1292.7 847h0M1293.6 847.7h0M1294 848.1h0M1294.2 848.3h0M1295.8 849.5h0M1296.9 850.4h0M1297.3 850.8h0M1298.2 851.5h0M1298.4 851.6h0M1298.6 851.8h0M1299.3 852.3h0M1301.7 854.3h0M1303.2 855.5h0M1305.6 857.4h0M1309.1 860h0M1309.8 860.5h0M1310 860.7h0M1310.4 861h0M1311.5 861.8h0M1314.2 863.7h0M1317.4 866h0M1320.1 867.8h0M980.6 676.1h0M983.2 674.4h0M983.8 674h0M781.9 678.2h0M782.6 677.8h0M784.8 676.4h0M786.5 675.3h0M787 675h0M983 845.1h0M984.1 845.9h0M986 847.6h0M989.5 850.4h0M991.9 852.4h0M992.8 853.1h0M994.1 854.1h0M996.8 856.2h0M998.5 857.5h0M1001.8 860h0M1002.4 860.5h0M1291.8 637.7h0M1294.9 636.2h0M1295.3 636h0M1295.6 635.8h0M1300.2 633.6h0M1306.7 630.7h0M848.7 614.1h0M850.8 615.6h0M851.3 615.9h0M853 617.1h0M856.8 619.8h0M857.2 620.1h0M858.3 620.9h0M859.6 621.9h0M861.8 623.6h0M862.9 624.4h0M864 625.3h0M867.2 627.9h0M869.7 629.8h0M879.3 637.7h0M880.4 638.6h0M881.9 639.8h0M882.6 640.4h0M883.4 641.1h0M886.9 643.9h0M887.2 644.1h0M887.6 644.4h0M889.6 646h0M892.6 648.4h0M1040.3 743.5h0M1182.7 850.1h0M1183.8 849.6h0M1184 849.5h0M1184.2 849.4h0M1186.6 848.3h0M855.4 848.5h0M856.5 848.1h0M1143.5 613.5h0M1150.1 617.6h0M1152.1 619h0M1155.3 621.2h0M1156.4 622h0M1163.7 627.4h0M1166.1 629.3h0M1169.1 631.7h0M1169.3 631.9h0M1173.5 635.2h0M1174.6 636.1h0M1176.1 637.3h0M1178.8 639.5h0M1179.8 640.4h0M1180.7 641.1h0M1185.5 644.9h0M1186.8 646h0M1193.2 651h0M749.6 688.3h0M944.2 772.6h0M925.9 696.6h0M926.5 696.3h0M926.8 696.2h0M929.6 695h0M1119.9 782.5h0M847.3 689.6h0M851.3 687.4h0M1073.1 690.3h0M813.9 700.9h0M819.3 698.8h0M1149.2 693.5h0M1150.1 693h0M1150.3 692.9h0M1151.2 692.5h0M1151.8 692.2h0M1345.4 776.9h0M784.6 788.6h0M1217.2 704.3h0M980.6 813.2h0M983 815h0M985.6 817.1h0M1044.7 866.2h0M1045.1 866.5h0M1046.6 867.4h0M1047.3 867.7h0M1047.9 868.1h0M1050.3 869.4h0M1050.6 869.5h0M1051.4 869.9h0M1052.1 870.2h0M1053.6 871h0M1053.8 871.1h0M1057.6 872.6h0M1333.8 626h0M1336.7 625h0M1341.7 623.4h0M813.4 611.9h0M817.2 613.9h0M819.6 615.2h0M881.9 665.5h0M1146.6 857.2h0M1151.4 855.9h0M1153.8 855.2h0M794.2 756.8h0M921.9 856.7h0M922.6 856.6h0M925.4 856.2h0M926.3 856.1h0M928.1 855.8h0M1219.7 615.6h0M1221 616.2h0M1221.2 616.3h0M1227.3 619.5h0M1289.4 669.4h0M1292.7 671.9h0M1299.7 677.1h0M1299.9 677.3h0M1302.6 679.2h0M1303.2 679.6h0M1304.1 680.3h0M1018.8 624.5h0M1025.6 623.1h0M1159.9 723.5h0M1350.9 860.9h0M1351.3 861.2h0M1352.7 862h0M1356.2 863.9h0M1357 864.3h0M1358.3 864.9h0M1360.3 865.9h0M1360.5 865.9h0M1361.4 866.3h0M1363.6 867.2h0M1365.8 868.1h0M928.1 622.2h0M935.1 620.9h0M1063.2 719.8h0M1064.1 720.3h0M1065.9 721.1h0M1185.3 800.2h0M1187.1 801.5h0M1251.2 857h0M1259 862.1h0M1260.6 863h0M1269.3 867.1h0M1270.6 867.6h0M1272.8 868.4h0M1276.8 869.7h0M751.3 718.5h0M753.1 719.4h0M876.9 801.3h0M935.1 852.8h0M947.5 861.4h0M951 863.4h0M953.4 864.6h0M954.5 865.1h0M955.4 865.5h0M955.6 865.6h0M960 867.4h0M961.3 867.8h0M1249.2 621.1h0M887.4 614.1h0M981.4 688.6h0M982.5 689.4h0M987.8 692.9h0M988 693h0M989.5 694.1h0M989.8 694.2h0M1107.9 771.4h0M1210.5 861.6h0M1215.5 862.3h0M1222.7 862.5h0M1223.4 862.4h0M1226.7 862.2h0M1230.2 861.9h0M879.3 860.1h0M882.6 860.7h0M883 860.8h0M889.1 861.6h0M890 861.6h0M891.1 861.7h0M1180.9 617.7h0M1181.6 617.9h0M1292.1 702h0M1294.2 703.4h0M1294.7 703.6h0"/>
<path stroke="#ff5500" d="M739.5 649h0M904.7 749.6h0M1365.6 650.4h0M1365.8 650.3h0M1128.9 653.7h0M963.1 727.8h0M965 727.9h0M799.7 836.1h0M801.6 835h0M801.8 834.8h0M1267.8 732.6h0M1269.5 732.8h0M1271.7 733.1h0M850.8 733.7h0M851.1 733.7h0M1011 837.5h0M1013.4 836.1h0M1058.7 642.9h0M1059.1 642.7h0M1065.2 639.2h0M1066.3 638.6h0M1218.1 744.3h0M1219.2 744.5h0M746.9 612.6h0M761.8 623.5h0M762.2 623.9h0M763.6 624.9h0M763.8 625.1h0M764 625.2h0M766 626.8h0M768.6 628.9h0M769 629.2h0M779.5 637.6h0M937 738.9h0M1083.6 846.9h0M1085.1 846.2h0M1086 845.7h0M1087.8 844.8h0M1090.2 843.6h0M1090.8 843.3h0M1187.3 720.6h0M1189.9 720.4h0M1190.6 720.3h0M1365.1 816.7h0M826.8 681h0M828.1 680.3h0M829.8 679.3h0M830.1 679.2h0M830.5 679h0M831.6 678.3h0M834.2 676.8h0M835.1 676.3h0M836.4 675.5h0M836.8 675.2h0M838.2 674.4h0M883.9 716.8h0M1057.3 815.3h0M1064.6 810.4h0M1069.2 807.4h0M980.1 633.8h0M983.6 632.2h0M1291.2 845.8h0M1291.4 846h0M1295.6 849.3h0M1296.4 850h0M1297.5 850.9h0M1305.4 857.2h0M1305.8 857.5h0M1310.7 861.2h0M1319.6 867.5h0M1319.8 867.7h0M985.4 673h0M988.4 671h0M989.8 670.1h0M994.6 666.8h0M1167.6 764.6h0M1169.1 764.4h0M783.7 677.1h0M785.4 676h0M788.1 674.3h0M789.2 673.6h0M980.6 843.1h0M984.7 846.5h0M985.2 846.8h0M986.2 847.7h0M987.8 849h0M988.2 849.3h0M988.7 849.7h0M989.1 850.1h0M990.6 851.3h0M991.5 852h0M991.7 852.2h0M994.6 854.5h0M995 854.8h0M997.6 856.9h0M998.9 857.9h0M1003.3 861.2h0M1007 863.9h0M1007.2 864h0M1296.7 635.3h0M1298.6 634.4h0M848.4 613.9h0M848.9 614.2h0M850.4 615.3h0M850.6 615.4h0M853.2 617.2h0M855 618.5h0M855.9 619.1h0M864.2 625.4h0M864.4 625.6h0M864.6 625.8h0M865.1 626.1h0M867.5 628.1h0M877.8 636.4h0M879.5 637.9h0M883.2 640.9h0M886.7 643.7h0M887.8 644.6h0M891.1 647.2h0M892.8 648.6h0M1039.4 743.2h0M1039.8 743.4h0M1171.5 854.3h0M1185.1 849h0M1185.5 848.8h0M1190.3 846.6h0M851.5 850h0M851.7 849.9h0M852.8 849.5h0M853 849.5h0M853.2 849.4h0M855 848.7h0M855.9 848.4h0M856.1 848.3h0M856.8 848h0M857 847.9h0M1143.1 613.3h0M1150.3 617.8h0M1157.3 622.7h0M1158.8 623.8h0M1159.5 624.3h0M1160.2 624.8h0M1161.7 625.9h0M1161.9 626.1h0M1162.3 626.4h0M1167.8 630.7h0M1170.9 633.1h0M1174.8 636.3h0M1179 639.6h0M1180.9 641.2h0M1182.5 642.5h0M1185.3 644.8h0M1185.8 645.1h0M1187.3 646.3h0M1187.9 646.9h0M1188.4 647.2h0M1190.8 649.1h0M1191 649.3h0M1191.4 649.6h0M1337.8 744.3h0M748.7 688.8h0M751.1 687.5h0M751.5 687.3h0M753.1 686.4h0M753.5 686.2h0M754.4 685.7h0M757.9 683.6h0M758.3 683.3h0M758.8 683.1h0M938.1 774.6h0M941.6 773.4h0M944.5 772.5h0M944.7 772.4h0M923.9 697.4h0M926.1 696.5h0M929.4 695.1h0M930.9 694.4h0M933.8 693.1h0M846.7 689.9h0M849.5 688.4h0M850.4 687.9h0M851.1 687.6h0M1039.6 774.8h0M1071.8 691h0M1072 690.9h0M1075.1 689.3h0M1076.8 688.4h0M814.1 700.9h0M814.5 700.7h0M818 699.3h0M818.5 699.2h0M818.7 699.1h0M828.5 694.5h0M1006.6 787.2h0M1009 786h0M1150.5 692.8h0M1151.4 692.4h0M1344.3 777.3h0M1344.6 777.2h0M1345.2 776.9h0M781.5 790.2h0M785 788.4h0M785.7 788.1h0M1218.6 703.8h0M1219.2 703.6h0M981.2 813.7h0M981.7 814h0M985.8 817.2h0M986.5 817.8h0M987.6 818.6h0M1025.6 852.2h0M1039.6 863h0M1043.3 865.4h0M1044.9 866.4h0M1046.4 867.2h0M1049.5 868.9h0M1049.9 869.1h0M1055.2 871.6h0M1339.5 624h0M1339.8 624h0M1340 623.9h0M1340.2 623.8h0M1342.6 623.1h0M815 612.7h0M815.6 613.1h0M816.7 613.6h0M817.8 614.2h0M818.9 614.9h0M820.4 615.8h0M821.8 616.5h0M824.6 618.4h0M824.8 618.5h0M828.1 620.7h0M828.5 621h0M882.3 665.9h0M882.6 666h0M883.4 666.7h0M884.3 667.4h0M885 667.8h0M1147.9 856.9h0M1150.3 856.3h0M1150.5 856.2h0M917.3 857.1h0M919.8 856.9h0M922.8 856.6h0M925.2 856.3h0M925.7 856.2h0M927.6 855.8h0M1215.1 613.7h0M1217.5 614.6h0M1221.8 616.6h0M1223.4 617.4h0M1225.3 618.4h0M1230.6 621.4h0M1282.2 663.7h0M1291.2 670.8h0M1297.8 675.7h0M1299.1 676.6h0M1299.3 676.8h0M1300.8 677.9h0M1301.5 678.4h0M1302.3 679h0M1303.4 679.8h0M1303.7 679.9h0M1023.4 623.5h0M1024.5 623.3h0M1024.8 623.2h0M1025.2 623.2h0M1026.7 622.9h0M1157.8 722.4h0M1160.2 723.6h0M1282.4 804.3h0M1286.4 807.3h0M1333 847.8h0M1344.6 856.8h0M1346.8 858.3h0M1350 860.4h0M1354.6 863h0M1355.7 863.6h0M1356.6 864.1h0M1356.8 864.2h0M1357.9 864.7h0M1358.8 865.1h0M1359.7 865.6h0M933.5 621.1h0M1062.4 719.4h0M1062.6 719.5h0M1065.7 721h0M1251.8 857.5h0M1256.4 860.5h0M1257.7 861.3h0M1261 863.2h0M1269.1 867h0M746.7 716.1h0M748 716.8h0M748.9 717.2h0M874 799.2h0M942.7 858.4h0M946.7 860.9h0M949.7 862.7h0M955 865.3h0M955.2 865.4h0M956.1 865.8h0M956.7 866.1h0M957.8 866.5h0M959.1 867h0M961.5 867.9h0M1253.1 620.6h0M881.9 612.8h0M890 614.8h0M890.9 615.1h0M894.4 616.4h0M985.4 691.3h0M987.3 692.6h0M988.4 693.3h0M1102.8 768.6h0M1104.2 769.3h0M1217.9 862.4h0M1220.3 862.5h0M1221 862.5h0M1222.1 862.5h0M1222.3 862.5h0M1223.6 862.4h0M1228.8 862h0M772.8 773.4h0M774.1 774.2h0M873.4 858.4h0M876.4 859.3h0M880.4 860.3h0M881.2 860.5h0M884.1 861h0M884.5 861.1h0M885.2 861.2h0M886.3 861.3h0M1179 617.4h0M1182.2 618h0M1183.3 618.2h0M1186.2 619h0M1276.8 691.7h0M1287.7 699.1h0M1288.6 699.7h0M1292.3 702.1h0M1292.7 702.4h0M1293.2 702.7h0M1295.3 704.1h0"/>
<path stroke="#ff8000" d="M738 650h0M741.7 647.7h0M741.9 647.5h0M743 646.9h0M743.4 646.6h0M744.5 645.9h0M746.3 644.8h0M747.4 644.2h0M901.2 749.3h0M904.2 749.6h0M905.1 749.7h0M1130.2 652.9h0M1130.4 652.7h0M1130.8 652.5h0M1133.2 650.9h0M1138.5 647.5h0M1295.6 752.7h0M1298.6 752.8h0M963.9 727.9h0M1123.4 832.4h0M1126.2 830.6h0M1127.1 830h0M1132.4 826.6h0M1132.6 826.5h0M800.8 835.5h0M801 835.3h0M1267.6 732.6h0M1268.9 732.7h0M1270 732.9h0M1270.2 732.9h0M851.3 733.8h0M851.7 733.8h0M852.2 733.9h0M853.7 734.1h0M994.6 846.8h0M998.5 844.6h0M1007.2 839.7h0M1007.5 839.5h0M1008.8 838.8h0M1009.4 838.4h0M1012.7 836.5h0M1013.2 836.2h0M1014 835.7h0M1060.8 641.7h0M1068.1 637.7h0M1218.3 744.4h0M1218.8 744.4h0M1219.4 744.6h0M762.7 624.2h0M769.9 629.9h0M774.7 633.8h0M936.4 738.8h0M1075.1 850.9h0M1076.6 850.2h0M1078.3 849.4h0M1081 848.2h0M1081.8 847.8h0M1083.8 846.8h0M1087.1 845.2h0M1087.5 845h0M1089.9 843.7h0M1092.6 842.3h0M738.4 815.7h0M1361.8 818.9h0M1364.2 817.3h0M1365.8 816.3h0M1366 816.1h0M832.5 677.8h0M832.7 677.7h0M833.6 677.2h0M833.8 677.1h0M1012.7 769.5h0M1016 768.7h0M1019.3 768.1h0M1019.5 768.1h0M1019.7 768h0M882.8 717h0M890.2 715.7h0M1058.9 814.3h0M1061.9 812.2h0M1067.6 808.4h0M1068.5 807.8h0M1068.9 807.6h0M976.8 635.3h0M979 634.3h0M1127.3 738.5h0M1291 845.6h0M1300.8 853.6h0M979 677h0M979.2 676.9h0M980.1 676.3h0M986.7 672.1h0M986.9 672h0M988.9 670.7h0M993.7 667.4h0M1168.7 764.5h0M783 677.5h0M785.7 675.9h0M787.8 674.5h0M788.3 674.2h0M790 673.1h0M790.7 672.6h0M793.1 671.1h0M794.6 670h0M968.3 765.8h0M970.9 765.3h0M972.5 765h0M972.7 765h0M979.7 842.4h0M985.6 847.2h0M988.9 849.9h0M990.2 850.9h0M1008.8 865.1h0M1292.3 637.5h0M1295.8 635.7h0M1298.8 634.3h0M1299.1 634.2h0M1299.5 634h0M1301.5 633h0M1301.9 632.8h0M1302.3 632.6h0M1307.8 630.3h0M849.1 614.4h0M852.2 616.5h0M852.6 616.8h0M853.7 617.5h0M856.3 619.4h0M857.6 620.4h0M858.9 621.4h0M859.2 621.6h0M859.8 622.1h0M860 622.2h0M862 623.7h0M866.2 627h0M866.6 627.4h0M868.3 628.8h0M868.8 629.1h0M869.2 629.5h0M872.7 632.3h0M872.9 632.5h0M874.7 633.9h0M875.1 634.3h0M876 635h0M877.3 636.1h0M878 636.6h0M881.2 639.3h0M883.9 641.4h0M886.1 643.2h0M888.5 645.1h0M889.1 645.7h0M889.3 645.8h0M890.4 646.7h0M1041.4 743.8h0M1041.8 743.9h0M1042.2 744.1h0M1170.2 854.8h0M1172.2 854.1h0M1173.1 853.8h0M1173.7 853.6h0M1181.8 850.4h0M1186.2 848.5h0M1189.2 847.1h0M846.5 851.7h0M848 851.2h0M851.3 850.1h0M854.3 849h0M1146.8 615.5h0M1156.2 621.9h0M1162.1 626.3h0M1162.8 626.8h0M1165.2 628.6h0M1165.8 629.1h0M1166.5 629.6h0M1167.2 630.2h0M1169.8 632.2h0M1170.4 632.8h0M1171.3 633.5h0M1172.4 634.3h0M1173.9 635.6h0M1175 636.5h0M1177.7 638.6h0M1181.4 641.6h0M1183.3 643.2h0M1184.7 644.2h0M1191.2 649.5h0M1338.9 744.7h0M1339.8 745h0M749.8 688.2h0M753.3 686.3h0M753.7 686h0M757.2 684h0M941.4 773.5h0M942.9 773h0M924.8 697h0M927 696.2h0M928.9 695.3h0M929.2 695.2h0M932.7 693.6h0M933.3 693.3h0M1117.3 783.6h0M1119.5 782.7h0M1121.7 781.8h0M845.6 690.5h0M846.5 690.1h0M849.8 688.3h0M850.6 687.8h0M850.8 687.7h0M851.7 687.2h0M1072.7 690.6h0M1073.5 690.1h0M1074 689.9h0M1074.8 689.4h0M1075.9 688.8h0M1077.2 688.1h0M1078.6 687.4h0M1266 775.2h0M1266.5 775.1h0M815.2 700.5h0M817.4 699.6h0M817.8 699.4h0M821.1 698.1h0M821.5 697.9h0M822.4 697.5h0M1008.1 786.4h0M1009.2 785.9h0M1152.1 692h0M1154.2 690.9h0M1160.8 687.2h0M1341.1 778.6h0M1342.2 778.1h0M780.8 790.6h0M782.4 789.8h0M782.8 789.5h0M783.2 789.3h0M785.4 788.2h0M1219.7 703.5h0M1222.3 702.5h0M1222.9 702.2h0M1226.2 700.8h0M848.9 726.5h0M980.8 813.4h0M983.8 815.7h0M984.7 816.4h0M985.4 816.9h0M986.9 818.1h0M988.4 819.3h0M1028 854.2h0M1035.9 860.4h0M1036.8 861h0M1046.2 867.1h0M1343.5 622.9h0M1348.5 621.6h0M813.2 611.8h0M814.8 612.6h0M816.3 613.4h0M819.1 615h0M821.1 616.1h0M822.4 617h0M825.7 619.1h0M829.2 621.5h0M832 623.6h0M836.6 627.2h0M878.8 663.2h0M881.5 665.2h0M882.1 665.7h0M884.1 667.2h0M1016.2 753.3h0M1140.2 858.4h0M1143.8 857.8h0M1144.6 857.6h0M1148.3 856.8h0M1149 856.6h0M1150.8 856.1h0M1151 856.1h0M1152.5 855.6h0M793.1 756.3h0M794 756.7h0M794.6 757h0M796.8 758.1h0M913.4 857.2h0M918.9 857h0M920 856.9h0M921.7 856.7h0M922.2 856.7h0M923.7 856.5h0M1214.4 613.4h0M1217 614.5h0M1222.9 617.2h0M1224.7 618.1h0M1228.4 620.1h0M1229.3 620.6h0M1287 667.5h0M1289 669.1h0M1290.8 670.4h0M1298.4 676.2h0M1303 679.5h0M1018.4 624.6h0M1024.3 623.3h0M1025.4 623.1h0M1026.1 623h0M1156.9 722h0M1157.3 722.2h0M1158.8 723h0M1159.1 723.1h0M1281.1 803.4h0M1283.8 805.3h0M1285.9 806.9h0M1286.8 807.6h0M1288.1 808.6h0M1288.8 809.1h0M1330.6 845.7h0M1331.2 846.3h0M1338.7 852.5h0M1341.7 854.8h0M1342.4 855.3h0M1347.8 859h0M1350.5 860.7h0M1352.2 861.7h0M1352.9 862.1h0M1353.3 862.3h0M1353.8 862.6h0M1358.6 865h0M1359.4 865.5h0M931.3 621.5h0M935.3 620.9h0M938.6 620.5h0M1057.3 716.8h0M1061.1 718.7h0M1063.5 719.9h0M1185.5 800.4h0M1186.6 801.1h0M1195.6 807.9h0M1245.2 852.5h0M1253.1 858.4h0M1254 859h0M1260.3 862.8h0M1260.8 863.1h0M1263.6 864.6h0M1264.1 864.8h0M1265.6 865.5h0M747.2 716.3h0M748.2 716.9h0M750.7 718.1h0M752.2 718.9h0M873.6 798.9h0M875.3 800.2h0M878.8 802.7h0M886.7 808.8h0M934.2 852.1h0M938.8 855.6h0M940.1 856.6h0M941 857.2h0M943.2 858.7h0M945.6 860.2h0M951.2 863.5h0M952.6 864.1h0M955.8 865.7h0M1249 621.2h0M1250.7 620.9h0M1251.8 620.7h0M1252 620.7h0M1252.7 620.6h0M1253.3 620.5h0M1254.7 620.4h0M1256.8 620.2h0M887.2 614h0M888.2 614.3h0M889.8 614.8h0M890.7 615.1h0M892.8 615.8h0M981.9 688.9h0M983.6 690.1h0M984.3 690.5h0M987.6 692.7h0M1106.6 770.7h0M1109.4 772.3h0M1209.6 861.5h0M1212.9 862h0M1216.8 862.4h0M1218.1 862.4h0M1218.3 862.4h0M1218.6 862.5h0M1219.4 862.5h0M1221.8 862.5h0M876.2 859.3h0M880.6 860.4h0M882.3 860.7h0M886.1 861.3h0M887.2 861.4h0M1181.8 617.9h0M1184.7 618.6h0M1185.5 618.8h0M1185.8 618.8h0M1186 618.9h0M1189.5 619.9h0M1191.7 620.7h0M1281.3 694.9h0M1283.8 696.5h0M1284 696.7h0M1286.8 698.6h0M1288.3 699.6h0M1289.4 700.3h0M1289.7 700.4h0M1290.1 700.7h0M1290.5 701h0M1290.8 701.1h0M1291.8 701.8h0M1293.8 703.1h0M1294.5 703.5h0M1295.8 704.3h0"/>
<path stroke="#ffaa00" d="M738.4 649.7h0M738.6 649.6h0M739.9 648.8h0M740.4 648.5h0M741.5 647.8h0M743.7 646.5h0M745.8 645.1h0M903.6 749.5h0M905.3 749.7h0M1127.6 654.6h0M1129.3 653.4h0M1129.8 653.2h0M1131.1 652.3h0M962.4 727.8h0M968.1 727.9h0M1120.3 834.4h0M1126.7 830.3h0M782.4 846.2h0M794.4 839.3h0M795.5 838.6h0M795.9 838.4h0M796.8 837.8h0M798.8 836.7h0M800.3 835.7h0M1278.5 733.7h0M851.9 733.9h0M852.6 734h0M853 734h0M853.2 734.1h0M993.5 847.3h0M995.9 846.1h0M1009 838.7h0M1010.1 838h0M1011.4 837.2h0M1011.6 837.1h0M1012.1 836.9h0M1058.4 643h0M1061.3 641.4h0M1061.9 641.1h0M1064.8 639.5h0M1067.4 638h0M1070.5 636.4h0M759.4 621.7h0M768.2 628.5h0M776.5 635.1h0M776.9 635.5h0M936.6 738.8h0M936.8 738.9h0M1077 850h0M1088.4 844.5h0M1089.1 844.2h0M1089.5 843.9h0M1089.7 843.8h0M1090.4 843.5h0M1090.6 843.4h0M1091 843.1h0M736 817.3h0M737.3 816.4h0M737.5 816.3h0M739.7 814.8h0M740.2 814.5h0M740.8 814.1h0M741 813.9h0M1193 720.1h0M1194.9 719.8h0M1362.1 818.8h0M1364.5 817.2h0M1364.9 816.9h0M830.9 678.7h0M832.9 677.6h0M835.5 676h0M837.3 675h0M844.3 670.6h0M849.5 667.1h0M1015.8 768.8h0M1016.2 768.7h0M1018.4 768.3h0M881.9 717.1h0M1063.2 811.3h0M1065.2 810h0M1067.2 808.7h0M1068.3 808h0M976.6 635.4h0M977.7 634.9h0M978.2 634.7h0M978.6 634.5h0M980.6 633.6h0M980.8 633.5h0M982.8 632.6h0M1129.3 739.1h0M1288.3 843.5h0M1289.4 844.4h0M978.8 677.2h0M982.1 675.1h0M982.8 674.7h0M987.1 671.9h0M989.1 670.6h0M989.3 670.4h0M990.2 669.8h0M996.5 665.5h0M1000 663h0M1166.3 764.9h0M1168.5 764.5h0M787.6 674.6h0M791.6 672.1h0M792 671.8h0M792.4 671.5h0M792.9 671.2h0M969 765.7h0M819.1 737.6h0M819.3 737.6h0M820.2 737.9h0M821.5 738.3h0M979.9 842.5h0M981 843.4h0M992.2 852.5h0M1301 633.2h0M1305.6 631.2h0M846.9 612.9h0M859.4 621.7h0M861.6 623.4h0M865.9 626.8h0M869 629.3h0M870.5 630.5h0M871 630.9h0M873.4 632.8h0M875.3 634.5h0M877.5 636.3h0M878.8 637.3h0M880.8 638.9h0M884.3 641.8h0M1040.7 743.6h0M1175.5 852.9h0M1180.7 850.9h0M1182 850.3h0M1182.2 850.2h0M1184.4 849.3h0M845.2 852.1h0M846 851.9h0M851.1 850.2h0M854.6 848.9h0M858.1 847.5h0M858.7 847.2h0M858.9 847.1h0M1157.8 623h0M1158 623.1h0M1160.4 624.9h0M1162.6 626.6h0M1165.4 628.8h0M1165.6 629h0M1168.2 631h0M1170.7 632.9h0M1172.8 634.7h0M1173.3 635h0M1177.4 638.4h0M1183.6 643.4h0M1184.2 643.9h0M1188.2 647h0M1188.6 647.4h0M1337.1 744.1h0M1337.6 744.2h0M1341.9 745.7h0M755.7 684.9h0M757.4 683.9h0M759.4 682.7h0M942.3 773.2h0M942.5 773.1h0M943.2 772.9h0M943.8 772.7h0M928.7 695.4h0M930.2 694.7h0M930.5 694.6h0M934.4 692.8h0M1113.6 785.3h0M1117.9 783.3h0M1118.2 783.2h0M1119.2 782.7h0M1121.2 782h0M852.8 686.6h0M853 686.4h0M853.2 686.3h0M853.7 686.1h0M856.1 684.6h0M858.1 683.4h0M1036.8 775.8h0M1038.8 775.1h0M1039.4 774.9h0M1071.6 691.1h0M1077 688.2h0M1079.7 686.7h0M1081.6 685.6h0M1267.1 774.8h0M815.8 700.2h0M817.6 699.5h0M818.9 699h0M819.6 698.7h0M821.3 698h0M823.7 696.9h0M1006.2 787.4h0M1006.4 787.3h0M1007.7 786.6h0M1009.4 785.8h0M1156 690h0M1156.9 689.5h0M1157.1 689.4h0M1159.5 688h0M1161 687.1h0M1342.8 777.9h0M1343.7 777.5h0M1343.9 777.4h0M1344.8 777.1h0M1345.7 776.8h0M781.3 790.4h0M781.7 790.1h0M783.7 789.1h0M1216.6 704.5h0M1220.5 703.1h0M1221.6 702.7h0M1223.6 701.9h0M1224.2 701.7h0M846.2 725.3h0M848.4 726.3h0M982.3 814.5h0M1013.6 841.5h0M1020.2 847.4h0M1023.2 850.1h0M1032 857.4h0M1039.4 862.9h0M1340.4 623.8h0M1342.4 623.2h0M1343 623h0M1343.9 622.8h0M1346.1 622.2h0M814.3 612.4h0M820.2 615.6h0M820.7 615.9h0M822.2 616.8h0M823.3 617.5h0M827.7 620.4h0M859.8 647.3h0M869 655.2h0M870.5 656.4h0M873.2 658.6h0M874.2 659.5h0M875.3 660.4h0M876.4 661.3h0M877.1 661.8h0M877.3 661.9h0M878.6 663h0M884.5 667.5h0M885.2 668h0M1017.1 753.7h0M1021.7 755.6h0M1141.8 858.2h0M1148.6 856.7h0M793.5 756.5h0M910.8 857.1h0M916.9 857.1h0M919.1 857h0M923.9 856.4h0M925 856.3h0M928.9 855.6h0M1218.8 615.2h0M1220.3 615.9h0M1224.5 617.9h0M1226 618.8h0M1228.8 620.4h0M1229.7 620.9h0M1231.2 621.8h0M1231.5 622h0M1236.7 625.4h0M1288.1 668.4h0M1289.2 669.3h0M1290.5 670.3h0M1292.1 671.4h0M1293.8 672.8h0M1294.2 673.1h0M1294.5 673.3h0M1295.8 674.2h0M1303.9 680.1h0M1026.3 623h0M1028.2 622.7h0M1029.8 622.5h0M1030.4 622.4h0M1032.4 622.2h0M1153.2 720.1h0M1156.4 721.8h0M1156.7 721.9h0M1158 722.5h0M1282.7 804.5h0M1284.8 806.1h0M1285.7 806.8h0M1286.6 807.4h0M1296.7 815.4h0M1339.3 853h0M1339.5 853.1h0M1342.2 855.1h0M1343 855.7h0M1354.4 862.9h0M932.7 621.3h0M933.3 621.2h0M936.4 620.8h0M936.6 620.7h0M1058 717.1h0M1060.2 718.2h0M1186 800.7h0M1187.7 801.9h0M1188.4 802.4h0M1189.2 803.1h0M1190.3 803.9h0M1190.6 804h0M1190.8 804.2h0M1191.9 805h0M1247 853.9h0M1247.7 854.4h0M1249.4 855.7h0M1251.4 857.2h0M1253.8 858.8h0M748.7 717.1h0M750.4 718h0M751.5 718.6h0M872.9 798.5h0M877.8 801.9h0M881.5 804.7h0M931.8 850.1h0M933.1 851.2h0M937.2 854.5h0M938.3 855.3h0M939.9 856.4h0M951.7 863.7h0M954.8 865.2h0M956.9 866.2h0M1254.2 620.4h0M1255.1 620.4h0M1256 620.3h0M1258.2 620.1h0M1259 620.1h0M887.6 614.1h0M887.8 614.2h0M893.1 615.9h0M893.5 616.1h0M895 616.7h0M979.2 687.1h0M982.1 689.1h0M982.8 689.5h0M985.8 691.6h0M1101.8 768h0M1103.7 769.1h0M1103.9 769.2h0M1104.8 769.7h0M1212.7 862h0M1213.3 862.1h0M1220.1 862.5h0M773 773.5h0M773.2 773.6h0M774.9 774.7h0M775.2 774.8h0M781.7 779h0M792 785.9h0M871 857.5h0M878.6 859.9h0M882.8 860.8h0M1186.8 619.1h0M1279.2 693.4h0M1281.6 695.1h0M1281.8 695.2h0M1282.4 695.7h0M1282.7 695.8h0M1284.8 697.3h0M1285.1 697.4h0M1285.9 698h0M1287.2 698.8h0M1287.5 699h0M1288.1 699.4h0M1292.5 702.2h0"/>
<path stroke="#ffd400" d="M746.1 645h0M746.5 644.7h0M746.7 644.6h0M900.7 749.2h0M902.2 749.4h0M904 749.6h0M904.9 749.6h0M1365.3 650.5h0M1131.5 652h0M1131.7 651.9h0M1133.5 650.8h0M1133.7 650.6h0M1135.4 649.5h0M1135.9 649.2h0M1142.7 644.9h0M1292.5 752.6h0M1296.7 752.7h0M1298.2 752.8h0M961.3 727.7h0M962.6 727.8h0M963.5 727.8h0M965.2 727.9h0M965.7 727.9h0M967.2 727.9h0M971.2 727.9h0M1112.7 839.3h0M1117.9 835.9h0M1124.9 831.4h0M1128.2 829.3h0M1128.7 829h0M1129.1 828.7h0M1130.6 827.7h0M1133 826.2h0M791.8 840.8h0M795.1 838.9h0M797.5 837.5h0M799.9 836h0M801.2 835.2h0M1266.9 732.5h0M1268.7 732.7h0M1271.5 733.1h0M1274.1 733.3h0M853.5 734.1h0M854.8 734.3h0M855.7 734.4h0M992.6 847.8h0M1004 841.6h0M1007 839.8h0M1009.2 838.5h0M1011.8 837h0M1065 639.4h0M1069.6 636.9h0M1072 635.6h0M1215.7 743.9h0M1217 744.1h0M936.2 738.7h0M937.2 739h0M938.1 739.2h0M939 739.4h0M940.5 739.8h0M1073.5 851.6h0M1076.2 850.4h0M1079.9 848.7h0M1081.4 848h0M1082.9 847.2h0M1088.8 844.3h0M1091.5 842.9h0M1091.9 842.7h0M736.4 817h0M737.1 816.6h0M738 816h0M739.3 815.1h0M739.5 814.9h0M1188.2 720.5h0M1191.9 720.2h0M1192.5 720.1h0M1352.2 825.6h0M1357.7 821.8h0M1359.2 820.7h0M1362.7 818.4h0M832 678.1h0M833.3 677.3h0M839 673.9h0M839.2 673.8h0M1011.4 769.8h0M1015.3 768.9h0M1018.8 768.2h0M884.3 716.8h0M885 716.7h0M885.2 716.6h0M886.7 716.4h0M888.5 716.1h0M1063.5 811.2h0M1065 810.1h0M977.9 634.8h0M980.3 633.7h0M984.1 632h0M984.7 631.7h0M1121.2 736.8h0M1123.4 737.4h0M1125.8 738.1h0M1126.5 738.2h0M1127.8 738.6h0M1128 738.7h0M1128.4 738.8h0M1128.7 738.9h0M984.9 673.3h0M990.6 669.5h0M999.6 663.3h0M1157.8 766.8h0M1165.6 765h0M1166.7 764.8h0M1168 764.6h0M1168.9 764.4h0M785.9 675.7h0M791.1 672.4h0M793.8 670.6h0M794.4 670.2h0M798.3 667.5h0M962 767.3h0M965.2 766.5h0M968.5 765.8h0M972.2 765.1h0M810.8 735.2h0M988 849.2h0M1300.6 633.4h0M1302.1 632.7h0M1304.5 631.7h0M1304.8 631.6h0M851.5 616h0M852.8 616.9h0M862.2 623.9h0M863.3 624.8h0M868.6 628.9h0M869.9 630h0M872.5 632.1h0M877.1 635.9h0M888 644.8h0M1039.2 743.2h0M1040.1 743.4h0M1042 744h0M1042.5 744.1h0M1172.4 854h0M1181.6 850.5h0M839.2 853.8h0M843 852.8h0M844.9 852.2h0M845.4 852.1h0M846.9 851.6h0M1151.2 618.4h0M1152.5 619.3h0M1160.6 625.1h0M1180.3 640.7h0M1180.5 640.9h0M1182.7 642.7h0M1186.2 645.5h0M1191.7 649.8h0M1339.5 744.9h0M1340.8 745.4h0M1341.5 745.6h0M1342.2 745.8h0M753.9 685.9h0M754.6 685.5h0M758.5 683.2h0M940.5 773.7h0M941 773.6h0M941.8 773.3h0M943.4 772.8h0M945.3 772.3h0M932.2 693.8h0M1116.6 783.9h0M1118.4 783.1h0M1119 782.8h0M1120.6 782.2h0M1120.8 782.1h0M855.2 685.2h0M855.7 684.9h0M856.5 684.4h0M858.5 683.2h0M861.8 681.1h0M1032 777.7h0M1033.9 776.9h0M1037.4 775.6h0M1037.7 775.5h0M1038.1 775.3h0M1039 775h0M1079 687.1h0M1079.4 686.9h0M1080.3 686.4h0M1081 686h0M1084.9 683.6h0M1086.2 682.8h0M1265.6 775.4h0M819.8 698.6h0M820.2 698.4h0M824.4 696.6h0M1002.9 789.1h0M1004 788.5h0M1005.7 787.6h0M1007.5 786.7h0M1008.3 786.3h0M1008.8 786.1h0M1152.9 691.6h0M1154.9 690.6h0M1158.2 688.8h0M1158.6 688.5h0M1342.6 777.9h0M1344.1 777.3h0M778.9 791.7h0M779.5 791.3h0M780.6 790.7h0M782.2 789.9h0M782.6 789.6h0M1222.5 702.4h0M1224 701.8h0M1224.5 701.6h0M1226.9 700.5h0M1227.1 700.5h0M1227.3 700.4h0M1228.2 700h0M846.9 725.6h0M982.5 814.7h0M983.4 815.4h0M984.5 816.2h0M985.2 816.7h0M988 819h0M988.7 819.5h0M989.3 820.1h0M990.6 821.1h0M990.8 821.3h0M997 826.5h0M1007.9 836.3h0M1008.3 836.7h0M1008.8 837.1h0M1019.7 847h0M1021.2 848.4h0M1024.8 851.5h0M823.1 617.4h0M824.4 618.2h0M834.9 625.8h0M849.3 638h0M858.3 645.9h0M865.7 652.4h0M866.4 652.9h0M867.5 653.9h0M870.3 656.3h0M871.2 657h0M875.8 660.7h0M878 662.5h0M880.2 664.2h0M1016 753.3h0M1018.6 754.4h0M1139.4 858.6h0M1145.9 857.3h0M1154 855.2h0M795.9 757.7h0M801.2 760.3h0M804.2 761.8h0M913 857.2h0M915.4 857.2h0M1224.9 618.2h0M1225.8 618.6h0M1226.7 619.1h0M1228.6 620.2h0M1229.5 620.8h0M1229.9 621h0M1232.6 622.6h0M1234.8 624.1h0M1235 624.2h0M1237.6 626h0M1243.9 630.8h0M1261 645.3h0M1276.1 658.6h0M1280.5 662.2h0M1286.2 666.8h0M1286.6 667.2h0M1287.5 667.9h0M1289.7 669.6h0M1290.1 669.9h0M1291 670.6h0M1294.9 673.6h0M1295.3 673.9h0M1028.9 622.6h0M1029.1 622.6h0M1030.7 622.4h0M1032.6 622.2h0M1034.2 622.1h0M1153.6 720.4h0M1155.1 721.1h0M1155.6 721.3h0M1157.1 722.1h0M1158.6 722.9h0M1281.6 803.7h0M1283.3 805h0M1287.5 808.1h0M1287.9 808.4h0M1289.2 809.4h0M1290.5 810.5h0M1291.8 811.5h0M1293.8 813.1h0M1295.3 814.3h0M1298.8 817.2h0M1332.5 847.4h0M1344.3 856.7h0M1345 857.1h0M931.1 621.5h0M935.7 620.8h0M936.2 620.8h0M937.5 620.6h0M938.3 620.5h0M939.4 620.5h0M940.3 620.4h0M1058.4 717.4h0M1060.8 718.6h0M1189.9 803.5h0M1193.2 806h0M1198.7 810.3h0M1240.7 848.7h0M1255.8 860.1h0M1258.6 861.8h0M1258.8 862h0M746.9 716.2h0M749.6 717.6h0M749.8 717.7h0M750.9 718.2h0M752.8 719.3h0M873.8 799.1h0M874.7 799.7h0M877.5 801.8h0M878.2 802.3h0M879.1 802.9h0M879.3 803.1h0M880.2 803.7h0M880.8 804.2h0M886.5 808.6h0M895.2 815.9h0M936.8 854.1h0M939 855.8h0M940.3 856.7h0M946.4 860.8h0M1244.6 622h0M1254.4 620.4h0M888.5 614.4h0M891.8 615.4h0M892.2 615.6h0M893.3 616h0M893.7 616.2h0M893.9 616.2h0M966.6 677.7h0M970.3 680.6h0M977.9 686.2h0M978.2 686.3h0M978.4 686.5h0M978.8 686.8h0M983.2 689.8h0M988.2 693.2h0M988.7 693.5h0M1105.7 770.2h0M1106.1 770.4h0M1109.2 772.2h0M1119.2 778.2h0M1207.2 861h0M1219.2 862.5h0M773.4 773.8h0M777.3 776.2h0M778.4 776.9h0M878.8 860h0M1187.1 619.2h0M1188.6 619.7h0M1189.2 619.9h0M1282.2 695.5h0M1283.5 696.4h0M1285.7 697.8h0M1286.6 698.4h0"/>
<path stroke="#ffff00" d="M744.1 646.2h0M745 645.6h0M746.9 644.4h0M748.5 643.5h0M752.2 641.3h0M754.4 640h0M899.4 749.1h0M1133.9 650.5h0M1135 649.8h0M1135.7 649.4h0M1137.4 648.2h0M1139.6 646.8h0M1292.3 752.6h0M1296.9 752.7h0M1297.8 752.8h0M963.7 727.8h0M964.2 727.9h0M964.8 727.9h0M970.5 727.9h0M1125.2 831.3h0M781.5 846.7h0M785.4 844.5h0M793.5 839.8h0M799.2 836.4h0M800.5 835.6h0M1270.8 733h0M1271.3 733h0M1279.4 733.7h0M852.8 734h0M858.9 734.8h0M859.2 734.9h0M860.2 735h0M1008.6 838.9h0M1009.9 838.1h0M1063.2 640.3h0M1065.4 639.1h0M1066.5 638.5h0M1207 742.5h0M1208.5 742.7h0M1215.5 743.8h0M1215.9 743.9h0M761.2 623h0M937.7 739.1h0M939.4 739.5h0M941.4 740h0M944.9 740.7h0M1072.9 851.8h0M1086.9 845.3h0M741.2 813.8h0M1192.3 720.2h0M1193.4 720h0M1196.7 719.6h0M1358.1 821.5h0M1364.7 817h0M836.6 675.4h0M843.8 670.9h0M1011.6 769.7h0M1013.8 769.2h0M1014.2 769.1h0M1015.6 768.8h0M896.1 714.3h0M1051.4 819.5h0M1054.3 817.5h0M1058.2 814.7h0M1060 813.5h0M1060.4 813.2h0M1061.1 812.8h0M1062.2 812h0M982.1 632.9h0M983.8 632.1h0M1120.8 736.7h0M1121 736.8h0M1124.1 737.6h0M1125.2 737.9h0M987.6 671.6h0M995.2 666.4h0M1161.5 765.8h0M1165.8 764.9h0M1166.5 764.8h0M793.3 670.9h0M794.2 670.3h0M800.8 665.8h0M804.7 663h0M805.1 662.7h0M963.1 767h0M967.9 765.9h0M968.8 765.7h0M969.2 765.6h0M969.6 765.5h0M969.8 765.5h0M971.4 765.2h0M972 765.1h0M811.9 735.5h0M818 737.2h0M818.9 737.5h0M819.6 737.7h0M820.4 738h0M820.9 738.1h0M1302.8 632.4h0M1305.4 631.3h0M1041.6 743.9h0M1044 744.6h0M1044.2 744.7h0M1044.9 744.8h0M1173.5 853.7h0M1164.3 627.9h0M1343.5 746.2h0M759 682.9h0M759.6 682.5h0M763.6 680.1h0M764.7 679.4h0M768.8 676.6h0M769.9 675.8h0M931.1 777.4h0M935.3 775.7h0M937.2 774.9h0M942.1 773.2h0M934 693h0M938.6 690.7h0M1109.6 787.2h0M1110.9 786.5h0M1117.1 783.7h0M850.2 688.1h0M855.4 685h0M857.4 683.8h0M860.9 681.6h0M862 680.9h0M1034.8 776.6h0M1037 775.7h0M1040.3 774.6h0M1040.9 774.4h0M1081.2 685.9h0M1081.4 685.7h0M1082.3 685.2h0M1083.6 684.4h0M1086 682.9h0M1087.1 682.2h0M1256.8 778.9h0M1263.2 776.2h0M1263.8 776h0M1264.3 775.8h0M1264.9 775.6h0M1265.4 775.4h0M820.9 698.1h0M822.2 697.6h0M822.6 697.4h0M829.6 694h0M994.6 793.8h0M997.4 792.1h0M1003.8 788.6h0M1156.7 689.6h0M1157.3 689.2h0M1158.4 688.6h0M1158.8 688.4h0M1159.1 688.3h0M1163.7 685.5h0M1169.6 681.8h0M1342.4 778h0M1343 777.8h0M1224.9 701.4h0M1225.1 701.3h0M1225.6 701.1h0M1233.7 697.3h0M1233.9 697.2h0M844.3 724.5h0M846 725.2h0M847.1 725.7h0M847.3 725.8h0M848.7 726.4h0M983.2 815.2h0M990 820.6h0M990.2 820.8h0M992.6 822.8h0M993.7 823.7h0M995.2 825h0M1018.4 845.9h0M1025 851.7h0M1344.8 622.5h0M1345.2 622.4h0M1350.7 621.2h0M825 618.6h0M825.9 619.2h0M826.6 619.7h0M830.5 622.5h0M832.9 624.3h0M834.2 625.3h0M840.1 630h0M846 635.1h0M849.1 637.8h0M865.5 652.2h0M869.4 655.5h0M870.1 656.1h0M871.6 657.4h0M872.9 658.4h0M873.4 658.8h0M878.4 662.8h0M1016.4 753.4h0M1017.8 754h0M1021.2 755.5h0M1025.4 757.2h0M1028.9 758.7h0M1137.2 858.9h0M1140 858.5h0M1148.8 856.7h0M794.4 756.9h0M796.4 757.9h0M799.4 759.4h0M799.9 759.6h0M916 857.2h0M1231 621.7h0M1236.3 625.1h0M1240.7 628.3h0M1241.5 628.9h0M1244.6 631.3h0M1264.1 648h0M1273.2 656.1h0M1280.2 662.1h0M1285.7 666.5h0M1291.6 671.1h0M1025.8 623.1h0M1032 622.3h0M1147.5 717.3h0M1147.9 717.5h0M1148.3 717.7h0M1149.9 718.5h0M1287 807.8h0M1289 809.3h0M1289.4 809.6h0M1290.3 810.3h0M1294.7 813.8h0M1299.7 818h0M1305.6 823.1h0M1322.2 838.3h0M1336.2 850.5h0M1337.1 851.2h0M934.4 621h0M935.9 620.8h0M940.5 620.4h0M941.8 620.3h0M1054.5 715.3h0M1056 716.1h0M1056.9 716.6h0M1063 719.7h0M1188.2 802.3h0M1192.5 805.5h0M1193 805.8h0M1194.3 806.8h0M1241.3 849.2h0M1241.5 849.4h0M1243.5 851.1h0M1244.2 851.6h0M1248.1 854.7h0M1251.6 857.3h0M743.9 714.6h0M744.3 714.8h0M873.4 798.8h0M875.8 800.5h0M880.4 803.9h0M882.3 805.4h0M886.1 808.3h0M899.8 820h0M933.8 851.7h0M936.4 853.8h0M1257.9 620.2h0M1261.9 620.1h0M1364 710.2h0M891.1 615.2h0M895.2 616.8h0M901.4 619.7h0M968.5 679.2h0M973.8 683.2h0M974 683.3h0M977.7 686h0M978.6 686.6h0M979.9 687.5h0M980.6 688h0M981.2 688.5h0M1104.4 769.5h0M1104.6 769.6h0M1105.9 770.3h0M1107 770.9h0M778.2 776.7h0M781.3 778.7h0M869.9 857h0M870.5 857.3h0M871.2 857.6h0M874 858.6h0M1185.1 618.7h0M1188.4 619.6h0M1188.8 619.7h0M1189 619.8h0M1192.3 620.9h0M1274.3 690h0M1277.4 692.2h0M1280 694h0M1283.3 696.2h0"/>
<path stroke="#d4ff00" d="M742.1 647.4h0M747.8 643.9h0M750.7 642.2h0M752.8 640.9h0M755 639.6h0M894.2 748.8h0M897.9 749h0M1143.8 644.2h0M1285.9 752.7h0M1294 752.6h0M1295.3 752.7h0M1296 752.7h0M963.3 727.8h0M974.7 727.8h0M1115.5 837.5h0M1116 837.2h0M1118.6 835.5h0M1118.8 835.4h0M1120.8 834.1h0M1121.7 833.5h0M1125.6 831h0M1131.5 827.2h0M788.5 842.7h0M795.7 838.5h0M797.7 837.3h0M799 836.5h0M858.1 734.7h0M861.1 735.1h0M992.8 847.7h0M998.9 844.4h0M1006.4 840.2h0M1006.8 839.9h0M1070.7 636.3h0M1073.1 635h0M1210.5 743h0M1210.9 743h0M1213.5 743.5h0M1215.1 743.7h0M942.7 740.2h0M1082.3 847.6h0M739.1 815.2h0M1194.7 719.9h0M1195.2 719.8h0M1200.6 718.9h0M1201.3 718.8h0M1354.8 823.8h0M1356.6 822.6h0M1365.3 816.6h0M838.4 674.3h0M840.8 672.8h0M846 669.4h0M848 668.1h0M850.8 666.2h0M1007.9 770.7h0M1011 769.9h0M1011.2 769.8h0M1016.7 768.6h0M886.5 716.4h0M890.4 715.7h0M893.5 715h0M895.2 714.6h0M1055.4 816.7h0M1055.8 816.4h0M1064.8 810.3h0M984.3 631.9h0M986.5 630.9h0M1118.2 736h0M1120.6 736.6h0M1126.7 738.3h0M1126.9 738.4h0M1128.2 738.7h0M991.3 669.1h0M1003.8 660.3h0M1005.5 659h0M799.7 666.6h0M803.8 663.6h0M957.8 768.6h0M970.3 765.4h0M1304.1 631.9h0M1305 631.5h0M1307.6 630.4h0M1308 630.2h0M1040.5 743.6h0M1043.1 744.3h0M1048.8 745.9h0M1170.9 854.6h0M839.7 853.7h0M1340 745.1h0M1340.4 745.2h0M1340.6 745.3h0M1345.2 746.8h0M764.9 679.2h0M769 676.4h0M937.5 774.8h0M939 774.3h0M931.8 694h0M935.5 692.2h0M936.2 691.9h0M936.6 691.7h0M939.7 690.1h0M1107.4 788.3h0M1112.9 785.6h0M1118.8 782.9h0M854.6 685.6h0M859.8 682.3h0M863.5 679.9h0M865.1 678.9h0M865.5 678.6h0M1035 776.5h0M1035.5 776.3h0M1035.9 776.1h0M1083.2 684.7h0M1084.5 683.9h0M1092.3 678.8h0M1259 777.9h0M1263.4 776.2h0M825.2 696.1h0M825.7 695.9h0M830.5 693.5h0M996.1 792.8h0M1001.3 789.9h0M1005.1 787.9h0M1159.9 687.8h0M1164.3 685.1h0M1334.7 781.4h0M1339.8 779.1h0M1341.7 778.3h0M775.4 793.7h0M777.8 792.3h0M1226.4 700.7h0M1229.5 699.4h0M1229.9 699.1h0M1231.5 698.4h0M836.8 721.4h0M843.4 724.1h0M844.1 724.4h0M844.7 724.7h0M845.6 725.1h0M846.7 725.5h0M989.8 820.4h0M994.6 824.4h0M997.6 827.1h0M1003.3 832.1h0M1021.9 849h0M1344.6 622.6h0M1353.5 620.7h0M1353.8 620.6h0M825.5 618.9h0M828.3 620.9h0M833.6 624.8h0M855.9 643.8h0M860.2 647.6h0M870.8 656.6h0M875.1 660.2h0M1024.5 756.8h0M796.6 758h0M798.3 758.9h0M807.5 763.5h0M910.3 857.1h0M1235.4 624.5h0M1235.6 624.7h0M1237.4 625.9h0M1238.7 626.8h0M1253.3 638.6h0M1259.9 644.3h0M1032.8 622.2h0M1155.3 721.2h0M1292.3 811.8h0M1295.8 814.7h0M1305.4 822.9h0M1329.5 844.8h0M938.8 620.5h0M945.8 620.3h0M1054.3 715.2h0M1055.8 716h0M1199.1 810.6h0M1201.9 813h0M1202.2 813.1h0M739.9 712.5h0M741 713.1h0M741.9 713.5h0M747.8 716.6h0M875.1 800h0M879.5 803.2h0M887.4 809.3h0M888.9 810.6h0M897.4 817.8h0M1260.8 620.1h0M1262.5 620.1h0M892.6 615.7h0M894.8 616.6h0M895.5 616.9h0M899.2 618.6h0M904.2 621.3h0M973.3 682.9h0M1106.8 770.8h0M1107.2 771.1h0M1108.1 771.6h0M1109 772.1h0M1114.7 775.4h0M1118.6 777.8h0M785.2 781.2h0M785.9 781.7h0"/>
<path stroke="#aaff00" d="M753.7 640.4h0M753.9 640.2h0M755.7 639.2h0M756.6 638.7h0M895.7 748.9h0M901.6 749.3h0M1287.9 752.6h0M974 727.8h0M1112.5 839.4h0M1116.2 837.1h0M1117.7 836.1h0M785.2 844.6h0M787.4 843.3h0M795.3 838.8h0M1277.4 733.6h0M861.3 735.1h0M997.6 845.1h0M1069.8 636.7h0M1071.3 635.9h0M1078.1 632.5h0M1209.2 742.8h0M1212.9 743.4h0M945.1 740.8h0M947.3 741.2h0M948.2 741.4h0M949.1 741.5h0M1191.7 720.2h0M1349.4 827.7h0M1350.5 826.9h0M1352.9 825.2h0M842.3 671.8h0M847.1 668.7h0M847.8 668.3h0M848.9 667.6h0M1050.8 820h0M1054.5 817.3h0M1054.7 817.2h0M1059.8 813.7h0M1062.4 811.9h0M989.5 629.6h0M990.2 629.4h0M1118.6 736.1h0M1123.6 737.5h0M992.2 668.5h0M996.8 665.3h0M997.6 664.7h0M1002.2 661.4h0M1003.3 660.6h0M1154.2 767.8h0M1155.1 767.5h0M1161 765.9h0M802.3 664.7h0M806.9 661.4h0M958.7 768.3h0M807.8 734.4h0M1305.2 631.4h0M1310.9 629h0M1049.7 746.2h0M1351.6 748.9h0M757 684.1h0M758.1 683.5h0M759.2 682.8h0M760.3 682.1h0M763.8 679.9h0M764 679.8h0M937 775h0M935.1 692.5h0M944.5 687.4h0M945.3 686.9h0M1106.3 788.9h0M1115.1 784.5h0M1116.8 783.8h0M862.4 680.7h0M864 679.6h0M1026.7 780.1h0M1027.4 779.8h0M1031.1 778.1h0M1037.9 775.4h0M1085.8 683.1h0M1087.3 682.1h0M1091 679.6h0M1257.7 778.5h0M1258.8 778h0M828.3 694.6h0M831.2 693.1h0M994.3 793.9h0M997 792.3h0M1000 790.6h0M1161.5 686.9h0M1165.2 684.6h0M1332.1 782.7h0M1334.1 781.7h0M1337.3 780.2h0M1338 779.9h0M1341.5 778.4h0M774.7 794.1h0M1229.7 699.2h0M996.5 826.1h0M1002.9 831.7h0M1004.2 832.9h0M1009 837.3h0M1011.2 839.3h0M1012.7 840.7h0M1013.8 841.7h0M1023 850h0M1346.3 622.1h0M1348.3 621.7h0M1348.9 621.5h0M1352.2 620.9h0M829.4 621.7h0M843 632.4h0M844.1 633.4h0M845.8 634.9h0M847.8 636.6h0M850.6 639.1h0M850.8 639.3h0M860.5 647.8h0M876.2 661.1h0M1022.8 756.1h0M1025 757h0M1137 858.9h0M806.2 762.8h0M1230.4 621.3h0M1238.5 626.7h0M1239.6 627.5h0M1239.8 627.6h0M1245.2 631.8h0M1248.5 634.5h0M1267.3 651h0M1268.2 651.7h0M1269.5 652.9h0M1270.2 653.5h0M1274.3 657.1h0M1276.3 658.8h0M1277.2 659.5h0M1283.8 664.9h0M1284.6 665.6h0M1040.9 622h0M1141.1 714h0M1146.4 716.7h0M1289.9 810h0M1305.8 823.3h0M1306.5 823.8h0M1310 827h0M1312.4 829.2h0M1313.7 830.4h0M1316.1 832.6h0M1317.2 833.6h0M1318.3 834.6h0M1320.1 836.3h0M943.4 620.3h0M944.7 620.3h0M948.2 620.4h0M1050.3 713.1h0M1050.8 713.4h0M1052.8 714.4h0M1195.4 807.7h0M1199.8 811.2h0M1207.6 817.8h0M1242.2 850h0M736.9 710.8h0M738.2 711.5h0M743.2 714.2h0M893.1 814h0M894.6 815.4h0M896.8 817.3h0M897.9 818.2h0M1259.5 620.1h0M1362.9 709.5h0M1363.2 709.7h0M1363.8 710h0M898.1 618h0M905.1 621.8h0M961.8 673.7h0M963.1 674.8h0M964.6 676.1h0M965 676.4h0M965.7 677h0M971.2 681.2h0M971.6 681.5h0M972 681.9h0M976.2 684.9h0M1110.9 773.2h0M1114.9 775.5h0M1115.1 775.7h0M1116.4 776.5h0M1119.5 778.4h0M784.6 780.8h0M784.8 781h0M785.7 781.5h0M786.1 781.8h0M788.3 783.3h0M1193.2 621.3h0M1195.2 622.1h0M1196.9 622.9h0M1203.9 626.6h0M1269.5 686.5h0M1273.7 689.6h0M1273.9 689.7h0M1274.8 690.3h0M1277.8 692.5h0M1283.1 696.1h0"/>
<path stroke="#80ff00" d="M751.1 641.9h0M755.2 639.4h0M757.7 638h0M893.7 748.8h0M897 749h0M1141.6 645.6h0M1142 645.3h0M1147.2 641.9h0M1147.5 641.8h0M1148.8 641h0M1149.4 640.6h0M1150.5 639.9h0M1285.7 752.7h0M1286.2 752.7h0M1290.1 752.6h0M1291.2 752.6h0M1294.9 752.7h0M1110.1 841h0M1127.6 829.7h0M789.8 842h0M1277.6 733.6h0M860 734.9h0M1073.3 634.9h0M1074.8 634.1h0M1076.2 633.5h0M1079.7 631.7h0M1210 742.9h0M945.8 740.9h0M947.5 741.2h0M949.3 741.6h0M1195.8 719.7h0M1349.2 827.8h0M1349.6 827.5h0M1351.8 826h0M1353.3 824.9h0M1358.8 821.1h0M844.1 670.7h0M849.3 667.3h0M851.7 665.6h0M852.6 665h0M1007.2 770.9h0M1008.1 770.7h0M893.7 715h0M894.6 714.7h0M1050.3 820.3h0M1051.7 819.4h0M1053.6 818h0M1053.8 817.8h0M986.7 630.8h0M990.6 629.2h0M997.8 664.5h0M998.7 663.9h0M1000.5 662.7h0M1001.3 662h0M1154.9 767.6h0M1155.6 767.4h0M1160.2 766.1h0M802.5 664.6h0M806.2 661.9h0M806.4 661.7h0M959.1 768.2h0M960.2 767.8h0M961.3 767.5h0M1307.2 630.5h0M1047.1 745.5h0M1047.3 745.5h0M1047.5 745.6h0M1050.6 746.4h0M1051.2 746.6h0M1052.1 746.8h0M1052.5 747h0M769.5 676.1h0M774.9 672.2h0M937 691.5h0M941.4 689.1h0M942.3 688.6h0M946.9 685.9h0M869.4 675.9h0M1030 778.6h0M1030.2 778.5h0M1082.1 685.3h0M1088.8 681.1h0M1252 781.2h0M1257.3 778.7h0M826.8 695.4h0M834.7 691.2h0M995 793.5h0M995.2 793.4h0M998.7 791.3h0M1164.5 685h0M1168.9 682.2h0M1170.4 681.2h0M1331 783.3h0M1333.4 782h0M1338.9 779.5h0M773.8 794.7h0M1234.8 696.7h0M845.2 724.9h0M998.1 827.4h0M1002 830.9h0M1006.2 834.7h0M1007.2 835.7h0M1011.6 839.7h0M1351.1 621.1h0M837.5 627.9h0M838.4 628.6h0M838.8 628.9h0M842.5 632.1h0M850.2 638.7h0M851.9 640.3h0M1028 758.3h0M1029.1 758.8h0M809.7 764.6h0M1236.9 625.6h0M1240 627.8h0M1243.5 630.5h0M1247.4 633.6h0M1257.1 641.8h0M1258.8 643.4h0M1263.8 647.8h0M1271.1 654.2h0M1272.4 655.4h0M1273.7 656.5h0M1280 661.9h0M1033.3 622.1h0M1035 622h0M1035.7 622h0M1143.8 715.4h0M1148.8 718h0M1152.9 720h0M1298.6 817h0M1299.9 818.1h0M1324.4 840.3h0M1326.6 842.3h0M1329.2 844.6h0M1051 713.5h0M1200.8 812.1h0M1203 813.9h0M1208.5 818.6h0M1209.8 819.8h0M1212.9 822.5h0M736 710.3h0M739.7 712.4h0M742.6 713.9h0M899 819.2h0M901.4 821.4h0M1262.1 620.1h0M1264.9 620.2h0M1364.9 710.7h0M900.9 619.4h0M902 620h0M905.5 622.1h0M908.2 623.7h0M959.6 671.8h0M962 673.9h0M964.4 675.9h0M1111.6 773.6h0M1116.8 776.7h0M777.8 776.5h0M791.8 785.8h0M1187.9 619.5h0M1200.8 624.9h0M1201.5 625.2h0M1264.7 682.7h0M1267.3 684.8h0M1268.9 686h0"/>
<path stroke="#55ff00" d="M761.2 636h0M893.1 748.8h0M1289 752.6h0M972.2 727.9h0M1114.4 838.2h0M1278.9 733.7h0M1279.8 733.8h0M1281.3 733.9h0M862.9 735.2h0M864.2 735.4h0M993.9 847.1h0M1080.3 631.4h0M1081.6 630.8h0M1197.6 719.4h0M1202.4 718.5h0M1348.1 828.6h0M1354.6 823.9h0M845.4 669.9h0M851.1 666.1h0M851.3 665.9h0M852.2 665.3h0M852.4 665.2h0M1006.2 771.2h0M899.2 713.4h0M1055.6 816.6h0M992.8 628.3h0M994.1 627.8h0M1117.9 736h0M805.3 662.5h0M960 767.9h0M807.1 734.2h0M809.7 734.9h0M1311.1 628.9h0M1312.6 628.3h0M1315.2 627.4h0M1315.9 627.1h0M1316.3 627h0M1046.4 745.3h0M1050.1 746.3h0M1050.8 746.5h0M1350.7 748.6h0M771 675.1h0M929.2 778.3h0M930.7 777.6h0M946.4 686.2h0M946.7 686.1h0M1107.7 788.2h0M867.9 676.9h0M1096.3 676h0M1254 780.2h0M1255.1 779.7h0M830.3 693.6h0M993.5 794.4h0M1171.3 680.6h0M1172.6 679.7h0M1329.7 784h0M1332.8 782.4h0M769.9 797.2h0M1234.5 696.8h0M1235 696.6h0M834.7 720.4h0M838.2 721.9h0M1018 845.5h0M1349.4 621.4h0M1352 620.9h0M1354 620.6h0M1355.5 620.4h0M1355.9 620.3h0M1030 759.2h0M806.9 763.1h0M808.4 763.9h0M1244.4 631.1h0M1245.7 632.2h0M1247.9 634h0M1258.2 642.8h0M1258.6 643.2h0M1275.4 658h0M1278.9 661h0M1144.2 715.6h0M1296.9 815.6h0M1311.3 828.2h0M1326.8 842.5h0M1327.3 842.8h0M949.3 620.4h0M949.7 620.5h0M950.4 620.5h0M950.6 620.6h0M1051.7 713.8h0M1214 823.5h0M1215.3 824.8h0M1217 826.4h0M895.7 816.3h0M899.2 819.4h0M899.4 819.6h0M966.3 677.5h0M789.8 784.4h0M790.9 785.1h0M1197.6 623.2h0M1198.4 623.6h0M1201.1 625h0M1202.8 626h0M1203 626.1h0M1264.5 682.5h0M1266.2 683.9h0M1270.4 687.1h0"/>
<path stroke="#2bff00" d="M761.4 635.9h0M1288.1 752.6h0M1290.3 752.6h0M1114.7 838h0M1118.4 835.6h0M784.3 845.1h0M1280.7 733.8h0M865.3 735.4h0M1206.8 742.4h0M1207.6 742.6h0M1198.9 719.2h0M1202.2 718.6h0M1347.2 829.2h0M1349.8 827.4h0M853 664.7h0M1006.6 771.1h0M895.9 714.4h0M897.2 714h0M1048.8 821.4h0M991.9 628.7h0M995.4 627.3h0M997 626.8h0M1115.5 735.4h0M1116 735.5h0M1006.6 658.2h0M804.2 663.3h0M808.2 660.4h0M807.3 734.3h0M809.3 734.8h0M1314.4 627.7h0M1351.1 748.8h0M768.4 676.9h0M771.4 674.7h0M932.2 776.9h0M1092.1 678.9h0M1093.2 678.2h0M1095.8 676.3h0M1252.5 780.9h0M833.3 691.9h0M1173.3 679.2h0M1332.5 782.5h0M1237.4 695.3h0M835.1 720.6h0M1016.4 844.1h0M1016.9 844.5h0M1352.7 620.8h0M1029.6 759h0M1245.5 632h0M1245.9 632.4h0M1248.1 634.1h0M1268 651.5h0M1038.5 622h0M1145.1 716h0M1314.2 830.8h0M1316.3 832.8h0M1320.3 836.5h0M1328.2 843.6h0M947.5 620.3h0M1045.8 710.6h0M1208.7 818.8h0M1213.8 823.3h0M901.8 821.8h0M1266.5 620.3h0M1266.7 620.3h0M1268.7 620.5h0M1366 711.3h0M902.2 620.2h0M905.8 622.2h0M786.5 782.1h0M789.6 784.2h0M1198.7 623.7h0"/>
<path stroke="#00ff00" d="M1110.9 840.4h0M1111.6 840h0M1113.3 838.9h0M862.4 735.2h0M1078.8 632.2h0M950.4 741.8h0M1117.7 735.9h0M1002.7 661.1h0M1107.9 788.1h0M1026.1 780.4h0M769.7 797.3h0M1356.4 620.3h0M1356.6 620.2h0M1039.2 622h0M1042 622.1h0M1323.1 839.1h0M1329 844.4h0M910.3 625.3h0M960.7 672.8h0M788.9 783.8h0M1198 623.4h0M1200.2 624.5h0"/>
<path stroke="#00ff2a" d="M1081.2 631h0M909.9 624.9h0M1203.2 626.2h0"/>
<path stroke="#00ff55" d="M1265.4 683.2h0"/>
<path stroke="#000" stroke-width="2.7" d="M905.5 749.7l0.3 0.1M1363.4 651.8l1.5-1M1125.8 655.7l0.2-0.1M1298.8 752.8h0M960.9 727.7l0.4 0M1133.2 826l0.3-0.1M802.9 834.2l0.9-0.6M1266.5 732.4l0.4 0.1M850.6 733.7l0.2 0M1014.2 835.6h0M1300.8 618.4l0.7 0.5M1302.6 619.7l0.8 0.7M1305 621.5l1.7 1.4M1307.4 623.4l1.9 1.5M770.3 861.6l1.6 1.1M774.9 865l0.9 0.6M776.7 866.3l0.2 0.1M1054.7 645.2l0.5-0.3M1219.9 744.7l0.2 0M745 611.3l0.6 0.4M747.2 612.7l1.5 1.1M753.5 617.2l0.4 0.4M754.4 617.9l0.6 0.5M757.2 620l2.2 1.7M762.9 624.4l0.7 0.5M770.6 630.4l3.9 3.2M778.9 637.1l0.6 0.5M783.2 640.5l0.3 0.2M935.9 738.7l0.3 0M1092.8 842.2h0M740.6 814.2l0.2-0.1M741.7 813.5l0.4-0.3M1186.2 720.7l0.6-0.1M1188.4 720.5l0.2 0M826.3 681.3l0.3-0.1M1020.8 767.9h0M881.2 717.2l0.7-0.1M1069.4 807.3l0.6-0.4M974.4 636.5l1.4-0.6M1129.8 739.2h0M1287.7 842.9l0.6 0.6M1308.2 859.4l0.3 0.1M1312 862.2l0.6 0.4M1315.7 864.8l1.1 0.8M1318.1 866.5l1.3 0.9M1320.7 868.2l1.3 0.9M978.2 677.6l0.6-0.4M1169.6 764.3h0M781.1 678.7l0.6-0.4M973.3 764.9l0.3 0M821.8 738.4l0.2 0M979.2 842l0.5 0.4M1007.5 864.2l0.8 0.6M1012.9 867.9l0.5 0.3M1017.5 870.8l0.5 0.2M1291.6 637.8l0.2-0.1M1292.7 637.3l2.2-1.1M1297.3 635l1.1-0.5M843.6 610.9l1.3 0.8M893.1 648.8l0.6 0.5M1038.5 743l0.7 0.2M1190.8 846.4l0.6-0.3M859.6 846.9l0.4-0.2M1141.8 612.5l1.3 0.8M1147.2 615.8l2.7 1.7M1153.2 619.7l1.9 1.4M1189.5 648.1l0.6 0.5M1193.4 651.2l1.1 0.8M1336.5 743.8l0.6 0.3M748.2 689l0.5-0.2M945.6 772.2h0M923.2 697.6l0.7-0.2M928.1 695.7l0.2-0.1M930.7 694.5l0.2-0.1M1122.1 781.6l0.4-0.2M844.3 691.2l0.9-0.5M1041.8 774.1l0.4-0.2M1070.7 691.6l0.6-0.4M1268.4 774.4l0.3-0.1M812.3 701.5l0.7-0.2M816.5 700l0.2-0.1M1010.1 785.5l0.2-0.1M1010.8 785.2l0.4-0.2M1148.1 694l0.5-0.2M1153.6 691.3l0.2-0.2M1346.5 776.5l0.3-0.1M785.9 787.9h0M1215.9 704.7l0.7-0.2M1221 703l0.2-0.1M849.5 726.7l0.5 0.2M979.5 812.4l1.1 0.8M1058 872.8l0.4 0.2M1333.2 626.2l0.6-0.2M1338 624.5l1.5-0.5M810.4 610.5l0.6 0.3M811.5 611l0.6 0.3M880.4 664.3l0.2 0.2M881 664.9l0.2 0.1M885.4 668.2l0.9 0.6M1014.7 752.7l0.4 0.2M1155.6 854.7l0.2-0.1M792.2 755.8l0.9 0.5M929.4 855.5l0.4-0.1M1215.3 613.8l1.7 0.7M1304.5 680.6l0.9 0.6M738.2 868.3l1.5 0.5M739.9 868.9l0.7 0.2M1017.8 624.8l0.2-0.1M1019.7 624.3l3.7-0.8M1160.4 723.8l0.4 0.2M1279.6 802.3l0.9 0.6M1362.1 866.6l1.5 0.6M1364.9 867.7l0.9 0.4M925.7 622.7l0.8-0.2M930 621.8l0.9-0.2M1066.1 721.3l0.4 0.2M1183.8 799.1l1.1 0.8M1275.7 869.4l0.4 0.1M1277.2 869.8l0.6 0.2M755.2 720.5l0.3 0.1M871.8 797.7l0.9 0.6M1243.7 622.2l0.5-0.1M1247.4 621.4l0.9-0.1M1249.4 621.1l1.1-0.2M1253.8 620.5l0.2 0M886.1 613.7l0.8 0.2M990.6 694.8l0.7 0.4M1100.4 767.3l0.9 0.4M1231 861.7l0.7-0.1M770.8 772.2l0.9 0.5M895.7 861.8l0.2 0M1179.4 617.5l0.9 0.1M1296 704.5h0"/>
</g>
<path d="M762.2 898v-4.200M762.2 583v4.200M788.5 898v-4.200M788.5 583v4.200M841 898v-4.200M841 583v4.200M867.2 898v-4.200M867.2 583v4.200M919.8 898v-4.200M919.8 583v4.200M946 898v-4.200M946 583v4.200M998.5 898v-4.200M998.5 583v4.200M1024.8 898v-4.200M1024.8 583v4.200M1077.2 898v-4.200M1077.2 583v4.200M1103.5 898v-4.200M1103.5 583v4.200M1156 898v-4.200M1156 583v4.200M1182.2 898v-4.200M1182.2 583v4.200M1234.8 898v-4.200M1234.8 583v4.200M1261 898v-4.200M1261 583v4.200M1313.5 898v-4.200M1313.5 583v4.200M1339.8 898v-4.200M1339.8 583v4.200M736 898v-6.200M736 583v6.200M814.8 898v-6.200M814.8 583v6.200M893.5 898v-6.200M893.5 583v6.200M972.2 898v-6.200M972.2 583v6.200M1051 898v-6.200M1051 583v6.200M1129.8 898v-6.200M1129.8 583v6.200M1208.5 898v-6.200M1208.5 583v6.200M1287.2 898v-6.200M1287.2 583v6.200M1366 898v-6.200M1366 583v6.200M736 898h6.500M1366 898h-6.500M736 845.5h6.500M1366 845.5h-6.500M736 793h6.500M1366 793h-6.500M736 740.5h6.500M1366 740.5h-6.500M736 688h6.500M1366 688h-6.500M736 635.5h6.500M1366 635.5h-6.500M736 583h6.500M1366 583h-6.500" stroke="#000" stroke-width="2" fill="none"/>
<rect x="736" y="583" width="630" height="315" fill="none" stroke="#000" stroke-width="4.400"/>
<text x="736" y="921.6" font-size="22" text-anchor="middle">0</text>
<text x="814.8" y="921.6" font-size="22" text-anchor="middle">3</text>
<text x="893.5" y="921.6" font-size="22" text-anchor="middle">6</text>
<text x="972.2" y="921.6" font-size="22" text-anchor="middle">9</text>
<text x="1051" y="921.6" font-size="22" text-anchor="middle">12</text>
<text x="1129.8" y="921.6" font-size="22" text-anchor="middle">15</text>
<text x="1208.5" y="921.6" font-size="22" text-anchor="middle">18</text>
<text x="1287.2" y="921.6" font-size="22" text-anchor="middle">21</text>
<text x="1366" y="921.6" font-size="22" text-anchor="middle">24</text>
<text x="1374.5" y="905.8" font-size="22">0</text>
<text x="1374.5" y="853.3" font-size="22">60</text>
<text x="1374.5" y="800.8" font-size="22">120</text>
<text x="1374.5" y="748.3" font-size="22">180</text>
<text x="1374.5" y="695.8" font-size="22">240</text>
<text x="1374.5" y="643.3" font-size="22">300</text>
<text x="1374.5" y="590.8" font-size="22">360</text>
<text transform="translate(1438.5 740.5) rotate(-90)" font-size="22" text-anchor="middle">Azimut (grados)</text>
<g fill="none" stroke-width="2.5" stroke-linecap="square" stroke-linejoin="round" shape-rendering="crispEdges" clip-path="url(#cp3)">
<path stroke="url(#gp30)" d="M560.6 1276.5l17-31.7 14.4-30.6M586 985.5h0M578.7 984.9h0M570.1 984.3h0M560 983.7h0M548.2 983.3h0M534.9 982.9h0M520.1 982.7h0M504.4 982.6h0M488.6 982.6h0M473.3 982.8h0M459.3 983.1h0M446.9 983.6h0M436.1 984.1h0M426.9 984.6h0M419.1 985.3h0M412.4 986h0M406.7 986.7h0M401.8 987.4h0M397.6 988.2h0M394 989h0M390.8 989.8h0M388.1 990.6h0M385.6 991.4h0M383.5 992.3l-5.2 2.5-3.8 2.6-3.7 3.5-3.1 4.5-2.5 5.3-1.6 5.4-1.2 6.4-0.9 8.1-0.5 13.7 0.1 17.3 3.4 84.5 1 43.5-0.3 38.6-1.7 34.4M561.4 1275.1l1.3-2.4M442.4 1219.9l-20.4 53.1M266.4 1267.5l-13.5-18.5-12.1-14.2-11.6-11-5.8-4.6-5.7-3.7-5.7-3.1-5.9-2.4-5.9-1.8-6-1-6-0.2-5.4 0.4-5.4 1.2-5.7 2M591.7 1132.7l-8.8-8-9.5-6.1-5.5-2.5-5.1-1.8-5.9-1.5-5.4-0.9-6.1-0.5-5.6 0.1-5.5 0.5-6.1 1.2-11.3 3.6-10.6 5.4-9.8 6.9-8.8 8.2-8.3 9.7-7.9 11.2-7.6 13-7.4 14.8-7.4 17-8.6 22M591.8 1196.4l-6.7-3.1-7-2-7.1-0.9-7.3 0.2-7.3 1.4-7.2 2.4-7.4 3.6-7.3 4.6-7 5.5-6.6 6.2-6.8 7.3-6.8 8.2-13.8 19.5-20 31.8M327.5 1265.3l-22.9-52.5-7.5-15.3-7.3-13.2-8.1-12.6-8.2-10.8-8.1-8.8-8.9-7.7-10.3-6.7-5.7-2.8-5.3-2.1-6-1.7-5.5-1.1-5.6-0.6-5.5 0-5.5 0.4-5.4 1-5.2 1.4-5.7 2.2-4.9 2.5-5.1 3.2-9 7.5"/>
<path stroke="url(#gp31)" d="M171.7 1210.6l-7.7 4.2-7.6 5.9-6.9 7.4-6.2 8.7-5.6 10.2-4.9 11.2-4.2 12.6-3.6 13.7M171.8 1147.6l-4.2 4.5-4.2 5.4-3.9 5.8-3.5 6.1-6.3 14.3-4.9 15.8-3.6 17.8-2.3 19.3-0.9 20.7 0.6 21.1M138.9 1282.3l0.5 6.4"/>
<path stroke="url(#gp32)" d="M592 1214.2l8.4-19.8 7.5-19.8 6.8-20.2 6.2-20.6 5.8-21.7 4.8-21.2 3.8-20.4 2.5-17.9 1.1-13.3 0.2-11.8-0.8-9.4-1.8-7.7-2.7-6-4-5.2-5.5-4.2-6.9-3.3M615.1 990.8h0M612.4 990h0M609.5 989.2h0M606 988.5h0M602.1 987.7h0M597.5 986.9h0M592.2 986.2h0M586 985.5h0M618.8 1290.4l0.3-1.9M619.9 1282.8l0.2-2M620.6 1277l0.2-1.9M621.2 1271.8l0.8-9.8M622.1 1261.4l0.8-20.7-0.6-20.4-1.9-18.5-3.3-17.6-4.6-15.8-5.8-13.7-7.1-12.2-7.9-9.8M637.6 1287.7l-0.3-2.5M636.8 1281.5l-1.2-6.7M635.1 1272.4l-3.1-13.7-3.9-12.6-4.5-11.3-5.3-10.5-5.8-9-6.3-7.6-6.9-6.3-7.5-5"/>
<path stroke="url(#gp33)" d="M500.7 1282.4l8.4-18.2 9.4-18.6 10.3-18.9 11.2-19.4 12.5-20.5 13.3-20.5 13.4-19.7 13.1-18.2M658.7 1059.8l8.6-5.5 9.6-5.2 9.7-4.4 9.6-3.7M67.4 1040.6l18.3-5.3 10.8-2.2 10.1-1.5M172.2 1031.7l17.3 3.2 15.6 4.3 14.8 5.8 12.7 6.6 11.8 8 11.4 9.9 10.1 11.1 9.6 13 9.3 15.6 8.4 17.5 7.6 19.1 7.1 21.5 6.4 23.7 5.4 24.8 4.4 25.8 3.2 25.8M428.8 1272.9l2.7-27 4.1-27.2 5.2-26.4 6.4-25.2 7-22.3 8-20.7 8.7-18 9.2-15.4 9.6-12.7 10.9-11.5 5.8-5.1 6.5-4.9 12.9-8 14.2-6.4 16.4-5.4 17.2-3.7 18.8-2.4M658.6 1034.4l9.5 2.2 10.1 2.9 9.2 3.2 9.5 4M67.9 1047.1l10.3 5.3 9.2 5.6 9 6.4 9.5 7.6M172.2 1150.5l23.5 33.6 20.9 31.3 17.2 27.6 14.6 25.3M508.7 1279.8l15.8-28.5 18.5-30.2 23.1-34.7 26.1-37.2M658.8 1071.6l8.8-7 9.1-6.3 9.2-5.5 10.3-5.2M67.2 1047.1l9.5-3.9 9.2-3.2 10-2.9 10.8-2.4M172.3 1031.4l18.4 2.4 17 3.8 16.2 5.4 13.9 6.5 12.8 7.9 11.6 9.3 10.3 10.7 9.8 12.6 9.4 15.3 8.5 17.2 8 19.8 7 21.5 6.4 24.4 5.4 25.7 4.3 26.6 3 26.5M356.2 1173.3l-5.9-24-5.8-19.5-6.5-17-7.1-14.3-8-12.1-8.8-10-9.9-8.5-5.7-3.7-6.2-3.5-7.7-3.4-7.3-2.6-8.9-2.3-8.2-1.4-9.6-0.9-8.5-0.2-8.5 0.4-9.3 1.2-7.9 1.7-8.4 2.5-6.7 2.7-7.1 3.5-6.3 4.1-5.6 4.4-5.6 5.3-4.7 5.7M591.9 1264.8l-6.1 0.9-6.3 1.8-6.4 2.6-6.2 3.3M565.8 1274.1l-5.1 3.4M374.9 1260.9l-5.5-24.2-14.6-69.4M468.2 1280.6l3.4-11.7M471.8 1268.2l2.1-6.7M474.1 1260.8l10.4-28.9 5.8-14 6.3-14 6.6-13.1 6.7-12.4 7.3-12.2 7.4-11.5 7.5-10.6 8.1-10.3 8.1-9.6 8.3-8.7 8.3-8 8.9-7.7 9-6.8 9.5-6.6M659.3 1059.3l18.8-3.1 18.6-1.6M67.7 1054.5l20 0.1 18.7 1.5M172.1 1075.6l10.9 6.1 10.1 6.5 10 7.5 9.8 8.4 9.4 9.4 8.8 9.8 8.4 10.7 8.2 11.6 7.9 12.5 7.6 13.4 7.2 14.2 6.9 15.1 6.4 15.8 5.8 15.9 5.4 16.7 4.9 17.2M481.5 1280.2l10.1-24.2 11.3-23.1 12.5-22.7 13.6-21.5 14.5-20.3 15.6-19.1 16.1-17.6 16.9-15.9M658.9 1073l18.4-6.7 19.2-5.1M67.5 1061l18.9-3.2 19.9-1.6M172.4 1064.2l13.7 4.7 12.6 5.6 11.6 6.4 11.2 7.6 10.8 8.7 9.8 9.4 9.3 10.4 9.2 12.2 8.7 13.3 8.1 14.3 7.8 15.9 7.2 16.9 6.5 17.7 6.1 19.2 5.4 19.8 4.4 19.7M480.5 1280.4l10-24.3 11.5-23.8 12.5-22.7 13.6-21.6 15-20.9 15.6-19.2 16.3-17.4 17-15.9M659 1072.8l18.5-6.5 19.3-4.9M67.7 1061.2l18.9-2.9 19.8-1.4M172.7 1065.5l13.4 4.8 12.4 5.7 11.4 6.4 11.1 7.5 10.7 8.7 10.2 9.9 9.2 10.5 9.2 12.1 8.6 13.2 8 14.2 7.8 15.9 7.2 16.8 6.5 17.7 5.9 18.4 5.4 19.8 4.5 19.6M460.5 1279.8l2.6-10.2M463.3 1268.9l4.8-16.6 5.4-16.6 5.9-15.9 6.6-15.8 6.9-15 7.3-14.1 7.7-13.3 8-12.4 8.3-11.4 9-11.1 8.8-9.6 9.5-9.2 9.7-8.3 9.9-7.3 10.7-6.8 10.8-5.9M659 1060.2l18-1.4 19.1-0.1M67.2 1058.8l19.8 1.6 19 3.2M172.2 1090.2l9.5 6.4 9.5 7.1 8.9 7.5 8.9 8.4 8.3 8.6 8.2 9.4 8.1 10.3 7.6 10.5 7.5 11.4 7.3 12.2 6.8 12.3 6.6 13.2 6.3 13.9 5.9 14.1 5.3 14.1 5.1 14.9M292.2 1265.1l0.4 1.2M475.5 1281.2l5-13.7M480.7 1266.9l10.4-24.6 11.6-23.6 12.8-22.5 13.5-20.6 14.7-19.4 15.7-18 16.4-16.3 16.6-13.9M658.5 1072l19-5.5 19.4-3.9M67.9 1062.5l18.6-2 19.2-0.5M172.7 1071.9l12.4 5.1 12.2 6.2 11.3 6.9 10.3 7.6 10.1 8.7 9.7 9.7 9.3 10.8 8.4 11.2 8.5 12.9 8 13.9 7.5 14.8 7 15.8 6.4 16.5 6.2 18 5.3 18.1 4.8 18.6M212.1 1139.8l11.4 13.2 10.5 13.7 10.5 15.2 9.7 15.6 9.2 16.6 8.6 17.4 7.9 17.8 7.2 18.6M454 1279.1l3.1-13.1M457.2 1265.3l4.9-17.7 5.6-17.8 6-16.4 6.6-16.3 6.9-14.8 7.5-14.5 8.1-13.6 8.4-12.6 8.4-11 9.2-10.6 9.5-9.6 9.7-8.5 10-7.5 10.8-7 11.7-6.3 11.8-5.2M659.4 1061.9l18.8 0 18.5 1.3M67.6 1063.4l19.6 3.1 18.4 4.6M172.1 1104l11.4 8.7 11.1 9.6 10.9 10.5 10.1 10.9M591.7 1236.3l-6.9-0.3-7 0.9-7 2-7.3 3.2-7.1 4.2-7 5-7.5 6.5-7.6 7.5M534 1265.7l-0.7 0.7M533 1266.8l-6.4 7.1M357.2 1262l-21.7-77.6-6.5-20-6.2-16.2-7.3-16-8.1-13.9-8.8-11.7-5-5.5-4.8-4.5-6.6-5.3-6.5-4.2-6.9-3.7-7.4-3.1-7.9-2.5-8.1-1.7-8.4-0.9-8.4-0.2-8.3 0.6-8.1 1.4-7.8 2.1-7.2 2.8-6.8 3.4-6.8 4.5-6.2 5-5.4 5.5M350.5 1261.4l-24.5-66.7-7.4-17.7-7.2-14.9-8.7-15-8.8-12.3-9.7-10.6-9.9-8.3-6.7-4.4-6.4-3.3-6.7-2.8-6.9-2.2-7.2-1.5-7.2-0.7-7.3 0-7.2 0.7-6.9 1.5-6.7 2.1-6.4 2.8-6 3.3-5.6 4-5.6 4.8-5 5.4-4.5 5.9M591.8 1230.7l-4.8-1.5-5.4-1-5-0.3-5.4 0.4-5.4 0.9-5.5 1.6-5.4 2.2-5.3 2.7-10.7 7.1-11.3 9.8-11.8 12.3-13.9 16.6M592 1129.4l-5-5.6-5-4.5-6-4.5-5.9-3.5-6.2-2.9-6.7-2.3-6.9-1.6-6.4-0.8-6.4-0.2-7.3 0.5-7.1 1.2-7 2-6.8 2.6-6.5 3.2-6.2 3.7-5.8 4.3-9.5 8.8-9 10.5-8.5 12.6-8.2 14.6-6.7 14.4-7.2 17.2-26.2 71M257.2 1268.3l-12.1-14.7-11.1-11.7-10.6-9-10.4-6.7-5.2-2.5-5.2-2-5.2-1.4-5.3-0.9-5.2-0.2-5.3 0.4-5.1 1-4.6 1.5M591.7 1129.4l-4.8-4.7-5.2-4.2-5.7-3.7-5.4-2.9-6.4-2.6-6-1.7-6.8-1.3-6.4-0.5-6.3 0-7.1 0.8-6.3 1.3-6.8 2.1-6 2.5-6.3 3.3-6.1 3.8-5.7 4.4-9.4 8.9-8.7 10.6-8.1 12-8.2 14.7-6.8 14.4-6.9 16.6-25.8 68.8M263.2 1267.5l-12.9-17.3-11.4-13.2-11.5-10.8-5.5-4.2-5.6-3.7-5.7-3-5.4-2.3-5.9-1.8-5.5-1-5.9-0.4-5.4 0.4-5.4 1-5.2 1.7M317.6 1265.6l-23-41.7-8.3-13.3-7.5-11-8.1-10.4-8.4-9-8.1-7.3-8.7-6.1-9.7-5.1-10.1-3.3-9.7-1.4-9.7 0.3-9.4 2.2-9 3.8-8.3 5.5-7.9 7.3M591.8 1192.3l-7.4-5.5-7.5-3.9-8.4-2.7-8.2-1-8.3 0.3-8.8 1.8-8.6 3.3-8.8 4.9-7.6 5.4-7.6 6.7-7.6 7.9-7.9 9.4-7 9.5-7.7 11.2-26.3 41.6"/>
<path stroke="url(#gp34)" d="M106.6 1031.6l16.8-1.6 15.9-0.5 15.9 0.5 17 1.7M105.9 1072l14.6 13.9 15.2 16.8 16.7 21 19.8 26.8M106.7 1034.7l16.1-2.5 15.6-1.3 17.8-0.3 16.1 0.8M172 1081.4l-4.9 7.2-4 7.6-3.5 8.5-3 9.4-2.3 10.2-1.8 11-1.1 11.7-0.5 12.3 0.1 12.9 0.8 14.1 1.5 14.4 1.9 14.1 2.7 14.9 3.2 14.4 3.8 14.6 4.4 14.5M106.4 1056.1l18 3 16.9 4.3 15.6 5.4 15.2 6.8M106.3 1056.2l17.1 0.1 17 1.3 16.4 2.7 15.6 3.9M106.4 1056.9l18 0.2 16.7 1.6 16.3 2.8 15.3 4M106 1063.6l17.9 4.6 16.5 5.8 15.9 7.2 15.9 9M105.7 1060l18.2 1 16.8 2.3 16 3.5 16 5.1M105.6 1071.1l17 5.9 17.2 7.5 16.3 8.9 16 10.6M172 1100.3l-5.2 6.5-4.5 6.9-4.1 7.9-3.5 8.2-3 9.1-2.4 9.2-2.1 10.8-1.4 10.8-0.9 11.5-0.4 12.2 0.1 12.7 0.7 13.1 1.3 13.6 1.8 13.3 2.3 13.5 2.9 13.8M172 1131.5l-3.7 5.6-3.6 6.5-5.8 13.6-4.6 15.7-3.3 17.4-1.9 18.9-0.5 20.8 1 21.1 2.4 21.6M125.3 1289.4l-0.1 0.6M171.9 1222.1l-6.4 3-6.4 4.2-5.7 5-5.5 6.2-5.2 7.1-4.8 8.4-4.4 9-3.7 9.7M128.5 1278.4l-1 3.2M126.9 1283.8l-0.2 0.6M171.9 1212.9l-7.7 3.9-7.3 5.4-6.6 6.7-6.4 8.3-5.6 9.4-5.1 10.8-4.3 11.7-3.7 13M123.6 1289l-0.2 1.2M171.7 1176.1l-6.9 8.6-6 9.8-5.3 11.1-4.5 12.6-3.7 13.7-2.9 15.3-1.9 15.7-1 16.9"/>
<path stroke="url(#gp35)" d="M592.3 1128.4l17.9-22.9 16.6-18.5 8.3-8.2 7.8-7 7.9-6.3 7.9-5.7M592.4 1030.6l16.4-0.7 18 0.4 15.7 1.4 16.1 2.7M592.2 1149.2l19.5-26.2 16.9-20.9 15.3-16.7 14.9-13.8M636.5 1289.6l-0.8-1.1M633.9 1286.1l-0.8-1.1M632 1283.7l-0.6-0.6M628 1279.5l-4.4-4.1M620.8 1273.3l-7-4.2-7-2.8-7.2-1.4-7.7-0.1M592.3 1086.4l15.3-8.8 16.2-7.5 17-6.1 18.5-4.7M592.1 1115.8l16.4-13.4 16.3-11.4 16.9-9.8 17.2-8.2M592 1114.6l16.1-12.9 16.5-11.2 17-9.7 17.4-8M592.6 1079.6l15.6-6.9 16.2-5.5 17.3-4.2 17.3-2.8M592.4 1108l16-11.4 16.3-9.8 16.5-8.1 17.3-6.7M592.3 1075.9l16.1-5.6 16.3-4.1 17.1-2.8 17.6-1.5M641.4 1285.2l-0.4-1M640.4 1282.7l-0.4-0.9M639.3 1280.3l-0.4-1M638.2 1277.9l-4.7-9.1-5-7.8-5.4-6.9-5.7-5.7-6-4.7-6.3-3.6-6.6-2.5-6.8-1.3M636.1 1289.3l-0.6-2.1M634.1 1283.1l-3.9-9.9-4.2-8.8-4.8-8-5.2-7.3-5.7-6.3-5.8-5.1-6.2-4-6.5-3M613.6 1289.3l0.6-3.7M616 1273.7l2.3-22.6 0.8-22.1-0.9-21-2.4-19.8-3.8-17.5-5.2-15.6-3.3-7.5-3.5-6.6-4-6.3-4-5.3M618.7 1284.4l0.2-1.3M619.8 1276.1l2.1-22.9 0.6-22.9-1.2-22-2.9-19.9-4.2-17.4-2.9-8.5-3.1-7.6-3.6-7.4-3.8-6.4-4.3-6-4.8-5.7M628.3 1280.1l-0.2-1.8M627.8 1275.8l-2.2-13.8-2.9-13-3.5-11.9-4.3-11.3-4.9-10.1-5.3-8.8-6.1-7.9-6.8-6.7"/>
<path stroke="url(#gp36)" d="M407.5 1265l-0.4-24 0.4-25.9 1.3-27.1 2-27.2 2.9-27.2 3.4-25.2 3.9-22.9 4.4-20.3 4-14.2 4.3-12.4 4.8-10.5 5.4-8.8 5.7-6.8 6.7-5.9 8-5 9.3-4M475.8 996.9h0M478.2 996.1h0M480.8 995.4h0M483.6 994.6h0M486.7 993.9h0M490 993.2h0M493.5 992.5h0M497.4 991.8h0M501.7 991.2h0M506.3 990.6h0M511.3 990h0M516.8 989.4h0M522.7 988.9h0M529.2 988.4h0M536.1 988h0M543.6 987.6h0M551.6 987.3h0M559.9 987.1h0M568.7 986.9h0M577.6 986.8h0M586.7 986.8h0M595.7 986.8h0M659.9 990.2h0M664.7 990.8h0M669.2 991.4h0M673.2 992.1h0M676.9 992.7h0M680.4 993.4h0M683.5 994.1h0M686.5 994.8h0M689.2 995.5h0M691.7 996.3h0M694 997h0M696.2 997.8h0M68.2 998.5l5.4 2.3 5.9 3.2 5.8 4 4.7 4 4.5 4.8 3.8 4.9 7.4 12.1M172 1197.2l17.5 34.1 21.4 38M395.6 1264.1l-2.3-26.6-1.5-29.8-2-91.7-0.9-24.1-1.8-22.5-2.6-17.2-2.5-9.9-2.8-8-4.1-7.9-4.4-6-5-5.1-6.6-4.9-7.3-3.9-9.6-3.6M339.9 1002.2h0M337.5 1001.5h0M335 1000.9h0M332.3 1000.2h0M329.4 999.6h0M326.4 999h0M323.3 998.4h0M319.9 997.8h0M316.4 997.3h0M312.7 996.8h0M308.7 996.4h0M304.6 995.9h0M300.3 995.5h0M295.9 995.2h0M291.2 994.8h0M286.4 994.5h0M281.4 994.3h0M276.4 994.1h0M271.2 994h0M265.9 993.9h0M260.6 993.8h0M255.3 993.8h0M250 993.9h0M244.8 994h0M239.6 994.1h0M234.6 994.3h0M229.7 994.6h0M224.9 994.9h0M220.3 995.2h0M215.9 995.5h0M211.7 995.9h0M207.6 996.4h0M203.8 996.8h0M200.1 997.3h0M196.6 997.9h0M193.3 998.4h0M190.2 999h0M187.3 999.6h0M184.5 1000.2h0M181.9 1000.8h0M179.4 1001.4h0M177.1 1002.1h0M174.8 1002.8l-4 1.4M172.1 1227.3l9.3 20.9 10.5 21.4M574.9 1278.5l9.2-19.3 7.9-18.7M591.5 1020.3l-6.8-3.3-6.5-2.5-7.3-2.3-8.5-2M560.1 1009.7h0M557.8 1009.2h0M555.4 1008.8h0M552.9 1008.4h0M550.3 1008h0M547.7 1007.7h0M545 1007.3h0M542.2 1007h0M539.4 1006.7h0M536.5 1006.5h0M533.6 1006.2h0M530.6 1006h0M527.6 1005.8h0M524.5 1005.7h0M521.4 1005.6h0M518.3 1005.5h0M515.2 1005.4h0M512 1005.4h0M508.9 1005.4h0M505.7 1005.4h0M502.5 1005.4h0M499.4 1005.5h0M496.3 1005.6h0M493.2 1005.8h0M490.2 1006h0M487.1 1006.2h0M484.2 1006.4h0M481.2 1006.7h0M478.4 1007h0M475.6 1007.3h0M472.8 1007.6h0M470.1 1008h0M467.5 1008.4h0M465 1008.8h0M462.5 1009.2h0M460.1 1009.6h0M457.7 1010.1h0M455.4 1010.6l-12.2 3.3-10 3.8-9.3 5-8.3 6.1-6.3 6.4-6 8.3-4.5 8.6-4 10.4-2.8 9.7-2.3 10.7-2 12.4-1.9 15.1-2.4 27.9-5.3 81-2.1 23.1-2.3 19.8M591.7 1281.1l-1.8 0.7M587.8 1282.8l-0.6 0.3M583.4 1285.1l-1.4 0.8M385.5 1263.4l-5.1-38.6-9.1-85.4-2.9-20.7-3-16.5-4.7-18.2-2.5-7.7-3.1-7.7-3.3-6.7-3.9-6.6-4.1-5.6-4.1-4.7-6.4-6-6.9-4.9-8.1-4.6-9.8-4.1-9.6-3-11-2.5-12.2-1.8-13.1-1.2-13.6-0.3-13.5 0.5-12.8 1.2-13.7 2.3-10.3 2.6-10.3 3.6-8.7 4.1-8.1 5.3M172.2 1254.6l6.4 15.4M228.4 1255.9l6.2 10.3M234.8 1266.7l1.2 2M421.8 1271.4l0.2-5M422 1265.7l2-29.1 3.6-30.3 4.9-28.9 5.9-27.1 6.9-24.2 7.8-21.7 8.4-18.3 4.4-7.8 4.9-7.7 5-6.9 5-5.9 5.6-5.8 5.5-4.9 6.2-4.7 5.9-3.9 6.5-3.8 7.3-3.5 15.6-5.7 9.8-2.7 9-1.9 19.8-2.9 21.6-1.4M658.8 1022.4l9.7 2.5 10.1 3.2 9 3.6 9.1 4.3M67.8 1036.6l9.8 5.8 10 7.2 9.2 8.1 9.2 9.5M172.1 1165l58.6 94.8M506.4 1281.1l16.3-29.8 19.1-31.3 23.9-35.7 26.4-37.1M659.1 1071.7l9-6.8 9.2-6.1 9.3-5.4 9.4-4.6M67 1048.4l9.4-3.8 9.1-3.1 9.8-2.8 10.5-2.3M172.4 1033.4l17.8 2.5 17.6 4.1 15.6 5.4 13.5 6.5 12.5 7.9 11.3 9.2 10.8 11.3 9.6 12.5 9.4 15.2 8.5 17.1 7.9 19.6 7.1 21.3 6.3 23.5 5.4 24.8 4.3 25.8 3.2 26.5M591.9 1266.6l-6.4 1.9-6.4 2.8-6.7 3.7-6.9 4.8M376.7 1261l-5.2-28.3-12.3-75.1-4.2-20.5-4.4-17.5-5.9-18.1-6.8-15.4-4.1-7-4.1-6.1-4.6-6-4.7-4.9-6.9-6-7.1-5-8.2-4.4-9.2-3.9-10.3-3.2-9.8-2.1-11.9-1.5-10.7-0.6-10.8 0.3-12 1.1-9.9 1.8-10.3 2.8-9.3 3.4-8.1 4.1-7.8 5.2-6.6 5.7M592 1096.2l-5.4-4.8-6-4.3-6.6-3.7-7.1-3.2-7.7-2.5-8.1-1.8-8.4-1-7.6-0.2-7.6 0.4-8.5 1.2-7.3 1.8-7.9 2.7-7.4 3.3-6.9 3.9-6.4 4.5-6.5 5.5-9.2 9.8-8.7 12-8 14.3-7.2 16.3-6.1 16.6-6.2 19.6-21.7 78.9M236.6 1267.9l-8.8-10.2-8.1-8.1-8.2-6.9-8-5.5-8.2-4.2-8-2.6-8-1.3-7.6 0.2"/>
<path stroke="url(#gp37)" d="M105.7 1033.8l5.8 12 6.2 15 22.4 60.9 10.9 27.9 10.2 24.2 10.8 23.4M170.8 1004.2l-9.8 4.4-7.1 4.6-5.9 5.6-5.2 7.4-3.7 8.3-2.6 10-1.5 11.6-0.5 13.1 0.8 16.9 2 18 3.3 19.6 4.5 21.1 5.4 20.7 6.3 20.9 7.2 20.4 8.1 20.5M140.8 1285.7l-1 0.2M137.5 1286.7l-2.2 0.8M131.7 1289.2l-1.2 0.6M171.6 1036.2l-7.2 6.3-5.7 6.6-4.8 7.6-4.2 9.4-3.1 10.2-2.4 11.9-1.3 12.7-0.4 14 0.6 16.1 1.5 16.4 2.5 17.3 3.4 18.1 4.2 18 5.2 18.4 5.7 17.6 6.6 17.8M106 1067.2l12.1 14.5 13.4 18.8 14.6 22.4 26 42.1M105.8 1036.4l15.6-2.4 16.7-1.4 17.2-0.2 17.1 1M171.5 1059.8l-6.1 6.7-5.3 7.8-4.5 8.8-3.7 9.8-2.9 10.7-2.1 12.2-1.3 13-0.5 13.6 0.3 14.9 1.3 16 2 16.2 2.9 17 3.5 16.4 4.4 17 4.9 16.2 5.8 16.6M171.7 1229.3l-8.6 1.9-8.2 3.6-7.8 5.5-7.1 6.9-6.8 8.9-5.9 10.1-5.4 11.8-4.5 12.7"/>
<path stroke="url(#gp38)" d="M595.7 986.8h0M604.5 987h0M613.1 987.2h0M621.2 987.5h0M628.9 987.8h0M636.1 988.2h0M642.8 988.6h0M649 989.1h0M654.7 989.6h0M659.9 990.2h0M592 1240.5l7.3-19.2 6.4-19 5.5-19.4 4.6-19 3.8-19.2 2.7-18.5 1.6-17.6 0.5-15.7-0.5-13.6-1.5-12.1-2.4-10.6-3.6-9.6-4.3-8-5.5-7-6.5-6-8.6-5.7M639.6 1290.9l-2.1-1.8M635.4 1287.4l-1.2-1M631.4 1284.5l-1.9-1.1M627.9 1282.5l-0.7-0.4M625.6 1281.4l-0.6-0.3M619.7 1279.2l-0.7-0.2M617 1278.5l-2.8-0.5M613.2 1277.9l-5.5-0.2-5.6 0.5M595.8 1279.7l-1.3 0.4M592.7 1280.7l-1 0.4M593.6 1016.6l17.7 0.1 17.1 1 16 2 14.4 2.7M592.1 1147.2l19.5-25.5 16.8-20 15.6-16.5 15.1-13.5M637.1 1284l-0.8-1M635.7 1282.4l-1.7-1.8M632.5 1279.1l-4.6-3.9-4.7-3.3-5-2.6-5.1-1.9-5.2-1.2-5.2-0.6-5.4 0.2-5.4 0.8M623.3 1193.4l-0.7-15.9-1.6-15.4-2.6-13.9-3.5-13-4.5-11.9-5.2-10.1-6-8.8-7.2-8.2M611 1286.3l0.3-1.2M612.6 1280.2l1.3-5.6M614.9 1270.3l4.1-21.3 2.7-20.9 1.4-20.2 0.1-20.1"/>
<path stroke="url(#gp39)" d="M551.9 1273.7l22.5-39.9 17.8-35.2M658.6 1028.8l3.7-6.5 3.8-5.8 4.1-4.9 4-4.1 4-3.3 4.9-3.2 6.2-3.2 6-2.4M67.6 994.7h0M70.1 993.9h0M72.8 993.1h0M75.7 992.4h0M79 991.7h0M82.6 991h0M86.5 990.3h0M90.9 989.6h0M95.7 988.9h0M101 988.3h0M107 987.7h0M179 985.1h0M190 985.1h0M200.7 985.2h0M211 985.5h0M220.7 985.8h0M229.7 986.1h0M238 986.6h0M245.5 987.1h0M252.3 987.6h0M258.4 988.2h0M263.9 988.8h0M268.9 989.5h0M273.3 990.2h0M277.4 990.9h0M281 991.6h0M284.3 992.4h0M287.4 993.1h0M290.1 993.9h0M292.7 994.7h0M295 995.4l9.4 4.1 6.6 4.2 6.8 6 5.5 6.9 5 8.8 4.2 9.7 4.2 12.4 3.7 14.3 4.2 20.5 3.8 23.8 3.3 26.2 2.7 27.3 1.9 27.3 1.2 27.1 0.3 25.2-0.5 24M172.1 1220.9l10.5 23.1 12.1 23.8M398.1 1263.9l-1.9-25.9-1.1-28.3-0.4-38.1 0.5-89.2-0.8-21.8-1.7-17.2-1.7-9.1-2.4-8.1-2.6-6.2-3.8-6.2-4.7-5.2-5.3-4.2-5.8-3.3-7.7-3.2M356.4 997.2h0M353.9 996.4h0M351.2 995.7h0M348.3 995h0M345.1 994.3h0M341.6 993.6h0M337.9 992.9h0M333.8 992.3h0M329.4 991.7h0M324.6 991.1h0M319.3 990.6h0M313.7 990.1h0M307.7 989.6h0M301.2 989.3h0M294.3 988.9h0M287.1 988.6h0M279.6 988.4h0M271.8 988.3h0M263.9 988.2h0M256 988.2h0M248.1 988.3h0M240.3 988.5h0M232.9 988.7h0M225.7 989h0M219 989.3h0M212.6 989.7h0M206.6 990.1h0M201.1 990.6h0M196 991.2h0M191.3 991.7h0M186.9 992.3h0M182.9 992.9h0M179.2 993.6h0M175.8 994.3h0M172.7 995h0M169.9 995.7h0M587 1283.6l0.7-1.6M591.2 1273.3l0.9-2.2M591.5 1053l-7.3-5.6-7.7-4.6-9-4-9-3-11.5-2.7-10.9-1.6-11.6-0.8-11.7 0-11.7 0.8-11.1 1.6-10.4 2.3-10.7 3.5-8.3 3.6-8.3 4.7-7.2 5.1-6.9 6.3-4.6 5.1-4.6 6.1-3.9 6.3-3.5 6.4-6.5 15.6-5.6 18.4-3.9 16.8-3.9 20.9-11.6 78-5.5 31.3M176.1 1271.5l-4.3-1.3M591.7 1057.4l-6.8-5.7-7.3-4.6-8.3-4-9.6-3.5-10.7-2.7-10.2-1.7-12.3-1-11.1-0.1-11 0.7-10.6 1.4-10 2.2-10.4 3.2-9.3 3.9-8.2 4.6-7.1 5-6.9 6.1-4.6 5-4.6 6-4.1 6.1-3.5 6.3-6.8 15.4-5.9 18.3-4.3 17.5-4.1 20.6-12.3 76.8-5.4 29.7M178.3 1269.6l-6.5-2M587.6 1286.7l0.9-2.2M590.7 1279.1l1.5-3.9M591.8 1057.4l-0.7-0.6M485.4 1281.4l9.9-22.6 10.7-21.6 12.2-21.7 13.1-20.6 14.2-20.1 15-19.2 15.9-18.2 16-16.3M659.1 1073.4l17.9-7.6 19.1-6M67 1059.6l19.1-4.1 19.4-2.3M172.5 1058.7l13.7 4.1 13.7 5.4 12.4 6.3 11.9 7.6 10.8 8.3 10.2 9.5 9.6 10.7 9.5 12.4 8.8 13.6 8.4 15.4 7.8 16.3 7.3 18 6.5 18.8 6 20.2 5.2 20.8 4.3 21.3"/>
<path stroke="url(#gp310)" d="M107 987.7h0M113.6 987.2h0M120.9 986.7h0M128.9 986.2h0M137.7 985.8h0M147.3 985.5h0M157.4 985.3h0M168.1 985.1h0M179 985.1h0M131.7 1071.6l2 16.7 3.1 18.5 4.1 19.4 4.9 19.2 5.5 19 6.4 19.4 6.8 18.5 7.6 18.6M169.9 995.7h0M167.2 996.4h0M164.8 997.1h0M162.5 997.9l-9 3.8-4 2.4-4.3 3.3-3.3 3.3-2.6 3.4-2.5 4.2-1.8 4.2-2.8 10.1-1.4 12.6 0.1 14.9 1.4 17.8M171.8 1270.2l-7.1-1.2-7.1-0.1-6.9 1.2-6.5 2.2M143.9 1272.5l-5.2 2.8M137.7 1275.9l-4.3 3.2M131.8 1280.4l-1.8 1.6M128.3 1283.7l-1.8 1.8M124.8 1287.4l-0.8 1M171.8 1267.6l-5-0.8-5-0.3-4.9 0.4-4.5 0.9-4.5 1.3-4.7 2.1-4.2 2.5-4.4 3.2M133.4 1277.9l-6.2 6.1M122 1290.4l-0.5 0.7M105.5 1053.2l17.9-0.6 16.8 0.8 16.5 2 15.8 3.3"/>
<path stroke="url(#gp311)" d="M592.2 1198.6l11.5-25.3 10.8-26.4 11.1-29.7 21.6-61.9 6.1-15.1 5.3-11.4M592.1 1271.1l6.2-17.1 5.5-17.3 4.7-17.6 3.8-17 3.1-17.8 2.2-17 1.3-16.1 0.4-15.7-0.4-13.7-1.3-13.1-2.3-12.4-3.1-10.7-3.9-9.9-4.5-8.1-5.8-7.8-6.5-6.8M596.2 1062l-4.5-4.6M592.2 1275.2l0.8-2.2M594.1 1270.2l5.8-16.7 5.1-16.9 4.3-17 3.5-16.5 2.9-17.1 1.9-16.3 1.1-16.1 0.3-14.9-0.6-13.7-1.4-13-2.2-11.5-3-10.7-3.5-9.1-4.7-8.8-5.5-7.7-6.3-6.8M592.4 1121.1l16.6-14.8 16.7-13 16.7-10.9 16.7-9"/>
<path stroke="#ff0000" d="M565.5 1267.7h0M363.8 1259.1h0M562.2 1273.7h0M140.8 1285.7h0M137.5 1286.7h0M136.9 1286.9h0M136.6 1287h0M131.7 1289.2h0M576.4 1275.5h0M576.7 1275h0M579.9 1268.2h0M639.6 1290.9h0M637.8 1289.3h0M625.3 1281.2h0M617 1278.5h0M616.6 1278.4h0M612.2 1277.8h0M607.7 1277.7h0M606.3 1277.8h0M595.1 1279.9h0M594.8 1280h0M163.5 1230.8h0M501.4 1280.8h0M501.9 1279.7h0M503.3 1276.5h0M504.3 1274.4h0M507.6 1267.4h0M508.1 1266.3h0M509.4 1263.7h0M327 1264.6h0M428.9 1271.5h0M429.1 1268.7h0M429.3 1267.3h0M587.3 1283.1h0M592.7 1269.4h0M386.5 1253.4h0M174.3 1270.9h0M167.9 1269.4h0M167.5 1269.3h0M163.6 1268.9h0M162.2 1268.8h0M160.1 1268.8h0M158.7 1268.8h0M156.9 1269h0M150.3 1270.2h0M150 1270.3h0M149.3 1270.5h0M148.3 1270.8h0M146.6 1271.4h0M145.9 1271.6h0M142.9 1273h0M142.6 1273.1h0M141.9 1273.5h0M140.6 1274.2h0M139.3 1274.9h0M139 1275.1h0M137.7 1275.9h0M136.5 1276.8h0M136.1 1277h0M135.8 1277.2h0M134.9 1277.9h0M134.6 1278.1h0M134.3 1278.4h0M134 1278.6h0M131.5 1280.6h0M131.2 1280.9h0M130.9 1281.2h0M128.3 1283.7h0M124.8 1287.4h0M124.3 1288h0M510.1 1277.2h0M510.9 1275.7h0M512.8 1272.1h0M513.6 1270.6h0M514.2 1269.6h0M514.5 1269.1h0M515.3 1267.5h0M515.6 1267h0M518.4 1261.9h0M506.4 1281.1h0M506.9 1280h0M515.2 1264.6h0M333 1264.4h0M386.6 1261.5h0M178.3 1269.6h0M171.5 1267.6h0M169.3 1267.2h0M164.7 1266.6h0M162.9 1266.6h0M158.6 1266.7h0M158.3 1266.7h0M156.5 1266.9h0M155.1 1267.2h0M153.4 1267.5h0M150.6 1268.2h0M148.6 1268.9h0M147.6 1269.3h0M147.2 1269.4h0M146.6 1269.7h0M146.2 1269.8h0M143.9 1270.9h0M140.3 1272.9h0M140 1273.1h0M138.4 1274.1h0M137.7 1274.5h0M137.1 1275h0M136.5 1275.4h0M135.9 1275.9h0M132.8 1278.4h0M130.4 1280.6h0M129.8 1281.2h0M128.6 1282.4h0M128.4 1282.7h0M127.5 1283.6h0M587.8 1286.1h0M591.1 1278h0M591.5 1276.9h0M591.7 1276.3h0M592.4 1274.7h0M595.9 1265.1h0M626 1273.8h0M625.1 1273.2h0M624.5 1272.7h0M623.5 1272.1h0M589.8 1267.2h0M581.6 1270.1h0M579.1 1271.3h0M569.6 1276.8h0M569.2 1277.1h0M568.6 1277.6h0M567.9 1278h0M567.5 1278.3h0M165.4 1259h0M165.8 1260.2h0M166.3 1261.9h0M167.3 1264.8h0M169 1269.3h0M162.8 1250.8h0M164.1 1255.7h0M164.7 1258.1h0M165.7 1261.6h0M165.9 1262.2h0M166.9 1265.7h0M167.1 1266.3h0M168.7 1271.5h0M636.5 1289.6h0M627.7 1279.2h0M626 1277.5h0M617.3 1271h0M615.1 1269.7h0M608.5 1266.9h0M600.3 1265h0M599.2 1264.9h0M597.8 1264.7h0M575.2 1269.1h0M486.5 1278.5h0M487.7 1275.7h0M488.2 1274.6h0M468.4 1280h0M473.5 1262.7h0M482.2 1278.4h0M483.6 1275h0M484.7 1272.1h0M486.4 1268h0M487.9 1264.6h0M484.9 1269.4h0M460.6 1279.1h0M291.4 1262.6h0M475.7 1280.6h0M476.5 1278.2h0M476.7 1277.6h0M476.9 1277h0M477.6 1275.2h0M454.9 1275.2h0M455.3 1273.2h0M461 1251.5h0M410.8 1261.1h0M410.1 1263.6h0M132.2 1257.7h0M131.9 1258.2h0M129.5 1262.1h0M128.3 1264.4h0M127.5 1265.7h0M126.8 1267.1h0M126.3 1268.1h0M125.9 1269h0M125.2 1270.5h0M124.9 1271h0M124 1272.9h0M122.1 1277.5h0M121.9 1278h0M120.9 1280.5h0M120.7 1281.1h0M119.7 1283.7h0M118.8 1286.4h0M118.6 1286.9h0M118.4 1287.4h0M118.1 1288.5h0M117.9 1289.1h0M117.5 1290.1h0M613.2 1277.7h0M613.5 1276.5h0M615.1 1269.6h0M638 1277.4h0M636.7 1274.6h0M628.8 1261.4h0M547.2 1253.1h0M542.2 1257.5h0M539.1 1260.5h0M150.9 1260.3h0M151 1260.9h0M151.4 1262.8h0M151.9 1265.3h0M152.1 1266.6h0M349.4 1258.5h0M149.6 1251.7h0M150.1 1256.9h0M150.6 1262h0M150.7 1262.6h0M150.9 1264.5h0M151.6 1270.2h0M151.8 1271.5h0M151.9 1272.1h0M634.1 1283.1h0M633.7 1282.1h0M633.3 1281.1h0M632.6 1279.1h0M627.8 1268h0M521.1 1259.2h0M511.3 1270.1h0M504 1278.9h0M502.5 1280.8h0M614.1 1286.2h0M616.3 1271.8h0M616.7 1268.6h0M253.4 1263.4h0M148.4 1239.8h0M139.6 1252.8h0M138.4 1255.1h0M135.1 1261.6h0M133.8 1264.5h0M131.3 1270.6h0M130.9 1271.6h0M126.7 1284.4h0M618.8 1283.7h0M620 1274.8h0M620.2 1272.9h0M620.8 1267.7h0M621 1265.7h0M621.1 1264.4h0M621.7 1257.2h0M262.3 1266.2h0M140.1 1243.3h0M138.1 1247h0M135 1253.4h0M132.8 1258.5h0M131.8 1261.1h0M129.8 1266.4h0M129.5 1267.5h0M129.1 1268.6h0M128.9 1269.1h0M128.4 1270.8h0M128 1271.9h0M127.9 1272.4h0M127.5 1273.6h0M127.4 1274.1h0M126.4 1277.5h0M126.3 1278.1h0M125.8 1279.8h0M123.5 1289.6h0M423.1 1270.2h0M266.1 1267h0M261.7 1260.8h0M148.9 1228.9h0M142.5 1238.1h0M130.5 1264.7h0M130.1 1265.8h0M128.9 1269.7h0M127.9 1273h0M127.8 1273.6h0M127 1276.4h0M126.9 1277h0M126.1 1279.9h0M126 1280.5h0M619 1289.1h0M636.3 1278.4h0M636.1 1277.8h0M636 1277.2h0M488.2 1257.5h0M480.7 1269.4h0M327.5 1265.3h0M138.1 1262.6h0M138.1 1266.6h0M138.2 1267.9h0M138.2 1268.5h0M138.2 1269.9h0M138.3 1271.8h0M138.3 1272.5h0M138.5 1276.4h0M138.6 1277.7h0M139 1283.6h0M139.1 1284.9h0M139.3 1288.1h0M142.9 1244.1h0M141 1257.8h0M140.5 1263.5h0M140.4 1264.7h0M140.3 1266h0M140.2 1266.6h0M140.2 1267.3h0M140 1269.1h0M140 1269.8h0M139.9 1271h0M139.8 1272.9h0M139.8 1273.5h0M139.7 1274.8h0M139.6 1277.9h0M139.6 1279.2h0M628.3 1280.1h0M626.3 1266.1h0M458.5 1274.3h0M454.6 1280.3h0"/>
<path stroke="#ff2a00" d="M561.4 1275.1h0M363.8 1259.8h0M552.7 1272.2h0M407.4 1260.7h0M407.2 1253.5h0M205 1259.1h0M395.3 1261.3h0M394.4 1251.4h0M184.9 1255.7h0M131.4 1289.3h0M130.8 1289.7h0M574.9 1278.5h0M576.9 1274.4h0M578.9 1270.3h0M580.6 1266.7h0M587.2 1252.2h0M374.2 1258.1h0M638.4 1289.9h0M635.4 1287.4h0M631.4 1284.5h0M619.3 1279.1h0M614.9 1278.1h0M613.2 1277.9h0M592.7 1280.7h0M591.7 1281.1h0M587.5 1282.9h0M161 1222.9h0M164 1232h0M169.6 1247.8h0M234.3 1265.7h0M422 1265.7h0M422 1265h0M506.6 1269.5h0M507.1 1268.5h0M429.8 1261.6h0M587.5 1282.5h0M593 1268.8h0M595.7 1261.5h0M597.7 1255.7h0M175.7 1271.4h0M175 1271.1h0M171.1 1270h0M170 1269.8h0M168.2 1269.4h0M166.1 1269.1h0M165.7 1269.1h0M164 1268.9h0M162.9 1268.8h0M161.5 1268.8h0M160.4 1268.8h0M158.3 1268.9h0M158 1268.9h0M151 1270h0M147.9 1270.9h0M145.6 1271.8h0M144.9 1272.1h0M144.6 1272.2h0M143.3 1272.8h0M141 1274h0M515 1268h0M333.6 1259.2h0M508 1277.9h0M508.8 1276.4h0M511 1272.3h0M511.2 1271.8h0M515.7 1263.6h0M170.4 1267.3h0M166.8 1266.8h0M165 1266.6h0M163.6 1266.6h0M162.5 1266.5h0M161.8 1266.5h0M161.5 1266.6h0M155.5 1267.1h0M151.7 1267.9h0M145.2 1270.3h0M144.9 1270.4h0M144.2 1270.7h0M143.6 1271h0M141.3 1272.3h0M140.9 1272.5h0M139.7 1273.3h0M138.1 1274.3h0M136.2 1275.7h0M131.3 1279.8h0M128.1 1283h0M121.7 1290.8h0M587.6 1286.7h0M588.2 1285.1h0M595.3 1266.8h0M596.9 1262.2h0M597.1 1261.7h0M635.4 1282.1h0M632.2 1278.9h0M630.4 1277.2h0M627.6 1275h0M620.9 1270.6h0M618.6 1269.5h0M608.6 1266.3h0M607.2 1266.1h0M605.8 1265.9h0M597.3 1265.8h0M592.3 1266.6h0M587.6 1267.8h0M581.2 1270.2h0M580.8 1270.4h0M575.5 1273.1h0M574.5 1273.7h0M568.9 1277.3h0M566.5 1279h0M565.8 1279.6h0M376.6 1260.4h0M160.3 1242.9h0M164.2 1255.5h0M166 1260.7h0M166.1 1261.3h0M169.6 1271h0M162 1247.8h0M165.4 1260.4h0M166.4 1264h0M167.8 1268.6h0M625.1 1276.7h0M624.8 1276.4h0M618.3 1271.6h0M615.7 1270.1h0M597.5 1264.7h0M592.9 1264.7h0M580.2 1267.2h0M579.8 1267.3h0M577 1268.4h0M575.9 1268.8h0M571.4 1270.9h0M565.1 1274.5h0M564.4 1274.9h0M562.7 1276.1h0M561 1277.2h0M495 1259.4h0M469.4 1276.3h0M469.6 1275.6h0M483.3 1275.5h0M485.2 1270.9h0M485.9 1269.2h0M480.5 1280.4h0M481.4 1278.1h0M481.8 1276.9h0M485.6 1267.6h0M460.9 1277.9h0M461.9 1274h0M289.3 1256.4h0M476.1 1279.4h0M477.4 1275.8h0M488.8 1247.5h0M284.9 1261.9h0M454.4 1277.1h0M454.7 1275.8h0M458.6 1260.1h0M459.3 1257.5h0M459.7 1256.1h0M410.3 1263h0M235.3 1266.3h0M234 1264.7h0M154.5 1235.1h0M139.7 1247.6h0M135.5 1252.8h0M134.9 1253.6h0M134.7 1254h0M132.4 1257.3h0M131.3 1259h0M128.8 1263.4h0M125.6 1269.5h0M124.7 1271.5h0M124.5 1271.9h0M123.4 1274.4h0M123.2 1274.9h0M122.9 1275.4h0M121.3 1279.5h0M611.2 1285.7h0M616.4 1263.3h0M616.5 1262.7h0M639.3 1280.3h0M637.3 1276h0M636 1273.3h0M635 1271.5h0M633.5 1268.8h0M527 1273.5h0M149.6 1253.2h0M152.3 1267.2h0M152.8 1269.7h0M149.8 1253h0M150.5 1260.7h0M150.6 1261.4h0M151.1 1265.8h0M636 1288.8h0M635.6 1287.7h0M630.8 1274.7h0M628 1268.5h0M626.9 1266.2h0M626.4 1265.3h0M625.5 1263.5h0M520.1 1260.2h0M510 1271.6h0M505 1277.7h0M502.8 1280.4h0M418.6 1262.2h0M252.1 1261.8h0M136.9 1257.8h0M135.5 1260.7h0M134.2 1263.6h0M133.5 1265h0M133.3 1265.5h0M130.1 1273.7h0M127.8 1280.6h0M620.3 1272.2h0M621.8 1255.8h0M426.5 1256.4h0M162.7 1217.8h0M141.4 1241.1h0M135.7 1251.9h0M132 1260.6h0M127.1 1275.2h0M126.9 1275.8h0M126.1 1278.6h0M123.6 1289h0M425.9 1263.4h0M423.4 1269.7h0M422.7 1271.3h0M142 1239h0M133.2 1257.2h0M133 1257.7h0M131.8 1260.9h0M131.2 1262.5h0M130.3 1265.2h0M129.3 1268.5h0M128.6 1270.8h0M128.3 1271.9h0M127.3 1275.3h0M127.2 1275.9h0M619.9 1282.8h0M620.7 1275.7h0M622.1 1261.4h0M622.2 1258.7h0M637.6 1287.1h0M635 1271.8h0M633.3 1264h0M631.3 1256.4h0M325.3 1260.3h0M140.5 1221.9h0M138.1 1250.7h0M138.1 1253.3h0M138.1 1254h0M138.1 1264.6h0M138.1 1265.9h0M138.4 1273.8h0M139.1 1285.5h0M317.3 1265.1h0M315.2 1261.2h0M145.8 1229.4h0M142.7 1245.4h0M141.8 1251.6h0M141 1258.5h0M140.6 1261.6h0M140.6 1262.2h0M140.3 1265.4h0M140.1 1267.9h0M628.1 1278.9h0M627.7 1275.2h0M626.5 1267.4h0M624 1254.3h0M467.9 1259.3h0M463.3 1266.6h0M462.2 1268.4h0M458.8 1273.8h0M456.6 1277.3h0M455.5 1279.1h0"/>
<path stroke="#ff5500" d="M560.6 1276.5h0M562.2 1273.6h0M562.8 1272.6h0M564.7 1269.2h0M565 1268.7h0M566.3 1266.2h0M568.2 1262.7h0M570.1 1259.2h0M561.6 1274.7h0M553.3 1271.3h0M556.7 1265.4h0M557 1265h0M558.7 1262h0M564.6 1251.6h0M357.4 1260.4h0M207.2 1263h0M190.2 1259.2h0M191 1260.7h0M397.6 1258.3h0M397.3 1254.7h0M185.7 1257.2h0M187.2 1260.4h0M131.1 1289.5h0M575.4 1277.5h0M577.4 1273.4h0M577.7 1272.9h0M578.4 1271.3h0M580.4 1267.2h0M635.1 1287.1h0M619.7 1279.2h0M611.2 1277.7h0M609.1 1277.7h0M606 1277.8h0M603.2 1278.1h0M595.8 1279.7h0M590.6 1281.5h0M590.3 1281.7h0M583.4 1285.1h0M385.3 1262h0M382.5 1242.4h0M168.7 1245.5h0M170.9 1251.2h0M177 1266.2h0M421.8 1270.7h0M421.8 1270h0M421.9 1267.1h0M230.1 1258.8h0M230.7 1259.8h0M500.9 1281.9h0M502.1 1279.2h0M502.4 1278.6h0M505.1 1272.8h0M505.3 1272.2h0M506.8 1269h0M509.1 1264.2h0M510.2 1262.1h0M513.9 1254.6h0M326.4 1259.1h0M429.3 1266.6h0M429.5 1264.5h0M236.5 1247.5h0M246.7 1265.2h0M591.2 1273.3h0M591.7 1272.2h0M385 1261.5h0M173.9 1270.8h0M172.5 1270.4h0M170.7 1270h0M169.7 1269.7h0M165.4 1269h0M164.7 1269h0M161.8 1268.8h0M160.8 1268.8h0M155.2 1269.2h0M152 1269.8h0M146.9 1271.3h0M143.9 1272.5h0M139.7 1274.7h0M137.4 1276.1h0M510.6 1276.2h0M513.3 1271.1h0M516.1 1266h0M520.4 1258.4h0M522.8 1254.3h0M506.6 1280.5h0M508.5 1276.9h0M513.2 1268.2h0M516 1263h0M520 1255.9h0M332.3 1257.3h0M332.8 1262.3h0M176.5 1268.9h0M175.4 1268.6h0M167.9 1266.9h0M165.7 1266.7h0M163.3 1266.6h0M159 1266.7h0M157.6 1266.8h0M156.2 1267h0M154.1 1267.4h0M153.8 1267.4h0M152.7 1267.7h0M149.3 1268.7h0M148.9 1268.8h0M147.9 1269.1h0M145.6 1270.1h0M143.2 1271.2h0M139.3 1273.5h0M133.1 1278.2h0M592 1275.8h0M592.2 1275.2h0M595.1 1267.4h0M597.3 1261.1h0M635.1 1281.8h0M632.5 1279.1h0M631.6 1278.3h0M631 1277.8h0M628.5 1275.7h0M628.2 1275.5h0M621.5 1271h0M617.9 1269.2h0M615.9 1268.3h0M613.8 1267.6h0M613.5 1267.5h0M612.5 1267.2h0M608.3 1266.2h0M606.9 1266h0M604.1 1265.7h0M603 1265.6h0M601.6 1265.6h0M598.7 1265.7h0M598.4 1265.7h0M596.2 1265.9h0M589.1 1267.4h0M587.3 1267.9h0M586.6 1268.1h0M583.7 1269.2h0M578.7 1271.4h0M578 1271.8h0M573.4 1274.4h0M572.7 1274.8h0M572.4 1275h0M571.7 1275.5h0M157.1 1231.1h0M162.5 1250.2h0M157.3 1226.5h0M160.1 1239.8h0M162.2 1248.4h0M165.1 1259.2h0M636.2 1289.2h0M632 1283.7h0M627.1 1278.6h0M626.3 1277.8h0M625.7 1277.2h0M624.5 1276.2h0M620.8 1273.3h0M618.9 1272h0M617.7 1271.2h0M612.2 1268.3h0M610.5 1267.6h0M610.2 1267.5h0M609.8 1267.3h0M607.5 1266.5h0M601.3 1265.1h0M601 1265.1h0M599.9 1264.9h0M596.1 1264.7h0M595.7 1264.7h0M594.3 1264.7h0M594 1264.7h0M590.1 1265h0M586.5 1265.5h0M585.1 1265.8h0M579.5 1267.5h0M578.4 1267.8h0M577.7 1268.1h0M574.5 1269.4h0M569.6 1271.9h0M569.3 1272h0M568.9 1272.2h0M568.2 1272.6h0M563.7 1275.4h0M369.4 1236.7h0M486.3 1279.1h0M488.5 1274h0M492.4 1265h0M493.2 1263.3h0M316.2 1255.1h0M317.1 1259.2h0M469.3 1276.9h0M469.8 1275h0M470 1274.4h0M474.1 1260.8h0M474.3 1260.2h0M474.7 1259h0M298.4 1261.3h0M299.4 1265.1h0M299.6 1265.8h0M482.9 1276.7h0M309.2 1241.6h0M312.6 1255.9h0M481.6 1277.5h0M482.3 1275.8h0M483 1274h0M486.5 1265.3h0M488.3 1261.3h0M491.3 1254.4h0M311.2 1253.2h0M312.6 1259.3h0M313.5 1263.3h0M313.6 1264h0M461.6 1275.3h0M462.2 1272.8h0M462.4 1272.1h0M463.6 1267.7h0M464.5 1264.5h0M465.6 1260.6h0M292.2 1265.1h0M475.5 1281.2h0M478 1274h0M307.6 1256.7h0M309.8 1265.4h0M281.1 1252.3h0M286.2 1265.5h0M454.6 1276.5h0M455 1274.5h0M456.1 1269.9h0M456.6 1268h0M460.8 1252.2h0M236.3 1267.5h0M232.9 1263.5h0M232.6 1263.1h0M232.3 1262.7h0M171.3 1229.3h0M160.4 1232.1h0M156.7 1233.9h0M147.8 1239.7h0M144.5 1242.6h0M143.2 1243.9h0M137.3 1250.5h0M133.5 1255.7h0M131.6 1258.6h0M130.6 1260.3h0M130.3 1260.8h0M129 1263h0M121.5 1279h0M121.1 1280h0M120.5 1281.6h0M119.2 1285.3h0M119 1285.8h0M613.3 1277.1h0M613.6 1275.9h0M615.3 1268.4h0M641.4 1285.2h0M632.5 1267.1h0M631 1264.6h0M630.7 1264.2h0M629.9 1263h0M548.7 1251.9h0M535.7 1263.9h0M535 1264.6h0M531.3 1268.6h0M530.6 1269.4h0M528 1272.4h0M355 1254.5h0M352.8 1246.8h0M147.5 1239.5h0M149.2 1251.3h0M150.4 1257.7h0M151.2 1262.2h0M152.5 1268.4h0M350.5 1261.4h0M350.2 1260.8h0M346.4 1250.5h0M149 1241.3h0M149.5 1250.4h0M149.9 1254.3h0M150.2 1257.5h0M151 1265.2h0M633 1280.1h0M630 1272.7h0M629.5 1271.8h0M624.3 1261.4h0M623.3 1259.7h0M618.5 1252.4h0M591.4 1230.5h0M510.7 1270.9h0M509.1 1272.8h0M503.4 1279.6h0M503.1 1280h0M502.2 1281.1h0M614 1286.9h0M616 1273.7h0M417.5 1265.1h0M417.2 1265.6h0M415.9 1269h0M415.7 1269.5h0M245.1 1253.6h0M142.7 1247.6h0M142.5 1248.1h0M140.4 1251.5h0M139.8 1252.4h0M136.4 1258.8h0M136 1259.7h0M130.5 1272.6h0M620.4 1271.6h0M620.5 1270.3h0M621.3 1262.4h0M621.5 1259.1h0M427.4 1254.1h0M424.7 1261.2h0M424.5 1261.7h0M422.9 1265.8h0M420.9 1270.9h0M259.1 1261.8h0M138.3 1246.6h0M134.5 1254.4h0M133.2 1257.4h0M132.4 1259.5h0M131.2 1262.7h0M130 1265.9h0M426.5 1261.7h0M422.9 1270.8h0M422.2 1272.5h0M264.2 1264.4h0M263.9 1263.9h0M140.7 1241.3h0M136.3 1250h0M135.4 1252h0M133.6 1256.1h0M133.4 1256.7h0M131.6 1261.4h0M131.1 1263.1h0M129.6 1267.4h0M125.8 1281h0M621.2 1271.2h0M621.3 1270.5h0M621.5 1268.6h0M621.5 1267.9h0M621.6 1267.3h0M621.9 1264h0M637.5 1286.4h0M637.4 1285.8h0M636.6 1280.3h0M635.9 1276.6h0M635.1 1272.4h0M491.3 1252.7h0M490 1254.6h0M489.7 1255.1h0M476.6 1276h0M474.3 1279.7h0M319.1 1245.9h0M138.1 1252h0M138.1 1252.7h0M138 1258.6h0M138 1261.3h0M138.3 1271.2h0M139 1284.2h0M316.8 1264.2h0M311.2 1253.8h0M143.4 1241h0M141.6 1252.8h0M140.9 1259.1h0M140.5 1262.9h0M139.9 1272.3h0M139.7 1275.4h0M627.6 1274.6h0M627.3 1272.8h0M627.3 1272.2h0M470.8 1254.6h0M467 1260.7h0M463 1267.1h0M460.2 1271.6h0M459.9 1272h0M459.1 1273.4h0M456.3 1277.8h0M455.2 1279.5h0M454.3 1280.8h0"/>
<path stroke="#ff8000" d="M562 1274.1h0M563.6 1271.2h0M564.4 1269.7h0M565.8 1267.2h0M567.1 1264.7h0M363.9 1256.9h0M363.7 1260.5h0M562.5 1273.2h0M552.5 1272.7h0M557.2 1264.5h0M558.4 1262.5h0M563.2 1254.1h0M357.8 1244.4h0M357.6 1254.6h0M201 1252.2h0M203.8 1257.1h0M209.5 1266.9h0M210.1 1267.9h0M171.4 1219.2h0M186 1250.9h0M187 1253h0M188.4 1255.6h0M190.5 1259.7h0M192.6 1263.8h0M194.4 1267.3h0M397.9 1262.5h0M397.8 1261.1h0M396.8 1247.5h0M395.5 1263.4h0M185.9 1257.8h0M186.7 1259.3h0M188 1261.9h0M191.1 1268h0M575.6 1277h0M580.9 1266.1h0M582.6 1262.4h0M583.6 1260.3h0M588.1 1250h0M374 1260.2h0M373.9 1260.9h0M625.6 1281.4h0M608.7 1277.7h0M603.9 1278h0M602.8 1278.1h0M602.5 1278.2h0M591.3 1281.3h0M587.8 1282.8h0M385.4 1262.7h0M385.1 1260.6h0M383.7 1251h0M161.2 1223.5h0M164.4 1233.2h0M164.6 1233.8h0M170.4 1250.1h0M171.1 1251.8h0M173.5 1258h0M178.3 1269.4h0M229.3 1257.4h0M233.7 1264.7h0M422.1 1263.6h0M422.2 1261.4h0M422.3 1260h0M505.6 1271.7h0M506.1 1270.6h0M511.7 1258.9h0M513.6 1255.2h0M515.2 1252h0M517.9 1246.7h0M326.2 1257.7h0M428.9 1272.2h0M430 1259.5h0M430.6 1253.8h0M243.9 1260.1h0M593.4 1267.7h0M598.1 1254.6h0M385.7 1258.1h0M385.2 1260.8h0M159.4 1268.8h0M508.7 1279.8h0M509.2 1278.8h0M512.2 1273.1h0M512.5 1272.6h0M516.7 1265h0M333.4 1257.8h0M507.7 1278.5h0M510.4 1273.3h0M510.7 1272.8h0M511.5 1271.2h0M512.4 1269.7h0M513.7 1267.1h0M525.9 1245.7h0M331.8 1253.8h0M333.1 1265.1h0M333.2 1265.8h0M388.6 1250.7h0M173.6 1268.1h0M171.1 1267.5h0M168.6 1267h0M160.1 1266.6h0M154.8 1267.2h0M133.4 1277.9h0M596.1 1264.5h0M599.1 1255.9h0M629.8 1276.7h0M626.4 1274.1h0M619.2 1269.8h0M616.5 1268.6h0M614.2 1267.7h0M612.8 1267.3h0M612.1 1267.1h0M607.6 1266.1h0M605.5 1265.8h0M601.9 1265.6h0M600.9 1265.6h0M598 1265.7h0M597.7 1265.8h0M595.5 1266h0M594.1 1266.2h0M593.7 1266.3h0M593.4 1266.4h0M592.6 1266.5h0M584.4 1268.9h0M581.9 1269.9h0M580.5 1270.6h0M575.2 1273.3h0M376.3 1259h0M375.5 1255h0M155.2 1223.5h0M158.4 1236.1h0M162.7 1250.7h0M168.4 1267.6h0M169.2 1269.9h0M169.4 1270.5h0M157.4 1227.1h0M163.3 1252.7h0M164.6 1257.5h0M165.2 1259.8h0M619.9 1272.6h0M619.6 1272.4h0M618 1271.4h0M614.8 1269.6h0M614.4 1269.4h0M611.8 1268.1h0M611.2 1267.9h0M610.8 1267.7h0M607.1 1266.4h0M605.8 1266h0M605.1 1265.9h0M604.4 1265.7h0M603 1265.4h0M602 1265.2h0M601.7 1265.2h0M600.6 1265h0M596.8 1264.7h0M595.4 1264.7h0M595 1264.7h0M584.1 1266.1h0M583.4 1266.3h0M580.5 1267.1h0M578.8 1267.7h0M577.3 1268.2h0M573.8 1269.7h0M563.4 1275.6h0M372.9 1252.6h0M487 1277.4h0M488 1275.1h0M489.7 1271.2h0M491.9 1266.1h0M493.4 1262.7h0M500.1 1248.8h0M316.1 1254.4h0M317.5 1261.3h0M471.4 1269.5h0M475.4 1257.1h0M476.2 1254.7h0M298.9 1263.2h0M485.4 1270.3h0M486.6 1267.5h0M489.1 1261.7h0M489.8 1260h0M492.1 1254.9h0M493.7 1251.5h0M313.8 1261.3h0M314 1261.9h0M484.6 1270h0M493.9 1248.7h0M310.7 1251.1h0M311.7 1255.2h0M312.7 1259.9h0M313 1261.3h0M313.2 1261.9h0M460.8 1278.5h0M462.1 1273.4h0M464.1 1265.7h0M465.4 1261.3h0M283.5 1240.4h0M478.5 1272.9h0M482.6 1262.2h0M482.8 1261.6h0M483.8 1259.3h0M485.2 1255.7h0M309 1262.1h0M309.4 1264h0M456.3 1269.3h0M456.9 1266.6h0M457.2 1265.3h0M413.4 1252h0M412.3 1255.9h0M236 1267.1h0M235.6 1266.7h0M231.2 1261.5h0M225.7 1255.5h0M221.5 1251.2h0M213 1243.9h0M167 1230.1h0M157.8 1233.3h0M155.2 1234.6h0M153.1 1235.9h0M145.1 1242h0M143.5 1243.6h0M141.6 1245.5h0M140 1247.2h0M139.1 1248.3h0M133.8 1255.2h0M129.3 1262.5h0M616.3 1263.9h0M617.7 1256.2h0M618.3 1252.9h0M640.2 1282.2h0M634.5 1270.6h0M631.8 1265.8h0M628.5 1261h0M626 1257.6h0M595.5 1236.9h0M547.6 1252.8h0M538.8 1260.8h0M533.6 1266.1h0M532.3 1267.5h0M356.7 1260.2h0M355.8 1257h0M146.6 1232.8h0M146.7 1233.5h0M147.2 1237.5h0M147.3 1238.2h0M148.2 1244.8h0M148.6 1247.4h0M151.1 1261.5h0M151.5 1263.4h0M151.7 1264.7h0M148.6 1227.4h0M148.8 1237.3h0M151.6 1269.6h0M636.1 1289.3h0M635.8 1288.2h0M633.5 1281.6h0M629.8 1272.3h0M628.7 1269.9h0M626 1264.4h0M624.8 1262.2h0M623.5 1260.1h0M621 1256h0M616.9 1250.2h0M522.5 1257.8h0M520.8 1259.5h0M515.8 1264.9h0M512.6 1268.6h0M511.6 1269.8h0M507.5 1274.7h0M506.2 1276.2h0M504.7 1278.1h0M616.4 1270.5h0M616.5 1269.9h0M616.8 1267.3h0M617 1266h0M422.9 1250.5h0M421.6 1254.1h0M419.9 1258.8h0M419.6 1259.3h0M417.7 1264.5h0M416.1 1268.4h0M254.7 1265h0M253.7 1263.8h0M251.4 1261h0M250.1 1259.4h0M249.5 1258.6h0M248.8 1257.9h0M247.5 1256.3h0M246.5 1255.1h0M232.2 1240.3h0M168.9 1223.4h0M161.6 1227.5h0M145.5 1243.6h0M140.1 1251.9h0M138.6 1254.6h0M138.1 1255.5h0M137.9 1256h0M137.4 1256.9h0M620.4 1270.9h0M620.7 1269h0M429.4 1248.6h0M428.1 1252.3h0M425.6 1258.8h0M423.6 1264.1h0M422.5 1266.9h0M422 1268.1h0M421.4 1269.8h0M258.8 1261.4h0M256.9 1258.8h0M255.9 1257.5h0M254.9 1256.2h0M150.6 1228.5h0M150.3 1228.9h0M145.7 1234.7h0M142 1240.2h0M133.6 1256.4h0M430.6 1251.1h0M428.8 1255.9h0M427.7 1258.8h0M427 1260.6h0M263.3 1263h0M262.9 1262.6h0M261.1 1259.9h0M258.5 1256.4h0M254.9 1251.6h0M148.3 1229.7h0M145 1234.2h0M138.2 1246.1h0M136 1250.5h0M134.9 1253h0M134.3 1254.6h0M130.9 1263.6h0M621.4 1269.2h0M621.7 1266.6h0M622.2 1259.4h0M635.8 1276h0M634.3 1268.2h0M634 1267h0M486.1 1260.8h0M482.8 1266.1h0M479.5 1271.3h0M475.2 1278.3h0M327.3 1264.8h0M326.3 1262.5h0M326 1262h0M324.1 1257.5h0M140.4 1222.6h0M139.3 1231.9h0M139 1235.3h0M138.2 1248h0M138 1256h0M138.1 1263.9h0M316.5 1263.7h0M316.3 1263.2h0M316 1262.7h0M315.7 1262.2h0M314.9 1260.7h0M314.1 1259.3h0M140.8 1260.3h0M139.6 1276.7h0M626.8 1269.2h0M626.4 1266.7h0M471.4 1253.7h0M468.2 1258.8h0M465.6 1263h0M465.3 1263.4h0M462.5 1268h0M461.9 1268.9h0M459.4 1272.9h0M454.9 1279.9h0"/>
<path stroke="#ffaa00" d="M563.3 1271.7h0M565.2 1268.2h0M566 1266.7h0M567.9 1263.2h0M568.5 1262.2h0M569.8 1259.7h0M573.9 1252.1h0M579.7 1240.6h0M364.2 1251.9h0M364 1256.2h0M553.9 1270.3h0M555.8 1266.9h0M563.7 1253.1h0M564 1252.6h0M357.6 1255.4h0M357.5 1256.1h0M199 1248.7h0M205.3 1259.6h0M207 1262.5h0M207.5 1263.5h0M210.4 1268.4h0M187.8 1254.6h0M397.5 1256.9h0M397.3 1255.4h0M394.9 1257h0M394.7 1254.9h0M184.7 1255.1h0M187 1259.8h0M188.8 1263.5h0M189.6 1265h0M190.3 1266.5h0M582.4 1263h0M585.7 1255.5h0M590 1245.6h0M374.4 1256.7h0M384.6 1257.2h0M383.4 1248.8h0M381.1 1231.5h0M159.7 1218.6h0M162.4 1227.2h0M162.6 1227.8h0M163 1229h0M174.7 1260.7h0M175.8 1263.5h0M176.3 1264.6h0M177.4 1267.3h0M230.5 1259.3h0M231.1 1260.3h0M231.6 1261.3h0M234 1265.2h0M235.1 1267.2h0M235.7 1268.2h0M421.9 1268.5h0M422.5 1255.7h0M223.6 1248h0M514.9 1252.5h0M326 1255.6h0M326.1 1257h0M326.3 1258.4h0M326.5 1259.8h0M326.7 1261.9h0M429.1 1269.4h0M429.8 1260.9h0M430.5 1254.5h0M431.1 1249.5h0M235.9 1246.5h0M239.2 1252h0M241.3 1255.6h0M244.2 1260.6h0M594.2 1265.5h0M595.9 1260.9h0M596.3 1259.8h0M387.9 1245.8h0M385.4 1259.5h0M384.9 1262.1h0M173.2 1270.6h0M157.6 1268.9h0M523.6 1252.8h0M524.5 1251.3h0M333.4 1257h0M333.7 1260.6h0M334 1263.4h0M514.6 1265.6h0M516.6 1262h0M517.1 1261h0M519.7 1256.4h0M331.4 1250.2h0M331.6 1251.6h0M332.1 1255.9h0M390.6 1239.6h0M388 1254.2h0M387.5 1256.9h0M386.8 1260.2h0M386.7 1260.9h0M386.4 1262.2h0M136.8 1275.2h0M592.6 1274.1h0M596.7 1262.8h0M598.9 1256.4h0M600.6 1251.1h0M629.2 1276.2h0M628.9 1276h0M625.7 1273.6h0M624.1 1272.5h0M618.9 1269.6h0M616.2 1268.5h0M613.1 1267.4h0M610.7 1266.7h0M605.1 1265.8h0M604.8 1265.8h0M602.3 1265.6h0M594.4 1266.2h0M588 1267.7h0M577.3 1272.2h0M376.4 1259.7h0M376 1257.7h0M375.6 1255.7h0M375.4 1254.3h0M154.2 1219h0M157.4 1232.4h0M159.1 1238.6h0M161.6 1247.2h0M155.8 1218h0M156.1 1220h0M156.6 1222.6h0M158.2 1231h0M159 1234.8h0M162.5 1249.6h0M163.6 1253.9h0M164.2 1256.3h0M164.9 1258.7h0M623.9 1275.7h0M613.5 1268.9h0M608.8 1267h0M606.8 1266.3h0M598.2 1264.8h0M592.6 1264.7h0M592.2 1264.8h0M591.5 1264.8h0M591.1 1264.9h0M590.8 1264.9h0M590.4 1264.9h0M589.7 1265h0M589 1265.1h0M585.8 1265.7h0M584.8 1265.9h0M573.1 1270.1h0M564.8 1274.7h0M563.1 1275.8h0M373.3 1254.6h0M372.7 1252h0M487.5 1276.3h0M491.2 1267.8h0M495.5 1258.3h0M315.2 1250.3h0M473.4 1263.3h0M476.6 1253.4h0M483.5 1234.4h0M285.2 1220.4h0M295.1 1249.8h0M295.3 1250.4h0M296.8 1255.5h0M297.7 1258.7h0M299.1 1263.8h0M490.4 1258.9h0M490.9 1257.7h0M491.6 1256h0M492.4 1254.3h0M311.4 1250.4h0M312.3 1254.5h0M480.7 1279.8h0M483.5 1272.9h0M486.3 1265.9h0M488 1261.9h0M497.2 1241.9h0M497.7 1240.7h0M310.4 1249.8h0M311 1252.5h0M312.4 1258.6h0M461.3 1276.6h0M467.9 1253h0M469.1 1249.1h0M290.8 1260.8h0M292.4 1265.7h0M477.2 1276.4h0M478.9 1271.7h0M481 1266.3h0M481.6 1264.6h0M485 1256.3h0M486 1254h0M486.2 1253.4h0M486.5 1252.8h0M487 1251.6h0M305 1246.7h0M307.5 1256.1h0M309.3 1263.4h0M309.6 1264.7h0M281.8 1254.1h0M282.1 1254.7h0M282.5 1255.9h0M282.8 1256.5h0M283.7 1258.9h0M283.9 1259.5h0M286 1264.9h0M286.9 1267.3h0M455.6 1271.9h0M459.1 1258.1h0M411.6 1258.5h0M410.5 1262.4h0M229.9 1260h0M227.1 1257h0M222.5 1252.3h0M220.4 1250.2h0M218.6 1248.6h0M163.5 1231h0M162 1231.6h0M161.6 1231.7h0M157.4 1233.5h0M152 1236.6h0M150.9 1237.3h0M142.5 1244.5h0M133 1256.5h0M612.7 1279.6h0M615.6 1267.1h0M618.5 1251.6h0M637.1 1275.6h0M632.8 1267.5h0M631.2 1265h0M626.3 1258h0M623.4 1254.4h0M610.4 1243.1h0M595.1 1236.8h0M583.2 1236.1h0M552.3 1249.1h0M542.6 1257.1h0M541.9 1257.8h0M537.4 1262.2h0M536.7 1262.9h0M534.6 1265h0M357.2 1262h0M354.5 1252.6h0M145.7 1223.4h0M145.9 1225.4h0M146.4 1230.8h0M147 1236.2h0M150.6 1259h0M152.9 1270.3h0M348.3 1255.7h0M347.9 1254.5h0M148.6 1226.7h0M148.6 1228h0M148.9 1240.6h0M149.2 1245.2h0M631.6 1276.6h0M620.7 1255.6h0M534.6 1246.3h0M528.3 1252h0M526.9 1253.3h0M526.5 1253.6h0M525.5 1254.7h0M523.8 1256.4h0M523.1 1257.1h0M521.8 1258.5h0M519.5 1260.9h0M508.4 1273.5h0M616.1 1273.1h0M616.6 1269.2h0M617.2 1263.4h0M617.4 1262.2h0M617.7 1258.9h0M617.7 1258.3h0M617.8 1257.6h0M618.7 1245.1h0M419.4 1259.9h0M418.3 1262.8h0M417 1266.2h0M254.3 1264.6h0M254 1264.2h0M251.8 1261.4h0M250.5 1259.8h0M248.1 1257.1h0M245.5 1254h0M171.5 1222.2h0M164.4 1225.7h0M164.1 1225.9h0M162.6 1226.8h0M159.1 1229.3h0M156.4 1231.6h0M154.7 1233.1h0M140.6 1251.1h0M619.9 1275.4h0M621 1265.1h0M621.6 1258.5h0M621.9 1253.8h0M428.3 1251.7h0M426.9 1255.3h0M425.4 1259.4h0M424.1 1262.9h0M422.7 1266.4h0M262 1265.8h0M261.7 1265.3h0M261.3 1264.9h0M253 1253.6h0M245.9 1244.8h0M244.5 1243.2h0M162.3 1218h0M161.6 1218.5h0M158 1221.3h0M152.5 1226.4h0M149.9 1229.2h0M144.8 1235.9h0M141.2 1241.5h0M132.2 1260h0M129.3 1268h0M432.7 1245.7h0M430.8 1250.5h0M429.9 1252.9h0M428.1 1257.6h0M425.2 1265.2h0M424.5 1266.9h0M423.6 1269.1h0M265.1 1265.7h0M262.3 1261.7h0M262 1261.3h0M257.2 1254.6h0M160.3 1217.4h0M157.5 1219.8h0M155.7 1221.4h0M146.8 1231.7h0M145.9 1232.9h0M143.1 1237.2h0M138.9 1244.6h0M618.9 1289.7h0M621.8 1265.3h0M622 1262.7h0M622.1 1260.7h0M622.7 1249.4h0M622.7 1248.7h0M622.8 1246.7h0M633.7 1265.8h0M632 1258.7h0M630.5 1253.5h0M504.6 1233.4h0M489.4 1255.5h0M488.5 1257h0M484.9 1262.7h0M484.3 1263.7h0M482.2 1267h0M481.3 1268.5h0M476.1 1276.9h0M326.8 1263.7h0M323.6 1256.3h0M321.9 1252.3h0M321.6 1251.8h0M320.1 1248.3h0M315.8 1238.2h0M141 1217.9h0M139.1 1233.9h0M138 1260.6h0M317.6 1265.6h0M312 1255.3h0M310.6 1252.8h0M308.1 1248.2h0M148.8 1218.7h0M148.6 1219.3h0M145.7 1230.1h0M144.9 1233.7h0M143.5 1240.4h0M143.2 1242.3h0M142.4 1247.2h0M141.2 1256.6h0M141.1 1257.2h0M625.8 1263.2h0M623.8 1253.7h0M623.5 1252.5h0M471.7 1253.2h0M470.5 1255.1h0M470.2 1255.6h0M469.1 1257.4h0M464.7 1264.4h0M463.9 1265.7h0M459.7 1272.5h0M456.8 1276.9h0"/>
<path stroke="#ffd400" d="M564.1 1270.2h0M566.9 1265.2h0M570.6 1258.2h0M579.4 1241.1h0M364.2 1253.3h0M363.9 1257.6h0M555.6 1267.4h0M558.9 1261.5h0M559.2 1261h0M561.2 1257.6h0M565.4 1250.1h0M579.7 1223.8h0M357.8 1235.4h0M357.6 1253.2h0M357.5 1256.8h0M407.5 1263.5h0M407.4 1261.4h0M407.3 1254.9h0M407.2 1254.2h0M407.2 1251.3h0M407.2 1250.6h0M407.1 1235.8h0M201.6 1253.2h0M203.3 1256.2h0M205.8 1260.6h0M171.1 1218.7h0M183.2 1245.1h0M187.6 1254h0M189.9 1258.7h0M397.7 1260.4h0M395.5 1262.7h0M168.3 1218.1h0M170.9 1224.4h0M177.7 1240.1h0M184.4 1254.6h0M582.8 1261.9h0M585.3 1256.5h0M587.6 1251.1h0M590.2 1245h0M598.3 1224.3h0M376.2 1240.3h0M375.2 1249.6h0M375 1251.1h0M374.1 1258.8h0M373.8 1261.6h0M604.6 1277.9h0M384.8 1258.6h0M384.7 1257.9h0M384.4 1255.8h0M383.6 1250.3h0M173.1 1256.9h0M174.9 1261.3h0M178.1 1268.9h0M230.2 1258.8h0M422.6 1254.2h0M422.7 1253.5h0M422.8 1251.3h0M219.1 1240.6h0M221.5 1244.5h0M222.7 1246.5h0M224.8 1249.9h0M226 1251.9h0M229 1256.8h0M229.6 1257.8h0M513.3 1255.7h0M516.8 1248.8h0M521.8 1239.3h0M324 1240.9h0M325.1 1248.6h0M325.5 1252.1h0M325.9 1254.9h0M326.5 1260.5h0M326.8 1263.2h0M430.3 1256.7h0M430.3 1255.9h0M219.8 1220.4h0M233.2 1242h0M238 1250h0M239.5 1252.5h0M239.8 1253.1h0M240.4 1254.1h0M597.3 1256.9h0M598.5 1253.4h0M602.3 1241.5h0M386.4 1254h0M385.8 1257.4h0M384.8 1262.8h0M519.6 1259.9h0M520.7 1257.9h0M521.6 1256.3h0M525.1 1250.3h0M529 1243.7h0M332.7 1251.3h0M332.9 1252.8h0M333.3 1256.3h0M512.9 1268.7h0M518.3 1259h0M521.8 1252.8h0M525.3 1246.8h0M330.4 1243h0M331.8 1253.1h0M332.4 1258.8h0M388.5 1251.4h0M387.7 1255.5h0M387.2 1258.2h0M387 1259.5h0M172.2 1267.7h0M594.9 1268h0M595.5 1266.3h0M597.5 1260.5h0M598.1 1258.8h0M598.5 1257.6h0M600.1 1252.9h0M630.1 1277h0M620.2 1270.3h0M617.2 1268.9h0M616.9 1268.7h0M606.5 1266h0M595.2 1266.1h0M591.6 1266.7h0M589.4 1267.3h0M583 1269.5h0M375.1 1253h0M374.7 1250.9h0M374.6 1250.2h0M373.7 1245.4h0M156 1226.7h0M162 1248.4h0M161 1243.5h0M606.1 1266.1h0M598.9 1264.8h0M591.9 1264.8h0M587.3 1265.4h0M582.3 1266.6h0M576.6 1268.5h0M374.9 1260.9h0M372.3 1250h0M367.5 1227.8h0M490.7 1268.9h0M495.3 1258.8h0M496.6 1256h0M497.1 1254.9h0M498.7 1251.6h0M310.4 1230.2h0M315.4 1251h0M315.5 1251.7h0M316.4 1255.8h0M316.5 1256.5h0M317.3 1260.6h0M318.5 1266.7h0M471.1 1270.7h0M471.8 1268.2h0M472.4 1266.4h0M474.9 1258.4h0M295.8 1252.4h0M296.6 1254.9h0M297.3 1257.5h0M298.2 1260.7h0M298.6 1261.9h0M487.6 1265.2h0M489.3 1261.2h0M491.9 1255.4h0M499.4 1239.6h0M500.6 1237.3h0M310.2 1245.7h0M313.7 1260.6h0M314.7 1265.3h0M482.5 1275.2h0M485.3 1268.2h0M486.8 1264.8h0M491 1255h0M493.1 1250.4h0M310.9 1251.8h0M312.1 1257.2h0M466.1 1258.7h0M467.5 1254.2h0M472.6 1238.3h0M286 1247.2h0M287.6 1251.5h0M287.8 1252.1h0M288.5 1254h0M478.7 1272.3h0M484 1258.7h0M485.7 1254.6h0M487.5 1250.5h0M490.3 1244h0M491.1 1242.3h0M306.4 1252.1h0M306.8 1253.4h0M307.3 1255.4h0M308.3 1259.4h0M308.5 1260.1h0M278.4 1245.7h0M281.6 1253.5h0M283 1257.1h0M285.3 1263.1h0M458.3 1261.4h0M458.4 1260.7h0M460.6 1252.8h0M461.1 1250.9h0M465.1 1237.7h0M417.1 1238.6h0M414 1250h0M413.8 1250.7h0M412.9 1254h0M412.5 1255.3h0M201.2 1235.9h0M171.7 1229.3h0M163.1 1231.2h0M616.8 1261.4h0M616.9 1260.7h0M617.9 1255.6h0M636.4 1274.2h0M633.8 1269.3h0M626.9 1258.7h0M625.4 1256.9h0M622.1 1253.1h0M621.8 1252.7h0M619 1249.9h0M609.4 1242.4h0M585.9 1236h0M570.8 1238.9h0M566.2 1240.8h0M560.1 1243.9h0M549.7 1251h0M549 1251.6h0M540.8 1258.8h0M357 1261.4h0M355.9 1257.7h0M351.5 1242.2h0M145.2 1217.9h0M145.4 1220.6h0M145.8 1224.7h0M349.2 1258h0M349 1257.4h0M148.6 1222h0M148.6 1225.4h0M621.7 1257.2h0M530.3 1250h0M524.5 1255.7h0M521.5 1258.8h0M519.8 1260.6h0M519.1 1261.3h0M518.8 1261.7h0M511 1270.5h0M617.9 1257h0M618.2 1253h0M423.8 1248.1h0M421.2 1255.3h0M253.1 1263h0M247.1 1255.9h0M244.5 1252.8h0M243.8 1252.1h0M241.4 1249.4h0M241 1249.1h0M229.7 1238h0M195.3 1219.9h0M160.9 1228h0M620.9 1267h0M620.9 1266.4h0M621.5 1259.8h0M621.9 1254.5h0M622.1 1249.8h0M427.2 1254.7h0M426.3 1257h0M426.1 1257.6h0M425.8 1258.2h0M424.3 1262.3h0M262.6 1266.7h0M259.8 1262.7h0M259.4 1262.3h0M258.2 1260.5h0M255.3 1256.6h0M254.3 1255.3h0M250.6 1250.6h0M250.3 1250.2h0M233 1231.2h0M227.4 1226.2h0M164.9 1216.4h0M164.6 1216.6h0M152.9 1226h0M145.1 1235.5h0M135.9 1251.4h0M134.3 1254.9h0M134.1 1255.4h0M130.6 1264.3h0M429.7 1253.5h0M429.5 1254.1h0M429.3 1254.7h0M427.2 1260h0M424 1268h0M259.8 1258.2h0M259.1 1257.3h0M252.9 1249h0M251.9 1247.7h0M250.9 1246.5h0M163.6 1215h0M158.2 1219.2h0M154.7 1222.4h0M143.3 1236.8h0M622.3 1258.1h0M622.6 1252.1h0M622.6 1251.4h0M634.1 1267.6h0M631.8 1258.1h0M631.5 1256.9h0M630 1251.8h0M627.3 1243.9h0M515.2 1220.3h0M495.7 1246h0M494.7 1247.4h0M491 1253.2h0M489.1 1256h0M487 1259.4h0M479.8 1270.8h0M479 1272.2h0M323.8 1256.9h0M322.6 1254.1h0M141.2 1217.3h0M138.1 1255.3h0M313.9 1258.8h0M313 1257.3h0M309.8 1251.3h0M304.8 1242.1h0M303.7 1240h0M297 1228.1h0M295.5 1225.5h0M628.2 1279.5h0M625.4 1261.4h0M625.1 1259.6h0M624.5 1256.6h0M624.1 1254.9h0M622.2 1247.3h0M483.6 1234.9h0M478.3 1242.9h0M471.1 1254.2h0M468.8 1257.9h0M465 1263.9h0"/>
<path stroke="#ffff00" d="M568.7 1261.7h0M570.9 1257.7h0M571.2 1257.2h0M572.5 1254.6h0M572.8 1254.1h0M582 1235.8h0M365 1235h0M365 1235.7h0M364.7 1242.4h0M364.6 1246.1h0M364.1 1254.1h0M554.1 1269.8h0M560.6 1258.6h0M561.5 1257.1h0M565.1 1250.6h0M566.8 1247.6h0M581 1221.2h0M357.6 1217.9h0M357.6 1253.9h0M407.1 1240.3h0M195.1 1241.6h0M195.4 1242.1h0M200.2 1250.7h0M200.4 1251.2h0M201.3 1252.7h0M203 1255.7h0M177.3 1232.7h0M182.6 1244h0M185.2 1249.3h0M185.5 1249.9h0M188.1 1255.1h0M191.2 1261.2h0M397.2 1254h0M396.9 1249.7h0M396.8 1248.2h0M396.6 1245.3h0M395.4 1262h0M394.2 1249.2h0M393.4 1238.2h0M392.8 1228.5h0M175.2 1234.6h0M175.7 1235.7h0M176.7 1237.9h0M180.6 1246.6h0M583.1 1261.4h0M586.7 1253.3h0M587.9 1250.5h0M589.7 1246.1h0M384.3 1255.1h0M384.1 1253.8h0M381.9 1238.1h0M159.1 1216.7h0M174.4 1260.2h0M422.4 1258.6h0M422.5 1256.4h0M425.1 1226.1h0M425.5 1222.4h0M218.5 1239.6h0M220.6 1243h0M222.1 1245.5h0M227.8 1254.8h0M228.4 1255.8h0M511.2 1260h0M512.3 1257.8h0M512.5 1257.3h0M513.1 1256.2h0M521 1240.9h0M321.9 1228.1h0M323.2 1235.9h0M430.4 1255.2h0M224.2 1227.4h0M227.7 1232.9h0M236.8 1248h0M238.6 1251h0M238.9 1251.5h0M241.9 1256.6h0M242.4 1257.6h0M593.6 1267.2h0M596.1 1260.4h0M598.3 1254h0M604.1 1235.4h0M604.6 1233.6h0M387.4 1248.5h0M386.2 1255.4h0M517.8 1262.9h0M519.9 1259.4h0M526.3 1248.3h0M331.6 1242.6h0M333.9 1262.7h0M516.9 1261.5h0M519.4 1256.9h0M522.4 1251.8h0M526.8 1244.2h0M527.1 1243.7h0M529.9 1239.2h0M535.1 1230.6h0M538.9 1224.6h0M327.6 1224.7h0M331.7 1252.3h0M390 1243.1h0M388.3 1252.8h0M388.1 1253.5h0M600.8 1250.6h0M601 1250h0M605.3 1235.4h0M615.2 1268.1h0M609.3 1266.4h0M375 1252.3h0M157.9 1234.3h0M164 1254.9h0M155.4 1215.4h0M157 1224.5h0M158.1 1230.3h0M159.3 1236h0M605.4 1265.9h0M374.1 1257.8h0M369.8 1238.7h0M494.7 1259.9h0M498.4 1252.1h0M500.4 1248.3h0M500.6 1247.7h0M502 1244.9h0M504.9 1239.4h0M506.9 1235.6h0M508.1 1233.4h0M311.8 1235.7h0M316.8 1257.8h0M471.3 1270.1h0M475.6 1256.5h0M475.8 1255.9h0M477 1252.2h0M477.7 1250.4h0M479.9 1244.2h0M485.7 1228.8h0M291.4 1238.3h0M295.7 1251.7h0M296 1253h0M493.2 1252.6h0M507.6 1224h0M509.7 1220.1h0M302.5 1218.3h0M311.5 1251.1h0M312.9 1257.2h0M313.3 1258.6h0M313.5 1259.9h0M483.2 1273.4h0M490 1257.3h0M490.3 1256.7h0M496.6 1243h0M309.4 1245.7h0M466 1259.4h0M471.1 1242.7h0M471.5 1241.5h0M474 1234.4h0M281.8 1236.1h0M285.1 1244.7h0M486.7 1252.2h0M494.6 1234.7h0M305.2 1247.4h0M307.8 1257.4h0M284.2 1260.1h0M460.2 1254.2h0M461.7 1248.9h0M461.9 1248.2h0M463.7 1242.3h0M464.3 1240.3h0M469.5 1224.6h0M416.5 1240.6h0M413.2 1252.6h0M227.5 1257.4h0M224.7 1254.4h0M224.3 1254.1h0M222.2 1251.9h0M220.7 1250.6h0M217.1 1247.3h0M215.3 1245.7h0M210 1241.6h0M207.4 1239.7h0M202.4 1236.6h0M617.6 1256.9h0M618.7 1250.3h0M622.8 1253.7h0M622.5 1253.4h0M619.4 1250.2h0M614.1 1245.7h0M599.3 1237.9h0M596.3 1237h0M580.5 1236.5h0M568.5 1239.8h0M565.4 1241.1h0M563.5 1242.1h0M551.2 1249.9h0M550.5 1250.5h0M543.7 1256.2h0M540.1 1259.4h0M354.3 1251.9h0M354.1 1251.3h0M352.4 1245.5h0M349.7 1235.5h0M146.1 1228.1h0M147.7 1241.5h0M349.6 1259.1h0M348.7 1256.8h0M148.7 1218.7h0M148.7 1233.4h0M628.9 1270.4h0M624.5 1261.8h0M622.5 1258.4h0M618 1251.7h0M617.1 1250.6h0M611.5 1244h0M554.2 1233.3h0M544 1239.2h0M537.4 1244h0M536.4 1244.8h0M530 1250.4h0M527.9 1252.3h0M526.2 1254h0M520.5 1259.9h0M618 1255h0M618.2 1252.4h0M618.9 1239.1h0M430.9 1228.3h0M427.5 1237.7h0M425.1 1244.5h0M421 1255.8h0M419.2 1260.5h0M246.8 1255.5h0M245.8 1254.3h0M243.4 1251.7h0M238.3 1246.1h0M236.2 1244h0M235.8 1243.7h0M215.7 1227.8h0M190.5 1219.3h0M185.6 1219.2h0M165.5 1225.1h0M621.4 1261.1h0M622.2 1249.2h0M622.4 1242.5h0M434.9 1233.7h0M431.9 1241.9h0M428.5 1251h0M257.2 1259.2h0M254 1254.9h0M252 1252.3h0M251.6 1251.9h0M251.3 1251.5h0M235.2 1233.3h0M221.9 1222h0M217.5 1219.1h0M163.8 1217.1h0M154.9 1224.1h0M143.4 1238h0M434.1 1242h0M430.2 1252.3h0M259.5 1257.7h0M257.8 1255.5h0M251.6 1247.3h0M240.1 1234h0M223.8 1219.5h0M139.4 1243.7h0M622.5 1254.1h0M622.7 1250.1h0M622.8 1244h0M622.9 1239.3h0M629.8 1251.2h0M629.4 1250.1h0M628.7 1247.8h0M625.2 1238.5h0M496.7 1244.6h0M490.4 1254.1h0M488.8 1256.5h0M325.1 1259.7h0M322.1 1252.9h0M317.6 1242.4h0M317.1 1241.2h0M139.7 1227.9h0M314.4 1259.8h0M310.3 1252.3h0M309.5 1250.8h0M307.6 1247.2h0M307.3 1246.7h0M298.2 1230.2h0M149.7 1215.8h0M144.1 1237.4h0M622.7 1249h0M475.9 1246.6h0M474.4 1249h0M469.6 1256.5h0M469.4 1257h0M467.3 1260.2h0"/>
<path stroke="#d4ff00" d="M572 1255.6h0M575.4 1249h0M583.3 1233.1h0M586.4 1226.5h0M589 1221h0M365.4 1222.8h0M364.7 1243.1h0M564.3 1252.1h0M564.9 1251.1h0M569.1 1243.6h0M571.9 1238.5h0M574.1 1234.3h0M576.6 1229.6h0M578.8 1225.4h0M580.2 1222.8h0M357.7 1250.3h0M357.7 1251h0M407.5 1262.8h0M407.3 1257.8h0M407.2 1249.9h0M407.1 1243.2h0M407.1 1242.5h0M185.3 1223.5h0M185.5 1224h0M185.8 1224.5h0M186.7 1226.1h0M198.8 1248.2h0M202.7 1255.2h0M174.3 1226h0M179.1 1236.5h0M182.1 1243h0M182.4 1243.5h0M183.4 1245.6h0M189.4 1257.7h0M396.7 1246.1h0M394.6 1253.5h0M393.2 1235.3h0M184.2 1254.1h0M586.2 1254.4h0M589.3 1247.2h0M592.7 1238.8h0M374.3 1257.4h0M384 1253.1h0M383.2 1247.4h0M380.5 1226.3h0M422.2 1260.7h0M422.9 1250.6h0M423.6 1241.1h0M214.2 1232.7h0M221.2 1244h0M226.3 1252.4h0M517.1 1248.3h0M527.6 1228.8h0M528.5 1227.2h0M323.5 1238h0M324.3 1243h0M431.8 1243.7h0M432.8 1236.4h0M434.5 1225.3h0M235.3 1245.5h0M599.5 1250.5h0M516.4 1265.5h0M521 1257.4h0M526.9 1247.3h0M528.7 1244.2h0M536.7 1231.2h0M544.3 1219.1h0M523 1250.8h0M531.4 1236.6h0M533.6 1233.1h0M536.4 1228.6h0M539.2 1224.1h0M329.8 1238.6h0M391.3 1235.3h0M375.8 1256.4h0M374.8 1251.6h0M374.3 1248.9h0M374 1246.8h0M156.7 1223.2h0M374.3 1258.4h0M373.8 1256.5h0M371.9 1248.1h0M368.9 1234.7h0M367.2 1226.4h0M366.7 1224.3h0M366.6 1223.6h0M497.4 1254.4h0M497.9 1253.3h0M504.3 1240.5h0M512 1226.3h0M310.6 1230.9h0M312.5 1238.5h0M476 1255.3h0M480.3 1243h0M484.3 1232.5h0M486 1228.2h0M492.7 1253.7h0M495.6 1247.5h0M496.7 1245.2h0M497.5 1243.5h0M309 1240.9h0M491.8 1253.3h0M492.1 1252.7h0M506.1 1224.5h0M302.8 1222.5h0M307.4 1238.2h0M467.1 1255.5h0M467.7 1253.6h0M472.4 1238.9h0M474.9 1231.9h0M476 1228.7h0M277 1224.5h0M281.3 1234.9h0M286.7 1249h0M496.9 1230.1h0M300.2 1230.7h0M302.7 1238.7h0M306.6 1252.7h0M270.7 1228.6h0M272.9 1233.3h0M280.8 1251.7h0M463.1 1244.3h0M465.8 1235.7h0M467.7 1229.8h0M421.2 1223.2h0M416.9 1239.2h0M414.7 1247.3h0M412.7 1254.6h0M225.4 1255.1h0M194.1 1232.6h0M186.9 1230.3h0M163.9 1230.9h0M621.3 1231.5h0M628.3 1260.6h0M627.7 1259.8h0M625.1 1256.5h0M620.6 1251.4h0M615.8 1247h0M609 1242.2h0M604.7 1240h0M574.3 1237.8h0M568.9 1239.6h0M557.5 1245.5h0M550.1 1250.7h0M545.8 1254.3h0M355.4 1255.8h0M355.2 1255.1h0M350.2 1237.5h0M348 1229.4h0M347.8 1228.7h0M145.3 1218.6h0M348.5 1256.3h0M346.6 1251.1h0M345.1 1246.9h0M341 1235.5h0M337.2 1224.9h0M614.8 1247.7h0M609 1241.6h0M608.1 1240.7h0M600 1234.7h0M585.5 1228.8h0M580.9 1228.1h0M580.5 1228.1h0M572.4 1228.1h0M555.3 1232.8h0M553.8 1233.5h0M553.4 1233.7h0M551.1 1234.9h0M518.1 1262.4h0M515.5 1265.3h0M423.6 1248.7h0M423.1 1249.9h0M422.3 1252.3h0M244.8 1253.2h0M244.1 1252.4h0M234.4 1242.3h0M231.9 1239.9h0M230.4 1238.6h0M227.8 1236.4h0M226 1234.9h0M224.1 1233.5h0M220.3 1230.7h0M207.4 1223.5h0M204.6 1222.4h0M171.9 1222.1h0M150.9 1237h0M622.3 1246.5h0M622.5 1230.9h0M439.6 1220.9h0M436 1230.5h0M427.6 1253.5h0M237.4 1235.5h0M222.7 1222.6h0M216.7 1218.6h0M215.1 1217.6h0M166.1 1215.7h0M152.2 1226.7h0M151.2 1227.8h0M441.4 1222.5h0M440.4 1225.1h0M245.1 1239.5h0M239.7 1233.6h0M237.9 1231.7h0M236.8 1230.6h0M234.2 1228.1h0M230.8 1225.1h0M230 1224.4h0M227.3 1222.2h0M161.8 1216.3h0M622.6 1252.7h0M622.7 1248.1h0M622.8 1246h0M622.8 1232.5h0M632.6 1261h0M630.7 1254.1h0M629.1 1248.9h0M622.9 1233.2h0M511.6 1224.5h0M503.9 1234.3h0M503.2 1235.2h0M501.9 1237.1h0M482.5 1266.6h0M322.9 1254.6h0M321.1 1250.6h0M316.9 1240.6h0M314.6 1235.3h0M314.3 1234.7h0M306.2 1216.4h0M312.8 1256.8h0M303.4 1239.5h0M297.6 1229.1h0M149.5 1216.4h0M149.1 1217.6h0M148.4 1219.9h0M624.2 1255.4h0M623.4 1251.9h0M621.6 1245h0M619.4 1237.7h0M618.2 1234.3h0M489.1 1227h0M486.8 1230.2h0M475.6 1247.1h0M468.5 1258.4h0"/>
<path stroke="#aaff00" d="M582.8 1234.2h0M365.4 1218.2h0M569.6 1242.6h0M571.6 1239h0M574.9 1232.8h0M576.3 1230.2h0M578 1227h0M581.3 1220.6h0M581.9 1219.6h0M357.7 1221.7h0M357.8 1234.7h0M357.6 1252.5h0M407.1 1246.9h0M407.1 1236.5h0M407.3 1224.4h0M190.9 1233.9h0M191.4 1235h0M201.9 1253.7h0M180.1 1238.7h0M186.3 1251.4h0M395.5 1222.9h0M393.4 1239h0M393.3 1236.8h0M392.6 1224.7h0M392.2 1216.3h0M174.5 1232.9h0M182.6 1250.9h0M377.2 1229.9h0M375.8 1243.9h0M383.9 1252.4h0M382.9 1245.3h0M382.4 1241.7h0M381.9 1237.4h0M381 1230.8h0M216 1235.6h0M220 1242h0M223 1247h0M225.4 1250.9h0M520.2 1242.5h0M524.7 1234h0M527 1229.8h0M432.5 1238.6h0M433.1 1234.2h0M222.3 1224.4h0M229.2 1235.4h0M605 1232.3h0M390.5 1229.3h0M385.5 1258.8h0M531.8 1239.2h0M542.7 1221.6h0M328.5 1222.1h0M329.5 1228h0M331.7 1243.4h0M531.7 1236.1h0M326.7 1219.5h0M329.2 1234.2h0M392.8 1226.6h0M392.1 1231h0M388.8 1250.1h0M599.9 1253.5h0M600.2 1252.3h0M374.5 1249.6h0M373.2 1242.6h0M372.8 1240.5h0M371.8 1234.8h0M370.4 1226.1h0M369.8 1222.5h0M503.2 1242.7h0M503.4 1242.2h0M511.4 1227.4h0M513.5 1223.6h0M516.3 1218.8h0M308.7 1223.9h0M310.8 1231.6h0M476.8 1252.8h0M288.9 1230.6h0M292.7 1242.1h0M302.1 1216.9h0M304.2 1223.8h0M306.6 1232h0M491.5 1253.8h0M509.1 1218.9h0M303.3 1223.9h0M476.5 1227.4h0M282.8 1238.5h0M491.6 1241.1h0M295.5 1216.7h0M300 1230h0M304.6 1245.4h0M266.9 1221h0M274.5 1236.8h0M275.5 1239.2h0M470.7 1221.3h0M418.6 1233h0M418.4 1233.7h0M417.8 1235.8h0M414.9 1246.7h0M217.5 1247.6h0M193.3 1232.3h0M189.3 1230.9h0M185.3 1229.9h0M180.5 1229.2h0M178.4 1229.1h0M176.8 1229h0M172.5 1229.2h0M620.4 1239h0M621.7 1228.1h0M606.9 1241h0M589 1236h0M552.7 1248.8h0M353.5 1249.4h0M350.4 1238.2h0M346.2 1222.5h0M145.1 1215.1h0M347.2 1252.8h0M337.9 1226.8h0M617.4 1250.9h0M613.3 1246h0M608.7 1241.3h0M603.8 1237.2h0M601.8 1235.8h0M596.9 1232.9h0M571.2 1228.3h0M559.6 1231.1h0M558 1231.7h0M557.6 1231.8h0M548.9 1236.1h0M543.3 1239.7h0M618.9 1238.5h0M428.7 1234.6h0M238.6 1246.5h0M237.2 1245.1h0M233.7 1241.6h0M219.6 1230.2h0M203.8 1222.1h0M199 1220.7h0M197.4 1220.3h0M159.5 1229.1h0M622.5 1237.1h0M441.3 1216.3h0M435.8 1231.2h0M247.6 1246.9h0M241 1239.3h0M236.7 1234.8h0M234.5 1232.6h0M148.7 1230.7h0M440.9 1223.8h0M437.3 1233.3h0M429 1255.3h0M256.2 1253.3h0M622.5 1253.4h0M622.6 1250.7h0M444.2 1215.3h0M442.7 1219.2h0M624.3 1236.4h0M621.2 1229.7h0M620.2 1227.7h0M517.8 1217.5h0M508.4 1228.5h0M506.3 1231.2h0M504.9 1233h0M310.1 1251.8h0M621.4 1244.4h0M620.6 1241.6h0M618.4 1234.9h0M611.3 1218.1h0M497.2 1216.3h0M484.2 1234h0M476.5 1245.7h0M476.2 1246.2h0"/>
<path stroke="#80ff00" d="M588.7 1221.6h0M365.5 1217.4h0M365.4 1221.3h0M575.2 1232.3h0M577.2 1228.6h0M579.4 1224.4h0M407.1 1232h0M407.2 1229.7h0M407.2 1229h0M190.6 1233.4h0M195.6 1242.6h0M395.7 1227.4h0M392.9 1230.8h0M392.5 1224h0M392.5 1223.2h0M392.1 1215.5h0M172.6 1228.4h0M591.4 1242.2h0M592 1240.5h0M592.5 1239.4h0M378.1 1219.3h0M376.6 1236.6h0M376 1242.4h0M381.2 1232.3h0M380.6 1227.1h0M172.6 1255.7h0M206.7 1220.7h0M212.3 1229.7h0M214.8 1233.6h0M219.4 1241.1h0M522.4 1238.2h0M533.2 1218.8h0M535.1 1215.6h0M321 1223h0M323.7 1238.8h0M433.5 1231.3h0M434.1 1227.6h0M218.2 1217.9h0M230.8 1238h0M601.8 1243.3h0M606.7 1226.1h0M388.9 1239.4h0M386.9 1251.3h0M530.5 1241.2h0M536.1 1232.2h0M538.3 1228.6h0M542.1 1222.6h0M542.4 1222.1h0M328.4 1221.3h0M328.7 1223.6h0M329.4 1227.3h0M330.9 1237.5h0M532.9 1234.1h0M533.3 1233.6h0M534.8 1231.1h0M538 1226.1h0M539.9 1223.1h0M326.9 1221h0M328.6 1230.6h0M330.1 1240.8h0M603.6 1241.5h0M604.1 1239.7h0M607.6 1226.6h0M371 1229.8h0M366.9 1225h0M482.4 1237.4h0M489.5 1219.7h0M285.9 1222.3h0M289.7 1233.2h0M291.7 1238.9h0M502.3 1234h0M303.6 1221.7h0M304.8 1225.8h0M503.7 1228.9h0M472.2 1239.5h0M475.1 1231.3h0M476.7 1226.8h0M493.5 1237h0M500.9 1222.1h0M501.2 1221.5h0M502.1 1219.8h0M269 1225.1h0M466.6 1233.1h0M467.3 1231.1h0M472.9 1215.4h0M422.1 1219.6h0M417.6 1236.5h0M208.9 1240.7h0M191.3 1231.5h0M190.5 1231.3h0M188.9 1230.8h0M188.1 1230.6h0M176 1229h0M174.1 1229.1h0M621.4 1230.9h0M615.1 1246.5h0M608.7 1242h0M603.7 1239.5h0M597.4 1237.3h0M594 1236.6h0M593.2 1236.5h0M576.2 1237.3h0M565 1241.3h0M562 1242.9h0M342.5 1239.7h0M602.8 1236.5h0M596.2 1232.5h0M592.9 1231.1h0M587 1229.2h0M567.7 1228.8h0M566.5 1229.1h0M550 1235.5h0M547 1237.3h0M545.5 1238.2h0M619.1 1230.4h0M619.1 1227.7h0M428.2 1235.9h0M427.3 1238.3h0M220.7 1231h0M216.9 1228.5h0M215.3 1227.5h0M210.6 1225h0M185.2 1219.3h0M182.4 1219.5h0M177.3 1220.4h0M622.5 1232.3h0M437.9 1225.4h0M435.3 1232.4h0M230.4 1228.8h0M226.6 1225.6h0M215.9 1218.1h0M233.1 1227.1h0M231.9 1226.1h0M223.4 1219.2h0M220.2 1217h0M622.8 1235.3h0M443.9 1216h0M627.7 1245h0M620.7 1228.7h0M617.5 1222.9h0M513.4 1222.4h0M502.9 1235.7h0M309.5 1223.8h0M305.9 1244.1h0M299 1231.7h0M294.9 1224.5h0M294.3 1223.4h0M289.3 1215.2h0M610.5 1216.6h0M491.4 1223.8h0M483.3 1235.4h0"/>
<path stroke="#55ff00" d="M365.3 1224.4h0M365.2 1230.5h0M579.9 1223.3h0M357.6 1217.1h0M357.7 1227.1h0M407.1 1244.7h0M407.3 1223.6h0M183.3 1219.8h0M184.4 1221.9h0M378.1 1218.6h0M380.4 1224.8h0M426.1 1217.8h0M529.4 1225.6h0M532.9 1219.3h0M534.8 1216.2h0M218.5 1218.4h0M220.4 1221.4h0M225.8 1229.9h0M227.1 1231.9h0M609 1217.2h0M392.4 1216.7h0M391.5 1222.7h0M537 1230.7h0M545 1218.1h0M546.6 1215.6h0M330.7 1236.1h0M539.6 1223.6h0M543.7 1217h0M328.3 1229.1h0M394.1 1218.5h0M393.9 1219.3h0M392.9 1225.9h0M602.3 1245.8h0M606.8 1229.8h0M370 1224h0M368.7 1215.8h0M368.5 1232.6h0M365.2 1216.5h0M513.2 1224.2h0M514.4 1222h0M486.2 1227.6h0M490.3 1217.9h0M284.7 1219.1h0M285.6 1221.7h0M287.5 1226.8h0M287.7 1227.4h0M504.6 1229.5h0M512.2 1215.7h0M304 1223.1h0M301.1 1217.1h0M480.7 1216.6h0M275.2 1220.2h0M276.5 1223.2h0M280.6 1233h0M504.6 1215.3h0M297.1 1221.4h0M297.8 1223.4h0M264 1215.2h0M266.1 1219.3h0M270.1 1227.4h0M271.5 1230.4h0M422.9 1216.8h0M422.5 1218.2h0M421 1223.9h0M180.9 1229.2h0M174.5 1229h0M621.1 1233.6h0M622.6 1217.7h0M589.8 1236.1h0M567.7 1240.1h0M341.6 1237.3h0M340.1 1233h0M593.3 1231.2h0M573.1 1228.1h0M570.4 1228.4h0M566.1 1229.1h0M539.6 1242.3h0M619 1233.1h0M619 1225.7h0M618.9 1220.9h0M435.1 1216.8h0M433.4 1221.3h0M217.2 1228.7h0M189.7 1219.3h0M181.6 1219.6h0M172.7 1221.8h0M622.4 1228.2h0M622.4 1225.5h0M221.1 1221.4h0M220.3 1220.9h0M219.5 1220.4h0M218.3 1219.6h0M213.9 1217h0M211.4 1215.7h0M442.4 1219.9h0M441.6 1221.9h0M440.7 1224.4h0M439.5 1227.6h0M227.7 1222.5h0M226.5 1221.6h0M622.3 1221h0M442.9 1218.6h0M623.4 1234.3h0M512.3 1223.7h0M506.6 1230.7h0M309.3 1223.2h0M306.8 1217.7h0M306 1215.8h0M297.9 1229.7h0M296.7 1227.6h0M289.6 1215.7h0M617 1231.1h0M616.6 1230h0M612.5 1220.6h0M493.1 1221.6h0M484.8 1233h0"/>
<path stroke="#2bff00" d="M580.5 1222.2h0M582.7 1217.9h0M407.5 1215.1h0M178.8 1236h0M395.6 1224.4h0M600.2 1218.9h0M378 1220.9h0M379.8 1219.6h0M379.5 1217.3h0M425.7 1220.9h0M434.6 1224.6h0M434.8 1223.1h0M435.6 1218.7h0M216.9 1215.9h0M217.9 1217.4h0M223.3 1225.9h0M603.6 1237.3h0M606.4 1227.3h0M609.3 1215.9h0M390.8 1227.1h0M544 1219.6h0M394.2 1217.8h0M391.6 1233.9h0M369.3 1219.5h0M516 1219.3h0M517.6 1216.6h0M518.2 1215.5h0M307.2 1218.4h0M491.4 1215.4h0M505.8 1227.3h0M510.3 1219h0M511.9 1216.2h0M302 1219.8h0M276 1222h0M278.3 1227.5h0M278.6 1228.1h0M621.6 1228.8h0M621.7 1227.4h0M622.2 1222.6h0M592.5 1236.4h0M346.7 1224.5h0M344.8 1217.6h0M335.2 1219.3h0M600.7 1235.1h0M619.1 1231.1h0M433.7 1220.7h0M622.3 1223.4h0M622 1217.9h0M223.9 1223.4h0M622.6 1227.1h0M622.1 1218.2h0M307.9 1220.1h0M295.2 1225h0M614 1223.7h0M613.5 1222.7h0M497.6 1215.9h0M487.4 1229.3h0"/>
<path stroke="#00ff00" d="M365.4 1220.5h0M596.5 1229h0M599.1 1221.9h0M600.6 1217.7h0M377.7 1223.9h0M529.7 1225.1h0M532.6 1219.8h0M606.9 1225.5h0M541.4 1223.6h0M394.5 1215.5h0M394.4 1216.3h0M607.9 1225.3h0M609.8 1217.6h0M517 1217.7h0M506.4 1223.9h0M302.6 1221.9h0M274.9 1219.6h0M472.7 1216h0M622.6 1216.3h0M598.6 1233.9h0M622.4 1226.8h0M622.1 1219.3h0M229.2 1223.8h0M622.7 1229.8h0M622.2 1219.6h0M622 1216.9h0M615.5 1219.7h0M496.9 1216.7h0"/>
<path stroke="#00ff2a" d="M597 1227.8h0M598 1224.9h0M608.8 1217.8h0M619 1225h0"/>
<path stroke="#00ff55" d="M364.9 1215.1h0M610.3 1216.2h0"/>
<path stroke="#000" stroke-width="2.7" d="M363.5 1262.6l0 0.7M559.5 1278.6l1.9-3.5M551.6 1274.2l0.3-0.5M357.3 1263.2h0M407.6 1266.4l-0.1-1.4M210.9 1269.3l0.3 0.5M194.7 1267.8l1.1 2M398.2 1265.3l-0.1-1.4M395.7 1264.7l-0.1-0.6M191.9 1269.6h0M626.3 1292l-1-0.2M623.6 1291.5l-1.3-0.1M620 1291.2l-2.7 0M616.2 1291.3l-3 0.3M139.8 1285.9l-2.3 0.8M133 1288.5l-1.3 0.7M130.5 1289.8l-0.4 0.2M572.6 1283.1l0.5-1M373.7 1262.2l-0.1 0.7M640.4 1291.8l-0.8-0.9M637.5 1289.1l-2.1-1.7M628.5 1282.8l-0.6-0.3M627.2 1282.1l-0.9-0.4M623 1280.3l-3.3-1.1M614.2 1278l-1-0.1M602.1 1278.2l-6.3 1.5M588.9 1282.3l-1.1 0.5M582 1285.9l-0.4 0.2M385.6 1264l-0.1-0.6M178.6 1270h0M234.6 1266.2l0.2 0.5M236 1268.7l0.6 0.9M421.7 1273.5l0.1-2.1M422 1266.4l0-0.7M500.4 1282.9l0.3-0.5M327.3 1267.4h0M428.6 1275l0.2-2.1M248.4 1268.3l0.9 1.5M589.9 1276.6l1.3-3.3M384.6 1263.5h0M177.1 1271.9l-1-0.4M144.2 1272.3l-0.3 0.2M138.7 1275.3l-1 0.6M133.4 1279.1l-1.6 1.3M130 1282l-1.7 1.7M126.5 1285.5l-1.7 1.9M507.9 1281.4l0.8-1.6M334.3 1267h0M505.6 1282.6l0.8-1.5M333.2 1266.6l0.1 0.7M386.3 1262.9l-0.1 0.6M179 1269.8l-0.7-0.2M134.6 1276.9l-1.2 1M127.2 1284l-0.6 0.6M121.5 1291.1l-0.6 0.8M587.3 1287.2l0.3-0.5M588.5 1284.5l2.2-5.4M593 1273l1.1-2.8M641.2 1289.1l-1.6-2.1M565.5 1279.8l-1.1 0.8M377.1 1263l-0.4-2M170.2 1272.7l0.6 1.7M169.3 1273.2l0.3 1.2M638 1291.8l-1.5-2.2M631.4 1283.1l-3.4-3.6M623.6 1275.4l-2.8-2.1M566.9 1273.4l-1.1 0.7M560.7 1277.5l-1.7 1.2M375.3 1262.8l-0.4-1.9M484.9 1282.5l0.5-1.1M318.6 1267.4h0M467.7 1282.4l0.5-1.8M471.6 1268.9l0.2-0.7M473.9 1261.5l0.2-0.7M299.8 1266.4l0.3 1.3M480.6 1282.5l0.9-2.3M314.8 1266l0.3 1.3M479.8 1282.1l0.7-1.7M314.2 1266.7l0.1 0.6M460 1281.7l0.5-1.9M463.1 1269.6l0.2-0.7M292 1264.5l0.2 0.6M292.6 1266.3l0.4 1.3M475.1 1282.4l0.4-1.2M480.5 1267.5l0.2-0.6M310.1 1266.7l0.1 0.7M287.1 1267.9h0M453.5 1281l0.5-1.9M457.1 1266l0.1-0.7M409.5 1265.5l-0.3 1.3M238.3 1269.9l-1.7-2M117.4 1290.7l-0.4 1.1M610.5 1288.1l0.5-1.8M613.9 1274.6l1-4.3M642 1286.7l-0.6-1.5M641 1284.2l-0.6-1.5M534.3 1265.3l-0.3 0.4M533.3 1266.4l-0.3 0.4M526.6 1273.9l-1.3 1.5M357.6 1263.3l-0.4-1.3M153.6 1273.4l0.2 0.6M351.3 1263.6l-0.8-2.2M152 1272.7l0.2 1.3M635.5 1287.2l-1.4-4.1M501.9 1281.5l-1.3 1.6M126.4 1285.5l-1.1 3.9M125.2 1290l-0.5 1.6M613.5 1290l0.1-0.7M614.4 1284.4l1.6-10.7M415.5 1270.1l-0.4 1.1M258.5 1269.9l-1.3-1.6M129.8 1274.7l-1.3 3.7M127.5 1281.6l-0.6 2.2M617.6 1291.3l0.4-2.5M619.5 1278.6l0.3-2.5M420.5 1272l-0.5 1.1M264.8 1269.7l-1.6-2.2M124.3 1286.1l-0.3 1.2M123.4 1290.2l-0.4 1.7M422 1273l-0.2 0.6M267.6 1269.3l-1.2-1.8M618.6 1291.6l0.2-1.2M620.1 1280.8l0.3-2.5M620.8 1275.1l0.4-3.3M622 1262l0.1-0.6M635.6 1274.8l-0.5-2.4M473.5 1281.1l-0.9 1.4M328.5 1267.5l-1-2.2M139.5 1290l0.2 1.9M318.7 1267.5l-1.1-1.9M139.4 1291.1l0 0.6M628.1 1278.3l-0.3-2.5M454.1 1281.2h0"/>
</g>
<use href="#wmt" x="278.4" y="1168"/>
<path d="M67 1239.5h630M67 1187.5h630M67 1134.5h630M67 1082.5h630M67 1029.5h630" stroke="#000" stroke-width="1.250" fill="none"/>
<path d="M84.5 1292v-4.200M84.5 977v4.200M102 1292v-4.200M102 977v4.200M137 1292v-4.200M137 977v4.200M154.5 1292v-4.200M154.5 977v4.200M189.5 1292v-4.200M189.5 977v4.200M207 1292v-4.200M207 977v4.200M242 1292v-4.200M242 977v4.200M259.5 1292v-4.200M259.5 977v4.200M294.5 1292v-4.200M294.5 977v4.200M312 1292v-4.200M312 977v4.200M347 1292v-4.200M347 977v4.200M364.5 1292v-4.200M364.5 977v4.200M399.5 1292v-4.200M399.5 977v4.200M417 1292v-4.200M417 977v4.200M452 1292v-4.200M452 977v4.200M469.5 1292v-4.200M469.5 977v4.200M504.5 1292v-4.200M504.5 977v4.200M522 1292v-4.200M522 977v4.200M557 1292v-4.200M557 977v4.200M574.5 1292v-4.200M574.5 977v4.200M609.5 1292v-4.200M609.5 977v4.200M627 1292v-4.200M627 977v4.200M662 1292v-4.200M662 977v4.200M679.5 1292v-4.200M679.5 977v4.200M67 1292v-6.200M67 977v6.200M119.5 1292v-6.200M119.5 977v6.200M172 1292v-6.200M172 977v6.200M224.5 1292v-6.200M224.5 977v6.200M277 1292v-6.200M277 977v6.200M329.5 1292v-6.200M329.5 977v6.200M382 1292v-6.200M382 977v6.200M434.5 1292v-6.200M434.5 977v6.200M487 1292v-6.200M487 977v6.200M539.5 1292v-6.200M539.5 977v6.200M592 1292v-6.200M592 977v6.200M644.5 1292v-6.200M644.5 977v6.200M697 1292v-6.200M697 977v6.200M67 1292h6.500M697 1292h-6.500M67 1239.5h6.500M697 1239.5h-6.500M67 1187h6.500M697 1187h-6.500M67 1134.5h6.500M697 1134.5h-6.500M67 1082h6.500M697 1082h-6.500M67 1029.5h6.500M697 1029.5h-6.500M67 977h6.500M697 977h-6.500" stroke="#000" stroke-width="2" fill="none"/>
<rect x="67" y="977" width="630" height="315" fill="none" stroke="#000" stroke-width="4.400"/>
<text x="67" y="1315.6" font-size="22" text-anchor="middle">0</text>
<text x="119.5" y="1315.6" font-size="22" text-anchor="middle">30</text>
<text x="172" y="1315.6" font-size="22" text-anchor="middle">60</text>
<text x="224.5" y="1315.6" font-size="22" text-anchor="middle">90</text>
<text x="277" y="1315.6" font-size="22" text-anchor="middle">120</text>
<text x="329.5" y="1315.6" font-size="22" text-anchor="middle">150</text>
<text x="382" y="1315.6" font-size="22" text-anchor="middle">180</text>
<text x="434.5" y="1315.6" font-size="22" text-anchor="middle">210</text>
<text x="487" y="1315.6" font-size="22" text-anchor="middle">240</text>
<text x="539.5" y="1315.6" font-size="22" text-anchor="middle">270</text>
<text x="592" y="1315.6" font-size="22" text-anchor="middle">300</text>
<text x="644.5" y="1315.6" font-size="22" text-anchor="middle">330</text>
<text x="697" y="1315.6" font-size="22" text-anchor="middle">360</text>
<text x="59" y="1299.8" font-size="22" text-anchor="end">0</text>
<text x="59" y="1247.3" font-size="22" text-anchor="end">15</text>
<text x="59" y="1194.8" font-size="22" text-anchor="end">30</text>
<text x="59" y="1142.3" font-size="22" text-anchor="end">45</text>
<text x="59" y="1089.8" font-size="22" text-anchor="end">60</text>
<text x="59" y="1037.3" font-size="22" text-anchor="end">75</text>
<text x="59" y="984.8" font-size="22" text-anchor="end">90</text>
<text x="382" y="1345" font-size="22" text-anchor="middle">Azimut (grados)</text>
<text transform="translate(21 1134.5) rotate(-90)" font-size="22" text-anchor="middle">Elevación (grados)</text>
<g fill="none" stroke-width="2.5" stroke-linecap="square" stroke-linejoin="round" shape-rendering="crispEdges" clip-path="url(#cp4)">
<path stroke="url(#gp40)" d="M736 1276.5l13.8-31.7 12.2-30.6M830.5 985.5l1.1-2.6 0.4-0.3 0.5 0.2 2.4 7 29.1 119.5 13.1 52.1 14.7 54.5 13.7 46.7M1364.9 1275.1l1.1-2.4M736 1219.9l10.3 29.4 8.9 23.7M872.7 1267.5l10.3-20.6 7.7-14 6.7-10.7 6.2-7.6 3-3 3.1-2.2 2.8-1.5 2.9-0.8 2.8-0.1 2.9 0.5 2.8 1.2 2.9 1.9M1297.8 1132.7l3.7-7.6 3.5-5.8 3.5-4.4 3.3-2.5 3.2-1 3.3 0.6 3.3 2.2 3.5 4 3.3 5.1 3.5 6.7 7.6 18.2 8.3 23 18.2 53.8M922.8 1196.4l3.3-3 3.3-1.9 3.3-1 3.2 0 3.3 0.9 3.3 2 3.5 3 3.5 3.9 6.8 9.9 7.9 14.3 26.4 56.6M1101.3 1265.3l9-23.5 26.5-72.3 8-18.8 6.8-12.1 3.7-4.7 3.8-3.1 3.5-1.4 3.5 0.3 3.5 1.8 3.7 3.7 3.7 5.3 3.9 7.1"/>
<path stroke="url(#gp41)" d="M926.8 1210.6l3.9 3.7 4.1 5.2 4.4 6.7 4.4 8 9.6 20.9 11.6 29.4M1180.9 1147.6l7 15.7 8.1 21.6 31.1 93.5M1228.4 1282.3l2.2 6.4"/>
<path stroke="url(#gp42)" d="M762 1214.2l16.7-46 15.9-50.2 14.9-52.3 21-80.2M1244.2 1290.4l0.6-1.9M1246.8 1282.8l0.6-2M1248.8 1277l0.6-1.9M1250.5 1271.8l3.3-9.8M1254 1261.4l30.2-93 7.4-20.8 6.2-14.9M881.5 1287.7l0.8-2.5M883.7 1281.5l2.4-6.7M886.9 1272.4l11.2-29.6 9.2-21.3 8.1-15.2 3.7-5.5 3.7-4.4"/>
<path stroke="url(#gp43)" d="M826.6 1282.4l63.6-154M918 1059.8l4.8-10.7 4.2-8.1 3.5-5.7 3.3-3.7M942.9 1031.7l4.2 5.6 4.6 9.1 5.2 13.2 6.2 17.7 10.5 33.4 30.8 103.6 16.4 53.1M881.9 1272.9l15.1-49.8 32.2-111.8 11.8-38.8 5.9-17.2 5-12.3 4.4-8 2.2-2.8 1.9-1.6M969.6 1034.4l3.3 5.1 3.9 7.6 10.5 24.9M1018.6 1150.5l15.8 37.2 35 80.6M978.8 1279.8l56.2-130.6M1066.1 1071.6l10.5-24.5 3.9-7.5 3.3-4.9M1093 1031.4l2 1.7 2.2 2.8 4.3 8 5.1 12.3 6.1 17.8 10.3 33.5 30.2 104.9 16.4 54.6M736 1173.3l17.5-62 7.7-25.6 6.7-19.4 2.9-6.5 2.8-5.1 2.9-3.3 2.6-1.4 2.6 0.3 2.6 2.1 2.9 4 3 6 7.3 19M1173.9 1264.8l3.8 0.9 3.9 1.8 3.9 2.6 4 3.3M1190.1 1274.1l3.3 3.4M1337.1 1260.9l13.6-41.6 15.3-52M923.9 1280.6l4.2-11.7M928.3 1268.2l2.4-6.7M930.9 1260.8l23.4-65.3 17.3-45.8 14.9-36.2 12.7-27.1M1017.3 1059.3l4.2-3.1 4.1-1.7 4 0 4.1 1.6M1049.7 1075.6l5.9 11.3 6.3 13.7 14.9 36.8 17.3 47.7 28 81.3M845.2 1280.2l19.2-50.1 17.1-42.4 16.4-38.4 15.3-33.5M936.2 1073l5-7 4.6-5 4.1-3.2 4.2-1.6M968.1 1064.2l5.5 8.4 5.9 11.5 6.5 15.3 7.5 19.4 15.9 46.6 32.4 100.6M1071.3 1280.4l19.7-51.5 17.1-42.5 16.4-38.5 15.3-33.3M1162.6 1072.8l5-6.8 4.6-4.8 4.1-2.9 4.2-1.4M1194.7 1065.5l5.5 8.5 6.1 12.1 6.6 15.2 7.4 19.4 16.2 47.1 31.9 98.9M813 1279.8l3.5-10.2M816.7 1268.9l27.6-79.9 17.5-47.8 7.9-19.9 7-16.4 6.5-13.9 6.1-11.4M906 1060.2l4.1-1.5 4.2 0.1 4.4 1.6 4.3 3.2M941.4 1090.2l6.1 12.2 6.8 14.7 15.1 36.3 17.3 45.7 23.4 65.4M1010.3 1265.1l0.5 1.2M1148.6 1281.2l5-13.7M1153.8 1266.9l19.5-51.6 16.6-41.8 15.3-35.8 14-29.7M1240.4 1072l4.8-5.5 4.6-3.9 4.4-2.1 4.2-0.5M1273.7 1071.9l5.7 9.3 6.3 12.6 6.8 15.7 7.4 19.1 16.9 47.9 29.7 90.2M736 1139.8l10.7 25.3 11.4 28.4 27.8 74.4M1216.6 1279.1l4.4-13.1M1221.2 1265.3l28.2-84.2 17.1-47.7 7.6-19.3 6.8-15.6 6.3-12.7 6-9.9M1309.1 1061.9l4.2 0 4.4 1.5 4.3 2.9 4.8 4.8M1347.4 1104l9 18.3 9.6 21.4M846.7 1236.3l3.7-0.3 3.9 0.9 4 1.9 3.9 2.9 4.2 4.1 4.4 5.2 9.6 14.3M880.6 1265.7l0.4 0.7M881.2 1266.8l4.2 7.1M1015.1 1262l15.1-45.8 29.6-97.9 7-20 5.6-12.9 3.5-5.7 3.3-3.4 1.8-1 1.5-0.3 3.1 0.7 3.2 2.9 3.3 4.8 3.7 7.3 4 9.6M793.1 1261.4l12.7-34.6 21.9-64.7 7.6-21.5 7.9-19.3 3.5-7.1 3.3-5.4 3.9-4.8 3.7-2.6 2-0.5 1.7 0.1 3.8 1.6 3.7 3.7 3.9 5.9 4.4 8.5 4.6 10.8M1249.8 1230.7l2.9-1.5 2.8-0.9 2.9-0.4 2.8 0.3 2.9 0.8 3 1.4 6.1 4.7 6.2 6.7 6.8 9.2 7.6 12.1 10.7 18.4M1072 1129.4l4.4-9.7 4.1-7.4 3.7-4.9 3.8-3 3.5-0.9 1.7 0.3 2 0.9 3.7 3.2 3.7 5.1 6.6 12.7 7.4 18.7 29.8 87.7 14 38M1280.5 1268.3l8.7-15.9 7-11.5 6.4-8.8 5.9-6.5 5.7-4.3 2.8-1.3 2.6-0.6 2.9-0.2 2.6 0.4 5.2 2.5M980.3 1129.4l4.2-8.5 3.7-6.1 3.7-4.3 3.5-2.3 3.5-0.4 3.5 1.4 3.8 3.6 3.7 5.3 6.3 12.7 7.5 18.8 29.1 86 13.3 36.4M1184.9 1267.5l9.6-19 7.4-13.4 6.6-10.2 6.1-7.5 5.7-4.8 2.9-1.6 2.8-0.9 2.8-0.2 2.7 0.3 2.8 1 2.9 1.7M771.7 1265.6l24.9-58.1 7.9-17.3 8.5-16.2 3.7-5.7 3.7-4.7 4-3.7 3.9-2.3 3.7-0.7 3.8 0.7 3.7 2.2 3.9 3.8 4.2 5.5 4.1 7M1216.2 1192.3l3.9-5.2 3.9-4 3.8-2.5 3.7-1.3 3.7 0 3.7 1.2 3.9 2.6 4 3.8 3.7 4.6 3.7 5.5 8.3 14.6 33.5 69.6"/>
<path stroke="url(#gp44)" d="M933.8 1031.6l2.4-1.6 2.1-0.5 2.2 0.5 2.4 1.7M987.3 1072l31.3 78.5M1083.8 1034.7l2.4-2.5 2.4-1.4 2.2-0.2 2.2 0.8M797.5 1081.4l37.4 121.3 12.2 36.4 12.5 34.1M1033.7 1056.1l3.7 2.8 4 4.2 3.9 5.4 4.4 7.1M954.1 1056.2l3.5 0.1 3.5 1.3 3.5 2.7 3.5 3.9M1180.5 1056.9l3.5 0.2 3.5 1.4 3.5 2.8 3.7 4.2M923 1063.6l4.2 4.4 4.6 6 4.6 7.2 5 9M1258.4 1060l3.7 0.9 3.7 2.2 4 3.7 3.9 5.1M1326.8 1071.1l4.6 5.9 5.1 7.5 10.9 19.5M1099.8 1100.3l10 29.5 30 97 15.8 46.6M881.7 1131.5l10.9 30.2 24.5 75 12.3 36M739.7 1289.4l0.2 0.6M1330.3 1222.1l3.5 2.8 3.8 3.9 3.7 4.9 3.7 5.7 8.1 15.2 9 20.1M1363.6 1278.4l1.3 3.2M1365.8 1283.8l0.2 0.6M1237.2 1212.9l3.9 3.5 4.1 4.9 4.2 6.1 4.4 7.7 9.4 19.8 10.9 27.2M1276.8 1289l0.4 1.2M851.7 1176.1l7.2 14.8 8.1 19.8 9.7 26 15.1 43.1"/>
<path stroke="url(#gp45)" d="M890.2 1128.4l27.8-68.6M960.4 1030.6l2.2-0.7 2.2 0.3 2.4 1.5 2.4 2.7M1035 1149.2l31.1-77.6M1143.1 1289.6l0.7-1.1M1145.3 1286.1l0.6-1.1M1146.8 1283.7l0.4-0.6M1149.9 1279.5l3.3-4.1M1155.1 1273.3l4.8-4.2 4.6-2.8 4.6-1.4 4.8-0.1M999.2 1086.4l5-9.2 4.6-7.4 4.4-6 4.1-4.5M913.2 1115.8l12.7-25.2 10.3-17.6M1139.8 1114.6l12.5-24.5 10.3-17.3M889.3 1079.6l4.6-7.2 4.2-5.4 3.9-4 4-2.8M1219.2 1108l11.4-21.2 5-8.1 4.8-6.7M1293.2 1075.9l4.1-5.6 3.9-4.1 4-2.8 3.9-1.5M811 1285.2l0.5-1M812.1 1282.7l0.5-0.9M813.2 1280.3l0.5-1M814.3 1277.9l9-17.7 4.1-6.8 4-5.6 3.9-4.5 3.7-3.3 4-2.5 3.7-1.2M1214.4 1289.3l0.9-2.1M1217 1283.1l9.2-20 8.3-15.1 4-5.8 3.9-5 3.7-3.7 3.7-2.8M1018 1289.3l1.3-3.7M1023.4 1273.7l11.6-34.6 25-76.9 6.5-18.8 5.5-14M928.1 1284.4l0.4-1.3M930.9 1276.1l36.3-111.7 7.2-20.4 5.9-14.6M1178.8 1280.1l0.6-1.8M1180.3 1275.8l11.6-31.4 9.2-22.8 7.8-16.9 7.3-12.4"/>
<path stroke="url(#gp46)" d="M961.3 1265l13.1-44.5 14-51.3 42.3-167.6 3.7-12.2 1.1-2.1 1.1-0.5M1038.5 990.2l3.3 10.6 9 33M1102.8 1197.2l14.3 35.2 16.1 36.9M850.8 1264.1l12.7-42.4 13.4-48.9 13.1-51.5 23-94 6.1-23 2.8-7.9 1.1-1.9 1.1-0.7 1.1 0.5 1.1 1.6 3.1 8.3M997 1227.3l17.2 42.3M1056.7 1278.5l15.5-38M1139.8 1020.3l4.2-11.1 1.7-2.7 1.5-1.1 1.6 0.4 1.7 2.2 3.7 9.1 7.9 28.1 22.3 89.7 12.3 47.2 11.8 42.6 11.4 37.5M777.1 1281.1l1.1 0.7M779.5 1282.8l0.5 0.3M782.4 1285.1l0.8 0.8M936.2 1263.4l10-32.6 10.7-37.6 11.9-44.5 22.7-89.3 5.3-18.9 3.9-12.2 2.4-5.9 2.2-3.8 1.9-1.8 2 0 2 1.7 2.2 3.7 5.2 14M1086.7 1254.6l6.1 15.4M736 1255.9l4.6 10.3M740.8 1266.7l0.9 2M1186.8 1271.4l1.6-5M1188.6 1265.7l18.6-63.2 31.7-115.6 10.1-34.9 5.2-16 4.2-10.5 3.5-6.2 1.7-1.9 1.6-0.8M1272.2 1022.4l3 6.2 3.5 8.6 10.7 30M1325.3 1165l17.1 41.1 23.6 53.7M781.7 1281.1l57.5-133.9M869.9 1071.7l10.3-23.3 3.9-7.3 3.3-4.7M897 1033.4l2 1.7 2.2 2.8 4.6 8.5 5 12.2 6.1 17.6 10.7 34.7 30 103.4 15.7 52.3M876.7 1266.6l3.9 1.9 3.9 2.8 4.2 3.7 4.4 4.8M1039.2 1261l9.6-30.5 10.3-35.3 32.4-120 5.2-17.2 4.2-11.3 2.8-6 2.6-3.6 2.7-1.6 2.4 0.5 2.6 2.6 2.6 4.4 3.1 7.1 3.5 9.7M766.6 1096.2l3.7-8.6 3.5-6.4 3.3-4.2 3.1-2 3-0.1 3.1 1.8 3.3 4.1 3.3 5.9 5.4 13.1 6.6 19.4 29.1 98.3 15.5 48M980.6 1267.9l11.1-19 4.8-6.8 4.6-5.3 4.4-3.9 4.4-2.6 4.1-1.2 4.2 0.2"/>
<path stroke="url(#gp47)" d="M1050.8 1033.8l13.3 47.6 12.5 40.9 12.9 38.7 13.3 36.2M929.4 1004.2l22.9 85.1 13.6 46.9 15.3 47.7 15.8 43.4M769.7 1285.7l0.6 0.2M771.9 1286.7l1.5 0.8M775.8 1289.2l0.9 0.6M1018.6 1036.2l6.2 20.5 20.1 72 12 40.3 14.7 44.6 15.1 41M1289.4 1067.2l18.8 53.3 17.1 44.5M887.4 1036.4l2.6-2.6 2.4-1.3 2.4-0.1 2.2 1M1123.2 1059.8l7.2 23.3 21.4 74.2 11 35.6 13.8 41.4 14.2 38.4M1018.2 1229.3l4.4 1.6 4.6 3.3 4.6 5 4.5 6.3 4.9 8.1 5.2 10.3 11.6 26.8"/>
<path stroke="url(#gp48)" d="M1036.6 986.8l0.8 1 1.1 2.4M1072.2 1240.5l15.3-42 14.7-45.2 12.5-42.4 19.6-71.9 5.5-18.7M745.6 1290.9l1.6-1.8M748.7 1287.4l0.9-1M751.5 1284.5l1.3-1.1M753.9 1282.5l0.5-0.4M755.5 1281.4l0.4-0.3M759.4 1279.2l0.4-0.2M761.2 1278.5l1.7-0.5M763.6 1277.9l3.5-0.2 3.5 0.5M774.5 1279.7l0.9 0.4M776.5 1280.7l0.6 0.4M1265.2 1016.6l1.5 0 1.7 1 1.8 1.8 2 3M839.2 1147.2l30.7-75.5M846.9 1284l0.7-1M848 1282.4l1.3-1.8M850.4 1279.1l6.6-7.2 3.2-2.6 3.3-1.9 3.3-1.2 3.3-0.6 3.3 0.2 3.3 0.8M736 1193.4l20.3-67.3 5.7-17.4 4.6-12.5M1333.8 1286.3l0.5-1.2M1336 1280.2l2-5.6M1339.5 1270.3l12.7-38.1 13.8-44.4"/>
<path stroke="url(#gp49)" d="M1126 1273.7l17.1-38.9 14.7-36.2M1211.3 1028.8l8.4-31 3-10.1M1224.5 985.1l1.1 1 1.1 2.7 3.9 14 29.7 120 15.6 60 11.8 42.8 11.1 37.6M783.7 1220.9l9.4 23.7 9.8 23.2M1266.9 1263.9l13.3-44.9 14-51.6 11.6-45.7 24.3-99.9 6.4-24.6 2.2-6.6 0.8-1.7 0.9-0.7 0.7 0.3 0.8 1.2 2.2 6M971.6 1283.6l0.6-1.6M975.8 1273.3l0.8-2.2M1045.8 1053l3.2-9.1 2.9-6.5 2.6-4.3 2.4-2.2 1.3-0.3 1.1 0.1 2.4 1.9 2.6 4.1 2.7 5.8 4.6 13.3 5.6 19.5 23.2 87.9 11.2 40.6 9.2 31.3 9 28.4M1288.3 1271.5l2.7-1.3M737.5 1057.4l3.3-9.2 3.1-7 2.6-4.3 2.6-2.5 2.4-0.3 2.4 1.6 2.7 3.8 2.8 6 4.2 11.6 4.8 15.8 33 122.8 10.5 36 9.9 31.2M979.7 1269.6l3.9-2M1291.8 1286.7l0.9-2.2M1294.9 1279.1l1.5-3.9M1365.8 1057.4l0.2-0.6M748.7 1281.4l17.7-45.3 16.4-40.2 16.6-38.8 16.2-36M839.7 1073.4l5-7.9 4.6-5.9 4.2-4.1 3.9-2.3M870.8 1058.7l5.2 7.6 5.7 11 6.3 14.7 7.2 19.2 15.4 45.5 35 110.7"/>
<path stroke="url(#gp410)" d="M1222.7 987.7l0.9-1.9 0.9-0.7M736 1071.6l11.8 42 11.6 38 11.8 35.4 12.5 33.9M1344.1 995.7l21.9 82.2M1291 1270.2l4.3-1.2 4.4-0.1 4.2 1.1 4.3 2.3M1308.5 1272.5l3.5 2.8M1312.6 1275.9l3.1 3.2M1316.8 1280.4l1.3 1.6M1319.4 1283.7l1.3 1.8M1322 1287.4l0.7 1M983.6 1267.6l3.1-0.8 2.8-0.3 3.1 0.3 2.8 0.9 5.9 3.3 6.2 5.9M1008.3 1277.9l4.6 6.1M1017.1 1290.4l0.4 0.7M857.4 1053.2l3.3-0.6 3.3 0.7 3.2 1.9 3.6 3.5"/>
<path stroke="url(#gp411)" d="M1157.8 1198.6l13.7-37.6 13.2-39.6 12.9-42.8 13.7-49.8M976.6 1271.1l14.7-39.4 14.4-43.2 11.4-37.3 21.4-74.7 7.3-23.5M736 1062l1.5-4.6M1296.4 1275.2l0.9-2.2M1298.4 1270.2l14.2-38.6 13.8-41.5 10.5-34.3 21.7-75.1 7.2-23.3M815.6 1121.1l13.6-28.2 10.5-19.5"/>
<path stroke="#ff0000" d="M736 1276.5h0M739.7 1268.2h0M1365.3 1274.2h0M1365.6 1273.7h0M1366 1272.7h0M1127.1 1271.3h0M1298.4 1261.8h0M799.7 1260.2h0M801.2 1263.8h0M1012.3 1265h0M771.9 1286.7h0M772.1 1286.8h0M772.5 1287h0M773.2 1287.4h0M775.8 1289.2h0M776 1289.3h0M776.5 1289.7h0M1062.2 1265.6h0M745.6 1290.9h0M746.3 1290.1h0M748.9 1287.1h0M752 1284.1h0M754.2 1282.3h0M755.5 1281.4h0M759.6 1279.1h0M761.4 1278.4h0M761.8 1278.3h0M763.8 1277.9h0M767.1 1277.7h0M768.2 1277.8h0M768.8 1277.9h0M775.2 1280h0M782.4 1285.1h0M1077.9 1231.4h0M1086.2 1253.5h0M827.7 1279.7h0M828.3 1278.1h0M830.3 1273.3h0M1019.7 1263.9h0M883 1269.4h0M884.5 1264.5h0M887.8 1253.8h0M976.2 1272.2h0M978.2 1267.2h0M1291 1270.2h0M1292.7 1269.6h0M1293.8 1269.3h0M1294.5 1269.1h0M1295.1 1269h0M1295.3 1269h0M1295.6 1268.9h0M1298.2 1268.8h0M1299.5 1268.9h0M1300.6 1269.1h0M1301.9 1269.4h0M1302.1 1269.4h0M1302.8 1269.6h0M1303.7 1269.9h0M1304.3 1270.2h0M1306.3 1271.1h0M1307.4 1271.8h0M1308.5 1272.5h0M1309.3 1273.1h0M1310 1273.6h0M1310.7 1274.2h0M1310.9 1274.3h0M1311.5 1274.9h0M1312.8 1276.1h0M1314.8 1278.1h0M1315.5 1278.8h0M1316.8 1280.4h0M1319.6 1284h0M1320.3 1284.9h0M1322.2 1287.7h0M979.9 1277.2h0M983.4 1269.1h0M986.5 1261.9h0M988.9 1256.3h0M1167.8 1261.3h0M783.5 1276.9h0M785.7 1271.8h0M984.3 1267.4h0M984.7 1267.3h0M986 1266.9h0M988.4 1266.6h0M988.7 1266.6h0M989.1 1266.6h0M989.5 1266.5h0M990.2 1266.6h0M991.1 1266.6h0M991.5 1266.7h0M992.2 1266.8h0M992.4 1266.8h0M993.9 1267.2h0M994.8 1267.4h0M996.5 1268.1h0M998.3 1269h0M998.7 1269.3h0M998.9 1269.4h0M1000.2 1270.3h0M1000.9 1270.7h0M1001.1 1270.9h0M1002 1271.6h0M1002.2 1271.7h0M1002.7 1272.1h0M1002.9 1272.3h0M1003.1 1272.5h0M1003.3 1272.7h0M1003.5 1272.9h0M1004 1273.3h0M1005.3 1274.5h0M1006.8 1276.1h0M1008.3 1277.9h0M1009.9 1279.8h0M1010.1 1280.1h0M1011.6 1282.1h0M1295.6 1277.4h0M1296.4 1275.2h0M853.5 1275.5h0M858.9 1270.3h0M860.2 1269.3h0M861.3 1268.6h0M866.6 1266.2h0M875.1 1266.2h0M881.2 1268.9h0M882.1 1269.5h0M884.8 1271.4h0M885.6 1272.2h0M886.3 1272.7h0M887.2 1273.5h0M889.8 1276.1h0M890.9 1277.3h0M892.8 1279.6h0M1180.3 1244.7h0M1183.1 1252.5h0M1186.4 1261.3h0M1186.6 1261.9h0M1187.3 1263.6h0M1189 1268.2h0M1189.2 1268.8h0M1189.5 1269.3h0M854.8 1260.4h0M855.7 1262.8h0M857.4 1267.5h0M858.3 1269.8h0M858.9 1271.5h0M859.4 1272.7h0M1146.8 1283.7h0M1150.1 1279.2h0M1151.4 1277.5h0M1161.2 1268.1h0M1179.4 1266.4h0M1180.3 1266.8h0M1180.5 1266.9h0M1180.7 1267h0M1185.8 1270.2h0M1190.1 1274.1h0M1193 1277h0M748.9 1280.8h0M750 1278h0M751.1 1275.1h0M941.8 1255.8h0M1120.3 1261.3h0M848.4 1271.5h0M1072.2 1278.1h0M1075.5 1269.4h0M813.4 1278.5h0M814.3 1275.9h0M814.5 1275.3h0M1149 1280h0M1149.9 1277.6h0M1154.5 1265.2h0M1218.6 1273.2h0M1221.2 1265.3h0M1224 1256.8h0M846.2 1255.9h0M1018.6 1229.4h0M1030 1237.1h0M1040.3 1252.1h0M1045.3 1261.6h0M1046.8 1264.8h0M1048.6 1268.6h0M1050.1 1271.9h0M1050.6 1272.9h0M1051.9 1275.9h0M1052.1 1276.4h0M1052.5 1277.5h0M1053.2 1279h0M1054.1 1281.1h0M1054.3 1281.6h0M1054.9 1283.2h0M1055.2 1283.7h0M1056 1285.8h0M1056.5 1286.9h0M1056.7 1287.4h0M1057.6 1289.6h0M1337.6 1275.9h0M812.1 1282.7h0M815.2 1276h0M815.8 1274.6h0M816.7 1272.8h0M817.6 1271h0M822.4 1261.8h0M878 1261.5h0M880.8 1266.1h0M883.2 1270.1h0M1152.1 1263.4h0M1153.8 1268.4h0M1154 1269.1h0M1155.1 1272.2h0M914.3 1228h0M920.2 1245.9h0M925.9 1262.6h0M926.3 1263.9h0M927.8 1268.3h0M928.1 1269h0M929.2 1272.1h0M1214.6 1288.8h0M1217.9 1281.1h0M1219.2 1278.1h0M1219.7 1277.1h0M1220.3 1275.6h0M1220.8 1274.7h0M1221.6 1272.7h0M1223.6 1268.5h0M1225.3 1264.9h0M1294 1263.5h0M1301 1275.4h0M1018 1289.3h0M1018.2 1288.7h0M1023.7 1273.1h0M1025.4 1268h0M1027.8 1260.9h0M1280.9 1267.5h0M1282.2 1265h0M1285.9 1258.2h0M1331.4 1222.8h0M1340.2 1232.1h0M1345.2 1239.8h0M1347.6 1244h0M1359 1267.5h0M1359.2 1268h0M1359.7 1269h0M1361 1272.1h0M1365.8 1283.8h0M1366 1284.4h0M931.1 1275.4h0M932.9 1270.3h0M1184.9 1267.5h0M1256 1239.3h0M1257.9 1243.3h0M1265.6 1260.6h0M1267.6 1265.3h0M1267.8 1265.9h0M1268.9 1268.6h0M1269.1 1269.1h0M1269.8 1270.8h0M1270.4 1272.4h0M1271.7 1275.8h0M1273.7 1280.9h0M751.8 1264h0M940.8 1228.9h0M954.5 1258.2h0M955 1259.3h0M956.5 1263.1h0M957.8 1266.3h0M958 1266.9h0M958.5 1268h0M960.7 1273.6h0M961.3 1275.3h0M961.5 1275.9h0M964.2 1282.8h0M1244.4 1289.7h0M882.1 1285.8h0M883.7 1281.5h0M887.8 1270h0M891.1 1261h0M980.6 1259.4h0M982.3 1263.2h0M982.8 1264.2h0M983.4 1265.6h0M983.8 1266.6h0M986.5 1272.2h0M987.6 1274.6h0M988.2 1276h0M988.7 1276.9h0M990.2 1280.2h0M1212 1232.6h0M1221.2 1260.6h0M1222.1 1263.3h0M1222.9 1265.9h0M1223.2 1266.6h0M1224 1269.2h0M1225.3 1273.1h0M1226.4 1276.4h0M1226.7 1277.1h0M1228.4 1282.3h0M1228.8 1283.6h0M1229.1 1284.2h0M1229.7 1286.1h0M1230.2 1287.4h0M881.5 1250.3h0M885.2 1261h0M885.6 1262.2h0M888 1269.1h0M888.2 1269.8h0M888.5 1270.4h0M889.3 1272.9h0M890 1274.8h0M890.2 1275.4h0M890.4 1276.1h0M1178.8 1280.1h0M1180.9 1274h0M1184.2 1264.9h0M1187.5 1256h0M1287.5 1263.9h0M1289.9 1268.9h0M1292.1 1273.4h0M1294.9 1279.1h0M1295.6 1280.3h0M1295.8 1280.8h0"/>
<path stroke="#ff2a00" d="M738.2 1271.7h0M744.3 1257.7h0M748.2 1248.4h0M896.8 1233.5h0M1364.9 1275.1h0M1126.7 1272.2h0M1131.5 1261.5h0M1297.3 1258.2h0M962.4 1261.4h0M964.8 1253.5h0M798.1 1256.6h0M802.3 1266.3h0M1267.8 1261.1h0M851.9 1260.6h0M1009.2 1257.8h0M1013.4 1267.5h0M769.9 1285.8h0M773 1287.3h0M1056.7 1278.5h0M1058.9 1273.4h0M1060.2 1270.3h0M1060.6 1269.3h0M1063 1263.5h0M1066.5 1254.9h0M1219.4 1260.9h0M746.9 1289.3h0M761.6 1278.4h0M769 1277.9h0M769.9 1278.1h0M774.7 1279.8h0M777.1 1281.1h0M777.3 1281.3h0M777.6 1281.4h0M939.9 1251.7h0M1083.8 1247.2h0M1085.3 1251.2h0M1085.8 1252.4h0M828.1 1278.6h0M828.8 1277h0M834 1264.2h0M836.8 1257.3h0M1018.8 1261.2h0M882.8 1270.1h0M885.6 1260.9h0M1063.7 1255.1h0M971.6 1283.6h0M976 1272.7h0M1291.2 1270.1h0M1291.6 1270h0M1292.1 1269.8h0M1292.9 1269.5h0M1296.9 1268.8h0M1299.7 1268.9h0M1301.7 1269.3h0M1303 1269.7h0M1304.5 1270.3h0M1305 1270.5h0M1309.1 1273h0M1310.2 1273.8h0M1313.3 1276.5h0M1313.5 1276.8h0M1313.7 1277h0M1313.9 1277.2h0M1320.1 1284.6h0M1322.5 1288h0M980.3 1276.2h0M982.3 1271.6h0M983.8 1268h0M781.9 1280.5h0M782.4 1279.5h0M783.2 1277.4h0M784.1 1275.4h0M784.6 1274.3h0M785.4 1272.3h0M819.6 1256.2h0M819.8 1256.9h0M820 1257.5h0M982.8 1268h0M984.9 1267.2h0M985.2 1267.2h0M986.7 1266.8h0M988 1266.6h0M988.9 1266.6h0M990 1266.6h0M990.8 1266.6h0M991.3 1266.6h0M995 1267.5h0M995.9 1267.8h0M996.1 1267.9h0M1001.3 1271h0M1004.6 1273.9h0M1004.8 1274.1h0M1005.1 1274.3h0M1005.5 1274.8h0M1005.9 1275.2h0M1006.2 1275.4h0M1006.4 1275.7h0M1006.6 1275.9h0M1012.1 1282.7h0M1012.5 1283.3h0M1017.3 1290.8h0M1297.1 1273.6h0M847.3 1283.4h0M849.1 1280.9h0M850.8 1278.6h0M852.4 1276.7h0M853.7 1275.2h0M854.1 1274.7h0M857 1271.9h0M857.6 1271.4h0M861.6 1268.5h0M866.8 1266.2h0M869.4 1265.7h0M871.8 1265.6h0M873.6 1265.8h0M875.8 1266.4h0M876.9 1266.7h0M877.8 1267.1h0M883 1270.1h0M886.5 1272.9h0M886.9 1273.3h0M889.1 1275.5h0M889.3 1275.7h0M891.3 1277.8h0M1182.9 1251.9h0M1184.2 1255.5h0M1189.7 1269.9h0M852.4 1253.9h0M853.9 1258.1h0M856.3 1264.6h0M1152.9 1275.7h0M1158.8 1269.9h0M1160.6 1268.6h0M1160.8 1268.4h0M1166.5 1265.6h0M1166.9 1265.4h0M1167.6 1265.2h0M1174.2 1264.8h0M1174.4 1264.9h0M1177.4 1265.6h0M1182 1267.7h0M1183.8 1268.8h0M1187.3 1271.5h0M1188.8 1272.8h0M1190.3 1274.3h0M1191.9 1275.8h0M753.1 1270.1h0M753.3 1269.5h0M755.9 1262.7h0M759.4 1253.8h0M945.1 1266h0M924.3 1279.4h0M927.4 1270.7h0M929.2 1265.8h0M1119.7 1259.4h0M848.9 1270.3h0M849.5 1268.6h0M850.8 1265.2h0M1040.7 1262.6h0M1072.7 1276.9h0M1074.2 1272.9h0M815.8 1271.5h0M1149.4 1278.8h0M1152.3 1271.1h0M1154 1266.3h0M1343.9 1258.7h0M847.8 1260.4h0M848.4 1262.4h0M980.8 1267.5h0M990.6 1250.6h0M1037.7 1247.6h0M1039 1249.8h0M1039.8 1251.3h0M1041.2 1253.6h0M1041.6 1254.4h0M1043.6 1258.2h0M1046 1263h0M1047.7 1266.7h0M1048.2 1267.6h0M1051.7 1275.4h0M1053.8 1280.5h0M1342.6 1261.4h0M1343 1260.1h0M818.2 1269.7h0M823.3 1260.2h0M826.1 1255.4h0M882.1 1268.3h0M884.8 1272.8h0M1149.7 1256.4h0M1151.4 1261.5h0M1152.7 1265.3h0M1153.6 1267.8h0M1154.2 1269.7h0M796.2 1253.4h0M927.2 1266.4h0M928.3 1269.6h0M1218.3 1280.1h0M1230.6 1254.8h0M1289.4 1256h0M1294.7 1264.6h0M1302.1 1277.3h0M1302.8 1278.5h0M1303.9 1280.4h0M1018.8 1286.9h0M1024.1 1271.8h0M1159.5 1267.9h0M1282 1265.5h0M1287 1256.3h0M1352.9 1254.2h0M1355.1 1258.8h0M1361.6 1273.7h0M1363.6 1278.4h0M936.4 1259.8h0M1185.1 1267.1h0M1187.5 1262.3h0M1187.7 1261.8h0M1188.8 1259.6h0M1190.3 1256.6h0M1261.4 1250.9h0M1265.8 1261.1h0M1267.3 1264.8h0M1268 1266.4h0M1269.3 1269.7h0M1269.5 1270.2h0M1270.6 1273h0M1272.2 1276.9h0M748 1254.1h0M753.7 1269.1h0M754.2 1270.2h0M936.4 1221.7h0M951.5 1251h0M952.1 1252.5h0M953.7 1256.1h0M955.2 1259.8h0M956.1 1262h0M956.7 1263.6h0M957.2 1264.7h0M958.2 1267.4h0M959.3 1270.2h0M959.6 1270.8h0M960.4 1273h0M963.1 1279.9h0M963.5 1281h0M881.7 1287.1h0M884.1 1280.3h0M884.3 1279.7h0M886.9 1272.4h0M889.8 1264.6h0M893.1 1255.8h0M985.4 1269.9h0M986.7 1272.7h0M1101.5 1264.8h0M1105.7 1254.1h0M1219.7 1256h0M1225.8 1274.5h0M1226 1275.1h0M1226.9 1277.7h0M1229.5 1285.5h0M872.9 1226.4h0M885.8 1262.9h0M886.1 1263.5h0M887.6 1267.9h0M888.9 1271.7h0M889.1 1272.3h0M1182.9 1268.6h0M1284.8 1258.4h0M1286.8 1262.5h0M1292.3 1273.8h0M1292.7 1274.7h0M1293.4 1276h0M1293.6 1276.4h0"/>
<path stroke="#ff5500" d="M736.4 1275.6h0M738.6 1270.7h0M738.8 1270.2h0M904 1257.6h0M1365.1 1274.7h0M1127.8 1269.8h0M1130.2 1264.5h0M1130.8 1263h0M1132.4 1259.6h0M962.6 1260.7h0M963.5 1257.8h0M1131.1 1264.5h0M793.8 1246.2h0M797.5 1255.1h0M1011.4 1262.9h0M1012.5 1265.5h0M1012.7 1266h0M772.8 1287.1h0M776.2 1289.5h0M1057.8 1276h0M1058.7 1273.9h0M1061.1 1268.2h0M1216.6 1251.8h0M752.2 1283.9h0M759.4 1279.2h0M764.9 1277.7h0M767.9 1277.8h0M768.4 1277.8h0M936.2 1263.4h0M937 1260.6h0M938.3 1256.5h0M938.8 1255.1h0M939.7 1252.4h0M1075.3 1224.2h0M1078.6 1233.2h0M1082.3 1243.2h0M1085.6 1251.8h0M1086 1252.9h0M1092.6 1269.4h0M738.2 1260.8h0M739.9 1264.7h0M1186.8 1271.4h0M1189 1264.3h0M1190.1 1260.7h0M1197.6 1235.9h0M1363.8 1254.8h0M827.4 1280.3h0M829.2 1276h0M829.8 1274.4h0M833.8 1264.7h0M835.3 1261h0M1012.5 1240.9h0M1019.9 1264.6h0M1020.6 1266.7h0M883.4 1268h0M883.9 1266.6h0M885.4 1261.6h0M1064.3 1256.6h0M1066.1 1260.6h0M1066.3 1261.1h0M1068.5 1266.2h0M1068.7 1266.7h0M980.3 1261.5h0M981 1259.8h0M1289.2 1271h0M1290.1 1270.6h0M1293.4 1269.4h0M1294 1269.2h0M1296.2 1268.9h0M1296.7 1268.8h0M1299.3 1268.9h0M1300.4 1269h0M1305.6 1270.8h0M1311.3 1274.7h0M1317 1280.6h0M981.9 1272.6h0M982.5 1271.1h0M985.4 1264.5h0M1168.2 1262.7h0M1169.3 1266.3h0M782.6 1279h0M786.3 1270.2h0M790.5 1260.5h0M791.3 1258.4h0M817.6 1250.1h0M818.9 1254.2h0M983.8 1267.6h0M985.4 1267.1h0M994.3 1267.3h0M997.2 1268.4h0M1004.2 1273.5h0M1009 1278.7h0M1010.8 1280.9h0M1011.8 1282.4h0M1295.8 1276.9h0M1298.4 1270.2h0M1299.1 1268.5h0M1300.2 1265.7h0M850.4 1279.1h0M853 1276h0M853.9 1275h0M855.2 1273.6h0M857.8 1271.2h0M859.4 1269.9h0M860.9 1268.9h0M863.5 1267.4h0M864 1267.2h0M865.3 1266.6h0M867 1266.1h0M867.7 1266h0M871.2 1265.6h0M874.5 1266h0M876 1266.4h0M879.9 1268.1h0M880.6 1268.5h0M881.7 1269.2h0M882.8 1269.9h0M884.5 1271.3h0M885.4 1272h0M888.2 1274.6h0M888.5 1274.8h0M890.4 1276.8h0M891.1 1277.6h0M1182.5 1250.7h0M1187.1 1263.1h0M1187.7 1264.8h0M1190.1 1271h0M840.6 1220h0M848.7 1243.5h0M850 1247.2h0M857 1266.3h0M857.2 1266.9h0M1150.8 1278.3h0M1151.2 1277.8h0M1155.1 1273.3h0M1155.3 1273.1h0M1156.7 1271.8h0M1159.1 1269.7h0M1160.2 1268.9h0M1160.4 1268.7h0M1161.5 1268h0M1163.7 1266.7h0M1164.1 1266.5h0M1165 1266.1h0M1165.2 1266h0M1167.4 1265.3h0M1167.8 1265.2h0M1168.2 1265.1h0M1169.3 1264.9h0M1171.5 1264.7h0M1173.1 1264.7h0M1173.9 1264.8h0M1174.8 1264.9h0M1182.9 1268.2h0M1187.9 1272h0M752.4 1271.7h0M756.6 1261.1h0M763.3 1243.8h0M924.1 1280h0M925.9 1275h0M926.3 1273.8h0M927 1271.9h0M928.3 1268.2h0M928.5 1267.6h0M929.4 1265.2h0M931.1 1260.2h0M933.1 1254.7h0M847.3 1274.4h0M848.2 1272.1h0M848.7 1270.9h0M851.1 1264.6h0M1072.9 1276.3h0M1074 1273.4h0M1076.6 1266.5h0M1079.2 1259.6h0M1267.6 1264h0M813.9 1277.2h0M814.1 1276.6h0M815.6 1272.1h0M819.1 1261.9h0M1148.6 1281.2h0M1152.7 1269.9h0M1345.9 1264.7h0M785.2 1266.1h0M1217.2 1277.1h0M1217.7 1275.8h0M1218.1 1274.5h0M1218.3 1273.9h0M1221.6 1264h0M1221.8 1263.4h0M1222.1 1262.7h0M1222.5 1261.4h0M981.9 1265.5h0M985.6 1258.9h0M991.5 1249.2h0M1035.5 1244.2h0M1040.5 1252.4h0M1042.5 1256.1h0M1044.7 1260.3h0M1048.4 1268.1h0M1049.5 1270.5h0M1049.7 1271h0M1050.8 1273.4h0M1052.3 1276.9h0M1333.8 1286.3h0M1334.1 1285.7h0M1336 1280.2h0M1340.4 1267.7h0M1341.7 1263.9h0M811 1285.2h0M813.2 1280.3h0M814.5 1277.4h0M817.4 1271.5h0M825.5 1256.5h0M879.1 1263.2h0M880.6 1265.7h0M883.7 1270.9h0M885.2 1273.5h0M1017.5 1255.1h0M1145.7 1244.8h0M1147 1248.7h0M1149.2 1255.2h0M1151.2 1260.9h0M1152.3 1264.1h0M914.9 1230h0M916.2 1234h0M917.6 1238h0M924.3 1258.2h0M924.6 1258.8h0M925.4 1261.4h0M926.5 1264.5h0M927.4 1267.1h0M928.7 1270.9h0M928.9 1271.5h0M1214.4 1289.3h0M1215.1 1287.7h0M1217 1283.1h0M1217.7 1281.6h0M1218.6 1279.6h0M1219.9 1276.6h0M1222.5 1270.8h0M1223.8 1268h0M1224.9 1265.8h0M1225.1 1265.3h0M1296 1266.8h0M1296.9 1268.3h0M1298.4 1270.9h0M1299.5 1272.8h0M1299.7 1273.1h0M1300.4 1274.3h0M1300.8 1275h0M1301.7 1276.6h0M1018.6 1287.5h0M1023.4 1273.7h0M1157.3 1262.2h0M1281.3 1266.7h0M1284 1261.8h0M1337.1 1228.3h0M1349.2 1246.8h0M1349.6 1247.6h0M1350.9 1250.2h0M1353.5 1255.5h0M1354 1256.4h0M1354.2 1256.9h0M1360.3 1270.6h0M1360.5 1271.1h0M1364.5 1280.6h0M931.6 1274.2h0M931.8 1273.5h0M932 1272.9h0M1055.2 1242.5h0M1063 1264.1h0M1065.4 1270.3h0M1186.2 1264.9h0M1186.4 1264.5h0M1192.5 1252.3h0M1266.5 1262.7h0M1271.1 1274.1h0M1272.6 1278.1h0M746.9 1251.1h0M753.1 1267.4h0M754.6 1271.3h0M873.4 1266.1h0M873.8 1265.3h0M879.7 1253.3h0M941.8 1230.9h0M962.2 1277.6h0M1248.8 1277h0M1253.1 1264h0M1256.4 1254.1h0M883.9 1280.9h0M888 1269.4h0M888.5 1268.2h0M893.3 1255.2h0M893.9 1253.5h0M982.1 1262.7h0M985.2 1269.4h0M988 1275.5h0M988.9 1277.4h0M990.4 1280.6h0M1104.4 1257.5h0M1104.6 1256.9h0M1107 1250.6h0M1216.8 1247.3h0M1217.2 1248.7h0M1220.3 1258h0M1220.5 1258.6h0M1222.3 1263.9h0M1224.5 1270.5h0M1224.9 1271.8h0M772.1 1264.6h0M772.5 1263.7h0M773 1262.7h0M874.2 1230.1h0M879.7 1245.4h0M882.3 1252.8h0M884.8 1259.7h0M886.3 1264.1h0M886.9 1266h0M888.7 1271h0M1183.1 1268h0M1183.3 1267.4h0M1184.4 1264.4h0M1185.3 1262h0M1283.1 1254.6h0M1286.2 1261.1h0M1287.2 1263.4h0M1294 1277.3h0"/>
<path stroke="#ff8000" d="M736.7 1275.1h0M738 1272.1h0M739.5 1268.7h0M750.2 1243.7h0M751.5 1240.6h0M903.1 1254.8h0M904.2 1258.4h0M904.4 1259.1h0M1365.8 1273.2h0M1127.3 1270.8h0M1127.6 1270.3h0M1134.1 1255.6h0M965.7 1250.6h0M1119.2 1237.5h0M1126.5 1254.2h0M1127.3 1256.2h0M1129.1 1260.1h0M1131.5 1265.5h0M1131.9 1266.4h0M800.5 1262.3h0M801.4 1264.3h0M1270.6 1251.9h0M850.8 1264.1h0M860 1233.8h0M1008.6 1256.2h0M1009.4 1258.3h0M1010.3 1260.4h0M1013.8 1268.6h0M1058 1275.5h0M1059.3 1272.4h0M1059.5 1271.9h0M1060 1270.8h0M1060.4 1269.8h0M1061.7 1266.7h0M1062.6 1264.5h0M1064.6 1259.8h0M1217.2 1253.9h0M749.1 1286.9h0M763.6 1277.9h0M765.3 1277.7h0M766.2 1277.7h0M767.5 1277.7h0M770.3 1278.2h0M774.9 1279.9h0M783 1285.7h0M936.8 1261.3h0M937.9 1257.9h0M1086.9 1255.2h0M1089.9 1262.9h0M1090.6 1264.6h0M1091 1265.7h0M1091.9 1267.8h0M1092.1 1268.4h0M738 1260.3h0M739.3 1263.3h0M739.5 1263.8h0M740.4 1265.7h0M740.8 1266.7h0M741 1267.2h0M741.5 1268.2h0M1187.3 1270h0M1187.7 1268.5h0M1190.3 1260h0M829.6 1274.9h0M830.1 1273.8h0M835.8 1260h0M1018.2 1259.1h0M1020.4 1266h0M1064.8 1257.6h0M1065.9 1260.1h0M976.6 1271.1h0M977.3 1269.4h0M978.8 1265.5h0M979.2 1264.3h0M980.6 1260.9h0M983 1254.6h0M1123.8 1245.1h0M1126.9 1254.7h0M1129.3 1262.1h0M1290.3 1270.5h0M1297.1 1268.8h0M1298 1268.8h0M1302.3 1269.5h0M1303.4 1269.8h0M1310.4 1274h0M1314.4 1277.7h0M980.8 1275.2h0M981 1274.7h0M981.7 1273.1h0M982.8 1270.6h0M983 1270.1h0M986.2 1262.4h0M782.8 1278.5h0M786.8 1269.2h0M794.4 1251.3h0M968.3 1250.2h0M970.9 1258.8h0M971.4 1260.2h0M972.2 1263h0M820.2 1258.2h0M821.1 1260.9h0M980.3 1269.2h0M985.6 1267h0M985.8 1267h0M986.9 1266.8h0M993.5 1267h0M995.4 1267.7h0M999.2 1269.5h0M1000.7 1270.6h0M1295.1 1278.5h0M1300.4 1265.1h0M1301.2 1262.8h0M1301.9 1261.1h0M848.9 1281.2h0M851.3 1278h0M851.9 1277.2h0M852.6 1276.5h0M854.3 1274.5h0M855.4 1273.4h0M856.5 1272.3h0M857.2 1271.7h0M861.8 1268.3h0M862.2 1268.1h0M865.9 1266.4h0M869.7 1265.7h0M871 1265.6h0M871.4 1265.6h0M871.6 1265.6h0M872.3 1265.7h0M874 1265.9h0M874.2 1266h0M874.7 1266.1h0M874.9 1266.1h0M875.3 1266.2h0M879.1 1267.7h0M879.7 1268h0M880.4 1268.4h0M880.8 1268.6h0M882.6 1269.8h0M883.2 1270.2h0M884.1 1270.9h0M885.2 1271.8h0M885.8 1272.3h0M886.7 1273.1h0M888.7 1275h0M892 1278.5h0M1043.8 1246.8h0M1044 1246.1h0M1180.9 1246.5h0M1181.4 1247.8h0M1184 1254.9h0M1184.4 1256.1h0M1185.3 1258.4h0M843.2 1227.8h0M847.1 1239.1h0M848 1241.6h0M850.8 1249.6h0M851.9 1252.7h0M854.6 1259.8h0M1149.9 1279.5h0M1155.6 1272.9h0M1155.8 1272.6h0M1156 1272.4h0M1156.2 1272.2h0M1157.1 1271.4h0M1157.8 1270.8h0M1158 1270.6h0M1158.6 1270.1h0M1159.9 1269.1h0M1161 1268.3h0M1163.9 1266.6h0M1165.6 1265.9h0M1168.7 1265h0M1174.6 1264.9h0M1177.2 1265.5h0M1178.5 1266h0M1180.1 1266.7h0M1181.6 1267.5h0M1186 1270.4h0M1186.4 1270.8h0M1338.4 1257.1h0M752.6 1271.2h0M754.2 1267.2h0M754.8 1265.6h0M757.2 1259.4h0M940.3 1251h0M944.7 1264.7h0M945.3 1266.7h0M925.4 1276.3h0M932 1257.8h0M932.9 1255.3h0M938.8 1238.7h0M1116 1248.5h0M851.3 1264h0M855.9 1252h0M1036.1 1248.4h0M1038.1 1254.5h0M1041.2 1264h0M1041.6 1265.3h0M1075.1 1270.5h0M1076.2 1267.6h0M1076.4 1267.1h0M1077 1265.3h0M1267.1 1262.6h0M1267.3 1263.3h0M815.4 1272.8h0M816.7 1268.9h0M818.7 1263.2h0M819.3 1261.3h0M822.4 1252.3h0M1009.2 1262h0M1149.2 1279.4h0M1150.1 1277h0M1152.9 1269.3h0M1155.8 1261.6h0M1346.1 1265.4h0M779.8 1251.1h0M782.2 1257.7h0M782.8 1259.5h0M783 1260.1h0M784.1 1263.1h0M785 1265.5h0M1216.6 1279.1h0M1219.2 1271.2h0M1220.3 1268h0M1221.4 1264.7h0M842.8 1245.3h0M843.4 1247.3h0M844.5 1250.7h0M847.6 1259.8h0M849.1 1264.3h0M980.6 1267.9h0M981 1267.1h0M982.3 1264.7h0M983.2 1263.1h0M984.5 1260.8h0M1028 1235.1h0M1030.2 1237.3h0M1039.2 1250.2h0M1039.4 1250.5h0M1040.7 1252.8h0M1044.4 1259.9h0M1044.9 1260.8h0M1045.1 1261.2h0M1046.6 1264.4h0M1336.5 1279h0M1337.1 1277.1h0M1339.5 1270.3h0M1339.8 1269.6h0M814.3 1277.9h0M818.7 1268.8h0M819.8 1266.7h0M821.1 1264.2h0M821.3 1263.8h0M822.8 1261h0M823.5 1259.8h0M827.4 1253.4h0M829.2 1250.8h0M850.6 1236h0M865.1 1244.4h0M871.2 1251.6h0M873.4 1254.6h0M874.2 1255.9h0M874.9 1256.8h0M879.7 1264.3h0M879.9 1264.6h0M883.9 1271.2h0M884.1 1271.6h0M885 1273.1h0M1016 1259.6h0M1137 1217.9h0M1146.8 1248h0M914.1 1227.4h0M921.7 1250.4h0M927.6 1267.7h0M1224.7 1266.2h0M1226.4 1262.7h0M1227.8 1260.1h0M1229.3 1257.2h0M1290.3 1257.4h0M1290.5 1257.8h0M1292.7 1261.3h0M1293.4 1262.4h0M1294.2 1263.8h0M1297.5 1269.4h0M1029.3 1256.3h0M1154.9 1255.8h0M1156.7 1260.5h0M1284.6 1260.6h0M1284.8 1260.2h0M1285.3 1259.4h0M1285.7 1258.6h0M1286.2 1257.9h0M1286.4 1257.5h0M1290.1 1250.9h0M1291 1249.4h0M1332.3 1223.5h0M1338 1229.3h0M1338.2 1229.6h0M1341.3 1233.7h0M1343 1236.3h0M1344.8 1239.1h0M1349.8 1248.1h0M1350.2 1248.9h0M1350.5 1249.3h0M1352 1252.4h0M1352.7 1253.7h0M1356.6 1262.1h0M1357 1263.1h0M1358.8 1267h0M1360.8 1271.6h0M928.1 1284.4h0M931.3 1274.8h0M933.5 1268.3h0M1058.9 1252.9h0M1060 1255.8h0M1060.2 1256.4h0M1060.6 1257.6h0M1065.9 1271.4h0M1185.8 1265.8h0M1187.3 1262.7h0M1192.3 1252.8h0M1200 1238.5h0M1245.7 1221.9h0M1252.2 1232.3h0M1263 1254.4h0M749.6 1258.2h0M750.7 1261.1h0M755 1272.5h0M872.7 1267.5h0M874.2 1264.4h0M874.5 1263.9h0M875.6 1261.7h0M879.5 1253.8h0M937.9 1224.1h0M948.2 1243.7h0M951.2 1250.5h0M954.8 1258.8h0M959.1 1269.7h0M962 1277h0M1247 1282.1h0M1250.7 1271.2h0M1252.2 1266.6h0M1254.4 1260h0M884.8 1278.4h0M888.7 1267.6h0M890.7 1262.2h0M891.8 1259.3h0M968.8 1233.9h0M978.4 1254.6h0M980.1 1258.4h0M981.7 1261.8h0M984.7 1268.5h0M986 1271.3h0M986.9 1273.2h0M988.4 1276.5h0M989.8 1279.3h0M1103.1 1260.9h0M1103.3 1260.3h0M1105.2 1255.2h0M1211.6 1231.3h0M1214.4 1240h0M1214.6 1240.6h0M1214.8 1241.3h0M1216.2 1245.3h0M1217 1248h0M1218.3 1252h0M1221 1260h0M1221.4 1261.3h0M771.9 1265.1h0M774.5 1259.3h0M774.7 1258.8h0M775.4 1257.3h0M882.1 1252.2h0M1179.2 1278.9h0M1180.3 1275.8h0M1181.2 1273.4h0M1184 1265.5h0M1184.7 1263.8h0M1282.9 1254.2h0M1285.3 1259.3h0"/>
<path stroke="#ffaa00" d="M739.3 1269.2h0M740.4 1266.7h0M741.5 1264.2h0M742.3 1262.2h0M743.4 1259.7h0M745 1256.1h0M745.6 1254.6h0M746.5 1252.6h0M903.3 1255.5h0M905.1 1261.2h0M1129.8 1265.4h0M1130 1265h0M1130.4 1264h0M1130.6 1263.5h0M1131.3 1262h0M1132.6 1259.1h0M961.8 1263.5h0M962 1262.8h0M962.2 1262.1h0M963.9 1256.4h0M965 1252.8h0M966.3 1248.4h0M1122.5 1245.2h0M1127.6 1256.6h0M1130 1262.1h0M1130.4 1263h0M1131.3 1265h0M781.5 1215.2h0M795.5 1250.4h0M796.2 1252h0M798.8 1258.2h0M799 1258.7h0M800.3 1261.8h0M1267.3 1262.5h0M1269.1 1256.9h0M1270 1254h0M851.7 1261.3h0M1007.5 1253.6h0M1010.5 1260.9h0M1011.2 1262.4h0M1058.2 1275h0M1063.2 1263h0M1064.1 1260.8h0M1065.2 1258.1h0M1215.1 1246.8h0M1218.3 1257.4h0M1218.8 1258.8h0M1219.7 1261.6h0M751.8 1284.3h0M755.7 1281.2h0M762.2 1278.2h0M774.5 1279.7h0M776.7 1280.8h0M937.7 1258.6h0M945.6 1233h0M1074 1220.5h0M1076.2 1226.6h0M1077 1229h0M1077.2 1229.6h0M1087.1 1255.7h0M1087.5 1256.9h0M1088.4 1259.1h0M1091.2 1266.2h0M737.5 1259.3h0M738.4 1261.3h0M739.7 1264.2h0M1187.1 1270.7h0M1189.9 1261.4h0M1191 1257.8h0M1191.7 1255.7h0M1196.9 1238.1h0M1361.8 1250.4h0M1365.6 1258.8h0M827 1281.3h0M831.6 1270.1h0M835.5 1260.5h0M836 1259.4h0M839 1252h0M839.2 1251.5h0M842.1 1244.6h0M844.5 1238.8h0M1018.6 1260.5h0M884.1 1265.9h0M886.7 1257.4h0M888.2 1252.4h0M889.1 1249.5h0M889.3 1248.8h0M1061.9 1251h0M1064.6 1257.1h0M1065.7 1259.6h0M1067.2 1263.2h0M977.9 1267.7h0M980.8 1260.4h0M981.2 1259.2h0M981.4 1258.6h0M1124.7 1247.8h0M1126.2 1252.7h0M1288.8 1271.3h0M1289 1271.1h0M1298.4 1268.8h0M979.2 1278.8h0M981.2 1274.2h0M982.1 1272.1h0M983.2 1269.6h0M983.6 1268.5h0M984.3 1267h0M986.7 1261.4h0M986.9 1260.9h0M990.8 1251.8h0M1162.3 1243.4h0M1163 1245.5h0M1166.3 1256.3h0M1166.9 1258.5h0M1168.9 1264.9h0M787 1268.7h0M787.4 1267.7h0M790.2 1261h0M790.9 1259.5h0M803.4 1230.6h0M966.3 1243.7h0M970.3 1256.6h0M970.5 1257.3h0M972.5 1263.7h0M821.5 1262.2h0M981.2 1268.7h0M981.7 1268.5h0M982.5 1268.1h0M1003.8 1273.1h0M1296.2 1275.8h0M1299.3 1268h0M1300.6 1264.5h0M1300.8 1264h0M1305.4 1251.7h0M1306.7 1248.2h0M864.2 1267.1h0M864.4 1267h0M866.4 1266.3h0M868.3 1265.8h0M870.5 1265.6h0M872.5 1265.7h0M873.2 1265.8h0M875.6 1266.3h0M876.4 1266.6h0M878.6 1267.5h0M880.2 1268.3h0M883.4 1270.4h0M887.6 1273.9h0M890 1276.4h0M891.5 1278h0M1044.7 1244h0M1176.3 1233.7h0M1177.9 1238h0M1181.2 1247.2h0M1183.6 1253.7h0M1185.1 1257.8h0M1186.2 1260.7h0M851.3 1250.8h0M1143.5 1288.8h0M1152.3 1276.4h0M1152.7 1275.9h0M1162.8 1267.2h0M1165.8 1265.8h0M1166.3 1265.6h0M1170.2 1264.7h0M1171.8 1264.7h0M1172.6 1264.7h0M1172.8 1264.7h0M1175.2 1265h0M1177 1265.5h0M1181.8 1267.6h0M1182.2 1267.8h0M1182.5 1268h0M1183.3 1268.5h0M1184 1269h0M1189.2 1273.2h0M1191 1274.9h0M1339.1 1255.2h0M755.2 1264.4h0M755.7 1263.3h0M756.3 1261.6h0M758.1 1257.2h0M762.2 1246.6h0M943.6 1261.3h0M944.2 1263.3h0M930.9 1260.8h0M931.6 1259h0M936.4 1245.4h0M938.6 1239.3h0M1112.7 1238.9h0M1117.9 1254.3h0M1120.1 1260.7h0M1121.2 1263.8h0M849.8 1268h0M850.2 1266.9h0M850.4 1266.3h0M850.6 1265.7h0M1037.2 1251.8h0M1039.8 1259.9h0M1040.3 1261.3h0M1074.6 1271.7h0M1077.7 1263.6h0M1078.3 1261.9h0M1079.7 1258.4h0M1080.5 1256.1h0M1086.2 1241.3h0M1260.8 1243h0M1261.2 1244.3h0M1264.9 1255.9h0M1265.2 1256.5h0M1266.7 1261.3h0M1266.9 1261.9h0M815.2 1273.4h0M816.9 1268.3h0M817.6 1266.4h0M817.8 1265.7h0M818 1265.1h0M820 1259.4h0M820.2 1258.7h0M820.4 1258.1h0M826.6 1240.2h0M1002 1241.6h0M1007 1255.8h0M1007.5 1257h0M1008.1 1258.9h0M1151.4 1273.5h0M1152.1 1271.7h0M1157.3 1257.5h0M1157.8 1256.3h0M1158.4 1254.6h0M1338 1240.7h0M1343.2 1256.7h0M781.1 1254.7h0M784.8 1264.9h0M785.7 1267.3h0M1219.7 1269.9h0M1220.1 1268.6h0M1220.5 1267.3h0M1223.2 1259.4h0M1225.3 1252.8h0M1225.6 1252.2h0M1226.2 1250.2h0M844.7 1251.3h0M847.1 1258.5h0M849.3 1264.9h0M983 1263.5h0M984.1 1261.5h0M987.1 1256.2h0M995.4 1243.6h0M999.8 1238.2h0M1019.5 1229.6h0M1019.9 1229.7h0M1028.7 1235.7h0M1031.5 1238.9h0M1340.8 1266.5h0M1341.5 1264.6h0M1341.9 1263.3h0M1343.7 1258.2h0M821.8 1263h0M822.6 1261.4h0M824.2 1258.7h0M824.4 1258.3h0M828.5 1251.8h0M828.8 1251.4h0M835.3 1243.3h0M866.4 1245.8h0M871.8 1252.5h0M872.7 1253.7h0M873.6 1254.9h0M874 1255.5h0M876.2 1258.8h0M878.2 1261.8h0M878.8 1262.9h0M879.5 1263.9h0M881.7 1267.5h0M882.8 1269.4h0M884.3 1272h0M1015.8 1260.2h0M1019.9 1248.1h0M1022.8 1239.5h0M1136.3 1215.8h0M1138.7 1223.4h0M1141.8 1232.8h0M793.3 1260.8h0M793.5 1260.2h0M794.4 1258h0M795.5 1255.1h0M797.2 1250.5h0M798.6 1246.9h0M914.7 1229.4h0M916.9 1236h0M917.3 1237.3h0M919.8 1244.6h0M923.2 1254.9h0M925 1260.1h0M1224.5 1266.7h0M1229.5 1256.8h0M1231.5 1253.2h0M1235.6 1246.3h0M1280 1242.6h0M1285.5 1250h0M1289.2 1255.7h0M1289.7 1256.4h0M1292.3 1260.6h0M1292.5 1260.9h0M1299.1 1272h0M1301.5 1276.2h0M1301.9 1276.9h0M1025.8 1266.7h0M1026.3 1265.4h0M1028.5 1258.9h0M1030.4 1253h0M1151.6 1246.9h0M1154 1253.5h0M1281.1 1267.1h0M1281.6 1266.3h0M1282.4 1264.6h0M1285.5 1259h0M1286.8 1256.7h0M1290.5 1250.2h0M1307.6 1226.4h0M1333.4 1224.5h0M1337.3 1228.5h0M1338.7 1230.1h0M1341.9 1234.6h0M1342.6 1235.6h0M1343.2 1236.6h0M1353.1 1254.6h0M932.4 1271.6h0M936.8 1258.5h0M939.2 1251.2h0M946.4 1228.9h0M1058.7 1252.3h0M1061.7 1260.6h0M1187.9 1261.4h0M1188.6 1260.1h0M1189 1259.2h0M1190.1 1257h0M1254 1235.5h0M1257.7 1242.9h0M1262.1 1252.4h0M1263.4 1255.4h0M1266 1261.6h0M748.2 1254.7h0M749.3 1257.6h0M750.9 1261.7h0M751.3 1262.9h0M751.5 1263.4h0M753.5 1268.6h0M754.8 1271.9h0M876.2 1260.4h0M876.4 1259.9h0M878 1256.8h0M878.6 1255.5h0M880.4 1252h0M883.4 1246.1h0M940.1 1227.7h0M942.5 1232.1h0M951 1250h0M952.6 1253.5h0M1250.5 1271.8h0M1254.7 1259.4h0M1256.6 1253.4h0M1265.2 1227.1h0M889.1 1266.4h0M890.2 1263.4h0M890.4 1262.8h0M898.3 1242.3h0M977.5 1252.7h0M979.2 1256.5h0M983 1264.6h0M983.6 1266.1h0M985.6 1270.4h0M1101.3 1265.3h0M1102.6 1262h0M1106.6 1251.8h0M1111.4 1238.8h0M1115.8 1226.8h0M1116.2 1225.6h0M1207.8 1219.9h0M1209.4 1224.6h0M1210.2 1227.3h0M1220.1 1257.3h0M1221.6 1261.9h0M1223.6 1267.9h0M771.7 1265.6h0M772.3 1264.2h0M776.5 1254.8h0M876.4 1236.1h0M877.3 1238.6h0M878.6 1242.3h0M883.9 1257.2h0M1181.6 1272.2h0M1184.9 1263.2h0M1185.5 1261.4h0M1185.8 1260.8h0M1186 1260.2h0M1282 1252.3h0M1283.5 1255.6h0M1284.4 1257.4h0M1288.3 1265.7h0M1288.6 1266.2h0M1289.2 1267.5h0M1290.5 1270.3h0M1291 1271.1h0M1292.5 1274.3h0"/>
<path stroke="#ffd400" d="M743 1260.7h0M744.5 1257.2h0M745.8 1254.1h0M898.5 1239.4h0M899.4 1242.4h0M900.5 1246.1h0M902.7 1253.3h0M902.9 1254.1h0M903.6 1256.2h0M1126.5 1272.7h0M1128.7 1267.9h0M1131.9 1260.5h0M1132.2 1260.1h0M1134.8 1254.1h0M1135.2 1253.1h0M961.5 1264.3h0M962.8 1260h0M963.7 1257.1h0M964.4 1254.9h0M966.6 1247.7h0M970.1 1235.8h0M1117.5 1233.4h0M1124.9 1250.7h0M1127.8 1257.1h0M1128.4 1258.6h0M1128.7 1259.1h0M1129.8 1261.6h0M1130.2 1262.5h0M1132.2 1266.9h0M795.7 1250.9h0M795.9 1251.4h0M797.2 1254.6h0M798.6 1257.7h0M800.1 1261.2h0M800.8 1262.8h0M802.5 1266.8h0M1267.6 1261.8h0M1270.8 1251.1h0M1273.9 1240.9h0M1278.9 1223.6h0M851.3 1262.7h0M853.5 1255.6h0M854.3 1252.8h0M854.6 1252.1h0M992.4 1215.2h0M996.1 1225h0M997.8 1229.6h0M1000.5 1236.3h0M1062.8 1264h0M1065.9 1256.5h0M1066.8 1254.4h0M1068.1 1251.1h0M1213.8 1242.4h0M1214.6 1245.3h0M1216.2 1250.3h0M1216.4 1251.1h0M1217.7 1255.3h0M1218.6 1258.1h0M937.2 1260h0M939.4 1253.1h0M942.3 1243.9h0M1074.8 1222.9h0M1080.3 1238h0M1084.7 1249.5h0M1084.9 1250.1h0M1087.8 1257.4h0M1089.1 1260.7h0M736.2 1256.4h0M1189.5 1262.9h0M1190.8 1258.6h0M1192.1 1254.2h0M1193.6 1249.1h0M1353.8 1232.2h0M1355.5 1236.1h0M1361.6 1249.9h0M1363.2 1253.4h0M826.6 1282.4h0M833.6 1265.3h0M834.7 1262.6h0M835.1 1261.6h0M836.2 1258.9h0M1006.2 1220.1h0M1013.8 1245.1h0M1016 1252.1h0M1017.5 1257h0M1018.4 1259.8h0M882.1 1272.2h0M883.2 1268.7h0M886.1 1259.5h0M886.3 1258.8h0M888.9 1250.2h0M889.6 1248h0M1047.9 1218.9h0M1061.3 1249.5h0M1061.7 1250.5h0M1063.9 1255.6h0M1064.1 1256.1h0M1065 1258.1h0M979.7 1263.2h0M983.6 1252.8h0M1119 1229.3h0M1119.2 1230.1h0M1127.8 1257.4h0M1129.5 1262.8h0M978.8 1279.8h0M984.5 1266.5h0M986 1262.9h0M989.1 1255.8h0M992.8 1247.3h0M1162.8 1244.8h0M1163.2 1246.3h0M1165.4 1253.5h0M1168 1262h0M1168.7 1264.2h0M793.5 1253.4h0M793.8 1252.8h0M962.2 1229.8h0M968.5 1250.9h0M969.4 1253.8h0M970.1 1255.9h0M972.9 1265.1h0M809.7 1224.4h0M814.5 1240.3h0M815.4 1243.1h0M818.5 1252.8h0M820.4 1258.9h0M820.7 1259.5h0M821.3 1261.5h0M988.2 1266.6h0M1301.5 1262.2h0M1304.5 1254.1h0M1304.8 1253.5h0M1305.8 1250.6h0M856.3 1272.5h0M860.7 1269h0M862 1268.2h0M868.6 1265.8h0M869.2 1265.7h0M869.9 1265.6h0M877.3 1266.9h0M878 1267.2h0M1040.9 1255.7h0M1045.8 1240.5h0M1046.4 1238.4h0M1048.2 1232.7h0M1052.1 1219.5h0M1171.3 1219h0M1172.6 1222.9h0M1172.8 1223.5h0M839.5 1216.7h0M841.4 1222.6h0M845.2 1233.5h0M846.9 1238.5h0M851.5 1251.4h0M854.1 1258.7h0M1164.3 1266.4h0M1170.9 1264.7h0M1175.5 1265.1h0M1180.9 1267.1h0M1185.1 1269.7h0M1187.1 1271.3h0M1188.6 1272.6h0M1340.6 1250.7h0M1341.9 1246.7h0M1347.8 1228.5h0M757.9 1257.7h0M758.5 1256h0M758.8 1255.5h0M759.2 1254.4h0M760.1 1252.1h0M939.9 1249.6h0M941.2 1253.7h0M941.4 1254.4h0M942.7 1258.5h0M924.8 1278.1h0M927.8 1269.5h0M929.8 1263.9h0M931.8 1258.4h0M935.5 1247.9h0M1114.7 1244.7h0M1117.7 1253.6h0M1120.6 1261.9h0M853.2 1258.9h0M854.3 1256h0M856.1 1251.5h0M859.4 1243h0M1033.5 1240.2h0M1035.2 1245.7h0M1036.8 1250.4h0M1038.8 1256.5h0M1074.8 1271.1h0M1080.3 1256.7h0M1081 1255h0M1082.1 1252.1h0M1084 1247h0M1263.2 1250.5h0M1263.6 1251.8h0M1268 1265.3h0M821.8 1254.2h0M996.8 1226.9h0M999.4 1234.2h0M1005.1 1250.2h0M1009 1261.4h0M1156.4 1259.9h0M1156.7 1259.3h0M1158 1255.7h0M1158.6 1254h0M1159.3 1252.2h0M1159.7 1251h0M1341.3 1250.7h0M1343.7 1258.1h0M779.1 1249.3h0M780 1251.7h0M780.2 1252.3h0M780.6 1253.5h0M781.3 1255.3h0M782.4 1258.3h0M782.6 1258.9h0M1224.7 1254.8h0M1232.3 1231.8h0M1234.5 1225.2h0M837.3 1228.1h0M843.8 1248.7h0M845.4 1253.3h0M847.3 1259.2h0M848 1261.1h0M983.6 1262.3h0M983.8 1261.9h0M985.8 1258.5h0M987.6 1255.5h0M988.4 1254.1h0M990 1251.6h0M990.2 1251.2h0M990.8 1250.2h0M995 1244.2h0M1024.3 1232h0M1037 1246.6h0M1336.2 1279.6h0M1337.3 1276.5h0M1344.8 1254.9h0M1345.4 1252.9h0M820 1266.3h0M821.5 1263.4h0M825.9 1255.8h0M829 1251.1h0M830.3 1249.3h0M833.1 1245.7h0M847.3 1236.1h0M860.2 1240.1h0M870.8 1251h0M874.5 1256.2h0M874.7 1256.5h0M879.3 1263.6h0M1015.1 1262h0M1015.3 1261.4h0M1016.7 1257.7h0M1017.1 1256.4h0M1017.3 1255.8h0M1018.6 1251.9h0M1019.1 1250.7h0M1020.8 1245.5h0M1137.6 1219.9h0M1140.9 1230.1h0M1148.3 1252.6h0M793.8 1259.7h0M795.3 1255.7h0M795.9 1254h0M796.4 1252.8h0M797.7 1249.3h0M913.2 1224.7h0M920.4 1246.5h0M1221 1274.2h0M1226.7 1262.2h0M1226.9 1261.8h0M1228.2 1259.2h0M1231.7 1252.8h0M1242 1237.7h0M1261.4 1228.2h0M1281.1 1244h0M1286.2 1251h0M1286.8 1252h0M1287 1252.3h0M1293.2 1262h0M1293.8 1263.1h0M1301.2 1275.8h0M1024.5 1270.5h0M1025.2 1268.6h0M1026.9 1263.4h0M1028 1260.2h0M1028.2 1259.6h0M1028.7 1258.3h0M1033.3 1244.4h0M1142.9 1221.9h0M1154.5 1254.7h0M1158.4 1265.1h0M1284.2 1261.4h0M1287.9 1254.7h0M1288.6 1253.6h0M1288.8 1253.2h0M1291.6 1248.3h0M1292.5 1246.9h0M1304.3 1229.9h0M1334.3 1225.3h0M1335.6 1226.6h0M1336.2 1227.3h0M1338.4 1229.9h0M1353.8 1256h0M937.9 1255.2h0M938.3 1253.8h0M943.6 1237.7h0M1059.5 1254.7h0M1061.3 1259.4h0M1061.5 1260h0M1064.1 1266.9h0M1065 1269.2h0M1186.8 1263.6h0M1187.1 1263.1h0M1190.6 1256.2h0M1190.8 1255.7h0M1191.7 1254h0M1192.1 1253.2h0M1193 1251.5h0M1198 1242h0M1241.1 1216.4h0M1252.7 1233.1h0M741 1234.6h0M750 1259.4h0M752.2 1265.2h0M752.4 1265.7h0M874 1264.8h0M875.3 1262.1h0M878.2 1256.4h0M888.5 1236.7h0M939 1225.9h0M944.9 1236.8h0M1257.7 1250.1h0M891.3 1260.4h0M894.6 1251.8h0M895 1250.6h0M897.7 1243.9h0M901.6 1234.3h0M973.8 1244.6h0M974 1245h0M975.5 1248.4h0M978.6 1255.1h0M980.3 1258.9h0M987.8 1275.1h0M1107.2 1250h0M1113.1 1234.1h0M1114.7 1229.8h0M1118.4 1219.5h0M1206.5 1215.9h0M775.6 1256.8h0M776.2 1255.3h0M777.6 1252.3h0M778.2 1250.8h0M871.8 1223.5h0M877.1 1238h0M1182 1271h0M1187.3 1256.6h0M1189.2 1251.3h0M1190.3 1248.4h0M1276.8 1241h0M1282.4 1253.2h0M1288.1 1265.3h0M1288.8 1266.6h0"/>
<path stroke="#ffff00" d="M747.8 1249.5h0M755 1232h0M1133.9 1256.1h0M1138.5 1245.6h0M1141.3 1239h0M1143.3 1234.3h0M1293.4 1245.1h0M1293.8 1246.6h0M1295.1 1251h0M1296 1253.9h0M969.8 1236.5h0M970.9 1232.8h0M1116.8 1231.9h0M1121 1241.6h0M1122.1 1244.2h0M1125.4 1251.7h0M1125.6 1252.2h0M1128 1257.6h0M797.7 1255.6h0M1271.1 1250.4h0M1272.2 1246.8h0M852.4 1259.2h0M854.1 1253.5h0M857.2 1243.4h0M857.4 1242.7h0M862.4 1225.5h0M996.8 1226.7h0M1000.7 1236.8h0M1002.4 1241.2h0M1005.5 1248.8h0M1007.7 1254.1h0M1008.1 1255.1h0M1066.1 1256h0M1067 1253.8h0M1067.2 1253.3h0M1068.5 1250h0M1069.6 1247.2h0M1069.8 1246.7h0M1214.4 1244.6h0M938.6 1255.8h0M944.9 1235.2h0M1075.7 1225.4h0M738.8 1262.3h0M739.1 1262.8h0M1192.5 1252.8h0M1194.1 1247.7h0M1196 1241.1h0M1197.3 1236.6h0M1357.9 1241.6h0M1359.7 1245.5h0M1362.3 1251.4h0M1363.6 1254.4h0M1364.2 1255.8h0M839.7 1250.4h0M840.6 1248.3h0M843.4 1241.4h0M850 1225.6h0M1015.8 1251.4h0M1017.1 1255.6h0M1018 1258.4h0M887.2 1255.9h0M887.4 1255.2h0M890.7 1244.4h0M892 1240h0M1057.6 1241h0M1061.5 1250h0M986.2 1245.7h0M986.7 1244.5h0M1125.8 1251.3h0M1126.7 1254h0M1128.7 1260.1h0M987.3 1259.9h0M987.8 1258.9h0M989.5 1254.8h0M997.4 1236.7h0M1158.4 1230.2h0M1161 1239h0M1163.9 1248.4h0M1164.8 1251.3h0M1165.2 1252.8h0M1165.6 1254.2h0M791.6 1257.9h0M792.9 1254.9h0M794.2 1251.8h0M802.5 1232.6h0M805.1 1226.6h0M969 1252.3h0M969.6 1254.5h0M813.7 1237.5h0M816.5 1246.6h0M980.6 1269.1h0M1305 1252.9h0M1311.3 1235.4h0M859.6 1269.8h0M1040.3 1257.7h0M1042.2 1251.6h0M1048.4 1232h0M1172 1221h0M1174.2 1227.4h0M1178.3 1239.2h0M840.3 1219.3h0M843.8 1229.7h0M1156.9 1271.6h0M1166.7 1265.5h0M1173.7 1264.8h0M1175 1265h0M1339.3 1254.6h0M1346.3 1233.3h0M1348.1 1227.8h0M749.6 1279.1h0M755.5 1263.9h0M759.6 1253.3h0M763.1 1244.4h0M768.4 1231.2h0M937.9 1243.4h0M941 1253h0M930.5 1262.1h0M931.3 1259.6h0M932.2 1257.1h0M934.2 1251.6h0M935.7 1247.3h0M1113.8 1242.1h0M851.7 1262.9h0M852.2 1261.7h0M852.6 1260.6h0M854.6 1255.4h0M860.2 1240.7h0M1034.2 1242.2h0M1036.6 1249.7h0M1087.1 1239.1h0M1258.8 1236.9h0M1260.6 1242.3h0M1261.4 1245h0M1267.8 1264.6h0M820.7 1257.4h0M822.6 1251.7h0M830.1 1230h0M1002.7 1243.5h0M1004.8 1249.6h0M1005.3 1250.9h0M1006.6 1254.6h0M1007.2 1256.4h0M1008.8 1260.8h0M1156.9 1258.7h0M1157.5 1256.9h0M1158.8 1253.4h0M1159.5 1251.6h0M1162.6 1243.4h0M1162.8 1242.9h0M1335.4 1232.7h0M1336.7 1236.7h0M1337.8 1240.1h0M1338.2 1241.4h0M1341.7 1252.1h0M1342.2 1253.4h0M1342.6 1254.7h0M776.5 1242.2h0M780.4 1252.9h0M781.5 1255.9h0M1223.4 1258.8h0M1224.2 1256.1h0M1224.9 1254.2h0M1229.3 1241h0M1235.6 1221.9h0M845.8 1254.6h0M986.7 1257h0M989.1 1253h0M1002.9 1235.1h0M1011 1229.8h0M1012.3 1229.4h0M1016.9 1229.1h0M1022.6 1230.9h0M1036.3 1245.5h0M1341.1 1265.8h0M1344.6 1255.6h0M1345.2 1253.6h0M1346.3 1250.3h0M818.9 1268.4h0M824.6 1258h0M825.2 1256.9h0M827.7 1253.1h0M832 1247h0M850.8 1236.1h0M852.6 1236.4h0M861.1 1240.8h0M861.8 1241.3h0M870.3 1250.5h0M871.4 1251.9h0M872.5 1253.4h0M872.9 1254h0M876.7 1259.4h0M1019.5 1249.4h0M797 1251.1h0M797.9 1248.7h0M807.3 1222.4h0M912.5 1222.7h0M1228 1259.7h0M1228.4 1258.8h0M1230.8 1254.4h0M1232.1 1252.1h0M1232.6 1251.3h0M1237.2 1244h0M1237.6 1243.4h0M1268 1231h0M1284 1247.8h0M1284.4 1248.5h0M1285.7 1250.4h0M1288.8 1255h0M1027.2 1262.8h0M1029.6 1255.7h0M1030.2 1253.7h0M1032 1248.4h0M1153.8 1252.9h0M1159.9 1269h0M1286.6 1257.1h0M1287.5 1255.5h0M1289 1252.8h0M1293.4 1245.4h0M1296.4 1240.6h0M1298.8 1237.1h0M1302.8 1231.8h0M1305.2 1228.9h0M1332.5 1223.7h0M1334.1 1225.1h0M934.2 1266.4h0M937.5 1256.5h0M937.7 1255.8h0M938.8 1252.5h0M941.4 1244.5h0M942.7 1240.4h0M1055.6 1243.7h0M1058 1250.4h0M1059.1 1253.5h0M1062.8 1263.5h0M1063.9 1266.4h0M1189.9 1257.5h0M1191 1255.3h0M1193.4 1250.6h0M1243.3 1218.8h0M1245 1221h0M1262.3 1252.9h0M740.6 1233.3h0M745.6 1247.5h0M745.8 1248.1h0M748.5 1255.3h0M876.7 1259.5h0M878.4 1256h0M879.1 1254.6h0M880.2 1252.5h0M881 1250.7h0M881.9 1249h0M884.1 1244.8h0M885 1243.1h0M885.6 1241.9h0M887.4 1238.7h0M890 1234h0M890.9 1232.5h0M891.3 1231.7h0M898.3 1221h0M932.9 1216.9h0M933.3 1217.4h0M1255.1 1258.1h0M1255.5 1256.7h0M1255.8 1256.1h0M1260.6 1241.3h0M895.2 1250.1h0M906.4 1223.4h0M966.6 1229.4h0M973.6 1244.1h0M975.3 1247.9h0M975.8 1248.9h0M976.6 1250.8h0M976.8 1251.2h0M1107.4 1249.4h0M1108.3 1247.1h0M1109 1245.3h0M1109.2 1244.8h0M1110.1 1242.4h0M773.8 1260.7h0M774.9 1258.3h0M777.3 1252.8h0M777.8 1251.8h0M780.8 1244.7h0M782.2 1241.6h0M873.4 1227.6h0M1182.2 1270.4h0M1187.7 1255.4h0M1188.8 1252.5h0M1191.7 1245h0M1273.9 1234.9h0M1275.2 1237.7h0M1284.2 1257h0"/>
<path stroke="#d4ff00" d="M746.7 1252.1h0M752.2 1239h0M899.8 1243.9h0M1133.2 1257.6h0M1136.3 1250.6h0M1141.1 1239.5h0M1285.3 1217.1h0M1286.2 1220.2h0M1287.5 1224.8h0M1289.2 1230.9h0M1289.7 1232.4h0M1292.7 1242.9h0M963.1 1259.3h0M964.6 1254.2h0M969.2 1238.8h0M970.3 1235h0M971.2 1232h0M1114.2 1225.6h0M1119.5 1238.1h0M1123 1246.2h0M1127.1 1255.7h0M1129.5 1261.1h0M782.8 1218.7h0M789.8 1236.5h0M797.9 1256.1h0M1276.1 1233.5h0M855.2 1249.9h0M858.7 1238.2h0M861.3 1229.3h0M993.7 1218.7h0M994.1 1219.8h0M1000.2 1235.7h0M1067.4 1252.7h0M1208.7 1225.4h0M1216.8 1252.5h0M941.4 1246.7h0M942.9 1241.7h0M943.8 1238.8h0M1073.8 1219.8h0M1192.3 1253.5h0M1200.8 1224.6h0M1365.1 1257.8h0M851.5 1221.9h0M1010.3 1233.8h0M1011.4 1237.3h0M890 1246.6h0M891.8 1240.8h0M893.5 1234.9h0M1049.2 1221.9h0M1052.5 1229.4h0M1058.7 1243.5h0M1069.2 1267.7h0M986.9 1243.9h0M1122.1 1239.4h0M1124.1 1245.8h0M1124.3 1246.5h0M1127.1 1255.4h0M991.3 1250.8h0M994.3 1243.7h0M995.7 1240.7h0M1000 1230.7h0M1160.6 1237.5h0M1164.5 1250.6h0M792.4 1255.9h0M800.3 1237.7h0M813 1235.3h0M815.6 1243.8h0M1303.7 1256.4h0M1306.3 1249.4h0M1307.4 1246.4h0M1308 1244.6h0M1308.2 1243.9h0M1310.4 1237.8h0M839 1215.4h0M844.5 1231.6h0M1350.2 1220.8h0M757.7 1258.3h0M762.5 1246h0M765.5 1238.3h0M768.6 1230.7h0M769.9 1227.4h0M770.1 1226.9h0M936.2 1237.8h0M934.4 1251h0M937.7 1241.7h0M938.3 1239.9h0M940.3 1234.4h0M940.8 1233.1h0M1119.5 1258.7h0M866.6 1224.5h0M867.5 1222.3h0M1030.2 1229.9h0M1031.8 1234.7h0M1033.9 1241.6h0M1034.8 1244.3h0M1035.9 1247.7h0M1037.9 1253.8h0M1038.3 1255.2h0M1081.8 1252.7h0M1090.8 1229.5h0M1259 1237.5h0M1264.3 1253.8h0M822.8 1251h0M823.3 1249.8h0M995.7 1223.8h0M998.7 1232.4h0M1000 1236.1h0M1002.9 1244.1h0M1003.1 1244.7h0M1159.9 1250.5h0M771.7 1229.2h0M771.9 1229.8h0M1231.2 1235.1h0M839.5 1235.1h0M840.6 1238.6h0M841.9 1242.6h0M998.1 1240.2h0M1000.9 1237h0M1005.7 1232.7h0M1006.4 1232.3h0M1008.6 1230.9h0M1344.1 1256.9h0M1348.7 1243h0M823.9 1259.1h0M829.6 1250.2h0M832.2 1246.7h0M832.5 1246.5h0M840.8 1238.7h0M845.6 1236.5h0M853.2 1236.5h0M861.3 1241h0M865.9 1245.3h0M869.4 1249.4h0M872.1 1252.8h0M1018.4 1252.6h0M1021.2 1244.1h0M1137.2 1218.6h0M794.6 1257.4h0M801.6 1238.5h0M805.1 1228.7h0M807.5 1221.8h0M911.9 1220.7h0M916.5 1234.7h0M1233.2 1250.2h0M1238.9 1241.6h0M1239.3 1241h0M1248.1 1231.9h0M1250.3 1230.4h0M1254.2 1228.6h0M1256.6 1228.1h0M1260.1 1228h0M1264.1 1229h0M1266.9 1230.3h0M1268.4 1231.2h0M1268.7 1231.4h0M1271.3 1233.3h0M1275.4 1237.3h0M1277.8 1239.9h0M1279.8 1242.3h0M1282.4 1245.7h0M1031.1 1251.1h0M1148.8 1239h0M1294 1244.4h0M1300.8 1234.3h0M1310 1224.2h0M1316.3 1220.3h0M1331 1222.5h0M938.6 1253.2h0M1052.1 1233.7h0M1064.6 1268.1h0M1194.3 1249h0M1194.5 1248.5h0M1196.5 1244.8h0M1202.8 1233.7h0M1203.7 1232.2h0M1209.2 1224h0M1249 1226.7h0M1249.6 1227.8h0M739.7 1230.8h0M741.9 1237.1h0M742.1 1237.7h0M742.3 1238.3h0M742.8 1239.5h0M747.2 1251.7h0M752 1264.6h0M883.9 1245.2h0M884.8 1243.6h0M887.2 1239.1h0M891.1 1232.1h0M892.6 1229.6h0M895 1225.7h0M933.5 1217.7h0M936.6 1222h0M939.4 1226.6h0M940.3 1228.1h0M941.2 1229.7h0M1256.2 1254.7h0M1259.9 1243.4h0M897.4 1244.5h0M900.3 1237.4h0M964.6 1225.4h0M967.9 1232.1h0M970.7 1238h0M978.8 1255.5h0M1108.5 1246.5h0M1111.6 1238.2h0M1115.5 1227.4h0M780.4 1245.7h0M782.6 1240.5h0M783.7 1238h0M1185.1 1262.6h0M1187.9 1254.9h0M1189.7 1250.2h0M1276.1 1239.6h0M1278.9 1245.7h0"/>
<path stroke="#aaff00" d="M746.9 1251.5h0M756.3 1228.7h0M760.5 1218.2h0M760.7 1217.6h0M893.7 1222.8h0M895.9 1230.5h0M896.1 1231.2h0M896.3 1232h0M899.2 1241.7h0M1145.1 1230.2h0M1287 1223.3h0M968.5 1241h0M1112.2 1220.8h0M1115.1 1227.7h0M1118.8 1236.5h0M1126 1253.2h0M785.4 1225.5h0M787.6 1231h0M859.2 1236.8h0M997 1227.3h0M999.8 1234.6h0M1002 1240.1h0M1003.5 1243.9h0M1072.9 1238.8h0M1075.7 1231.3h0M1209.8 1229.2h0M943.6 1239.6h0M949.3 1220.3h0M950.2 1217.3h0M1073.1 1218h0M1200.2 1226.9h0M1349.2 1221.7h0M1350.7 1225.2h0M1350.9 1225.7h0M1351.3 1226.7h0M1352 1228.2h0M1355.9 1237.1h0M1357 1239.6h0M847.1 1232.5h0M1006.6 1221.6h0M894.4 1232h0M895 1229.8h0M1048.6 1220.4h0M1050.3 1224.4h0M1052.1 1228.4h0M1053.4 1231.4h0M1054.7 1234.4h0M987.6 1242.1h0M992.6 1228h0M1117.3 1223.4h0M1157.1 1225.8h0M1157.5 1227.3h0M1159.1 1232.4h0M1160.8 1238.3h0M807.5 1221h0M959.6 1221h0M959.8 1221.7h0M963.5 1234.2h0M1313.7 1228.5h0M1317 1218.9h0M1050.1 1226.1h0M768.2 1231.8h0M769.2 1229h0M771.2 1224.2h0M772.1 1222h0M931.6 1223.2h0M934.8 1233.7h0M936.6 1239.2h0M938.6 1245.4h0M939.4 1236.8h0M942.5 1228.2h0M945.6 1219.7h0M1109.6 1230h0M1110.1 1231.3h0M861.8 1236.8h0M865.1 1228.4h0M1037 1251.1h0M1088.2 1236.2h0M1092.3 1225.6h0M1093.9 1221.7h0M1257.1 1231.4h0M833.3 1220.4h0M1161.9 1245.2h0M1165.8 1234.7h0M1166.9 1231.8h0M1168 1229h0M1170.2 1223.2h0M1332.5 1224h0M1335.2 1232h0M1336.9 1237.4h0M775.6 1239.8h0M1230.4 1237.7h0M1233.7 1227.8h0M834.4 1218.9h0M840.1 1237.2h0M848.9 1263.6h0M988.7 1253.7h0M997.2 1241.3h0M998.5 1239.7h0M1009.7 1230.4h0M1012.5 1229.4h0M1013.2 1229.2h0M1014.5 1229.1h0M1014.7 1229h0M1015.8 1229h0M1017.1 1229.1h0M1346.1 1251h0M845.2 1236.7h0M849.3 1236h0M855.7 1237.4h0M867.7 1247.2h0M1018 1253.9h0M1023 1238.8h0M1028.7 1221.1h0M1139.6 1226.1h0M802.1 1237.3h0M805.6 1227.4h0M911.4 1219.3h0M1238.5 1242.2h0M1243.3 1236.3h0M1245.7 1233.9h0M1246.6 1233.1h0M1255.8 1228.2h0M1258.6 1227.9h0M1262.1 1228.4h0M1263.2 1228.7h0M1266.7 1230.2h0M1272.8 1234.7h0M1273.7 1235.5h0M1277.4 1239.4h0M1278.1 1240.2h0M1034.4 1241.1h0M1037.4 1231.7h0M1038.5 1228.4h0M1145.7 1230.2h0M1289.2 1252.4h0M1297.5 1239h0M1300.4 1234.9h0M1311.3 1223.2h0M1312 1222.7h0M1313.5 1221.7h0M1317.4 1219.9h0M1046 1215.7h0M1047.3 1219.6h0M1050.3 1228.6h0M1052.5 1235h0M1052.8 1235.6h0M1053 1236.2h0M1204.6 1230.8h0M1207 1227.1h0M1207.2 1226.8h0M1209.8 1223.1h0M1210.5 1222.3h0M1241.5 1216.8h0M736 1219.9h0M738.6 1227.6h0M743 1240.2h0M744.5 1244.5h0M882.3 1248.2h0M889.6 1234.8h0M893.5 1228.1h0M897.4 1222.2h0M1259 1246h0M1364 1219.2h0M902.7 1231.7h0M904 1228.7h0M910.3 1215.3h0M963.5 1223.3h0M967.7 1231.6h0M968.3 1233h0M975.1 1247.4h0M1119 1217.7h0M784.6 1235.9h0M784.8 1235.4h0M785 1234.9h0M785.4 1233.8h0M789.6 1223.9h0M790.9 1220.8h0M791.1 1220.3h0M791.6 1219.3h0M1194.5 1237.7h0M1195.4 1235.4h0M1198.7 1227.3h0M1203.9 1215.2h0M1268 1222.5h0M1269.1 1224.7h0M1270.4 1227.5h0M1272.4 1231.6h0M1279.2 1246.2h0"/>
<path stroke="#80ff00" d="M895.2 1228.2h0M1137.8 1247.1h0M1287.7 1225.6h0M1288.1 1227.1h0M971.4 1231.2h0M973.8 1222.8h0M974.9 1219h0M1114.4 1226.1h0M785.9 1226.6h0M862.7 1224.7h0M1073.8 1236.5h0M1075.9 1230.7h0M1077.7 1226.1h0M1079.2 1221.9h0M1207.6 1221.6h0M1209.2 1226.9h0M945.1 1234.5h0M948.6 1222.6h0M1202.4 1219.3h0M1351.1 1226.2h0M1352.4 1229.2h0M1352.7 1229.7h0M1354.4 1233.6h0M842.8 1243h0M1004.6 1215.1h0M1005.9 1219.4h0M1008.6 1228.1h0M1009.4 1230.9h0M888.5 1251.6h0M895.5 1228.3h0M1051 1225.9h0M990 1235.4h0M994.1 1223.6h0M1116.6 1221.2h0M1117.9 1225.7h0M1120.8 1235.1h0M1001.8 1226.6h0M1002.7 1224.6h0M1005.7 1217.6h0M1154.9 1218.3h0M1156.9 1225h0M798.6 1241.7h0M805.6 1225.6h0M958 1215.8h0M960.9 1225.4h0M808.4 1220h0M810.2 1225.9h0M810.8 1228.1h0M813.9 1238.2h0M1309.6 1240.3h0M1048.8 1230.5h0M1172.4 1222.2h0M1346.8 1231.9h0M1347.2 1230.5h0M1352 1215.1h0M773.6 1218.2h0M934.4 1232.3h0M934.6 1233h0M1107.2 1223h0M861.6 1237.3h0M1029.3 1227.2h0M1256 1228h0M1257.5 1232.8h0M832.2 1223.6h0M832.5 1223h0M835.1 1215.4h0M995 1222h0M1167.6 1230.1h0M1332.3 1223.4h0M1229.7 1239.7h0M1236.7 1218.6h0M998.9 1239.2h0M1002.7 1235.3h0M1009 1230.7h0M1013.4 1229.2h0M1018 1229.2h0M1351.3 1235h0M839.5 1239.6h0M843.4 1237.3h0M853.7 1236.6h0M1025.6 1230.7h0M1026.7 1227.3h0M804.2 1231.2h0M1241.1 1238.8h0M1249.6 1230.8h0M1258.2 1227.9h0M1274.1 1235.9h0M1274.6 1236.4h0M1277 1238.9h0M1278.3 1240.4h0M1032.4 1247.1h0M1144.6 1227h0M1310.9 1223.5h0M1318.8 1219.5h0M1321.6 1219.2h0M1326 1219.9h0M1326.8 1220.2h0M943.2 1239.1h0M1047.9 1221.5h0M1048.4 1222.8h0M1051 1230.5h0M1051.2 1231.2h0M1199.8 1238.9h0M1201.9 1235.1h0M743.7 1242h0M895.5 1225.1h0M900.3 1218.4h0M902 1216.3h0M1262.3 1235.9h0M906.6 1222.9h0M909.7 1216.6h0M967 1230.3h0M1112.2 1236.5h0M1117.7 1221.3h0M778.9 1249.2h0M1195.8 1234.3h0M1271.1 1228.9h0"/>
<path stroke="#55ff00" d="M756.1 1229.3h0M760.9 1217.1h0M1144.2 1232.3h0M1147.5 1224.4h0M1147.9 1223.3h0M1285.9 1219.4h0M1286.8 1222.5h0M1288.3 1227.9h0M1288.6 1228.6h0M970.7 1233.5h0M1113.1 1222.9h0M1116 1229.8h0M790.7 1238.7h0M859.8 1234.5h0M1207.4 1220.9h0M947.8 1225.6h0M1200.6 1225.4h0M853.9 1216.2h0M1006.8 1222.3h0M1009.7 1231.6h0M1012.3 1240.2h0M896.1 1226.1h0M1047.5 1217.9h0M1158.6 1230.9h0M958.5 1217.3h0M807.3 1216.3h0M808.8 1221.5h0M809.5 1223.7h0M1312.6 1231.6h0M1314.4 1226.6h0M1350.9 1218.6h0M1351.8 1215.8h0M774.3 1216.6h0M932.9 1227.4h0M936.8 1239.9h0M941.4 1231.3h0M945.8 1219.1h0M946.7 1216.6h0M1105.9 1219.1h0M858.5 1245.2h0M867 1223.4h0M870.1 1215.7h0M1026.3 1217.6h0M1028 1223.1h0M1252.9 1218.5h0M834 1218.5h0M995.4 1223.2h0M997.2 1228.1h0M1167.4 1230.7h0M1168.5 1227.8h0M1330.6 1218h0M1336.2 1235.4h0M768.6 1221h0M772.8 1232.1h0M1234.3 1225.9h0M1236.3 1220h0M1237.6 1216h0M833.6 1216.1h0M834.2 1218.2h0M836.6 1226h0M1016.2 1229h0M1353.8 1227.4h0M1355.9 1220.5h0M841.2 1238.5h0M847.6 1236.1h0M849.5 1236h0M859.2 1239.3h0M1029.6 1218.3h0M800.3 1242.2h0M805.3 1228.1h0M808.8 1218h0M1240 1240.1h0M1248.8 1231.4h0M1263.8 1228.9h0M1272.4 1234.3h0M1279.4 1241.8h0M1141.1 1216.8h0M1141.6 1218.1h0M1142.4 1220.7h0M1144.2 1225.8h0M1145.9 1230.8h0M1310.4 1223.9h0M1313.1 1222h0M1321.2 1219.2h0M1322.2 1219.2h0M1324.4 1219.5h0M945.6 1231.6h0M1050.8 1229.9h0M1201.7 1235.5h0M1216.2 1215.9h0M1216.6 1215.5h0M738.4 1227h0M901.2 1217.3h0M1362.9 1216h0M894.8 1251.2h0M902.2 1232.7h0M903.3 1230.2h0M903.8 1229.2h0M904.2 1228.2h0M904.7 1227.2h0M962.6 1221.6h0M962.8 1222h0M969.6 1235.7h0M1117.3 1222.5h0M1117.9 1220.7h0M792.7 1216.7h0M1199.3 1225.8h0"/>
<path stroke="#2bff00" d="M1147.7 1223.8h0M1110.7 1217.1h0M785.7 1226h0M864.2 1219.4h0M1073.5 1237.1h0M1206.8 1218.6h0M1201.1 1223.9h0M1202.8 1217.8h0M1352.9 1230.2h0M850.2 1225.1h0M899 1216.4h0M1046.4 1215.4h0M809.1 1222.2h0M1313.3 1229.8h0M1314.2 1227.2h0M1316.6 1220.2h0M1351.6 1216.5h0M764.2 1241.6h0M930.9 1221.1h0M933.3 1228.8h0M1029.1 1226.5h0M1092.1 1226.1h0M1093 1223.9h0M1252.7 1217.8h0M1171.5 1219.8h0M766.6 1215.8h0M767.7 1218.7h0M1355.3 1222.6h0M1355.5 1221.9h0M1356.6 1218.4h0M808 1220.5h0M1239.8 1240.4h0M1243.1 1236.5h0M1251.8 1229.6h0M1039.2 1226.3h0M1040.1 1223.6h0M1328.6 1221h0M1329.2 1221.4h0M949.1 1220.7h0M1211.3 1221.2h0M1213.8 1218.3h0M1215.3 1216.7h0M1215.5 1216.5h0M1215.9 1216.1h0M1216.8 1215.3h0M1266 1224.4h0M1268.7 1216.2h0M906.2 1223.8h0M960 1216.7h0M965.5 1227.2h0M1117.5 1221.9h0M1202.4 1218.6h0M1267.3 1221.1h0"/>
<path stroke="#00ff00" d="M760.3 1218.8h0M975.5 1216.7h0M1115.3 1228.2h0M1080.3 1218.9h0M1080.5 1218.3h0M1201.5 1222.4h0M1203.5 1215.5h0M1047.3 1217.4h0M1049.5 1222.4h0M811.2 1229.6h0M1351.1 1217.9h0M1351.3 1217.2h0M771.9 1222.5h0M947.1 1215.4h0M993.5 1217.8h0M1010.1 1230.2h0M1315.7 1220.6h0M1320.5 1219.3h0M948 1224.1h0M948.6 1222.1h0"/>
<path stroke="#00ff2a" d="M1346.5 1215.7h0M992.8 1227.3h0M995.7 1219.1h0M995.9 1218.5h0M1315.2 1224.1h0M1356.8 1217.7h0M1212.7 1219.6h0M1265.8 1225.1h0M1201.5 1220.6h0M1203.5 1216.2h0"/>
<path stroke="#00ff55" d="M997 1215.2h0M908.2 1219.7h0"/>
<path stroke="#00ff80" d="M1317.9 1216.3h0"/>
<path stroke="#000" stroke-width="2.7" d="M905.5 1262.6l0.3 0.7M1363.4 1278.6l1.5-3.5M1125.8 1274.2l0.2-0.5M1298.8 1263.2h0M960.9 1266.4l0.4-1.4M1133.2 1269.3l0.3 0.5M802.9 1267.8l0.9 2M1266.5 1265.3l0.4-1.4M850.6 1264.7l0.2-0.6M1014.2 1269.6h0M1300.8 1292l0.7-0.2M1302.6 1291.5l0.8-0.1M1305 1291.2l1.7 0M1307.4 1291.3l1.9 0.3M770.3 1285.9l1.6 0.8M774.9 1288.5l0.9 0.7M776.7 1289.8l0.2 0.2M1054.7 1283.1l0.5-1M1219.9 1262.2l0.2 0.7M745 1291.8l0.6-0.9M747.2 1289.1l1.5-1.7M753.5 1282.8l0.4-0.3M754.4 1282.1l0.6-0.4M757.2 1280.3l2.2-1.1M762.9 1278l0.7-0.1M770.6 1278.2l3.9 1.5M778.9 1282.3l0.6 0.5M783.2 1285.9l0.3 0.2M935.9 1264l0.3-0.6M1092.8 1270h0M740.6 1266.2l0.2 0.5M741.7 1268.7l0.4 0.9M1186.2 1273.5l0.6-2.1M1188.4 1266.4l0.2-0.7M826.3 1282.9l0.3-0.5M1020.8 1267.4h0M881.2 1275l0.7-2.1M1069.4 1268.3l0.6 1.5M974.4 1276.6l1.4-3.3M1129.8 1263.5h0M1287.7 1271.9l0.6-0.4M1308.2 1272.3l0.3 0.2M1312 1275.3l0.6 0.6M1315.7 1279.1l1.1 1.3M1318.1 1282l1.3 1.7M1320.7 1285.5l1.3 1.9M978.2 1281.4l0.6-1.6M1169.6 1267h0M781.1 1282.6l0.6-1.5M973.3 1266.6l0.3 0.7M821.8 1262.9l0.2 0.6M979.2 1269.8l0.5-0.2M1007.5 1276.9l0.8 1M1012.9 1284l0.5 0.6M1017.5 1291.1l0.5 0.8M1291.6 1287.2l0.2-0.5M1292.7 1284.5l2.2-5.4M1297.3 1273l1.1-2.8M843.6 1289.1l1.3-2.1M893.1 1279.8l0.6 0.8M1038.5 1263l0.7-2M1190.8 1272.7l0.6 1.7M859.6 1273.2l0.4 1.2M1141.8 1291.8l1.3-2.2M1147.2 1283.1l2.7-3.6M1153.2 1275.4l1.9-2.1M1189.5 1273.4l0.6 0.7M1193.4 1277.5l1.1 1.2M1336.5 1262.8l0.6-1.9M748.2 1282.5l0.5-1.1M945.6 1267.4h0M923.2 1282.4l0.7-1.8M928.1 1268.9l0.2-0.7M930.7 1261.5l0.2-0.7M1122.1 1266.4l0.4 1.3M844.3 1282.5l0.9-2.3M1041.8 1266l0.4 1.3M1070.7 1282.1l0.6-1.7M1268.4 1266.7l0.3 0.6M812.3 1281.7l0.7-1.9M816.5 1269.6l0.2-0.7M1010.1 1264.5l0.2 0.6M1010.8 1266.3l0.4 1.3M1148.1 1282.4l0.5-1.2M1153.6 1267.5l0.2-0.6M1346.5 1266.7l0.3 0.7M785.9 1267.9h0M1215.9 1281l0.7-1.9M1221 1266l0.2-0.7M849.5 1265.5l0.5 1.3M979.5 1269.9l1.1-2M1058 1290.7l0.4 1.1M1333.2 1288.1l0.6-1.8M1338 1274.6l1.5-4.3M810.4 1286.7l0.6-1.5M811.5 1284.2l0.6-1.5M880.4 1265.3l0.2 0.4M881 1266.4l0.2 0.4M885.4 1273.9l0.9 1.5M1014.7 1263.3l0.4-1.3M1155.6 1273.4l0.2 0.6M792.2 1263.6l0.9-2.2M929.4 1272.7l0.4 1.3M1215.3 1287.2l1.7-4.1M1304.5 1281.5l0.9 1.6M738.2 1285.5l1.5 3.9M739.9 1290l0.7 1.6M1017.8 1290l0.2-0.7M1019.7 1284.4l3.7-10.7M1160.4 1270.1l0.4 1.1M1279.6 1269.9l0.9-1.6M1362.1 1274.7l1.5 3.7M1364.9 1281.6l0.9 2.2M925.7 1291.3l0.8-2.5M930 1278.6l0.9-2.5M1066.1 1272l0.4 1.1M1183.8 1269.7l1.1-2.2M1275.7 1286.1l0.4 1.2M1277.2 1290.2l0.6 1.7M755.2 1273l0.3 0.6M871.8 1269.3l0.9-1.8M1243.7 1291.6l0.5-1.2M1247.4 1280.8l0.9-2.5M1249.4 1275.1l1.1-3.3M1253.8 1262l0.2-0.6M886.1 1274.8l0.8-2.4M990.6 1281.1l0.7 1.4M1100.4 1267.5l0.9-2.2M1231 1290l0.7 1.9M770.8 1267.5l0.9-1.9M895.7 1291.1l0.2 0.6M1179.4 1278.3l0.9-2.5M1296 1281.2h0"/>
</g>
<use href="#wmt" x="939.4" y="1168"/>
<path d="M736 1239.5h630M736 1187.5h630M736 1134.5h630M736 1082.5h630M736 1029.5h630" stroke="#000" stroke-width="1.250" fill="none"/>
<path d="M762.2 1292v-4.200M762.2 977v4.200M788.5 1292v-4.200M788.5 977v4.200M841 1292v-4.200M841 977v4.200M867.2 1292v-4.200M867.2 977v4.200M919.8 1292v-4.200M919.8 977v4.200M946 1292v-4.200M946 977v4.200M998.5 1292v-4.200M998.5 977v4.200M1024.8 1292v-4.200M1024.8 977v4.200M1077.2 1292v-4.200M1077.2 977v4.200M1103.5 1292v-4.200M1103.5 977v4.200M1156 1292v-4.200M1156 977v4.200M1182.2 1292v-4.200M1182.2 977v4.200M1234.8 1292v-4.200M1234.8 977v4.200M1261 1292v-4.200M1261 977v4.200M1313.5 1292v-4.200M1313.5 977v4.200M1339.8 1292v-4.200M1339.8 977v4.200M736 1292v-6.200M736 977v6.200M814.8 1292v-6.200M814.8 977v6.200M893.5 1292v-6.200M893.5 977v6.200M972.2 1292v-6.200M972.2 977v6.200M1051 1292v-6.200M1051 977v6.200M1129.8 1292v-6.200M1129.8 977v6.200M1208.5 1292v-6.200M1208.5 977v6.200M1287.2 1292v-6.200M1287.2 977v6.200M1366 1292v-6.200M1366 977v6.200M736 1292h6.500M1366 1292h-6.500M736 1239.5h6.500M1366 1239.5h-6.500M736 1187h6.500M1366 1187h-6.500M736 1134.5h6.500M1366 1134.5h-6.500M736 1082h6.500M1366 1082h-6.500M736 1029.5h6.500M1366 1029.5h-6.500M736 977h6.500M1366 977h-6.500" stroke="#000" stroke-width="2" fill="none"/>
<rect x="736" y="977" width="630" height="315" fill="none" stroke="#000" stroke-width="4.400"/>
<text x="736" y="1315.6" font-size="22" text-anchor="middle">0</text>
<text x="814.8" y="1315.6" font-size="22" text-anchor="middle">3</text>
<text x="893.5" y="1315.6" font-size="22" text-anchor="middle">6</text>
<text x="972.2" y="1315.6" font-size="22" text-anchor="middle">9</text>
<text x="1051" y="1315.6" font-size="22" text-anchor="middle">12</text>
<text x="1129.8" y="1315.6" font-size="22" text-anchor="middle">15</text>
<text x="1208.5" y="1315.6" font-size="22" text-anchor="middle">18</text>
<text x="1287.2" y="1315.6" font-size="22" text-anchor="middle">21</text>
<text x="1366" y="1315.6" font-size="22" text-anchor="middle">24</text>
<text x="1374.5" y="1299.8" font-size="22">0</text>
<text x="1374.5" y="1247.3" font-size="22">15</text>
<text x="1374.5" y="1194.8" font-size="22">30</text>
<text x="1374.5" y="1142.3" font-size="22">45</text>
<text x="1374.5" y="1089.8" font-size="22">60</text>
<text x="1374.5" y="1037.3" font-size="22">75</text>
<text x="1374.5" y="984.8" font-size="22">90</text>
<text x="1051" y="1345" font-size="22" text-anchor="middle">Tiempo (horas)</text>
<text transform="translate(1428 1134.5) rotate(-90)" font-size="22" text-anchor="middle">Elevación (grados)</text>
<use href="#wmt" x="269.4" y="773.500"/>
<g fill="none" stroke="#000" stroke-width="1.300"><circle cx="381.5" cy="685.5" r="141.5"/><circle cx="381.5" cy="685.5" r="70.7"/><circle cx="381.5" cy="685.5" r="11.8"/><path d="M169.3 685.5h424.4M381.5 473.3v424.4"/></g>
<g fill="none" stroke-width="2.6" stroke-linecap="square" stroke-linejoin="round" shape-rendering="crispEdges" clip-path="url(#csky)">
<path stroke="url(#gsky0)" d="M184.2 643.4l6.2-6.4 6.9-6.3 7.2-5.7 7.4-5.1 7.6-4.5 7.8-3.9 7.9-3.3 7.9-2.6M376.4 682.9l4.5 11.8 4 12 3.6 13 3.2 13.7 5.2 30.1 6.8 54.5 3 20 4.5 20.3 2.6 8.6 2.9 7.7M185.4 642l2.2-2.2M288.8 820.4l2.6 13.8 3.3 12.5 4.2 11.5 5.2 11.1M560.4 764.9l-1.2-14.8-2.2-16-3.2-16.6-4.3-17-4.8-16.8-6.3-19.2-20.8-58.1M290.5 633.3l1 20-0.2 22.6-1 21.8-3.4 53.1-0.8 26.7 0.8 25.6 1.1 11.3 1.5 10.6M253.4 611.8l-22.8 78-5.6 22.6-4.2 20.9-2.8 21-1.2 19.7 0.5 19.2 2.2 17.7M481.9 851.7l4.9-15.4 3.4-16.5 2-18.1 0.6-20.3-0.5-17.5-1.4-19.5-8.6-83.5-1-17.6-0.4-15.4"/>
<path stroke="url(#gsky1)" d="M517.6 606.4l-10.3-30.3-6.8-24.3-2.4-10.7-1.7-10.3-1.1-9.5-0.5-9.2M480.9 627.9l0.6-17.1 1.5-15.1 2.6-13.8 3.6-12.4 4.8-11.3 5.8-10 6.9-8.8 7.8-7.3M516.6 530.5l3.7-2.6"/>
<path stroke="url(#gsky2)" d="M243.1 605.6l9.6-2.3 10.1-1.5 10.1-0.4 9.9 0.7 9.8 1.6 9.5 2.6 9.1 3.6 9.3 4.7 8.4 5.4 8.4 6.6 7.5 7.1 7.3 8.2 6.7 8.9 6.5 10.1 5.9 10.8 5.2 11.2M233 535.4l1.4 0.5M238.2 537.5l1.3 0.6M242 539.3l1.2 0.6M245.2 541l5.7 3.7M251.3 545l8 6.7 7.3 8.1 6.3 9.2 5.4 10.7 4.5 11.6 3.4 12.5 2.6 13.8 1.7 15.7M264.7 511.8l0.4 1.8M265.5 516.3l0.7 5M266.4 523.2l0.5 8.6-0.1 9.4-0.7 9.8-1.3 10.1-4.4 23.3-7 27.4"/>
<path stroke="url(#gsky3)" d="M191 763.2l3.4-12.4 3.8-11.7 4.1-10.9 4.7-10.6 5.2-10.4 5.5-9.5 5.9-9.1 6.4-8.6 6.9-8.1 6.9-7.2 7.8-6.9 7.7-6 8.4-5.7 8.3-4.6 8.6-4 8.7-3.3M360.7 633.7l9.1 3.3 8.9 4.1 8.7 4.9 8.2 5.6M413.5 667.1l6.2 6.8 6.1 7.6 5.5 7.6 5.4 8.4 9.5 17.6 8.3 19.7 6.3 18.4 5.6 20.9 4.4 20 8.1 41.2 4.2 17.4M291.8 863.5l2.4-10.5 2.1-12.1 6.5-46 3.3-19.7 4-19.4 4.7-17.7 6.9-20.2 8.4-18.9 9.5-16.8 5.3-7.9 5.4-7M367.1 649.6l9.3-7.5 9.3-6.2 9.8-5.3 10.2-4.3M482.8 627.3l7.4 3.1 7.1 3.6 7 4.2 6.8 4.6 12.9 10.6 6 5.9 6.2 6.8 10.9 14.3 9.5 15.5 8.4 17.3 7.1 18.7M187.1 747.2l3.2-11.2 3.5-10.4 4-10.3 4.2-9.3 4.6-9.1 5.1-8.8 5.4-8.4 5.9-8 6.4-7.6 6.6-7 7.1-6.6 6.9-5.6 7.7-5.5 7.4-4.5 8.2-4.2 7.8-3.4M357.8 626.3l10.2 4.3 9.8 5.3 9.4 6.2 9.3 7.5M413.3 667.3l5.4 7 5.3 7.9 9.6 16.7 8.2 18.3 6.9 20.2 4.9 18.3 4.3 20.5 3.2 19.7 6.1 43.3 3.7 20M415.2 813.4l3.1-23.9 5.7-57.2 3.7-26.4 3-15.9 3.4-14.3 3.9-13.2 4.4-12.2M213.5 588.8l-13.4 22.6-10.9 20.3M188.2 633.6l-4.6 9.5M395.1 876.3l3.7-6.8 3.3-7.1 5.6-15.3 4.6-17.8 3.5-20.3M226.5 819l1.7-10.3M228.3 808.1l1.1-6.1M229.5 801.5l5.9-28.2 3.3-12.5 3.7-11.9 4-11.3 4.6-11 4.8-10.3 5.2-9.5 5.6-9.1 6.1-8.7 6.5-8.3 7.1-7.8 7.5-7.2 7.5-6.3 8.3-5.9 8.2-5.1M361.1 633.9l10.4-0.8 9.8 0.1 10.4 1.1 10.2 2M439.1 652.3l7.9 5.5 8 6.5 7.6 7.1 7.1 7.6 6.6 8.2 6.6 9.1 5.9 9.6 5.5 9.9 4.8 10.2 4.6 11 4.1 11.2 3.7 11.9 6.5 26 6 32.4M210.5 797.1l2.2-15 2.6-13.9 2.9-12.7 3.6-12.6 3.9-11.8 4.4-11.1 4.9-10.8 5.6-10.4 6.1-10 6.3-9 6.9-8.5 7.3-7.9 7.9-7.3 8.2-6.6 8.7-5.9 8.5-4.9M357.5 625.4l11.1 1 11.5 2.1 10.8 3.2 11 4.5M432.5 656.3l7.3 6.9 6.8 7.4 6.4 7.8 6.3 8.8 5.8 9.3 5.2 9.6 4.7 9.9 4.5 10.8 7.1 21.4 5.9 24.1 4.5 25.6 5.4 40.2M211.5 798.9l2.1-14.9 2.6-13.9 2.8-12.7 3.5-12.6 3.9-11.9 4.5-11.6 4.8-10.8 5.5-10.5 6-10 6.3-9 7.2-9.1 7.3-7.9 7.8-7.4 8.3-6.6 8.6-6 8.5-4.9M357.6 625.5l11.1 0.8 11.6 2.1 10.8 3 11 4.4M433.4 656l7.2 6.8 6.9 7.4 6.4 7.8 6.4 8.8 5.8 9.3 5.2 9.5 4.8 10 4.5 10.7 3.9 10.9 3.5 11.1 5.9 24.1 4.4 25.6 5.3 39.7M237.7 830.1l1.2-8.5M239 821l5.4-32.9 5.9-26.5 3.5-12.1 4.1-12 4.4-11.2 4.8-10.5 5.3-10.2 5.8-9.7 6.5-9.4 6.6-8.4 7.1-7.9 7.5-7.3 8-6.7 7.9-5.6M360.8 633.4l10.9-2 10.4-1 10.5 0 11 1.1M447.6 647.5l8.2 5.3 8.2 6.3 7.4 6.6 7.4 7.6 6.6 7.6 6.4 8.6 6 9 5.7 9.9 5.2 10.3 4.6 10.5 4.3 11.4 3.7 11.5 3.4 12.2 3 12.7 5.2 29.2M533 806.8l0.2 1.1M217 807.6l1.7-13.5M218.8 793.5l2.2-13.7 2.6-13.2 3-12.6 3.5-11.9 3.8-11.2 4.4-11 4.6-10.1 5.2-9.8 5.8-9.5 6.2-9 6.8-8.6 6.9-7.5 7.3-7 7.7-6.4 8.1-5.8 8.4-5.1M357.5 626.2l11.2 0.1 11.7 1.3 10.9 2.4 11.3 3.7M437.1 653.9l7.5 6.6 7.4 7.6 6.6 7.6 6.6 8.7 6 9.1 5.4 9.5 5 9.8 4.7 10.6 4.1 10.9 3.6 11.1 3.3 11.7 2.9 12.4 4.7 26.3 4.9 36.8M490.3 671.9l9.4 11.9 8.7 13.3 7.8 14.7 6.7 15.3 5.7 16.4 4.8 17.3 3.8 18.5 3.3 20.8M247.7 838.8l1.3-10.7M249 827.6l4.7-35 5-26.3 3.1-12.4 3.4-11.7 3.8-11.1 4.3-10.8 4.8-10.6 5.2-9.7 5.6-9.4 6.2-8.9 6.7-8.5 6.8-7.5 7.7-7.3 7.6-6.4M360.6 632.3l11.3-3.2 11.1-1.9 11.1-0.8 11.2 0.3M455.6 642.8l10.2 6.7 9.7 7.7 9.1 8.5 8.8 9.9M230 598.6l-14.9 29.6-11.3 24.4-9.2 22.5-7.1 20.5M187.3 696.2l-0.4 1.4M186.7 698.2l-3.6 12.9M428.4 871.7l5.3-12.1 4.3-13.8 3.3-14.8 2.2-15.9 1.3-15.2 0.8-16.8 0.6-63.2 1-26.8 2.3-26 1.7-11.8 2.2-11.3M440.8 867.7l6.6-13.6 5.3-14.7 4.2-16.5 3.1-18.2 1.7-16.4 1.1-18.6 1.5-64.8 1.2-25.4 2.3-24.5 3.8-21.6M233.3 600.4l-12.4 31.9-8.1 21.7-6.7 20.3-5.3 18.1-4.4 18.4-3.1 17.4-1.9 16.8-0.8 15.7M292.6 634.2l2.3 20 1.2 22.7 0.1 24.6-1 66.5 0.6 19.4 1.2 17.3 2.8 19.6 4.1 17.4 5.8 16.1 3.3 7.2 3.8 7M567.4 748.4l-1.7-14.1-2.7-15.4-3.5-15.2-4.5-16.3-5.2-16.7-6.2-17.8-19.2-50.1M292.4 634.4l1.2 18.8 0.1 20.6-0.8 23.1-3.5 66.1-0.2 19.8 0.6 17.6 2 20.1 3.5 17.9 2.3 8.3 2.9 8.3 3 7.5 3.6 7.3M562.8 759.2l-1.5-14.8-2.4-15.4-3.4-15.9-4.5-17-5.1-16.8-6.3-18.5-20.5-54.9M497.9 841.2l5.5-16.8 3.7-17.9 2.2-19.5 0.7-21-0.5-17.5-1.2-18.9-8.6-78.8-1.5-17.1-0.7-15.6M255.8 613.2l-3.6 22.4-9.4 51.1-3.9 23.4-3.2 24.8-1.5 21.6-0.3 12.1 0.3 11.4 0.8 10.7 1.3 10.6 1.7 10 2.4 9.8 2.9 9.7 3.3 8.9"/>
<path stroke="url(#gsky4)" d="M395.6 651.6l9.2 7.3 8.7 8.2M405.7 626.3l9.4-3 9.6-2.1 9.8-1.2 9.8-0.3 9.9 0.6 9.9 1.5 9.2 2.2 9.5 3.3M396.5 649.6l8.7 8.4 8.1 9.3M442.4 650.3l4.1-9.5 4.6-9 5.1-8.5 5.3-7.5 5.7-6.9 6.2-6.3 6.6-5.7 6.6-4.6 7.4-4.2 7.4-3.3 8.1-2.7 8-1.8 8.2-1 8.4-0.3 8.7 0.6 8.7 1.4M401.9 636.3l9.5 2.7 9.4 3.6 9 4.3 9.3 5.4M401.9 636.2l8.1 4.1 7.8 4.8 7.5 5.3 7.2 5.9M402.1 635.8l8.1 4.1 7.9 4.6 7.6 5.3 7.7 6.2M403.6 631.5l11.5 2.3 11.2 3.5 10.8 4.5 10.5 5.7M402.6 633.7l8.8 3.8 9.1 4.9 8.2 5.2 8.4 6.3M405.3 626.7l12.8 1.8 13.1 3.3 12.2 4.7 12.2 6.3M453.4 644l2.4-9.9 2.7-9 3.1-8.6 3.4-7.7 3.7-7.3 4.1-6.9 4.5-6.4 5-6 5.3-5.4 5.8-4.9 6.2-4.3 6.1-3.5 6.4-3 6.8-2.4 7.1-1.7 7.3-1.2M471.6 633.4l3.9-15 5.1-13.9 6-12.3 6.9-10.7 8-9.3 8.8-7.7 9.8-6.2 10.8-4.6M497.1 509.6l0-0.4M524.4 602.8l-9.9-26.2-6.8-20-5.1-17.7-3.6-15.9M498.4 519.5l-0.4-3M497.7 514.6l-0.1-0.5M519.1 605.9l-10.7-29.8-7.1-23.3-4.7-20.6-1.5-9.7-0.8-8.8M494 507.9l0-0.9M497.5 618.1l-0.1-14.4 0.6-12.8 1.2-11.6 2-11.1 2.7-10.1 3.5-9.3 4.2-8.7 4.9-7.5"/>
<path stroke="url(#gsky5)" d="M293.3 634.2l8.4-2.4 8.5-1.7 8-1 8.6-0.4 8.6 0.2 8.5 1 8.5 1.6 8.3 2.2M350.3 667.3l8.1-9.2 8.7-8.5M281.1 627.3l9.6-3.2 9.2-2.2 9.9-1.5 9.8-0.6 9.3 0.3 9.8 1.2 9.6 2.1 9.5 2.9M262 512.1l-0.9 1.6M258.9 517.2l-1 1.6M256.7 520.8l-0.7 1.1M252.1 528.1l-5 7.9M244 540.8l-30.5 48M317.8 648.4l10.5-5.2 10.9-4.2 11.1-3.2 10.8-1.9M300.5 638.7l14.1-6.2 14.1-4.2 14.3-2.4 14.5-0.5M301.2 639.1l13.6-6.1 14-4.3 14.3-2.6 14.5-0.6M321.8 650.6l9.3-5.6 9.6-4.8 9.9-3.9 10.2-2.9M305.3 641.1l12.9-6.3 12.8-4.4 13.2-2.9 13.3-1.3M323.9 652l9-6.4 8.9-5.2 9.2-4.5 9.6-3.6M272.2 509l-0.4 1M271.3 511.5l-0.4 1M270.4 514l-0.4 1.1M269.4 516.6l-6.2 15.1-8 17.3-25.2 49.6M261.5 512.7l-0.3 1.9M260.4 518.6l-3.9 16.2-5.5 18-7.2 20.5-10.5 27.1M225.9 543.8l2.8 0.7M237.1 547.3l10.5 5.4 9.9 7.1 8.6 8.7 7.4 10.1 6.5 11.8 5.2 13 4.2 14.7 3.2 16.1M235.7 538.5l0.9 0.3M241.3 540.8l10.3 6 4.7 3.5 4.7 4.3 8.2 9.3 7.1 11.1 5.8 12.4 4.6 14 3.5 15.7 2.2 17.3M252.3 527.4l0.4 1.3M253.3 530.3l2.3 8.2 1.7 8.6 1.1 9 0.6 9.9 0 10.2-0.5 11.2-2.7 25.8"/>
<path stroke="url(#gsky6)" d="M332.6 873.2l4.7-14.9 3.9-18.1 2.8-18.1 7-52.2 2.8-16.7 3-15 3.9-15.4 4.5-14.6 5.1-13.6 5.6-12.6M378.3 677.2l8.2-14.2 9.4-13M510 611.4l9.5 3.3 8.8 3.9 9.2 5.1 8.4 5.5 8.1 6.3 7.8 7 7.4 7.6 7.4 8.8M355.3 877.1l3.6-8.7 3.1-9.5 2.6-10.5 2.3-11.4 3.2-21.8 6.8-57.9 2.5-16.3 2.8-15.1 3.2-13.7 3.5-12.9 4-12.1 4.3-11M527.6 601.3l10.6 3.7 10.4 4.9 10.2 5.9 9.5 6.7M190.9 615.3l8.6-5.8 9.3-5.2 9.5-4.3 9.5-3.3M356.2 671.1l4.1 11 3.7 11.5 3.2 12.3 3 13.1 2.7 15.2 2.4 17 6.5 60.2 3.2 23.1 2.4 12.1 2.8 11.1 3.4 10.1 3.8 9.2M203.7 583.7l-2.1 2.8M199 590l-0.9 1.1M193.5 597.6l-1.7 2.3M374.7 878.3l3.9-8.7 3.3-9.2 2.9-10 2.5-11.4 3.8-25.2 6-62.1 4-29.9 2.9-15.6 3.5-14.8 3.9-13.2 4.5-12.8M543.6 592.3l7.5 2.7 7.4 3.2M569.2 692.8l6.1 12.2M575.6 705.6l1.1 2.4M304.9 868.4l1-3.2M306 864.7l2.7-11.5 2.6-13.6 6.9-48.4 3.1-19.3 3.4-17.1 3.8-15.4 6-19.2 6.9-17.6 8.1-16.2 9.1-14.6M370.1 657.1l8-8.3 8.5-7.5 9-6.6 9-5.4M491.2 622.2l12.1 5 11.6 6.3 11.2 7.7 10.5 8.9 9.8 10.1 9.5 11.6 8.1 12.1 7.6 13.4M187.7 751.9l3.1-11.2 3.5-11.1 3.8-10.2 4.3-10.1 4.8-9.7 4.9-8.8 5.7-9 5.8-8.1 6.3-7.7 6.6-7.1 6.9-6.7 7.3-6.1 7.7-5.5 7.9-4.9 8.1-4.3 7.9-3.4M358 626.2l10.2 4.1 9.9 5.1 9.5 6.1 9 6.9M414.5 666.6l5.8 7.5 5.4 7.9 9.6 16.6 8.3 18.3 7 20.2 5.1 18.8 4.3 20.6 3.2 19.7 6 42.7 3.5 19M212.5 588.1l-15.5 23.6-12.7 21.6M391.6 876.6l4.5-9.9 3.6-10.4 3.1-11.3 2.6-12.9 1.9-12.7 1.6-14.2 4.7-63 3.3-29.5 2.5-15.7 2.9-14.2 3.5-13.3 3.9-12.1M311.9 645.4l2.8 22.6 1.2 25.4-0.1 26-1.5 62.3 0.2 17 0.7 15.5 1.8 16.8 2.9 15.1 3.9 14 5 12.5M576 709.1l-7.6-23.3-10-24.7-12.6-27-17.4-34"/>
<path stroke="url(#gsky7)" d="M395.9 650l5.9-6.8 5.8-5.9 6.2-5.5 6.4-5 6.7-4.5 6.9-4 7.2-3.3 7.4-2.9 7.6-2.2 7.7-1.6 7.9-1 7.4-0.4 8 0.3 7.5 0.7 8 1.5 7.5 2M397.2 676.2l5.2-11.2 5.5-10.1 6-9.5 6.7-8.9 7.2-8.1 7.4-6.9 8.2-6.5 8.3-5.3 8.7-4.4 9.1-3.5 9.4-2.6 9.6-1.6 9.9-0.5 9.5 0.4 10.1 1.5 9.6 2.3M521.2 531.4l-1.5-1.5M516.4 526.4l-3.2-3.5M508 517.5l-1.9-1.9M415.9 665.4l4.8-11.1 5.4-10.5 5.7-9.4 6.4-8.7 6.9-8 7-6.8 8-6.3 8-5.2 8.5-4.3 8.9-3.4 9.2-2.4 9.5-1.4 9.8-0.5 10 0.7 10 1.6 9.6 2.6M404.6 629.3l10.3-5 10.2-3.6 11.1-2.7 10.7-1.5 11.4-0.3 10.8 0.8 11.4 2.1 10.7 3.1M396.6 648.4l9.3 8.7 8.6 9.5M429.7 657.4l4.3-11.2 5-10.5 5.3-9.4 5.9-8.7 6.5-8 6.7-6.9 7.6-6.4 7.7-5.3 8.2-4.4 8.7-3.4 9-2.6 9.4-1.5 9.6-0.6 9.4 0.5 9.6 1.4 9.6 2.4M528.4 600.1l-18.6-36-11.5-23.8-8.8-21.2-6.3-18.8"/>
<path stroke="url(#gsky8)" d="M375.9 682l2.4-4.8M227.8 596.7l9.6-2.4 10.1-1.5 9.4-0.5 9.8 0.6 9.6 1.5 9.3 2.6 9 3.4 8.5 4.4 8.2 5.3 8.1 6.5 7.2 6.9 7 8 6.4 8.9 5.9 9.4 5.3 10.1 5 11.2M266.9 507.8l-2.9 3.4M261 514.7l-1.7 1.9M255.4 521.1l-2.6 3.1M250.6 526.7l-0.9 1M247.6 530.3l-0.9 1M239.6 539.5l-0.9 1.1M236 543.7l-3.5 4.2M231.1 549.5l-14.2 17.3M209 576.9l-1.8 2.2M205 582l-1.3 1.7M358.6 671.8l5.6-7.6 5.9-7.1M282.3 628l9.5-3.3 9.2-2.2 9.3-1.5 9.9-0.7 9.3 0.2 9.8 1 9.2 1.9 9.5 2.8M265.2 514.5l-1.1 1.5M263.4 517l-2.2 3.1M259.4 522.6l-31.4 43.4-15.5 22.1M283.7 577.4l5.1 6.5 4.7 7.1 4.2 7.6 3.7 8.1 3.2 8.5 2.9 9.5 2.4 9.9 2 10.8M223.9 549.2l1.1 0M229.1 549.5l4.6 0.5M237.2 550.5l6.8 1.6 7 2.2 6.7 2.9 6.3 3.4 6 4 5.9 4.8 5.2 5 5 5.9"/>
<path stroke="url(#gsky9)" d="M183.2 660.9l7.3-9 7.7-8.3 8.2-7.6 8.5-6.7 8.9-6 9.2-5.1 9.4-4.2 10-3.4M368.5 653.1l8.4 12.4 7.4 13.3M386.4 683.1l5.5 12.7 4.7 13.1 4.3 14 3.8 15.5 3 14.9 2.7 16.1 6.8 52.3 2.8 17.7 3.8 18.1 4.7 15M523.9 603.5l11.6 4.1 11.5 5.5 11.1 6.9 10.7 8.1M350.7 876.3l3.2-8.2 2.9-9.1 2.5-9.9 2.3-11.3 3.2-21.2 6.8-56.5 2.5-16.3 2.8-14.4 3.2-13.8 3.6-12.9 4-12.1 4.5-11.6M197.7 591.2l1.6-0.7M207.9 587l2.1-0.7M337 660.1l4 12.2 3.5 13.3 3.1 14.2 2.6 15.7 3.4 29.5 5.1 62.7 1.7 14.2 2 12.6 2.6 12.7 3.2 11.2 3.7 10.2 4.5 9.8M557.2 593.4l-4.8-7M334.5 658.6l4 12.2 3.4 13.2 2.9 14.2 2.6 15.8 3.2 28.8 4.9 63 1.6 14.7 2 12.7 2.6 12.8 3.3 11.8 3.7 10.3 4.5 9.8M558 597.8l-7.1-10.5M196.4 589.3l2.2-1M203.9 586.1l3.8-1.3M334.5 658.5l0.2 0.5M205.6 790.9l2.3-14.6 2.7-13.4 3.2-12.7 3.6-12 4.2-11.9 4.6-11 5.1-10.7 5.5-9.7 6-9.4 6.5-8.9 7-8.3 7.5-7.8 8-7.1 8.4-6.4 8.8-5.7 8.6-4.7M357.5 625.1l11 1.5 10.9 2.6 10.6 3.7 10.7 5M429.3 658.2l7 7.1 6.7 7.5 6.2 8.1 6.1 9 5.5 9.3 5.1 9.8 4.5 10 4.2 10.8 6.9 21.5 5.4 23.5 4.1 23.8 6.1 44.7"/>
<path stroke="url(#gsky10)" d="M384.3 678.8l2.1 4.3M419.8 634.6l10.8-10.6 5.8-4.7 6-4.2 6.2-3.7 6.5-3.3 6.6-2.8 6.4-2.1 7-1.8 6.6-1.2 7.2-0.7 6.8-0.2 7.4 0.3 7 0.8 13.8 3.1M392.2 679l6.6-13.8 7.2-12.4 8.1-11.4 8.6-10M552.4 586.4l-13.9-19.2-18.4-24.5M519.7 542.2l-6.5-8.4M512.1 532.2l-5.5-7.2M504.6 522.4l-2.3-3.1M500 516.3l-2.2-3M495.5 510.2l-1.1-1.5M550.9 587.3l-15.6-22.1-27.7-37.5M506.1 525.6l-7.8-10.7M491.6 505.3l-0.7-1M400.7 637.9l7.5 4.2 7.1 4.7 6.9 5.3 7.1 6.1"/>
<path stroke="url(#gsky11)" d="M252.4 610.6l8-2 8-1.4 8.1-0.7 8-0.1 7.9 0.5 7.8 1.2 7.7 1.8 8 2.6 7.3 3 7 3.6 6.9 4.1 7 5 6.3 5.2 6.4 6.1 6 6.6 5.7 7M210 586.3l9.7-2.8 10.1-1.8 9.9-0.8 9.8 0.3 9.5 1.3 9.6 2.5 8.7 3.3 8.8 4.5 7.9 5.1 7.7 6.3 7.2 7.2 6.6 8 6.1 8.7 5.7 9.8 5.1 10.6 4.6 11.6M333.2 654.8l1.3 3.8M207.7 584.8l2.1-0.7M212.5 583.2l9.6-2.3 9.6-1.3 9.3-0.4 9.7 0.7 9.3 1.6 9 2.6 8.7 3.6 8.1 4.5 7.7 5.3 7.3 6.1 6.7 6.9 6.5 8.1 5.9 8.8 5.3 9.4 5 10.6 4.3 11.1M297.6 636.6l7.3-3.3 7.4-2.7 7.6-2.3 7.1-1.6 7.7-1.2 7.3-0.6 7.7-0.2 7.8 0.4"/>
<path stroke="#ff0000" d="M416.5 874.2h0M185.9 641.6h0M186.8 656.3h0M566.2 646.9h0M562.1 622.8h0M567.4 626.9h0M562.8 618.5h0M520.2 530.4h0M516 525.9h0M515 524.9h0M514.1 523.9h0M513.6 523.4h0M506.6 516.1h0M199 609.8h0M209.3 604h0M259.7 516.1h0M254.1 522.7h0M253.7 523.2h0M235.2 544.8h0M224.5 557.6h0M223.6 558.6h0M221.8 560.8h0M220.9 561.9h0M220 563h0M218.2 565.2h0M198.6 590.6h0M552.7 595.6h0M191 763.2h0M191.8 760.3h0M192.7 756.7h0M197.6 740.9h0M292.5 860.7h0M566 715.6h0M198.8 590.7h0M550.7 584.1h0M549.9 582.9h0M548.3 580.7h0M547.9 580.1h0M547.5 579.5h0M545.4 576.7h0M543 573.3h0M540.9 570.5h0M539.7 568.8h0M538.1 566.6h0M537.6 566.1h0M533.5 560.5h0M532.3 558.9h0M530.7 556.7h0M529.8 555.6h0M527.4 552.4h0M527 551.8h0M526.6 551.3h0M524.9 549.1h0M523.7 547.5h0M519.7 542.2h0M519.3 541.7h0M518.9 541.1h0M518 540.1h0M517.6 539.5h0M516.4 538h0M516 537.4h0M514.8 535.9h0M514 534.8h0M510.1 529.6h0M507.3 526h0M503.8 521.4h0M503.5 520.9h0M502.7 519.8h0M500 516.3h0M499.7 515.8h0M498.9 514.8h0M494.8 509.2h0M191.5 732.3h0M189.5 745.1h0M191.3 738.9h0M555.6 594.3h0M550.9 587.3h0M550.1 586.2h0M549.3 585h0M548.9 584.4h0M548.1 583.3h0M547.7 582.7h0M546.9 581.6h0M545.3 579.3h0M544.1 577.6h0M537.7 568.6h0M535.3 565.2h0M532 560.8h0M528.4 555.9h0M525.6 552.1h0M524 549.9h0M518.5 542.4h0M518.1 541.9h0M517.7 541.4h0M513.8 536.1h0M513.4 535.5h0M511.1 532.4h0M510.3 531.3h0M508.8 529.3h0M508.4 528.7h0M506.1 525.6h0M505.7 525.1h0M505.4 524.6h0M505 524.1h0M502.4 520.5h0M501.3 519h0M500.9 518.5h0M499.8 516.9h0M197.5 588.8h0M207.1 584.9h0M212.5 583.2h0M265.2 514.5h0M264.5 515.5h0M262 519.1h0M257.6 525.2h0M254.6 529.4h0M249.6 536.2h0M249.2 536.7h0M248.4 537.8h0M243 545.2h0M241 547.9h0M235.5 555.5h0M230.7 562.1h0M221.6 574.9h0M204.2 600.3h0M202.7 602.7h0M201.2 605.1h0M196.6 612.3h0M194.8 615.3h0M191.4 620.8h0M190.7 622.1h0M188.5 625.8h0M185.7 630.8h0M537.8 579.6h0M538.3 579.7h0M542.6 580.4h0M543.6 580.6h0M547.9 581.6h0M550.6 582.4h0M534.7 579.1h0M543.8 579.8h0M545.3 580h0M545.9 580h0M547.4 580.3h0M547.9 580.4h0M548.4 580.4h0M549.5 580.6h0M550.5 580.8h0M258.6 517.7h0M256.7 520.8h0M249.8 531.8h0M241.9 544h0M231.7 559.8h0M224.2 571.6h0M222.1 575h0M217 583h0M205.3 602.4h0M201.2 609.6h0M196.7 617.5h0M194.4 621.8h0M189.8 630.4h0M187.9 634.2h0M186 638h0M205.8 789.7h0M206.3 786h0M226.7 817.9h0M227.1 815.7h0M210.5 797.1h0M211.6 788.7h0M212.4 783.9h0M214.1 774.3h0M501.3 829.6h0M211.6 797.8h0M212.6 790.6h0M213.7 783.4h0M237.7 830.1h0M237.8 829.6h0M238.4 825.3h0M238.6 823.7h0M217.3 804.7h0M217.8 801.2h0M217.9 800h0M219 792.4h0M508.5 822.3h0M538.6 787.1h0M540.4 799.5h0M248.3 834h0M575.2 706.4h0M574 702.4h0M497.3 538.2h0M491.1 523.3h0M490.1 520.7h0M488.9 517.5h0M488.3 516h0M486.2 509.8h0M486 509.3h0M485.2 506.8h0M483.7 501.8h0M224.4 549.2h0M231.7 549.7h0M271.3 511.5h0M270.4 514h0M256 547.3h0M184.2 707h0M184 707.7h0M521.2 558.1h0M527.9 556.6h0M528.4 556.5h0M531.8 556h0M532.3 556h0M522.9 556.9h0M524.1 556.3h0M526.2 555.4h0M527 555.1h0M527.9 554.7h0M528.7 554.4h0M529.6 554.1h0M261.4 513.2h0M261.4 513.7h0M260.2 519.6h0M259.5 523.1h0M259.3 523.6h0M257.4 531.7h0M191.6 742.3h0M191.4 744.4h0M190.7 757.3h0M225.9 543.8h0M226.4 543.9h0M226.9 544.1h0M243.3 550.2h0M567.1 745.7h0M504.6 546.3h0M504 544.2h0M502.7 539.4h0M502 536.8h0M500.6 530.6h0M500 528h0M499.2 524h0M498.3 519h0M497.7 514.6h0M235.7 538.5h0M236.2 538.6h0M302.8 860.9h0M305.3 866.1h0M560.6 739h0M504.3 563.2h0M497.6 537.3h0M496.8 533.2h0M496.2 530.1h0M496.2 529.6h0M495.6 526.1h0M495.3 524h0M495.2 523.5h0M495.1 522h0M494.9 521h0M494.6 517.6h0M494.5 517.1h0M494.4 516.1h0M494.4 515.6h0M298 856h0M498.7 543.8h0M497.7 538.5h0M496.9 534.4h0M496.7 532.8h0M496.5 531.3h0M496.4 530.8h0M496.3 530.3h0M496.1 528.8h0M495.7 525.3h0M495.6 524.3h0M495.4 521.8h0M495.2 520.3h0M495.2 519.3h0M494.9 512.6h0M233 535.4h0M238.2 537.5h0M242.4 539.5h0M246 541.5h0M266.6 525.6h0M217.2 791.2h0M219 807.6h0M502.7 544.2h0M503.5 543.2h0M504.9 541.4h0M506.4 539.7h0M507.6 538.4h0M507.9 538.1h0M510.8 535.3h0M512.4 533.8h0M513.1 533.2h0M513.5 533h0M517 530.2h0M519.5 528.4h0M519.9 528.2h0M511 541.3h0M511.4 540.5h0M512.3 539h0M513.2 537.5h0M513.6 536.8h0M513.9 536.5h0M515.1 534.7h0M516 533.3h0M253.3 530.3h0M240.4 821.1h0M244.5 834.4h0"/>
<path stroke="#ff2a00" d="M186.8 640.6h0M192.2 635.3h0M194.1 633.6h0M195 632.8h0M195.5 632.4h0M189.6 652.8h0M333.9 869.6h0M350.7 876.3h0M515.5 525.4h0M508 517.5h0M191.9 614.6h0M194.9 612.5h0M199.5 609.5h0M209.8 603.8h0M210.9 603.3h0M266.1 508.7h0M260.6 515.2h0M255.4 521.1h0M254.5 522.1h0M239.2 540.1h0M228.9 552.2h0M226.7 554.9h0M220.5 562.5h0M217.3 566.3h0M207.7 578.6h0M193.5 597.6h0M376 875.6h0M542.6 592h0M544.2 592.5h0M558 598h0M305.3 867h0M192.6 757.3h0M195.5 747.3h0M292 862.6h0M292.7 859.7h0M294.2 853h0M294.6 850.5h0M570.5 727h0M215.4 584.6h0M375 875.7h0M554 588.7h0M548.7 581.2h0M544.6 575.6h0M543.4 573.9h0M536 563.8h0M531.1 557.3h0M529.4 555.1h0M526.2 550.7h0M523.3 547h0M521.3 544.3h0M517.2 539h0M515.6 536.9h0M515.2 536.4h0M511.7 531.7h0M509.3 528.6h0M495.2 509.7h0M188.1 743.4h0M191.1 733.5h0M188.4 749.4h0M188.9 747.6h0M191.1 739.5h0M470.9 849.1h0M551.3 587.9h0M542.1 574.8h0M538.9 570.3h0M538.5 569.7h0M528 555.3h0M527.6 554.8h0M526.8 553.7h0M523.6 549.4h0M522.4 547.8h0M521.3 546.2h0M516.1 539.2h0M514.2 536.6h0M512.6 534.5h0M510.7 531.9h0M509.5 530.3h0M503.5 522h0M502 520h0M203.9 586.1h0M206.1 585.3h0M214.7 582.6h0M215.2 582.5h0M262.7 518h0M253.8 530.4h0M251.1 534.1h0M230.4 562.6h0M223.2 572.7h0M222.8 573.2h0M220.4 576.6h0M220 577.2h0M218.8 578.9h0M216 582.9h0M213.6 586.3h0M205.8 598h0M201.9 603.9h0M191.8 620.2h0M190.3 622.7h0M187.8 627h0M187.1 628.3h0M186.4 629.5h0M185.4 631.4h0M536.7 579.4h0M541 580.1h0M543.1 580.5h0M545.2 581h0M549 581.9h0M535.7 579.1h0M538.7 579.3h0M539.2 579.3h0M539.7 579.3h0M540.2 579.4h0M543.3 579.7h0M544.3 579.8h0M548.9 580.5h0M551 580.9h0M256.3 521.3h0M251.8 528.6h0M243.7 541.3h0M239.8 547.3h0M231.4 560.4h0M223.5 572.7h0M217.4 582.4h0M210.3 594.1h0M200.8 610.2h0M194.7 621.1h0M187.3 635.5h0M396.1 874.5h0M205.7 790.3h0M208 775.7h0M208.2 775.1h0M496.5 839.2h0M227.3 814.1h0M227.4 813.6h0M227.8 811.4h0M210.5 796.5h0M211.3 791.1h0M212 786.3h0M214 774.9h0M216.1 764.6h0M501.9 835h0M502.2 836.5h0M214.4 779.8h0M214.5 779.2h0M238.1 827.5h0M238.5 824.8h0M217 807.1h0M217.1 806.5h0M217.5 803.6h0M217.6 802.4h0M218.3 797.1h0M218.5 795.9h0M539.8 795.4h0M247.7 838.8h0M248.8 829.7h0M523.1 590h0M507.2 559h0M501.6 547.4h0M500.8 545.8h0M498.1 539.8h0M496.6 536.5h0M495.5 533.9h0M494.1 530.7h0M493.9 530.1h0M493.4 529.1h0M490.3 521.2h0M489.9 520.1h0M237.2 550.5h0M241.6 551.4h0M272.2 509h0M268.4 519.2h0M267.8 520.7h0M267.6 521.3h0M266.1 524.9h0M264.5 528.6h0M263.9 530.2h0M263.6 530.7h0M258.3 542.5h0M258.1 543h0M186.7 698.2h0M184.8 705h0M429.2 870.2h0M500.3 567.1h0M513.5 560.6h0M521.7 558h0M522.6 557.7h0M523.6 557.5h0M526 557h0M527.4 556.7h0M529.4 556.4h0M532.8 555.9h0M521.7 557.5h0M523.7 556.5h0M527.4 554.9h0M530.4 553.8h0M261.5 512.7h0M260.3 519.1h0M258.6 526.6h0M257.6 530.7h0M256.8 533.8h0M251.4 551.8h0M195.5 715.5h0M192.5 734.2h0M192.4 734.9h0M192.3 735.6h0M191.3 745.7h0M191.3 746.4h0M190.9 751.1h0M190.8 753.2h0M237.5 547.5h0M238.8 548.1h0M306.6 849.8h0M307.4 852h0M566.7 741.7h0M512.7 571.6h0M505.8 550.6h0M505.3 549h0M503.7 543.1h0M503.3 541.5h0M502.3 537.8h0M501.9 536.3h0M501.8 535.8h0M501.4 534.2h0M501.3 533.7h0M500.1 528.5h0M499.9 527.5h0M499.3 524.5h0M498.4 519.5h0M242.1 541.2h0M248.2 544.5h0M300.3 854.4h0M303.3 861.9h0M305.8 867.2h0M306 867.7h0M562.1 751.1h0M497.3 535.8h0M497.2 535.3h0M496.3 530.6h0M495.5 525.6h0M495.4 524.5h0M494.7 519.1h0M494.3 514.7h0M494.3 514.2h0M300.5 861.9h0M303.5 868.2h0M560.3 764.2h0M560.3 762.9h0M503.3 562.7h0M497.8 539.6h0M497.2 535.9h0M495.3 520.8h0M495 516.4h0M494.9 514h0M238.7 537.7h0M249.4 543.7h0M265.9 519h0M217.3 793.2h0M217.5 795.8h0M217.6 797.1h0M218.3 803h0M219.4 810.2h0M485.2 842.1h0M496 554.5h0M510.1 535.9h0M510.5 535.6h0M516.6 530.5h0M498.6 839.5h0M499.4 837.2h0M503.9 558.1h0M509.6 544h0M510.2 542.8h0M514.3 535.7h0M514.6 535.4h0M254.2 533.3h0M255.3 537.1h0M240.7 822.3h0M241.4 824.8h0M243.5 831.4h0M243.9 832.6h0"/>
<path stroke="#ff5500" d="M187.7 639.7h0M192.7 634.9h0M184.7 658.8h0M426 865.1h0M427.1 868.4h0M333.4 871h0M334.1 869.1h0M573 654.4h0M573.8 655.4h0M575.8 657.9h0M523.4 603.3h0M565.5 625.4h0M355.3 877.1h0M355.9 875.8h0M356.7 874h0M358.4 869.8h0M560.9 617.2h0M561.9 617.9h0M520.7 530.9h0M197.4 610.8h0M204.1 606.8h0M215.1 601.3h0M266.9 507.8h0M266.5 508.3h0M239.6 539.5h0M234.3 545.8h0M230.7 550.1h0M230.3 550.6h0M229.8 551.1h0M224.9 557h0M221.3 561.4h0M219.1 564.1h0M217.8 565.7h0M205 582h0M204.6 582.5h0M203.7 583.7h0M199 590h0M192.7 598.8h0M376.7 874.2h0M531.4 589.2h0M538.3 590.8h0M539.9 591.2h0M543.1 592.1h0M544.7 592.7h0M545.8 593h0M551.1 595h0M570.8 695.7h0M571.4 696.8h0M574.2 702.6h0M575.9 706.2h0M191.9 759.7h0M193.9 752.6h0M195.1 748.5h0M195.7 746.7h0M195.9 746.1h0M198.8 737.4h0M201.4 730.5h0M482.6 850.8h0M292.2 862.1h0M293.7 855.4h0M294.5 851.5h0M208.4 586.8h0M209.5 586.4h0M210.6 586.1h0M212.2 585.6h0M212.7 585.4h0M213.3 585.2h0M373.3 872h0M556 591.6h0M553.2 587.5h0M546.7 578.4h0M541.3 571.1h0M533.9 561.1h0M531.5 557.8h0M508.1 527h0M495.5 510.2h0M188.3 742.8h0M190.5 735.4h0M190.9 734.1h0M193.8 725.6h0M194.5 723.7h0M195.1 721.9h0M197.8 715.3h0M198 714.8h0M469.9 854.3h0M188.1 750.7h0M188.2 750.1h0M190.9 740.1h0M192.9 733.9h0M193.7 731.5h0M195.4 726.6h0M195.6 726h0M196.7 723h0M471.4 851.6h0M471.6 852.6h0M472.4 856.5h0M557.6 597.2h0M557.2 596.6h0M556.4 595.5h0M554.5 592.5h0M552.1 589h0M546.1 580.4h0M541.3 573.6h0M538.1 569.1h0M536.9 567.5h0M536.5 566.9h0M534.5 564.1h0M532.4 561.4h0M531.6 560.3h0M531.2 559.7h0M528.8 556.4h0M519.3 543.5h0M517.3 540.8h0M514.6 537.1h0M500.2 517.4h0M205.5 585.5h0M218.4 581.7h0M259 523.2h0M258.3 524.2h0M256.1 527.3h0M253 531.5h0M247.7 538.8h0M246.9 539.9h0M245.3 542h0M243.8 544.1h0M241.8 546.8h0M233.5 558.2h0M232.7 559.3h0M229.6 563.7h0M226.4 568.2h0M218 580h0M215.6 583.5h0M212.1 588.6h0M206.6 596.8h0M204.6 599.8h0M203.9 600.9h0M193.3 617.8h0M192.5 619h0M190 623.3h0M392.8 874.3h0M535.7 579.3h0M539.9 579.9h0M544.2 580.8h0M541.8 579.5h0M258.3 518.3h0M250.5 530.7h0M243 542.4h0M240.2 546.7h0M237.7 550.5h0M237.4 551.1h0M235.6 553.8h0M233.9 556.5h0M233.1 557.6h0M229.9 562.6h0M229.2 563.7h0M227.1 567.1h0M226.7 567.7h0M224.6 571h0M222.4 574.4h0M213.8 588.2h0M212 591.1h0M211.3 592.3h0M208.8 596.4h0M206.7 600h0M204.6 603.6h0M202.2 607.7h0M200.5 610.8h0M198.1 615h0M196.4 618.1h0M190.2 629.8h0M188.2 633.6h0M186.3 637.4h0M185.4 639.3h0M184.5 641.2h0M207.2 780.6h0M209 770.9h0M496.6 840.2h0M226.5 819h0M227.2 815.2h0M228.8 805.4h0M228.9 804.8h0M230.5 795.9h0M210.6 795.9h0M210.9 794.1h0M211.7 788.1h0M211.9 786.9h0M212.6 782.7h0M501.7 833.4h0M211.5 798.9h0M212.3 793h0M212.4 791.8h0M213.5 784.6h0M214.1 781h0M214.9 776.8h0M215.5 773.7h0M503.1 834h0M503.2 834.5h0M239.2 819.9h0M239.4 818.3h0M240.4 811.7h0M531.4 796.6h0M532.2 801.7h0M217 807.6h0M217.4 804.1h0M219.6 788.2h0M509.1 827.2h0M509.5 829.9h0M539.4 792.4h0M539.9 795.9h0M540 796.5h0M540.2 798.3h0M247.9 837.2h0M248.1 835.6h0M248.1 835.1h0M325.9 865.9h0M576 709.1h0M574.4 703.8h0M571.9 695.7h0M566.9 681.9h0M527.8 598.9h0M498.3 540.3h0M497.8 539.2h0M497.1 537.6h0M495 532.8h0M493.6 529.6h0M490.9 522.7h0M489.7 519.6h0M484.4 504.3h0M269.4 516.6h0M267.2 522.3h0M261.8 534.9h0M261 536.5h0M260.1 538.7h0M193.4 678.4h0M192.9 679.7h0M190.6 686.3h0M188.1 693.6h0M187.3 696.2h0M186.5 698.9h0M183.8 708.3h0M431.6 864.7h0M506.1 563.8h0M513 560.8h0M513.9 560.4h0M518 559h0M518.5 558.9h0M519.8 558.5h0M525.5 557.1h0M530.4 556.2h0M512.5 562.9h0M514.3 561.7h0M518.5 559.2h0M520.1 558.3h0M528.3 554.6h0M258.5 527.1h0M256.2 535.9h0M254.7 541.1h0M252.6 548h0M194 723.5h0M193.8 724.8h0M193.1 729.5h0M192.1 736.9h0M191.9 738.9h0M191.5 743.7h0M191.2 747.7h0M191 749.8h0M190.8 753.9h0M190.8 754.5h0M227.3 544.2h0M227.8 544.3h0M244.5 550.9h0M315.1 869h0M315.6 870h0M567.3 747.1h0M566.3 739h0M566 736.3h0M523.7 601h0M518.5 587.6h0M517.7 585.2h0M506.2 551.7h0M506 551.1h0M503.1 541h0M499.1 523.5h0M498 517h0M246.6 543.6h0M247 543.8h0M247.4 544h0M248.5 544.8h0M298.7 850.1h0M306.6 868.7h0M560.7 739.7h0M511.4 584.7h0M504.8 564.9h0M501.3 552.8h0M500.9 551.2h0M499.3 544.7h0M498.5 541.5h0M498.2 540h0M495.9 528.1h0M298.6 857.6h0M559 748.1h0M512 590.5h0M507.8 577.8h0M499.4 546.9h0M495.1 517.9h0M494.9 514.5h0M264.8 512.3h0M266.5 524.1h0M266.5 524.6h0M266.8 529.4h0M217.7 797.8h0M218.1 801.1h0M218.1 801.7h0M218.2 802.4h0M500.8 546.7h0M501.9 545.3h0M504.4 542.1h0M500.1 573.9h0M502.5 563.1h0M505.4 553.8h0M505.8 552.5h0M506.2 551.7h0M506.7 550.4h0M508.1 547.2h0M509.2 544.8h0M509.4 544.4h0M510.6 542h0M512.7 538.3h0M515.5 534h0M252.4 527.8h0M254.3 533.7h0M254.9 535.8h0M239.3 816.8h0M241.7 826h0M242.7 829h0M244.1 833.2h0M244.8 835h0M245.4 836.8h0M245.7 837.4h0M246.4 839.2h0"/>
<path stroke="#ff8000" d="M185 642.4h0M189 638.3h0M207 623.3h0M415.5 871.5h0M186.3 641.1h0M187.2 640.2h0M184.4 659.3h0M187.2 655.8h0M189.2 653.3h0M200.4 641.4h0M201.8 640.1h0M211.1 632.2h0M216.9 627.9h0M426.9 867.9h0M427.5 869.8h0M545.4 628.9h0M566.7 647.4h0M567.1 647.8h0M573.4 654.9h0M576.2 658.4h0M561.6 622.4h0M564.5 624.6h0M566.4 626.2h0M353.2 870h0M356.3 874.9h0M555.8 613.9h0M559.3 616.2h0M565.3 620.3h0M565.8 620.7h0M192.4 614.2h0M193.4 613.5h0M193.9 613.2h0M200.5 608.9h0M201.5 608.3h0M203.6 607.1h0M206.2 605.7h0M206.7 605.4h0M208.3 604.6h0M216.1 600.9h0M394.5 870.1h0M396.6 875.2h0M264.8 510.2h0M253.2 523.7h0M235.6 544.3h0M234.7 545.3h0M229.4 551.7h0M209 576.9h0M376.4 874.7h0M510.9 587.5h0M516.6 587.5h0M530.3 589h0M541 591.5h0M553.2 595.9h0M553.8 596.1h0M555.3 596.8h0M555.9 597h0M556.9 597.5h0M571.7 697.4h0M575.6 705.6h0M576.2 706.8h0M576.4 707.4h0M570.1 694.5h0M570.7 695.6h0M571.3 696.8h0M193.6 753.8h0M194.8 749.6h0M195.3 747.9h0M198.2 739.1h0M199.7 735.1h0M200.8 732.2h0M202.6 727.7h0M482.7 851.3h0M291.8 863.5h0M292.6 860.2h0M292.8 859.3h0M292.9 858.8h0M293.3 857.3h0M293.9 854.4h0M294 854h0M296.2 841.9h0M296.6 839.3h0M567.7 719.7h0M568.4 721.5h0M570.7 727.6h0M198.3 590.9h0M211.7 585.7h0M213.8 585.1h0M218.6 583.8h0M220.2 583.4h0M229.3 581.8h0M368.7 859.9h0M554.8 589.9h0M540.5 569.9h0M511.3 531.2h0M187.2 746.6h0M188.8 740.9h0M189 740.3h0M189.7 737.8h0M192.3 729.8h0M192.5 729.2h0M193.6 726.2h0M195.8 720.1h0M470.3 856.3h0M470.5 857.3h0M470.7 858.2h0M190.8 740.7h0M195.1 727.2h0M197.2 721.8h0M372.1 875.6h0M372.5 876.5h0M543.3 576.4h0M542.9 575.9h0M533.2 562.5h0M527.2 554.3h0M520.5 545.1h0M516.9 540.3h0M214.1 582.8h0M226.4 580.2h0M230.6 579.7h0M255.7 527.8h0M248.1 538.3h0M247.3 539.4h0M246.1 540.9h0M244.6 543.1h0M243.4 544.7h0M242.6 545.8h0M242.2 546.3h0M240.3 549h0M233.1 558.8h0M231.9 560.4h0M231.1 561.5h0M222.4 573.8h0M219.6 577.7h0M216.4 582.3h0M209.3 592.7h0M199.6 607.5h0M194 616.6h0M191.1 621.5h0M189.6 623.9h0M188.2 626.4h0M394.1 871.4h0M509.5 579.7h0M517 578.8h0M520.1 578.6h0M525.7 578.6h0M530.4 578.8h0M535.1 579.2h0M546.8 581.4h0M518.4 580.1h0M519.9 579.9h0M527.2 579.2h0M537.2 579.2h0M538.2 579.2h0M546.4 580.1h0M262 512.1h0M250.1 531.2h0M249.4 532.3h0M249.1 532.8h0M247.4 535.5h0M242.6 542.9h0M240.5 546.2h0M238.8 548.9h0M238.1 550h0M237 551.6h0M228.9 564.3h0M227.8 566h0M225.6 569.3h0M219.5 579h0M215.2 585.9h0M214.9 586.5h0M214.2 587.6h0M209.9 594.7h0M206.4 600.6h0M203.6 605.3h0M203.2 605.9h0M197.8 615.6h0M196.1 618.7h0M184.8 640.5h0M398.6 869.9h0M206 788.5h0M206.4 785.4h0M206.9 782.4h0M207.8 776.9h0M208.3 774.5h0M209.1 770.2h0M496.6 839.7h0M496.9 841.8h0M228 810.3h0M228.3 808.1h0M229.2 803.2h0M521.8 805.5h0M523.1 813.1h0M523.8 816.9h0M211.6 789.3h0M212.3 784.5h0M213.4 777.9h0M213.5 777.3h0M214.4 772.5h0M214.7 771.3h0M215.2 768.8h0M215.9 765.2h0M213.4 785.2h0M214.2 780.4h0M218.9 758h0M221.3 749h0M502.7 830.8h0M503 832.9h0M503.3 835.1h0M503.6 837.2h0M238 828h0M238.5 824.3h0M239.1 820.5h0M241.3 805.6h0M241.4 805.1h0M529.8 787.4h0M531.6 797.7h0M531.9 799.4h0M532.4 802.8h0M219.8 787h0M220 785.8h0M220.2 784.6h0M220.5 782.8h0M220.7 781.6h0M509.5 830.4h0M539 790h0M248.2 834.6h0M248.6 831.4h0M328.1 871.1h0M575.8 708.5h0M574.2 703.1h0M573 699.1h0M569.6 689.1h0M521.6 587.1h0M521 585.9h0M519.5 583h0M511.2 566.9h0M492.3 526.4h0M489.1 518.1h0M238.2 550.7h0M247.4 553h0M271.1 512h0M268.6 518.7h0M265.2 527h0M264.1 529.6h0M257.8 543.5h0M247.3 565.1h0M190.3 686.9h0M188.8 691.6h0M183.7 709h0M429.4 869.7h0M506.9 563.4h0M516.2 559.6h0M441.3 866.7h0M517.7 559.6h0M518.9 558.9h0M259.2 524.1h0M258.9 525.6h0M258.4 527.6h0M257.9 529.7h0M257.5 531.2h0M257.1 532.8h0M253.4 545.3h0M251.6 551.2h0M250.1 555.6h0M195 718.1h0M194.6 720.1h0M193.6 726.2h0M193.5 726.8h0M192.8 731.5h0M191.9 739.6h0M191.8 740.3h0M191.7 741h0M191.7 741.6h0M191.1 749.1h0M190.9 752.5h0M190.7 758.6h0M240.4 548.8h0M241.3 549.2h0M247.2 552.4h0M308.4 854.6h0M309 856.2h0M312 863h0M566.1 737h0M563 718.9h0M559.7 704.4h0M523.9 601.6h0M510.8 566h0M508.7 559.9h0M508.5 559.3h0M504.7 546.8h0M501 532.7h0M500.9 532.1h0M498.1 517.5h0M249.3 545.2h0M250.5 546h0M254.9 549.2h0M300.1 853.9h0M300.9 856h0M303.1 861.4h0M305.5 866.7h0M562.7 757.9h0M562.4 754.5h0M561.5 745.7h0M559.6 733h0M503.6 561h0M502.8 558.2h0M501.2 552.2h0M501 551.7h0M500.6 550.1h0M499.1 544.2h0M498.6 542.1h0M290.7 831.4h0M296 850.5h0M301.9 865.1h0M303.2 867.7h0M559.8 756.1h0M558 740.7h0M506.4 573.3h0M502.8 561h0M501.8 557.2h0M498.1 541.1h0M497.3 536.4h0M497.1 535.4h0M495.5 523.8h0M242.8 539.7h0M245.6 541.3h0M246.8 542h0M247.9 542.7h0M249.1 543.4h0M251.7 545.3h0M253.5 546.6h0M256.3 548.9h0M266 520h0M266.7 527h0M266.7 528.4h0M266.9 536.7h0M266.8 540.7h0M217.1 764.8h0M216.9 769.4h0M216.8 774.7h0M216.8 776.7h0M216.8 778.7h0M217 787.2h0M217 787.9h0M217.2 791.8h0M217.4 793.8h0M482.4 850.6h0M484.1 845.5h0M485.7 840.3h0M490.6 565.9h0M491.1 564.6h0M494.7 556.9h0M498.1 550.9h0M498.5 550.1h0M501.3 546h0M508.6 537.5h0M497.9 841.2h0M500.4 834.3h0M503.5 823.8h0M507 549.6h0M507.4 548.8h0M507.7 548h0M507.9 547.6h0M510 543.2h0M252.3 527.4h0M253.7 531.6h0M256.3 541.6h0M256.8 544.3h0M237.8 810h0M238.7 814.4h0M240 819.9h0M240.2 820.5h0M241.6 825.4h0M242.5 828.4h0M246.1 838.6h0"/>
<path stroke="#ffaa00" d="M194.5 633.2h0M195.9 632h0M196.9 631.1h0M199.2 629.2h0M202.1 626.9h0M205 624.7h0M413.8 866.9h0M414.3 868.3h0M414.8 869.6h0M415.1 870.6h0M186.7 640.7h0M185.5 657.8h0M190.9 651.4h0M191.7 650.4h0M193 649h0M193.8 648.1h0M194.7 647.2h0M196 645.8h0M217.9 627.2h0M426.6 867h0M427.2 868.9h0M427.4 869.3h0M427.8 870.7h0M334.2 868.7h0M335.6 864.5h0M336.1 862.6h0M558.7 639.5h0M562.3 642.9h0M564.9 645.5h0M567.5 648.3h0M571.8 653h0M575 656.9h0M523.9 603.5h0M549.5 614.6h0M550.6 615.2h0M555.6 618.3h0M556.1 618.6h0M566.9 626.5h0M352.2 872.7h0M352.9 870.9h0M357.1 873h0M554.8 613.3h0M562.4 618.2h0M564.3 619.6h0M567.8 622.2h0M194.4 612.8h0M205.7 605.9h0M212.5 602.5h0M213 602.3h0M222 598.6h0M390.7 859.1h0M396.4 874.7h0M397.2 876.5h0M223.1 559.2h0M204.2 583.1h0M376.2 875.1h0M376.9 873.7h0M377.9 871.4h0M381.3 862.4h0M524 588.1h0M527.7 588.6h0M534 589.7h0M541.5 591.7h0M547.4 593.6h0M548.4 594h0M554.3 596.3h0M554.8 596.5h0M570.5 695.1h0M575.1 704.4h0M305.1 868h0M306.7 861.9h0M307.7 858.1h0M566.7 688.3h0M571 696.2h0M197.2 742h0M197.8 740.3h0M207 717.6h0M477.7 829.3h0M479.5 837.8h0M480.2 841.2h0M481.1 845.1h0M481.6 847h0M481.7 847.5h0M482 848.5h0M482.1 848.9h0M482.9 852.2h0M293.8 854.9h0M562.7 707.9h0M564.8 712.6h0M567 717.9h0M569.1 723.4h0M569.8 725.2h0M210 586.3h0M225.5 582.3h0M373.7 872.9h0M374.2 873.8h0M375.5 876.6h0M531.9 558.3h0M522.1 545.4h0M195.6 720.7h0M201.7 706.6h0M207.2 695.8h0M466.8 836.6h0M467.6 841.8h0M470.6 857.7h0M189.9 743.8h0M191.7 737.6h0M192.3 735.8h0M193.1 733.3h0M194.7 728.4h0M197.4 721.2h0M199.5 715.8h0M471.3 851.1h0M471.9 854.1h0M472.5 857h0M367.6 865.2h0M553.7 591.4h0M208.8 584.4h0M209.3 584.2h0M217.9 581.8h0M257.9 524.7h0M257.2 525.7h0M241.4 547.4h0M232.3 559.9h0M228.8 564.8h0M227.6 566.5h0M218.4 579.5h0M214.4 585.2h0M212.5 588.1h0M207 596.2h0M506.1 580.3h0M521.1 578.6h0M527.3 578.6h0M545.8 581.1h0M548.5 581.8h0M506.8 582.9h0M517 580.4h0M248.4 533.9h0M241.6 544.6h0M239.5 547.8h0M234.9 554.9h0M234.2 556h0M231 561h0M201.5 609h0M200.1 611.4h0M198.8 613.8h0M395.9 874.9h0M397.4 872.2h0M399.3 868.6h0M401 864.8h0M207.3 780h0M207.7 777.5h0M208.7 772.1h0M209.6 767.8h0M210.5 763.5h0M495.7 833.4h0M496.3 837.6h0M226.6 818.4h0M227.5 813h0M228.5 807h0M228.6 806.5h0M230.3 797h0M231 793.7h0M231.7 789.8h0M519.3 792.3h0M522.5 809.3h0M523.3 814.2h0M213 780.3h0M213.9 775.5h0M215.8 765.8h0M216.2 764h0M501.8 833.9h0M501.9 834.4h0M212.1 794.2h0M212.7 790h0M213.2 787h0M213.8 782.8h0M213.9 782.2h0M215 776.2h0M218.6 759.2h0M501 817.2h0M502.4 828.1h0M502.4 828.7h0M239.5 817.8h0M240 813.9h0M240.3 812.3h0M240.5 810.6h0M242.2 800h0M531.5 797.2h0M532.3 802.3h0M218.5 795.3h0M218.8 793.5h0M218.9 793h0M219.2 790.6h0M219.3 790h0M221.2 778.6h0M507.1 811.1h0M507.5 813.9h0M508.9 825h0M509.3 828.3h0M536.9 777.5h0M538.2 784.7h0M538.8 788.3h0M539.7 794.8h0M247.9 836.7h0M248.5 831.9h0M248.7 830.8h0M248.9 829.2h0M250.3 817.7h0M324.8 862.8h0M325 863.3h0M325.1 863.8h0M325.3 864.3h0M327.2 869h0M327.9 870.5h0M575.4 707.1h0M573.2 699.7h0M572.3 697.1h0M571.4 694.4h0M570.3 691.1h0M568.1 685.1h0M565.1 677.3h0M563.3 672.7h0M557.9 659.9h0M517.7 579.5h0M516.8 577.8h0M515.6 575.5h0M512 568.6h0M508.9 562.4h0M506.1 556.8h0M501.9 547.9h0M500.1 544.1h0M232.2 549.8h0M243.1 551.8h0M244 552.1h0M244.5 552.2h0M272 509.5h0M266.5 523.9h0M264.3 529.1h0M262.7 532.8h0M262.2 533.9h0M261.5 535.5h0M255 549.5h0M250.3 558.9h0M213.3 631.9h0M206.6 646.3h0M204.3 651.3h0M203.5 653.2h0M201.6 657.7h0M199.7 662.2h0M193.8 677.1h0M193.1 679h0M190.1 687.6h0M188.4 692.9h0M428.4 871.7h0M430.6 867.2h0M507.4 563.2h0M512.6 560.9h0M440.8 867.7h0M442.4 864.7h0M443.4 862.7h0M498.7 575.1h0M503.8 570h0M507.1 567h0M508.2 566.2h0M512.1 563.2h0M513.9 561.9h0M516.2 560.5h0M519.7 558.5h0M260.1 520.1h0M255 540h0M254.3 542.7h0M254.1 543.2h0M253.3 545.9h0M249.6 557.2h0M200.3 694.4h0M196.7 709.5h0M194.5 720.8h0M194.1 722.8h0M191.2 747.1h0M242.1 549.6h0M243.7 550.4h0M309.4 857.3h0M309.7 857.8h0M311 860.9h0M311.3 861.4h0M311.8 862.4h0M314.6 868h0M566.2 737.6h0M565.9 735.6h0M565.3 731.6h0M565.1 730.2h0M563.6 722.2h0M563.1 719.6h0M559.3 703.1h0M516.2 581.2h0M516 580.6h0M511.5 568.2h0M510 563.7h0M509.6 562.6h0M506.8 553.8h0M502.4 538.4h0M242.5 541.4h0M243 541.6h0M245 542.7h0M248.9 545h0M249.7 545.5h0M562 749.8h0M560.9 741.1h0M508.8 577.3h0M505 565.4h0M502.4 556.6h0M497.4 536.3h0M293.9 843.9h0M296.8 852.7h0M297.6 854.9h0M299.8 860.3h0M300.7 862.4h0M301.2 863.5h0M302.5 866.1h0M560.2 762.2h0M560.2 761.5h0M560.1 760.8h0M560.1 759.5h0M559.9 757.5h0M559.4 751.4h0M559.2 749.4h0M558.8 746.7h0M558.4 743.4h0M509.5 583h0M509.3 582.4h0M508.2 579h0M507.6 577.3h0M504.4 566.6h0M502.1 558.3h0M501 553.9h0M500.9 553.4h0M499.1 545.9h0M498.3 541.7h0M496.2 529.3h0M248.7 543.2h0M249.8 544h0M252.4 545.8h0M256.6 549.2h0M265.7 517.7h0M266.6 526h0M266.8 539.7h0M266.7 542.3h0M219.9 739.2h0M216.8 773.4h0M216.8 774h0M216.8 777.3h0M216.8 779.3h0M216.8 781.9h0M216.9 785.2h0M217.5 795.1h0M217.8 798.4h0M482.8 849.5h0M483 848.9h0M485.9 839.8h0M490.1 567.3h0M492 562.4h0M495.1 556.1h0M495.5 555.3h0M501.6 545.6h0M502.4 544.6h0M503.2 543.5h0M501.2 832h0M504.4 820.2h0M505.8 813.7h0M499.8 575.3h0M501.1 568.6h0M501.4 567.2h0M502 564.9h0M505.7 553h0M509 545.2h0M509.8 543.6h0M254.1 532.8h0M255.6 538.5h0M255.9 539.8h0M257.4 547.5h0M235.3 793.8h0M235.8 798.2h0M236.4 802h0M236.8 804.5h0M237.2 806.9h0M237.4 808.2h0M237.9 810.7h0M238.2 811.9h0M238.6 813.7h0M239.6 818h0"/>
<path stroke="#ffd400" d="M210.9 620.6h0M218 616.2h0M410.4 855.3h0M412.7 863.6h0M415.8 872.4h0M197.8 644h0M203.2 638.9h0M204.1 638.1h0M206.9 635.6h0M426.4 866.5h0M333.8 870.1h0M334.8 866.8h0M335.3 865.4h0M335.4 865h0M335.7 864h0M564 644.7h0M564.5 645.1h0M565.8 646.4h0M572.2 653.5h0M575.4 657.4h0M544.4 611.8h0M554.6 617.7h0M555.1 618h0M558.6 620.3h0M560.1 621.4h0M563.5 623.9h0M351.6 874.1h0M352.5 871.8h0M353.1 870.4h0M353.6 869h0M355.6 862.9h0M358 870.8h0M358.9 868.4h0M359.7 866.1h0M359.9 865.6h0M360.8 862.8h0M522.3 599.9h0M527.1 601.2h0M531.3 602.5h0M556.8 614.6h0M211.4 603h0M211.9 602.8h0M395.4 872.5h0M396 873.8h0M397 876.1h0M374.7 878.3h0M375.8 876h0M380.1 865.8h0M384.1 852.9h0M543.6 592.3h0M545.2 592.8h0M546.8 593.4h0M550 594.6h0M556.4 597.2h0M569.8 694h0M570.2 694.5h0M306.2 863.8h0M306.4 863.3h0M306.6 862.4h0M307 861h0M308.7 853.2h0M567 688.8h0M569.8 693.9h0M571.6 697.3h0M194.1 752h0M196.1 745.5h0M199.3 736.3h0M199.5 735.7h0M200.5 732.8h0M201.7 729.9h0M205.2 721.5h0M208.3 714.8h0M480.1 840.8h0M480.6 842.7h0M480.7 843.2h0M481 844.6h0M482.2 849.4h0M294.9 849h0M295.8 844h0M296 842.9h0M550.5 685.6h0M565.8 715h0M567.3 718.5h0M570.2 726.4h0M217 584.2h0M219.1 583.7h0M219.7 583.5h0M222.9 582.8h0M237.7 581h0M371.5 867.7h0M372.3 869.6h0M372.9 871h0M373.5 872.4h0M195.4 721.3h0M198.5 713.6h0M204.8 700.3h0M209.1 692.5h0M209.4 691.9h0M469.1 850.4h0M191.5 738.2h0M191.9 737h0M194.1 730.2h0M194.3 729.6h0M196.5 723.6h0M196.9 722.4h0M197.9 720h0M198.6 718.2h0M200.6 713.4h0M201.1 712.3h0M206.6 700.7h0M218.5 680.7h0M468.2 832.1h0M470.2 845.1h0M470.8 848.6h0M472.1 855h0M368.5 867.6h0M370.3 871.9h0M372.3 876.1h0M216.8 582.1h0M222.7 580.8h0M229 579.9h0M232.2 579.6h0M250.8 534.6h0M248.8 537.2h0M239.1 550.6h0M393.4 872.9h0M393.9 871.9h0M394.9 869.5h0M395.1 869.1h0M396.5 865.7h0M507 580.1h0M511.5 579.4h0M522.6 578.5h0M532.5 579h0M515.6 580.6h0M522.8 579.5h0M525.2 579.3h0M528.7 579.1h0M235.3 554.3h0M207.4 598.8h0M199.1 613.2h0M396.4 874h0M396.6 873.6h0M397.9 871.3h0M206.6 784.2h0M207.6 778.2h0M209.2 769.6h0M209.5 768.4h0M209.7 767.2h0M210.1 765.4h0M210.8 762.3h0M211.2 760.5h0M212.2 756.2h0M217.4 738.2h0M495.3 830.2h0M495.6 832.9h0M495.8 834h0M495.8 834.5h0M496.1 836.6h0M496.9 842.3h0M227.6 812.5h0M227.9 810.8h0M228.1 809.2h0M229.5 801.5h0M230.1 798.2h0M230.4 796.5h0M233.1 783h0M233.4 781.8h0M519.9 795.6h0M520.3 797.3h0M521.7 805h0M522.7 810.4h0M522.8 811h0M214.9 770h0M215.6 767h0M216.4 763.4h0M499.6 817.1h0M501 828h0M501.2 829.1h0M502.3 837.6h0M211.8 796.6h0M219.2 756.8h0M221.4 748.4h0M499.4 805.4h0M499.6 807.1h0M502 825.4h0M239.7 816.1h0M240.8 809h0M241 807.9h0M241.1 806.7h0M531.2 795.5h0M532 800.6h0M532.8 805.1h0M218.1 798.3h0M225 760.6h0M506.3 804.9h0M507 810h0M507.4 813.4h0M508.2 820.1h0M508.4 821.2h0M508.4 821.7h0M508.7 823.9h0M535.8 771.6h0M537.6 781.1h0M538.9 788.9h0M539.3 791.8h0M540.3 798.9h0M249.1 827h0M249.2 826.5h0M249.8 821.6h0M249.8 821h0M249.9 820.5h0M250 819.9h0M250.1 819.3h0M250.5 816h0M323.1 858h0M324.2 861.2h0M324.6 862.3h0M327.4 869.5h0M328.3 871.6h0M564.4 675.3h0M558.2 660.5h0M525.9 595.3h0M516.5 577.2h0M512.9 570.3h0M237.7 550.6h0M240.2 551.1h0M245 552.3h0M249.7 553.8h0M250.6 554.1h0M251.5 554.5h0M256 556.3h0M262 534.4h0M250.1 559.5h0M240.9 577.6h0M218.1 622.1h0M210.1 638.8h0M200.8 659.6h0M199.2 663.4h0M198.4 665.4h0M197.6 667.3h0M194.8 674.4h0M192.2 681.6h0M191 684.9h0M187.1 696.9h0M186.3 699.6h0M428.7 871.2h0M430.1 868.2h0M431.4 865.2h0M499.2 567.8h0M499.6 567.6h0M499.9 567.3h0M501.2 566.6h0M441.6 866.2h0M444.4 860.7h0M444.9 859.7h0M445.1 859.2h0M501.5 572.2h0M501.8 571.9h0M503.4 570.3h0M260.4 518.6h0M256.4 535.3h0M254.6 541.6h0M252.4 548.5h0M251.9 550.1h0M250.7 553.9h0M249.8 556.6h0M246.9 564.9h0M211.1 659.1h0M198.2 702.9h0M196.3 711.5h0M195.3 716.2h0M192.7 732.2h0M192.1 737.6h0M240.8 549h0M244.1 550.6h0M246.1 551.7h0M247.6 552.7h0M248.4 553.1h0M248.8 553.4h0M309.2 856.7h0M310.3 859.3h0M310.6 859.9h0M313 865h0M565.8 734.9h0M564.9 729.6h0M563.8 722.9h0M563.4 720.9h0M562.8 718.2h0M558.2 698.5h0M520.5 592.8h0M520.1 591.6h0M518.1 586.4h0M517.9 585.8h0M513.9 574.9h0M253.4 548.1h0M253.8 548.4h0M254.2 548.6h0M254.5 548.9h0M255.9 550h0M296.8 844h0M298.9 850.6h0M299.5 852.2h0M299.7 852.8h0M300.5 855h0M562 750.5h0M557.1 720.4h0M509.4 579h0M503 558.8h0M292.3 838.2h0M293.5 842.7h0M293.7 843.3h0M294.9 847.2h0M295.2 848.3h0M295.8 850h0M297.2 853.8h0M298.4 857.1h0M300 860.8h0M559.7 755.5h0M559.2 750.1h0M558.9 747.4h0M558.8 746.1h0M558.5 744.1h0M557.9 739.4h0M556.5 731.4h0M555.2 724.1h0M553.9 718.2h0M508.9 581.3h0M507.3 576.1h0M500.1 550.1h0M497.4 537h0M250.6 544.5h0M254.2 547.2h0M254.5 547.5h0M254.9 547.8h0M257.3 549.8h0M266.8 529.9h0M266.9 532.8h0M266.9 534.7h0M266.8 538.7h0M266.7 543.3h0M266.4 547.4h0M218.7 747.7h0M217.7 757.6h0M217.4 760.9h0M217 766.8h0M216.9 768.8h0M216.9 770.7h0M216.9 771.4h0M216.8 775.4h0M484.5 844.4h0M484.8 843.2h0M485.5 840.9h0M486.7 836.9h0M487.2 834.5h0M489.6 823.4h0M493.8 558.6h0M500.6 833.7h0M502.2 828.5h0M503.7 823.2h0M503.8 822.6h0M504.9 555.1h0M505.2 554.2h0M507.2 549.2h0M252.6 528.3h0M256.4 542h0M257 545.2h0M257.2 546.6h0M257.3 547.1h0M257.4 548h0M234 763.5h0M233.9 766.7h0M235 791.3h0M235.9 798.8h0M236.7 803.8h0M236.9 805.1h0M237.1 806.3h0M238.8 815h0"/>
<path stroke="#ffff00" d="M206 624h0M209.9 621.2h0M216.5 617.1h0M224.2 613h0M237.8 607.3h0M409.2 850.3h0M412.1 861.6h0M412.4 862.6h0M415.3 871h0M200 641.8h0M201.3 640.6h0M204.5 637.7h0M205.5 636.8h0M221.3 624.9h0M423.2 855.1h0M423.3 855.5h0M424.6 860.4h0M425.7 864.2h0M425.9 864.7h0M426.1 865.6h0M426.3 866.1h0M428.2 871.6h0M339.4 849.4h0M544.9 628.5h0M555 636.3h0M561.4 642h0M563.2 643.8h0M569.2 650.1h0M569.7 650.6h0M519.1 602.2h0M519.7 602.3h0M522.8 603.2h0M529.7 605.4h0M542.3 610.7h0M546 612.6h0M552.6 616.4h0M554.1 617.3h0M556.6 619h0M563 623.5h0M352 873.2h0M352.4 872.2h0M359.5 848.1h0M358.2 870.3h0M362.4 857.4h0M519.6 599.3h0M549.1 610.1h0M214 601.8h0M223 598.2h0M225.7 597.3h0M229.9 596.1h0M393.4 867.3h0M377.7 871.9h0M382.7 858h0M513.5 587.4h0M549.5 594.4h0M572.5 699.1h0M574.8 703.8h0M308.2 855.7h0M309.2 851.3h0M557.3 673.8h0M561.6 680.1h0M567.6 689.9h0M196.8 743.2h0M197 742.6h0M199.9 734.5h0M205.5 720.9h0M212.8 706.1h0M213.7 704.5h0M478.2 831.8h0M478.8 834.8h0M480.8 843.7h0M480.9 844.2h0M481.3 845.6h0M481.4 846.1h0M294.8 849.5h0M296.7 838.8h0M554.5 692.1h0M559.9 702.1h0M566.8 717.3h0M570.9 728.2h0M211.1 585.9h0M226.6 582.2h0M237.1 581h0M239.2 581h0M374.4 874.3h0M194 724.9h0M194.2 724.3h0M196.8 717.7h0M199.3 711.8h0M206.6 696.9h0M213 686h0M466.9 837.2h0M467.9 843.9h0M468.8 848.9h0M468.9 849.4h0M196.2 724.2h0M200 714.6h0M206.3 701.3h0M209 696.3h0M469.4 840h0M470.3 845.6h0M470.5 846.6h0M470.7 848.1h0M471.2 850.6h0M369.1 869h0M370.5 872.3h0M371.2 873.7h0M371.4 874.2h0M231.1 579.7h0M233.2 579.5h0M236.9 579.3h0M217.6 580.6h0M208.1 594.5h0M396.8 864.7h0M515.1 580.7h0M222.8 573.9h0M219.2 579.6h0M210.6 593.5h0M197.4 616.2h0M211.6 758.7h0M215.2 745.4h0M219.4 732.2h0M492.7 810.5h0M494.6 825.4h0M230.2 797.6h0M231.3 792h0M236.7 768.2h0M520 796.2h0M522.9 812.1h0M214.8 770.6h0M217.8 757.3h0M497.3 800.2h0M499.4 814.9h0M500.1 820.9h0M500.3 822.6h0M501 827.5h0M501.1 828.6h0M501.3 830.2h0M213.6 784h0M216.6 768.3h0M218.4 759.8h0M502.2 826.5h0M240.2 812.8h0M240.7 809.5h0M240.9 808.4h0M241.2 806.2h0M245 784.7h0M525.7 768.3h0M532.6 804h0M218.6 794.7h0M220.4 783.4h0M221.4 777.4h0M224 764.8h0M226.3 755.2h0M508.9 825.5h0M509.1 826.6h0M535.9 772.2h0M537.4 779.9h0M538.7 787.7h0M539.7 794.2h0M250.2 818.2h0M250.4 816.6h0M250.7 814.3h0M251.7 806.4h0M252.2 803h0M321.2 851.6h0M322.3 855.3h0M323.5 859.1h0M325.5 864.9h0M573.6 701.1h0M567.4 683.2h0M566.4 680.5h0M566.2 679.9h0M565.4 677.9h0M564.1 674.7h0M553.6 650.3h0M538.4 619.3h0M248.3 553.3h0M253.3 555.2h0M257.3 544.6h0M257 545.2h0M243.5 572.5h0M241.7 575.9h0M198.9 664.1h0M198.1 666h0M197.3 668h0M196.8 669.3h0M196.1 671.2h0M195.6 672.5h0M190.8 685.6h0M432.3 863.2h0M432.5 862.7h0M433.7 859.6h0M434.6 857h0M498.8 568.1h0M510.8 561.7h0M442.1 865.2h0M445.6 858.2h0M447.2 854.6h0M448 852.6h0M449.7 848.4h0M452.4 840.4h0M253.6 544.8h0M251.7 550.7h0M249.9 556.1h0M249.2 558.3h0M249 558.8h0M244 572.7h0M231.9 603.9h0M214.6 649h0M203.5 682.7h0M202.8 685.3h0M197.6 705.6h0M196.4 710.8h0M196.1 712.2h0M193.2 728.8h0M245.7 551.5h0M246.9 552.2h0M252.5 555.9h0M252.9 556.2h0M303.2 838.9h0M307 850.9h0M311.5 861.9h0M567 744.4h0M564.5 726.9h0M560.3 707h0M560 705.7h0M559.8 705h0M552.9 680.3h0M550.6 673.2h0M547.6 664.3h0M525.1 604.6h0M511.1 567.1h0M250.1 545.7h0M252.3 547.3h0M253.1 547.8h0M262 555.5h0M263 556.5h0M291.6 818.8h0M296 841.2h0M296.2 841.7h0M561.2 743.1h0M560.3 737h0M560.1 735.7h0M556.9 719.1h0M554.7 709.9h0M554 707.2h0M546.1 679.9h0M508.6 576.7h0M505.8 568.2h0M502.5 557.1h0M291.2 833.7h0M292.8 839.9h0M294.5 846.1h0M559.7 754.8h0M556.7 732.1h0M555.7 726.8h0M554.5 720.8h0M552.8 713.6h0M544.9 684.3h0M512.4 591.7h0M509.9 584.1h0M508.7 580.7h0M250.2 544.2h0M255.6 548.3h0M266.7 541.7h0M266.5 546.3h0M218 754.3h0M217.2 763.5h0M486.5 837.5h0M490.2 566.8h0M490.8 565.5h0M496.6 553.3h0M497.6 551.7h0M502.1 829.1h0M502.6 827.3h0M504 822h0M504.7 819.1h0M500.4 571.9h0M502.8 561.7h0M506.8 550h0M256 540.2h0M256.6 542.9h0M257.7 549.9h0M258 552.2h0M258.4 556.1h0M236 799.5h0M236.1 800.1h0M236.2 800.7h0M236.3 801.3h0M236.6 803.2h0"/>
<path stroke="#d4ff00" d="M199.7 628.8h0M217 616.8h0M409 849.3h0M409.4 851.3h0M410.5 855.8h0M412.3 862.1h0M415.6 871.9h0M196.9 644.9h0M199.5 642.3h0M213 630.7h0M223.3 623.6h0M228.4 620.7h0M420.8 844h0M421.1 845.5h0M422.8 853.1h0M423.8 857.5h0M336.4 861.7h0M338.9 851.9h0M340.2 845.9h0M540.5 625.5h0M544 627.8h0M552.6 634.3h0M557.3 638.3h0M526.6 604.3h0M527.1 604.5h0M538.2 608.8h0M548 613.7h0M354.7 865.8h0M357.5 856.6h0M356.9 873.5h0M523.3 600.2h0M524.4 600.4h0M529.2 601.8h0M547.1 609.1h0M558.3 615.5h0M388.1 849.6h0M391.7 862.5h0M392.1 863.5h0M394.7 870.6h0M394.8 871.1h0M379.4 867.7h0M381.8 860.9h0M383.1 856.5h0M308.4 854.7h0M550.9 665.4h0M559.9 677.5h0M568.3 691.1h0M201.2 731.1h0M209.1 713.1h0M212.5 706.6h0M477.2 826.7h0M478.4 832.8h0M298.7 824.5h0M549.2 683.5h0M553.8 691h0M561.3 705h0M562.4 707.3h0M568.9 722.8h0M231.4 581.5h0M367.7 856.9h0M367.9 857.4h0M198.8 713h0M202.5 704.8h0M205.7 698.6h0M215 682.8h0M218.9 677.1h0M466.2 833h0M199.1 717h0M199.8 715.2h0M207.8 698.5h0M219.2 679.7h0M362.4 848.6h0M364.4 855.8h0M365.3 858.8h0M368.9 868.6h0M221.1 581.1h0M224.8 580.5h0M226.9 580.2h0M393.2 873.3h0M393.6 872.4h0M394.3 871h0M398.9 858.8h0M505.6 580.4h0M509 582.2h0M226.4 568.2h0M205 603h0M397.1 872.7h0M401.7 863.4h0M404.5 856.6h0M405.2 854.6h0M406.6 850.7h0M407.5 847.6h0M211 761.1h0M211.5 759.3h0M211.8 758.1h0M214.6 747.2h0M215.3 744.8h0M219 733.4h0M493 813.3h0M493.9 819.9h0M496 835.5h0M232.4 786.4h0M517.1 782.2h0M518.9 790.6h0M519 791.1h0M519.4 792.8h0M216.8 761.6h0M217.9 756.7h0M219.3 751.3h0M499.1 813.2h0M500.3 822h0M216.1 770.7h0M219.5 755.6h0M224.5 738.3h0M500.2 811h0M501.2 818.8h0M502.2 827h0M242 801.2h0M243 795.5h0M243.9 790.4h0M527.2 774.7h0M530.4 790.9h0M224.7 761.8h0M228.3 748h0M504.1 790.5h0M506.4 806.1h0M508.2 819.5h0M534.2 764.4h0M253.8 792.1h0M320.3 847.7h0M571.6 695.1h0M568.9 687.1h0M564.9 676.6h0M551.8 646.6h0M550.9 644.7h0M542.7 627.9h0M540.3 623h0M539.3 621.1h0M258.1 557.4h0M255.7 547.9h0M253.9 551.7h0M247.8 564h0M247.5 564.5h0M245.8 567.9h0M226.9 604.6h0M226.3 605.8h0M226 606.4h0M222 614.2h0M214.2 630.1h0M205.2 649.4h0M199.4 662.8h0M194.6 675.1h0M431.2 865.7h0M432.7 862.1h0M437.6 847.5h0M504 564.9h0M504.4 564.7h0M451 844.7h0M498.4 575.5h0M252.1 549.6h0M250.9 553.4h0M248.2 561h0M241.5 579.5h0M240.8 581.2h0M230.3 608.1h0M226.5 617.6h0M226.1 618.9h0M219.5 635.9h0M205.7 675.6h0M201 691.8h0M197.3 706.9h0M197 708.2h0M250.7 554.6h0M254 557h0M300 825.5h0M302.4 836.2h0M303.3 839.5h0M303.9 841.7h0M304.8 844.4h0M312.7 864.5h0M565.5 732.9h0M564.4 726.2h0M564.1 724.9h0M563.9 723.6h0M563.2 720.2h0M560.5 707.7h0M558.8 701.1h0M556.7 693.3h0M551.9 677.1h0M541.7 647.9h0M536.4 633.6h0M534.5 628.7h0M260.7 554.2h0M266 559.9h0M293.9 832.1h0M294.5 834.9h0M297 844.5h0M299.1 851.2h0M299.3 851.7h0M557 719.7h0M556 715.1h0M555.5 713.1h0M540.7 664h0M292.9 840.5h0M555 723.5h0M553.8 717.5h0M553.6 716.9h0M551.2 707h0M545 685h0M255.2 548.1h0M259.6 552h0M259.9 552.3h0M266.8 540.2h0M265.8 553.6h0M265.3 557.3h0M265.3 557.9h0M220.1 737.9h0M219 745.7h0M217.5 759.5h0M217 767.4h0M216.8 772.1h0M490.1 820.4h0M490.8 815.6h0M492.2 562h0M508.2 798.6h0M257.9 551.3h0M258.1 553.2h0M259.1 569.5h0M234.4 783.8h0M235.5 795.7h0"/>
<path stroke="#aaff00" d="M197.8 630.3h0M200.7 628h0M204 625.4h0M226.3 612h0M232 609.4h0M234.6 608.4h0M408.6 847.8h0M413.2 865h0M210.2 632.9h0M215.9 628.6h0M224.8 622.7h0M227.4 621.2h0M420.6 843h0M423.7 857h0M337.7 856.8h0M338.4 853.9h0M340.4 844.8h0M541 625.9h0M533.4 606.8h0M540.8 610h0M360.2 845h0M362 858.9h0M362.7 856.4h0M363.4 853.5h0M363.8 852h0M528.7 601.6h0M236.9 594.4h0M242.7 593.4h0M389.4 854.7h0M389.8 856.2h0M390.4 858.2h0M390.8 859.6h0M396.8 875.6h0M380.9 863.3h0M383.4 855.5h0M384.6 850.9h0M385.3 848.4h0M309.4 850.3h0M554.7 670.3h0M560.2 678h0M560.6 678.5h0M561.3 679.6h0M214 704h0M476.8 824.6h0M477.4 827.7h0M297.8 830.9h0M542.7 674.3h0M554.1 691.5h0M559 700.4h0M365.8 850.3h0M367.1 854.9h0M368.8 860.4h0M202.8 704.2h0M207.5 695.2h0M212.7 686.5h0M213.7 684.9h0M468.6 847.9h0M197.6 720.6h0M203.7 706.4h0M204 705.9h0M211.8 691.3h0M214.1 687.5h0M218.9 680.2h0M221 677.2h0M467.3 825.7h0M468.4 833.7h0M363.6 853.2h0M364.1 854.7h0M365.6 859.8h0M367.4 864.7h0M228 580h0M240.5 579.2h0M242.1 579.3h0M243.6 579.3h0M401.2 851.2h0M505.1 580.5h0M403.7 858.6h0M406.4 851.2h0M408.6 844.1h0M492.5 809.4h0M493.2 814.4h0M493.4 816.1h0M493.5 816.6h0M493.6 817.2h0M232.2 787.5h0M234.6 776.7h0M236.1 770.5h0M237.4 765.3h0M516.4 778.8h0M517.6 784.4h0M518.5 788.3h0M521.2 802.2h0M219.7 750.1h0M219.8 749.5h0M222 742.3h0M223.3 738.1h0M499.6 816.5h0M215.3 774.4h0M221.1 749.6h0M222.8 743.6h0M226.2 733.5h0M500.6 814.4h0M524.2 762.5h0M528.3 779.9h0M221.8 775.6h0M224.8 761.2h0M227.6 750.4h0M529.9 747.7h0M532.5 757.2h0M533.2 760.2h0M536 772.8h0M537.7 781.7h0M252.3 801.9h0M253.9 791.5h0M254.9 785.7h0M318.5 839.4h0M318.9 841.7h0M319.7 845.5h0M319.9 846.1h0M320.4 848.3h0M322 854.3h0M323.7 859.6h0M560.6 666.3h0M553 649.1h0M544.6 631.6h0M543.7 629.7h0M539.6 621.8h0M526.5 596.5h0M253.1 553.4h0M242.6 574.2h0M238.2 582.8h0M237 585.1h0M233 592.7h0M202.1 656.4h0M432.1 863.7h0M435.8 853.3h0M438.8 842.6h0M494.1 571.3h0M498 568.6h0M448.2 852.1h0M451.5 843.1h0M453.5 836.7h0M238.8 586.4h0M236.3 592.7h0M230.8 606.9h0M224.9 621.9h0M223 626.7h0M218.5 638.4h0M214.9 648.4h0M204.3 680.1h0M257.1 559.5h0M300.4 827.2h0M301.1 830.6h0M304.6 843.9h0M305.3 846.1h0M563.5 721.6h0M559 701.8h0M556.5 692.6h0M553.9 683.5h0M548.7 667.5h0M539.9 642.9h0M538 638h0M530.7 619h0M261.7 555.2h0M265.1 558.9h0M292.2 822.9h0M301.5 857.7h0M556.4 717.1h0M555.8 714.5h0M546.3 680.6h0M545 676.7h0M511.2 584.2h0M554.3 720.2h0M552.4 711.6h0M549 698.6h0M543.7 680.4h0M261.2 553.6h0M263 555.6h0M267.4 560.9h0M267.7 561.3h0M265.7 554.7h0M222.9 722.2h0M222.4 724.8h0M219.4 742.5h0M488.3 829.9h0M490.7 816.2h0M491.7 807.8h0M507.1 806.5h0M507.7 802.3h0M509 790.7h0M509.5 783.9h0M499.9 574.8h0M500 574.4h0M258.4 555.6h0M259 566.5h0M234.1 759.7h0M233.9 771.1h0M234 774.3h0M234 774.9h0"/>
<path stroke="#80ff00" d="M206.5 623.6h0M208 622.6h0M227.8 611.2h0M236.2 607.8h0M239.4 606.7h0M409.7 852.3h0M410 853.8h0M410.1 854.3h0M209.2 633.7h0M214 630h0M222.3 624.3h0M227.9 621h0M421.5 847.6h0M539 624.6h0M528.2 604.8h0M358 854.6h0M359.3 849.1h0M362.3 857.9h0M364.8 847.9h0M545.5 608.3h0M245.9 593h0M387.6 847.6h0M387.8 848.1h0M388 849.1h0M310.9 841.7h0M217 698.7h0M475.4 817.3h0M479.4 837.3h0M296.8 837.8h0M298.4 826.7h0M543.8 675.8h0M547.8 681.4h0M242.8 580.9h0M244.9 581h0M366.5 852.8h0M208.4 693.6h0M212 687.6h0M219.7 676.1h0M465.1 824.9h0M468 844.4h0M212.7 689.7h0M467.7 828.4h0M362.6 849.6h0M363.5 852.7h0M223.7 580.7h0M229.6 579.8h0M250.2 579.8h0M401.7 849.1h0M401.9 848.6h0M216.4 741.1h0M224.2 719.9h0M492 805.4h0M492.1 806.6h0M492.9 812.2h0M493.1 813.8h0M493.7 818.3h0M495.1 829.2h0M234.4 777.3h0M235.2 773.9h0M236.2 769.9h0M236.4 769.3h0M238.4 761.9h0M515.8 776.5h0M516.2 778.2h0M225.3 732.2h0M220.4 752h0M222.1 746h0M222.7 744.2h0M226 734.1h0M499.6 806.5h0M243.4 793.2h0M526.1 770.1h0M526.4 771.2h0M528.5 781.1h0M225.3 759.4h0M227.3 751.6h0M503.9 789.4h0M504.2 791.1h0M504.9 795.8h0M530.4 749.4h0M535.1 768.6h0M252.7 799h0M320.7 849.4h0M558.7 661.8h0M544.9 632.2h0M533.7 610.2h0M533.1 609h0M265.6 561.6h0M266 561.9h0M253.4 552.8h0M244.4 570.8h0M235.2 588.6h0M230.3 598h0M229.4 599.8h0M225.4 607.6h0M219.6 619h0M217.2 623.9h0M210.6 637.5h0M434.4 857.5h0M451.2 844.2h0M451.9 842.1h0M453.7 836.1h0M455.5 829h0M244.4 571.6h0M242.7 576.1h0M240.1 582.9h0M237.7 589.3h0M227 616.4h0M225.3 620.7h0M220.6 632.9h0M218.3 639h0M214 650.9h0M211.7 657.2h0M204.9 678.2h0M256.8 559.2h0M303 838.4h0M303.8 841.1h0M306.2 848.8h0M542.4 649.8h0M530.9 619.6h0M525.5 605.8h0M525.3 605.2h0M524.6 603.4h0M268.6 563.1h0M292.5 824.6h0M294.9 836.7h0M544.8 676.1h0M542.9 670.3h0M541.4 665.9h0M289.1 822.1h0M289.2 823.3h0M289.6 825.6h0M550.6 704.4h0M263.7 556.3h0M266 559.1h0M267.1 560.5h0M271.1 566.2h0M289 821.5h0M264.8 561.1h0M263.7 568.1h0M263.5 569.2h0M223.2 720.9h0M219.2 743.8h0M218.3 751.7h0M488.9 826.9h0M491.2 812.6h0M508.8 793.1h0M259 565.4h0M259.1 572.1h0M234.1 758.4h0M234 762.9h0M233.9 765.4h0M234 773h0M234.2 779.4h0"/>
<path stroke="#55ff00" d="M408.3 846.3h0M408.9 848.8h0M226.9 621.5h0M233 618.2h0M420.3 841.4h0M420.7 843.5h0M421.8 848.6h0M529.9 619.4h0M534 621.6h0M535 607.4h0M358.1 854.1h0M364.1 850.9h0M364.3 849.9h0M364.9 847.4h0M535.5 604h0M233.7 595.1h0M240.1 593.8h0M243.2 593.3h0M387.9 848.6h0M311.5 838.1h0M541.4 654.8h0M542.2 655.7h0M556.2 672.3h0M213.4 705h0M475.2 816.3h0M475.6 818.4h0M543.1 674.8h0M544.6 676.8h0M548.8 683h0M244.4 580.9h0M250 581.3h0M364.7 845.6h0M370.4 864.8h0M210.4 690.3h0M465 824.4h0M466.5 835.1h0M206 701.9h0M363.9 854.2h0M257.6 581h0M400 855.3h0M407.7 847.1h0M221.4 726.9h0M239 759.7h0M517.9 785.5h0M220.2 748.3h0M220.5 747.1h0M221.8 742.9h0M224.9 733.4h0M225.1 732.8h0M497.9 804.2h0M219.8 754.4h0M498 795.7h0M498.1 796.3h0M247.2 774.3h0M526.2 770.7h0M504.7 794h0M505.1 796.9h0M505.3 798.1h0M254.7 786.8h0M318.4 838.9h0M318.8 841.1h0M533.4 609.6h0M260.7 558.7h0M270.7 565.1h0M438.3 844.8h0M455.3 830.1h0M236.1 593.3h0M233.8 599.2h0M228.4 612.8h0M217.8 640.3h0M212.6 654.6h0M258.8 561h0M259.8 561.9h0M299.8 824.3h0M301 830h0M301.5 832.3h0M554.3 684.8h0M547.4 663.7h0M546.7 661.8h0M544.5 655.5h0M537.1 635.5h0M536.6 634.3h0M533.5 626.3h0M527.6 611.1h0M527.2 609.9h0M268.1 562.4h0M292 821.7h0M552.6 702h0M544.4 674.8h0M551.9 709.7h0M543 678.5h0M542 675.3h0M541.8 674.7h0M264.2 557h0M266.9 560.2h0M269.6 563.9h0M288.2 816.2h0M288.6 819.1h0M266.2 550h0M264.5 563.2h0M223.7 718.3h0M222.6 723.5h0M221.1 732h0M491.9 805.3h0M507.7 802.9h0M509.6 783.3h0M234.4 752.1h0M234.3 752.7h0M234.3 753.3h0M234 772.4h0"/>
<path stroke="#2bff00" d="M242 605.9h0M420.5 842.5h0M340.6 843.8h0M341.1 840.7h0M528.9 618.9h0M389.7 855.7h0M384.9 849.9h0M475.3 816.8h0M297.7 832h0M298.2 828.3h0M251 581.4h0M251.5 581.4h0M211.1 692.4h0M217.5 682.3h0M467.1 824.6h0M467.7 828.9h0M361.7 846h0M247.2 579.5h0M253.2 580.2h0M399.9 855.8h0M404.8 855.6h0M408 846.1h0M236.8 767.6h0M238.2 762.5h0M238.7 760.8h0M518.8 790h0M225.1 736.5h0M246.4 777.8h0M524.4 763.1h0M525 765.4h0M531.9 754.8h0M542.4 627.3h0M537.8 618.1h0M267.2 562.7h0M268 563.2h0M269.2 564h0M439.1 841.5h0M455.8 827.9h0M220.2 634.1h0M219.2 636.6h0M260.5 562.6h0M264 566.1h0M264.9 567.1h0M267.3 569.9h0M267.6 570.3h0M268.4 571.4h0M553.5 682.2h0M537.5 636.7h0M532.1 622.6h0M267.5 561.7h0M268.9 563.5h0M291.8 820h0M547.7 685.1h0M544 673.5h0M553.2 714.9h0M546.6 690.1h0M542.4 676.6h0M264.3 564.3h0M262.6 574.2h0M508.8 793.7h0M509.6 782.1h0M259.1 571.1h0"/>
<path stroke="#00ff00" d="M364.5 848.9h0M241.1 593.6h0M243.8 593.2h0M244.3 593.2h0M385.9 845.8h0M312.6 831.2h0M466.8 821.9h0M217.2 738.8h0M237.1 766.5h0M227.4 730h0M498.2 796.8h0M498.9 802h0M246.9 775.5h0M523.9 761.4h0M270 564.6h0M272.6 566.6h0M533.1 625.1h0M528.6 613.5h0M269.8 564.6h0M264.7 562.2h0M258.9 581h0M258.9 581.5h0M233.9 767.3h0"/>
<path stroke="#00ff2a" d="M241 606.2h0M219.6 694.6h0M364.5 845.1h0M220.7 677.7h0M259.1 581.3h0M491.9 804.9h0M498.6 799.7h0M266.7 569.2h0M272.2 568.1h0M271.4 566.6h0"/>
<path stroke="#00ff55" d="M387.4 846.6h0M258.5 582.5h0M467 823.5h0"/>
<path stroke="#000" stroke-width="2.8000000000000003" d="M416.7 874.6l0.2 0.5M182.4 645.3l3-3.3M182.8 661.4l0.4-0.5M428.5 872.5h0M332.3 874.1l0.3-0.9M576.6 658.9l0.4 0.5M568.8 628.1l1.9 1.6M350.3 877.2l0.4-0.9M355.1 877.5l0.2-0.4M568.3 622.5h0M244 523.9l-1.6 1.5M239.9 527.9l-2 1.9M234.4 533.3l-4.1 4M228.8 538.8l-4.5 4.6M519.7 529.9l-3.3-3.5M509.9 519.5l-1.9-2M506.1 515.6l-0.4-0.5M186.4 618.7l1-0.8M397.4 877l0.2 0.4M268.1 506.3l-1.2 1.5M264 511.2l-3 3.5M251.5 525.7l-0.9 1M249.7 527.7l-1.3 1.5M244 534.4l-4.4 5.1M232.5 547.9l-1.4 1.6M216.9 566.8l-7.9 10.1M200.3 588.3l-1.3 1.7M191.8 599.9l-0.4 0.6M374.5 878.7l0.2-0.4M558.5 598.2h0M575.3 705l0.3 0.6M576.7 708l0.5 1.2M304.5 869.8l0.4-1.4M305.9 865.2l0.1-0.5M190.9 763.8l0.1-0.6M483.1 852.7h0M291.4 864.9l0.4-1.4M572.1 731.9l0.6 1.9M204.7 588.2l3.2-1.2M376.4 878.4h0M558.4 595.1l-1.2-1.7M520.1 542.7l-0.4-0.5M513.2 533.8l-1.1-1.6M506.6 525l-2-2.6M502.3 519.3l-2.3-3M497.8 513.3l-2.3-3.1M186.6 749.1l0.5-1.9M470.9 859.2h0M187.3 753.8l0.4-1.9M472.7 857.9l0.1 0.5M373.2 877.9l0.3 0.5M558.8 599l-0.8-1.2M507.6 527.7l-1.5-2.1M498.3 514.9l-0.7-1M490.9 504.3l-0.7-0.9M195.9 589.5l0.5-0.2M198.6 588.3l5.3-2.2M209.8 584.1l2.7-0.9M270.5 506.9l-2.1 3M184.3 633.3l-1 1.9M390.9 877.9l0.7-1.3M552.2 582.8l1.6 0.5M551.5 581l1.1 0.3M263.8 509.1l-1.8 3M256 521.9l-3.9 6.2M247.1 536l-3.1 4.8M189.2 631.7l-1 1.9M183.6 643.1l-1.5 3.2M394.3 877.6l0.8-1.3M205.4 792.1l0.2-1.2M497.1 843.3h0M226.3 820.6l0.2-1.6M228.2 808.7l0.1-0.6M229.4 802l0.1-0.5M524 818.5l0.2 1.1M210.2 799.5l0.3-2.4M502.4 838.1l0.1 1.1M211.3 800.7l0.2-1.8M503.6 837.7l0.1 0.5M237.4 831.7l0.3-1.6M238.9 821.6l0.1-0.6M532.9 806.2l0.1 0.6M533.2 807.9l0.2 1.1M216.8 808.8l0.2-1.2M218.7 794.1l0.1-0.6M509.8 832.6l0.1 0.5M540.5 800.1h0M247.5 840.4l0.2-1.6M249 828.1l0-0.5M328.8 872.6l0.5 1M577 712.5l-1-3.4M483.2 500.3l-0.2-1M222.3 549.2l1.6 0M233.7 550l3.5 0.5M272.7 507.5l-0.5 1.5M271.8 510l-0.5 1.5M187.5 695.6l-0.2 0.6M186.9 697.6l-0.2 0.6M183.1 711.1l-0.6 2.7M428 872.7l0.4-1M533.3 555.8l0.5 0M439.6 869.6l1.2-1.9M530.9 553.7l0.8-0.3M261.2 514.6l-0.8 4M190.6 760.7l0 2.7M497.5 513l-0.4-3.4M497.1 509.2l-0.2-1.5M225.5 543.7l0.4 0.1M229.6 544.8l7.5 2.5M316.8 872l0.6 1M567.6 751.1l-0.2-2.7M499 523l-0.6-3.5M498 516.5l-0.3-1.9M230.8 536.8l1.8 0.6M239.6 540l1.7 0.8M307.1 869.8l0.5 1M563 762.6l-0.2-3.4M494.1 510.3l-0.1-0.9M494 507l0-1.4M304.1 869.3l0.2 0.5M560.5 767.6l-0.1-2.7M232.1 535.1l0.9 0.3M239.5 538.1l1.7 0.8M243.2 539.9l2 1.1M250.9 544.7l0.4 0.3M266.2 521.3l0.2 1.9M219.5 810.9l0.4 2M481.1 854l0.8-2.3M521.1 527.4l1.1-0.7M497 843.5l0.9-2.3M521.4 526.7l0.3-0.3M252.7 528.7l0.6 1.6M246.6 839.7h0"/>
</g>
<circle cx="381.5" cy="685.5" r="212.2" fill="none" stroke="#000" stroke-width="4.600"/>
<text x="384" y="463.800" font-size="22" text-anchor="middle">Norte</text>
<text x="379.4" y="926" font-size="22" text-anchor="middle">Sur</text>
<text x="99.3" y="688" font-size="22">Oeste</text>
<text x="603.5" y="688" font-size="22">Este</text>
<text x="385" y="537.500" font-size="22">30</text>
<text x="385" y="607" font-size="22">60</text>
</svg></body></html>
